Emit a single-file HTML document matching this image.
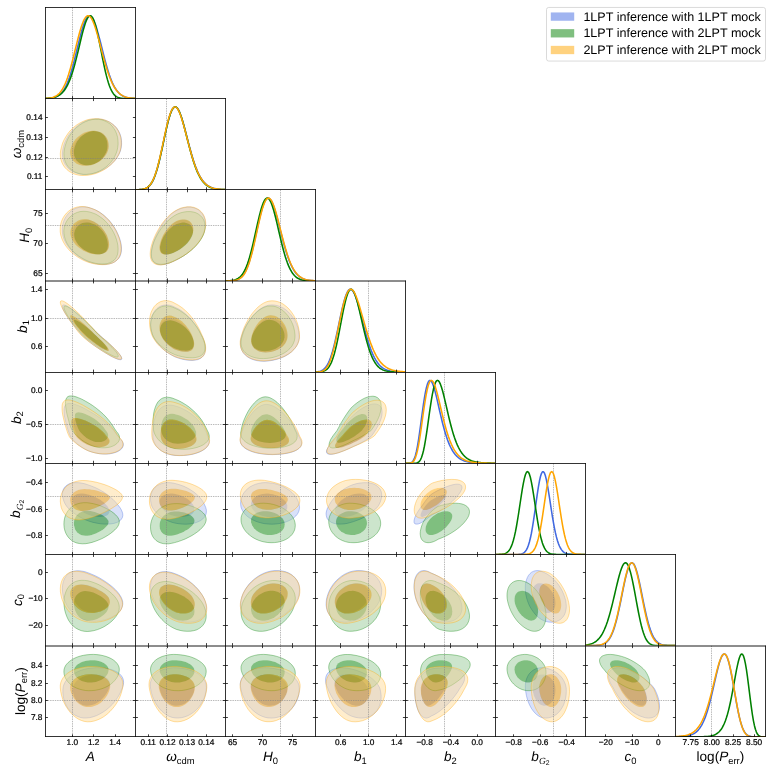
<!DOCTYPE html>
<html><head><meta charset="utf-8"><title>corner plot</title>
<style>html,body{margin:0;padding:0;background:#fff}body{width:773px;height:773px;overflow:hidden}svg{will-change:transform;transform:translateZ(0)}text{text-rendering:geometricPrecision}</style></head>
<body>
<svg width="773" height="773" viewBox="0 0 773 773" style="display:block;font-family:'Liberation Sans',sans-serif">
<rect width="773" height="773" fill="#fff"/>
<defs>
<clipPath id="c00"><rect x="45.40" y="7.40" width="90.00" height="91.17"/></clipPath>
<clipPath id="c10"><rect x="45.40" y="98.58" width="90.00" height="91.17"/></clipPath>
<clipPath id="c11"><rect x="135.40" y="98.58" width="90.00" height="91.17"/></clipPath>
<clipPath id="c20"><rect x="45.40" y="189.75" width="90.00" height="91.17"/></clipPath>
<clipPath id="c21"><rect x="135.40" y="189.75" width="90.00" height="91.17"/></clipPath>
<clipPath id="c22"><rect x="225.40" y="189.75" width="90.00" height="91.17"/></clipPath>
<clipPath id="c30"><rect x="45.40" y="280.92" width="90.00" height="91.17"/></clipPath>
<clipPath id="c31"><rect x="135.40" y="280.92" width="90.00" height="91.17"/></clipPath>
<clipPath id="c32"><rect x="225.40" y="280.92" width="90.00" height="91.17"/></clipPath>
<clipPath id="c33"><rect x="315.40" y="280.92" width="90.00" height="91.17"/></clipPath>
<clipPath id="c40"><rect x="45.40" y="372.10" width="90.00" height="91.17"/></clipPath>
<clipPath id="c41"><rect x="135.40" y="372.10" width="90.00" height="91.17"/></clipPath>
<clipPath id="c42"><rect x="225.40" y="372.10" width="90.00" height="91.17"/></clipPath>
<clipPath id="c43"><rect x="315.40" y="372.10" width="90.00" height="91.17"/></clipPath>
<clipPath id="c44"><rect x="405.40" y="372.10" width="90.00" height="91.17"/></clipPath>
<clipPath id="c50"><rect x="45.40" y="463.27" width="90.00" height="91.17"/></clipPath>
<clipPath id="c51"><rect x="135.40" y="463.27" width="90.00" height="91.17"/></clipPath>
<clipPath id="c52"><rect x="225.40" y="463.27" width="90.00" height="91.17"/></clipPath>
<clipPath id="c53"><rect x="315.40" y="463.27" width="90.00" height="91.17"/></clipPath>
<clipPath id="c54"><rect x="405.40" y="463.27" width="90.00" height="91.17"/></clipPath>
<clipPath id="c55"><rect x="495.40" y="463.27" width="90.00" height="91.17"/></clipPath>
<clipPath id="c60"><rect x="45.40" y="554.45" width="90.00" height="91.17"/></clipPath>
<clipPath id="c61"><rect x="135.40" y="554.45" width="90.00" height="91.17"/></clipPath>
<clipPath id="c62"><rect x="225.40" y="554.45" width="90.00" height="91.17"/></clipPath>
<clipPath id="c63"><rect x="315.40" y="554.45" width="90.00" height="91.17"/></clipPath>
<clipPath id="c64"><rect x="405.40" y="554.45" width="90.00" height="91.17"/></clipPath>
<clipPath id="c65"><rect x="495.40" y="554.45" width="90.00" height="91.17"/></clipPath>
<clipPath id="c66"><rect x="585.40" y="554.45" width="90.00" height="91.17"/></clipPath>
<clipPath id="c70"><rect x="45.40" y="645.62" width="90.00" height="91.17"/></clipPath>
<clipPath id="c71"><rect x="135.40" y="645.62" width="90.00" height="91.17"/></clipPath>
<clipPath id="c72"><rect x="225.40" y="645.62" width="90.00" height="91.17"/></clipPath>
<clipPath id="c73"><rect x="315.40" y="645.62" width="90.00" height="91.17"/></clipPath>
<clipPath id="c74"><rect x="405.40" y="645.62" width="90.00" height="91.17"/></clipPath>
<clipPath id="c75"><rect x="495.40" y="645.62" width="90.00" height="91.17"/></clipPath>
<clipPath id="c76"><rect x="585.40" y="645.62" width="90.00" height="91.17"/></clipPath>
<clipPath id="c77"><rect x="675.40" y="645.62" width="90.00" height="91.17"/></clipPath>
</defs>
<g clip-path="url(#c00)">
<line x1="72.50" x2="72.50" y1="7.40" y2="98.58" stroke="#808080" stroke-width="0.55" stroke-dasharray="1.45 0.9"/>
<path d="M45.40,98.49 46.40,98.46 47.40,98.41 48.40,98.36 49.40,98.28 50.40,98.19 51.40,98.06 52.40,97.90 53.40,97.70 54.40,97.44 55.40,97.12 56.40,96.72 57.40,96.24 58.40,95.65 59.40,94.94 60.40,94.10 61.40,93.09 62.40,91.92 63.40,90.55 64.40,88.98 65.40,87.18 66.40,85.14 67.40,82.86 68.40,80.32 69.40,77.53 70.40,74.48 71.40,71.19 72.40,67.68 73.40,63.97 74.40,60.08 75.40,56.06 76.40,51.95 77.40,47.79 78.40,43.66 79.40,39.59 80.40,35.66 81.40,31.93 82.40,28.46 83.40,25.30 84.40,22.52 85.40,20.16 86.40,18.27 87.40,16.88 88.40,16.02 89.40,15.69 90.40,15.91 91.40,16.66 92.40,17.93 93.40,19.70 94.40,21.91 95.40,24.55 96.40,27.54 97.40,30.85 98.40,34.40 99.40,38.15 100.40,42.04 101.40,46.00 102.40,49.99 103.40,53.95 104.40,57.83 105.40,61.61 106.40,65.23 107.40,68.69 108.40,71.94 109.40,74.98 110.40,77.80 111.40,80.39 112.40,82.75 113.40,84.88 114.40,86.80 115.40,88.51 116.40,90.01 117.40,91.34 118.40,92.49 119.40,93.49 120.40,94.35 121.40,95.08 122.40,95.71 123.40,96.23 124.40,96.67 125.40,97.03 126.40,97.34 127.40,97.59 128.40,97.79 129.40,97.95 130.40,98.09 131.40,98.19 132.40,98.28 133.40,98.34 134.40,98.40 135.40,98.44" fill="none" stroke="rgb(65,105,225)" stroke-width="1.55" stroke-linejoin="round"/>
<path d="M45.40,98.38 46.40,98.33 47.40,98.27 48.40,98.20 49.40,98.10 50.40,97.99 51.40,97.85 52.40,97.68 53.40,97.47 54.40,97.22 55.40,96.92 56.40,96.57 57.40,96.14 58.40,95.63 59.40,95.04 60.40,94.34 61.40,93.52 62.40,92.57 63.40,91.47 64.40,90.21 65.40,88.78 66.40,87.14 67.40,85.30 68.40,83.23 69.40,80.93 70.40,78.39 71.40,75.60 72.40,72.57 73.40,69.29 74.40,65.78 75.40,62.07 76.40,58.17 77.40,54.12 78.40,49.97 79.40,45.76 80.40,41.55 81.40,37.42 82.40,33.43 83.40,29.66 84.40,26.18 85.40,23.09 86.40,20.44 87.40,18.33 88.40,16.80 89.40,15.91 90.40,15.70 91.40,16.20 92.40,17.40 93.40,19.30 94.40,21.86 95.40,25.03 96.40,28.75 97.40,32.94 98.40,37.51 99.40,42.35 100.40,47.37 101.40,52.45 102.40,57.50 103.40,62.42 104.40,67.13 105.40,71.57 106.40,75.67 107.40,79.40 108.40,82.74 109.40,85.68 110.40,88.23 111.40,90.39 112.40,92.20 113.40,93.68 114.40,94.88 115.40,95.83 116.40,96.58 117.40,97.14 118.40,97.57 119.40,97.88 120.40,98.10 121.40,98.26 122.40,98.37 123.40,98.45 124.40,98.49 125.40,98.53 126.40,98.55 127.40,98.56 128.40,98.57 129.40,98.57 130.40,98.57 131.40,98.57 132.40,98.57 133.40,98.57 134.40,98.57 135.40,98.57" fill="none" stroke="rgb(0,128,0)" stroke-width="1.55" stroke-linejoin="round"/>
<path d="M45.40,98.42 46.40,98.37 47.40,98.30 48.40,98.20 49.40,98.08 50.40,97.92 51.40,97.73 52.40,97.47 53.40,97.16 54.40,96.77 55.40,96.30 56.40,95.72 57.40,95.03 58.40,94.20 59.40,93.22 60.40,92.07 61.40,90.73 62.40,89.19 63.40,87.43 64.40,85.44 65.40,83.21 66.40,80.73 67.40,78.01 68.40,75.04 69.40,71.83 70.40,68.41 71.40,64.78 72.40,60.99 73.40,57.06 74.40,53.04 75.40,48.97 76.40,44.90 77.40,40.89 78.40,36.99 79.40,33.27 80.40,29.77 81.40,26.56 82.40,23.69 83.40,21.20 84.40,19.14 85.40,17.54 86.40,16.43 87.40,15.81 88.40,15.71 89.40,16.12 90.40,17.02 91.40,18.40 92.40,20.22 93.40,22.46 94.40,25.07 95.40,28.01 96.40,31.22 97.40,34.65 98.40,38.26 99.40,41.99 100.40,45.78 101.40,49.59 102.40,53.38 103.40,57.11 104.40,60.73 105.40,64.23 106.40,67.57 107.40,70.74 108.40,73.71 109.40,76.48 110.40,79.05 111.40,81.40 112.40,83.55 113.40,85.50 114.40,87.26 115.40,88.82 116.40,90.21 117.40,91.44 118.40,92.52 119.40,93.46 120.40,94.28 121.40,94.98 122.40,95.58 123.40,96.09 124.40,96.53 125.40,96.89 126.40,97.20 127.40,97.46 128.40,97.67 129.40,97.85 130.40,97.99 131.40,98.11 132.40,98.20 133.40,98.28 134.40,98.34 135.40,98.39" fill="none" stroke="rgb(255,165,0)" stroke-width="1.55" stroke-linejoin="round"/>
</g>
<g clip-path="url(#c10)">
<path d="M114.6,125.8 116.8,128.2 118.6,131.0 120.0,134.0 121.0,137.2 121.5,140.6 121.6,144.1 121.2,147.7 120.4,151.0 119.1,154.0 117.4,157.0 115.4,159.9 112.9,162.6 110.2,165.1 107.1,167.3 103.8,169.3 100.3,171.0 96.7,172.4 93.0,173.4 89.4,174.1 86.0,174.4 82.7,174.4 79.5,173.9 76.5,173.1 73.6,172.0 71.0,170.5 68.7,168.7 66.8,166.6 65.1,164.3 63.8,161.7 63.0,158.9 62.5,156.0 62.4,153.0 62.8,150.0 63.5,146.5 64.6,142.9 66.2,139.5 68.0,136.1 70.2,133.0 72.7,130.0 75.5,127.4 78.5,125.0 81.6,123.0 84.9,121.4 88.2,120.2 91.8,119.4 95.5,119.1 99.2,119.1 102.7,119.6 106.0,120.6 109.2,121.9 112.0,123.7Z M104.3,135.1 105.5,136.6 106.6,138.2 107.4,140.0 107.9,141.9 108.2,144.0 108.3,146.1 108.1,148.2 107.6,150.2 106.9,152.2 105.9,154.1 104.7,156.0 103.3,157.7 101.8,159.3 100.0,160.8 98.1,162.0 96.1,163.1 94.1,164.0 91.9,164.7 89.8,165.1 87.6,165.3 85.5,165.3 83.4,165.0 81.5,164.5 79.7,163.8 78.0,162.8 76.6,161.6 75.3,160.3 74.2,158.8 73.4,157.1 72.9,155.4 72.6,153.5 72.5,151.6 72.7,149.6 73.2,147.5 73.9,145.4 74.9,143.3 76.1,141.3 77.5,139.4 79.1,137.6 80.9,136.1 82.8,134.7 84.8,133.5 86.9,132.5 89.1,131.8 91.2,131.3 93.4,131.1 95.5,131.2 97.5,131.5 99.4,132.0 101.2,132.8 102.8,133.9Z" fill="rgb(179,195,243)" fill-opacity="0.5" fill-rule="evenodd"/>
<path d="M104.3,135.1 105.5,136.6 106.6,138.2 107.4,140.0 107.9,141.9 108.2,144.0 108.3,146.1 108.1,148.2 107.6,150.2 106.9,152.2 105.9,154.1 104.7,156.0 103.3,157.7 101.8,159.3 100.0,160.8 98.1,162.0 96.1,163.1 94.1,164.0 91.9,164.7 89.8,165.1 87.6,165.3 85.5,165.3 83.4,165.0 81.5,164.5 79.7,163.8 78.0,162.8 76.6,161.6 75.3,160.3 74.2,158.8 73.4,157.1 72.9,155.4 72.6,153.5 72.5,151.6 72.7,149.6 73.2,147.5 73.9,145.4 74.9,143.3 76.1,141.3 77.5,139.4 79.1,137.6 80.9,136.1 82.8,134.7 84.8,133.5 86.9,132.5 89.1,131.8 91.2,131.3 93.4,131.1 95.5,131.2 97.5,131.5 99.4,132.0 101.2,132.8 102.8,133.9Z" fill="rgb(65,105,225)" fill-opacity="0.5"/>
<path d="M114.6,125.8 116.8,128.2 118.6,131.0 120.0,134.0 121.0,137.2 121.5,140.6 121.6,144.1 121.2,147.7 120.4,151.0 119.1,154.0 117.4,157.0 115.4,159.9 112.9,162.6 110.2,165.1 107.1,167.3 103.8,169.3 100.3,171.0 96.7,172.4 93.0,173.4 89.4,174.1 86.0,174.4 82.7,174.4 79.5,173.9 76.5,173.1 73.6,172.0 71.0,170.5 68.7,168.7 66.8,166.6 65.1,164.3 63.8,161.7 63.0,158.9 62.5,156.0 62.4,153.0 62.8,150.0 63.5,146.5 64.6,142.9 66.2,139.5 68.0,136.1 70.2,133.0 72.7,130.0 75.5,127.4 78.5,125.0 81.6,123.0 84.9,121.4 88.2,120.2 91.8,119.4 95.5,119.1 99.2,119.1 102.7,119.6 106.0,120.6 109.2,121.9 112.0,123.7Z" fill="none" stroke="rgb(65,105,225)" stroke-opacity="0.50" stroke-width="0.7"/>
<path d="M112.0,125.9 113.9,128.4 115.5,131.1 116.7,134.1 117.6,137.3 118.0,140.7 118.1,144.2 117.7,147.7 117.0,151.0 115.9,154.0 114.5,157.0 112.7,159.9 110.5,162.6 108.1,165.1 105.5,167.3 102.6,169.3 99.6,171.0 96.4,172.4 93.2,173.4 89.9,174.1 86.7,174.4 83.5,174.4 80.4,173.9 77.5,173.1 74.7,172.0 72.2,170.5 70.0,168.7 68.1,166.6 66.5,164.3 65.3,161.7 64.4,158.9 64.0,156.0 63.9,153.0 64.3,150.0 65.0,146.5 66.1,143.0 67.5,139.5 69.3,136.2 71.5,133.1 73.9,130.2 76.5,127.5 79.4,125.2 82.4,123.2 85.6,121.6 88.8,120.4 92.1,119.6 95.3,119.3 98.5,119.3 101.6,119.8 104.5,120.8 107.3,122.1 109.8,123.8Z M103.7,135.1 104.9,136.6 105.8,138.2 106.6,140.0 107.1,141.9 107.3,144.0 107.4,146.1 107.2,148.2 106.8,150.2 106.1,152.2 105.2,154.1 104.1,155.9 102.8,157.6 101.4,159.2 99.8,160.7 98.0,162.0 96.2,163.0 94.3,163.9 92.3,164.6 90.3,165.0 88.3,165.2 86.2,165.2 84.3,164.9 82.5,164.4 80.7,163.7 79.2,162.7 77.8,161.6 76.5,160.2 75.6,158.7 74.8,157.1 74.2,155.3 74.0,153.5 73.9,151.5 74.1,149.6 74.6,147.5 75.3,145.4 76.2,143.3 77.3,141.3 78.7,139.4 80.2,137.6 81.9,136.1 83.7,134.7 85.6,133.5 87.6,132.5 89.6,131.8 91.7,131.3 93.6,131.1 95.6,131.2 97.4,131.5 99.2,132.0 100.9,132.8 102.4,133.9Z" fill="rgb(153,204,153)" fill-opacity="0.5" fill-rule="evenodd"/>
<path d="M103.7,135.1 104.9,136.6 105.8,138.2 106.6,140.0 107.1,141.9 107.3,144.0 107.4,146.1 107.2,148.2 106.8,150.2 106.1,152.2 105.2,154.1 104.1,155.9 102.8,157.6 101.4,159.2 99.8,160.7 98.0,162.0 96.2,163.0 94.3,163.9 92.3,164.6 90.3,165.0 88.3,165.2 86.2,165.2 84.3,164.9 82.5,164.4 80.7,163.7 79.2,162.7 77.8,161.6 76.5,160.2 75.6,158.7 74.8,157.1 74.2,155.3 74.0,153.5 73.9,151.5 74.1,149.6 74.6,147.5 75.3,145.4 76.2,143.3 77.3,141.3 78.7,139.4 80.2,137.6 81.9,136.1 83.7,134.7 85.6,133.5 87.6,132.5 89.6,131.8 91.7,131.3 93.6,131.1 95.6,131.2 97.4,131.5 99.2,132.0 100.9,132.8 102.4,133.9Z" fill="rgb(0,128,0)" fill-opacity="0.5"/>
<path d="M112.0,125.9 113.9,128.4 115.5,131.1 116.7,134.1 117.6,137.3 118.0,140.7 118.1,144.2 117.7,147.7 117.0,151.0 115.9,154.0 114.5,157.0 112.7,159.9 110.5,162.6 108.1,165.1 105.5,167.3 102.6,169.3 99.6,171.0 96.4,172.4 93.2,173.4 89.9,174.1 86.7,174.4 83.5,174.4 80.4,173.9 77.5,173.1 74.7,172.0 72.2,170.5 70.0,168.7 68.1,166.6 66.5,164.3 65.3,161.7 64.4,158.9 64.0,156.0 63.9,153.0 64.3,150.0 65.0,146.5 66.1,143.0 67.5,139.5 69.3,136.2 71.5,133.1 73.9,130.2 76.5,127.5 79.4,125.2 82.4,123.2 85.6,121.6 88.8,120.4 92.1,119.6 95.3,119.3 98.5,119.3 101.6,119.8 104.5,120.8 107.3,122.1 109.8,123.8Z" fill="none" stroke="rgb(0,128,0)" stroke-opacity="0.50" stroke-width="0.7"/>
<path d="M114.1,125.5 116.4,128.0 118.2,130.8 119.7,133.9 120.7,137.2 121.2,140.6 121.3,144.2 120.9,147.9 120.0,151.3 118.8,154.4 117.0,157.5 114.9,160.5 112.4,163.3 109.6,165.8 106.5,168.2 103.1,170.3 99.6,172.0 95.9,173.5 92.1,174.5 88.3,175.2 84.8,175.5 81.4,175.5 78.1,175.0 74.9,174.2 72.0,173.0 69.3,171.5 66.9,169.6 64.8,167.4 63.1,165.0 61.8,162.3 60.9,159.5 60.4,156.5 60.3,153.4 60.7,150.2 61.5,146.7 62.6,143.0 64.2,139.5 66.2,136.1 68.4,132.8 71.0,129.8 73.9,127.1 77.0,124.7 80.3,122.7 83.7,121.1 87.1,119.8 90.8,119.0 94.6,118.7 98.3,118.7 102.0,119.2 105.4,120.2 108.6,121.6 111.5,123.4Z M104.4,134.9 105.7,136.4 106.8,138.1 107.7,140.0 108.3,141.9 108.6,144.0 108.7,146.2 108.5,148.4 107.9,150.5 107.2,152.5 106.1,154.4 104.8,156.3 103.3,158.1 101.6,159.7 99.8,161.2 97.7,162.5 95.6,163.6 93.3,164.5 91.0,165.2 88.7,165.6 86.4,165.8 84.1,165.8 81.9,165.5 79.9,165.0 77.9,164.2 76.1,163.3 74.6,162.1 73.2,160.7 72.1,159.2 71.2,157.5 70.6,155.7 70.3,153.8 70.2,151.8 70.4,149.8 71.0,147.7 71.7,145.5 72.8,143.3 74.1,141.3 75.6,139.3 77.3,137.5 79.2,135.9 81.2,134.5 83.4,133.2 85.6,132.3 87.9,131.5 90.3,131.0 92.6,130.8 94.8,130.8 97.0,131.2 99.1,131.7 101.0,132.6 102.8,133.6Z" fill="rgb(255,219,153)" fill-opacity="0.5" fill-rule="evenodd"/>
<path d="M104.4,134.9 105.7,136.4 106.8,138.1 107.7,140.0 108.3,141.9 108.6,144.0 108.7,146.2 108.5,148.4 107.9,150.5 107.2,152.5 106.1,154.4 104.8,156.3 103.3,158.1 101.6,159.7 99.8,161.2 97.7,162.5 95.6,163.6 93.3,164.5 91.0,165.2 88.7,165.6 86.4,165.8 84.1,165.8 81.9,165.5 79.9,165.0 77.9,164.2 76.1,163.3 74.6,162.1 73.2,160.7 72.1,159.2 71.2,157.5 70.6,155.7 70.3,153.8 70.2,151.8 70.4,149.8 71.0,147.7 71.7,145.5 72.8,143.3 74.1,141.3 75.6,139.3 77.3,137.5 79.2,135.9 81.2,134.5 83.4,133.2 85.6,132.3 87.9,131.5 90.3,131.0 92.6,130.8 94.8,130.8 97.0,131.2 99.1,131.7 101.0,132.6 102.8,133.6Z" fill="rgb(255,165,0)" fill-opacity="0.5"/>
<path d="M114.1,125.5 116.4,128.0 118.2,130.8 119.7,133.9 120.7,137.2 121.2,140.6 121.3,144.2 120.9,147.9 120.0,151.3 118.8,154.4 117.0,157.5 114.9,160.5 112.4,163.3 109.6,165.8 106.5,168.2 103.1,170.3 99.6,172.0 95.9,173.5 92.1,174.5 88.3,175.2 84.8,175.5 81.4,175.5 78.1,175.0 74.9,174.2 72.0,173.0 69.3,171.5 66.9,169.6 64.8,167.4 63.1,165.0 61.8,162.3 60.9,159.5 60.4,156.5 60.3,153.4 60.7,150.2 61.5,146.7 62.6,143.0 64.2,139.5 66.2,136.1 68.4,132.8 71.0,129.8 73.9,127.1 77.0,124.7 80.3,122.7 83.7,121.1 87.1,119.8 90.8,119.0 94.6,118.7 98.3,118.7 102.0,119.2 105.4,120.2 108.6,121.6 111.5,123.4Z" fill="none" stroke="rgb(255,165,0)" stroke-opacity="0.50" stroke-width="0.7"/>
<line x1="72.50" x2="72.50" y1="98.58" y2="189.75" stroke="#808080" stroke-width="0.55" stroke-dasharray="1.45 0.9"/>
<line x1="45.40" x2="135.40" y1="158.50" y2="158.50" stroke="#808080" stroke-width="0.55" stroke-dasharray="1.45 0.9"/>
</g>
<g clip-path="url(#c11)">
<line x1="166.50" x2="166.50" y1="98.58" y2="189.75" stroke="#808080" stroke-width="0.55" stroke-dasharray="1.45 0.9"/>
<path d="M135.40,189.73 136.40,189.72 137.40,189.71 138.40,189.68 139.40,189.64 140.40,189.58 141.40,189.49 142.40,189.36 143.40,189.18 144.40,188.93 145.40,188.59 146.40,188.15 147.40,187.57 148.40,186.83 149.40,185.89 150.40,184.73 151.40,183.32 152.40,181.62 153.40,179.61 154.40,177.27 155.40,174.59 156.40,171.55 157.40,168.17 158.40,164.46 159.40,160.45 160.40,156.17 161.40,151.69 162.40,147.05 163.40,142.33 164.40,137.60 165.40,132.96 166.40,128.47 167.40,124.23 168.40,120.32 169.40,116.80 170.40,113.75 171.40,111.21 172.40,109.23 173.40,107.84 174.40,107.06 175.40,106.88 176.40,107.29 177.40,108.27 178.40,109.79 179.40,111.80 180.40,114.25 181.40,117.09 182.40,120.25 183.40,123.67 184.40,127.29 185.40,131.05 186.40,134.89 187.40,138.76 188.40,142.60 189.40,146.39 190.40,150.07 191.40,153.62 192.40,157.01 193.40,160.22 194.40,163.24 195.40,166.06 196.40,168.67 197.40,171.07 198.40,173.27 199.40,175.27 200.40,177.08 201.40,178.71 202.40,180.16 203.40,181.45 204.40,182.60 205.40,183.61 206.40,184.49 207.40,185.27 208.40,185.94 209.40,186.52 210.40,187.02 211.40,187.45 212.40,187.82 213.40,188.14 214.40,188.40 215.40,188.63 216.40,188.82 217.40,188.98 218.40,189.12 219.40,189.23 220.40,189.32 221.40,189.40 222.40,189.46 223.40,189.52 224.40,189.56 225.40,189.60" fill="none" stroke="rgb(65,105,225)" stroke-width="1.55" stroke-linejoin="round"/>
<path d="M135.40,189.73 136.40,189.71 137.40,189.69 138.40,189.66 139.40,189.61 140.40,189.53 141.40,189.43 142.40,189.29 143.40,189.09 144.40,188.82 145.40,188.46 146.40,187.99 147.40,187.39 148.40,186.62 149.40,185.67 150.40,184.49 151.40,183.06 152.40,181.35 153.40,179.34 154.40,177.01 155.40,174.34 156.40,171.33 157.40,167.98 158.40,164.31 159.40,160.34 160.40,156.10 161.40,151.66 162.40,147.06 163.40,142.37 164.40,137.67 165.40,133.05 166.40,128.57 167.40,124.34 168.40,120.41 169.40,116.89 170.40,113.81 171.40,111.26 172.40,109.26 173.40,107.86 174.40,107.06 175.40,106.88 176.40,107.30 177.40,108.30 178.40,109.85 179.40,111.90 180.40,114.41 181.40,117.30 182.40,120.54 183.40,124.04 184.40,127.74 185.40,131.59 186.40,135.51 187.40,139.46 188.40,143.39 189.40,147.24 190.40,150.98 191.40,154.58 192.40,158.01 193.40,161.25 194.40,164.28 195.40,167.10 196.40,169.71 197.40,172.10 198.40,174.27 199.40,176.24 200.40,178.01 201.40,179.59 202.40,180.99 203.40,182.24 204.40,183.33 205.40,184.28 206.40,185.11 207.40,185.83 208.40,186.45 209.40,186.99 210.40,187.44 211.40,187.83 212.40,188.15 213.40,188.43 214.40,188.66 215.40,188.86 216.40,189.02 217.40,189.15 218.40,189.26 219.40,189.36 220.40,189.43 221.40,189.49 222.40,189.54 223.40,189.58 224.40,189.62 225.40,189.64" fill="none" stroke="rgb(0,128,0)" stroke-width="1.55" stroke-linejoin="round"/>
<path d="M135.40,189.73 136.40,189.72 137.40,189.70 138.40,189.67 139.40,189.63 140.40,189.56 141.40,189.46 142.40,189.33 143.40,189.13 144.40,188.87 145.40,188.51 146.40,188.04 147.40,187.43 148.40,186.66 149.40,185.68 150.40,184.47 151.40,183.00 152.40,181.24 153.40,179.17 154.40,176.76 155.40,174.01 156.40,170.90 157.40,167.46 158.40,163.68 159.40,159.61 160.40,155.29 161.40,150.77 162.40,146.11 163.40,141.38 164.40,136.66 165.40,132.04 166.40,127.60 167.40,123.42 168.40,119.58 169.40,116.15 170.40,113.20 171.40,110.77 172.40,108.91 173.40,107.64 174.40,106.97 175.40,106.91 176.40,107.44 177.40,108.53 178.40,110.16 179.40,112.26 180.40,114.79 181.40,117.70 182.40,120.91 183.40,124.38 184.40,128.03 185.40,131.81 186.40,135.66 187.40,139.53 188.40,143.37 189.40,147.13 190.40,150.79 191.40,154.31 192.40,157.66 193.40,160.84 194.40,163.82 195.40,166.59 196.40,169.16 197.40,171.53 198.40,173.69 199.40,175.65 200.40,177.42 201.40,179.01 202.40,180.43 203.40,181.69 204.40,182.81 205.40,183.80 206.40,184.66 207.40,185.41 208.40,186.06 209.40,186.63 210.40,187.12 211.40,187.53 212.40,187.89 213.40,188.19 214.40,188.45 215.40,188.67 216.40,188.86 217.40,189.01 218.40,189.14 219.40,189.25 220.40,189.34 221.40,189.41 222.40,189.48 223.40,189.53 224.40,189.57 225.40,189.60" fill="none" stroke="rgb(255,165,0)" stroke-width="1.55" stroke-linejoin="round"/>
</g>
<g clip-path="url(#c20)">
<path d="M109.2,220.5 111.9,223.8 114.3,227.3 116.4,230.9 118.1,234.6 119.5,238.2 120.6,241.7 121.2,245.0 121.5,248.2 121.4,251.2 120.8,253.9 119.9,256.4 118.6,258.5 116.8,260.3 114.7,261.8 112.3,263.0 109.4,263.8 106.3,264.3 102.9,264.4 99.2,264.2 95.4,263.6 91.4,262.7 87.8,261.5 84.5,260.0 81.1,258.1 77.9,256.1 74.8,253.7 72.0,251.1 69.4,248.3 67.2,245.3 65.4,242.2 63.9,239.0 62.9,235.6 62.4,232.1 62.3,228.6 62.7,225.2 63.5,221.9 64.7,218.9 66.4,216.0 68.4,213.5 70.7,211.3 73.3,209.5 76.2,208.2 79.2,207.3 82.3,206.9 85.5,207.0 88.8,207.6 92.2,208.7 96.0,210.2 99.6,212.2 103.0,214.6 106.2,217.4Z M101.5,227.6 103.1,229.5 104.5,231.5 105.7,233.6 106.8,235.8 107.6,237.9 108.2,240.1 108.6,242.2 108.7,244.2 108.7,246.0 108.3,247.7 107.8,249.3 107.0,250.6 106.0,251.8 104.8,252.7 103.3,253.4 101.6,253.9 99.8,254.2 97.8,254.3 95.6,254.1 93.4,253.8 91.0,253.2 88.8,252.5 86.7,251.5 84.6,250.4 82.6,249.1 80.7,247.6 78.9,246.0 77.3,244.2 75.9,242.4 74.7,240.4 73.8,238.4 73.2,236.4 72.9,234.3 72.8,232.3 73.0,230.3 73.6,228.4 74.3,226.6 75.4,225.0 76.6,223.5 78.1,222.2 79.7,221.2 81.5,220.4 83.4,219.9 85.4,219.7 87.4,219.7 89.4,220.1 91.5,220.7 93.7,221.6 95.8,222.8 97.9,224.2 99.7,225.8Z" fill="rgb(179,195,243)" fill-opacity="0.5" fill-rule="evenodd"/>
<path d="M101.5,227.6 103.1,229.5 104.5,231.5 105.7,233.6 106.8,235.8 107.6,237.9 108.2,240.1 108.6,242.2 108.7,244.2 108.7,246.0 108.3,247.7 107.8,249.3 107.0,250.6 106.0,251.8 104.8,252.7 103.3,253.4 101.6,253.9 99.8,254.2 97.8,254.3 95.6,254.1 93.4,253.8 91.0,253.2 88.8,252.5 86.7,251.5 84.6,250.4 82.6,249.1 80.7,247.6 78.9,246.0 77.3,244.2 75.9,242.4 74.7,240.4 73.8,238.4 73.2,236.4 72.9,234.3 72.8,232.3 73.0,230.3 73.6,228.4 74.3,226.6 75.4,225.0 76.6,223.5 78.1,222.2 79.7,221.2 81.5,220.4 83.4,219.9 85.4,219.7 87.4,219.7 89.4,220.1 91.5,220.7 93.7,221.6 95.8,222.8 97.9,224.2 99.7,225.8Z" fill="rgb(65,105,225)" fill-opacity="0.5"/>
<path d="M109.2,220.5 111.9,223.8 114.3,227.3 116.4,230.9 118.1,234.6 119.5,238.2 120.6,241.7 121.2,245.0 121.5,248.2 121.4,251.2 120.8,253.9 119.9,256.4 118.6,258.5 116.8,260.3 114.7,261.8 112.3,263.0 109.4,263.8 106.3,264.3 102.9,264.4 99.2,264.2 95.4,263.6 91.4,262.7 87.8,261.5 84.5,260.0 81.1,258.1 77.9,256.1 74.8,253.7 72.0,251.1 69.4,248.3 67.2,245.3 65.4,242.2 63.9,239.0 62.9,235.6 62.4,232.1 62.3,228.6 62.7,225.2 63.5,221.9 64.7,218.9 66.4,216.0 68.4,213.5 70.7,211.3 73.3,209.5 76.2,208.2 79.2,207.3 82.3,206.9 85.5,207.0 88.8,207.6 92.2,208.7 96.0,210.2 99.6,212.2 103.0,214.6 106.2,217.4Z" fill="none" stroke="rgb(65,105,225)" stroke-opacity="0.50" stroke-width="0.7"/>
<path d="M107.4,223.4 109.7,226.3 111.9,229.4 113.7,232.6 115.2,235.9 116.4,239.2 117.3,242.5 117.9,245.7 118.1,248.7 118.0,251.5 117.6,254.1 116.8,256.4 115.6,258.5 114.1,260.2 112.2,261.6 110.1,262.7 107.6,263.5 104.8,263.9 101.8,264.0 98.6,263.8 95.3,263.3 91.8,262.4 88.4,261.3 85.2,259.8 82.0,258.1 78.8,256.1 75.9,253.9 73.2,251.4 70.7,248.8 68.6,246.0 66.8,243.0 65.4,239.9 64.5,236.8 63.9,233.7 63.8,230.6 64.2,227.6 65.0,224.7 66.2,221.9 67.8,219.4 69.7,217.2 72.0,215.2 74.5,213.6 77.2,212.4 80.1,211.6 83.1,211.3 86.2,211.4 89.3,211.9 92.5,212.9 95.8,214.2 98.9,216.0 102.0,218.2 104.8,220.6Z M101.2,229.6 102.7,231.3 104.0,233.1 105.1,235.0 106.1,237.0 106.8,238.9 107.4,241.0 107.7,242.9 107.9,244.8 107.8,246.5 107.5,248.2 107.0,249.6 106.3,250.9 105.4,251.9 104.2,252.8 102.9,253.5 101.3,254.0 99.6,254.3 97.7,254.3 95.7,254.2 93.7,253.8 91.5,253.3 89.4,252.6 87.4,251.7 85.4,250.6 83.5,249.4 81.7,248.0 80.0,246.5 78.5,244.9 77.2,243.1 76.1,241.3 75.2,239.4 74.6,237.5 74.3,235.7 74.2,233.8 74.5,232.1 75.0,230.3 75.7,228.7 76.7,227.2 77.9,225.9 79.3,224.8 80.8,223.8 82.5,223.1 84.3,222.7 86.1,222.5 88.0,222.5 90.0,222.8 91.9,223.4 94.0,224.2 95.9,225.2 97.8,226.5 99.6,228.0Z" fill="rgb(153,204,153)" fill-opacity="0.5" fill-rule="evenodd"/>
<path d="M101.2,229.6 102.7,231.3 104.0,233.1 105.1,235.0 106.1,237.0 106.8,238.9 107.4,241.0 107.7,242.9 107.9,244.8 107.8,246.5 107.5,248.2 107.0,249.6 106.3,250.9 105.4,251.9 104.2,252.8 102.9,253.5 101.3,254.0 99.6,254.3 97.7,254.3 95.7,254.2 93.7,253.8 91.5,253.3 89.4,252.6 87.4,251.7 85.4,250.6 83.5,249.4 81.7,248.0 80.0,246.5 78.5,244.9 77.2,243.1 76.1,241.3 75.2,239.4 74.6,237.5 74.3,235.7 74.2,233.8 74.5,232.1 75.0,230.3 75.7,228.7 76.7,227.2 77.9,225.9 79.3,224.8 80.8,223.8 82.5,223.1 84.3,222.7 86.1,222.5 88.0,222.5 90.0,222.8 91.9,223.4 94.0,224.2 95.9,225.2 97.8,226.5 99.6,228.0Z" fill="rgb(0,128,0)" fill-opacity="0.5"/>
<path d="M107.4,223.4 109.7,226.3 111.9,229.4 113.7,232.6 115.2,235.9 116.4,239.2 117.3,242.5 117.9,245.7 118.1,248.7 118.0,251.5 117.6,254.1 116.8,256.4 115.6,258.5 114.1,260.2 112.2,261.6 110.1,262.7 107.6,263.5 104.8,263.9 101.8,264.0 98.6,263.8 95.3,263.3 91.8,262.4 88.4,261.3 85.2,259.8 82.0,258.1 78.8,256.1 75.9,253.9 73.2,251.4 70.7,248.8 68.6,246.0 66.8,243.0 65.4,239.9 64.5,236.8 63.9,233.7 63.8,230.6 64.2,227.6 65.0,224.7 66.2,221.9 67.8,219.4 69.7,217.2 72.0,215.2 74.5,213.6 77.2,212.4 80.1,211.6 83.1,211.3 86.2,211.4 89.3,211.9 92.5,212.9 95.8,214.2 98.9,216.0 102.0,218.2 104.8,220.6Z" fill="none" stroke="rgb(0,128,0)" stroke-opacity="0.50" stroke-width="0.7"/>
<path d="M108.6,220.1 111.4,223.5 113.8,227.0 116.0,230.7 117.7,234.4 119.2,238.0 120.2,241.6 120.9,245.0 121.2,248.2 121.0,251.2 120.5,254.0 119.5,256.5 118.2,258.7 116.4,260.6 114.3,262.1 111.7,263.3 108.8,264.1 105.6,264.6 102.1,264.7 98.4,264.4 94.5,263.9 90.4,262.9 86.7,261.7 83.2,260.2 79.7,258.3 76.4,256.2 73.2,253.8 70.2,251.2 67.6,248.3 65.3,245.3 63.4,242.1 61.9,238.8 60.8,235.4 60.2,231.8 60.2,228.3 60.5,224.9 61.4,221.6 62.7,218.5 64.4,215.7 66.5,213.1 68.9,210.9 71.6,209.1 74.6,207.8 77.7,206.9 81.0,206.5 84.3,206.6 87.7,207.2 91.3,208.3 95.1,209.8 98.8,211.8 102.3,214.3 105.6,217.1Z M101.3,227.2 103.0,229.2 104.5,231.3 105.9,233.4 107.0,235.6 107.8,237.8 108.5,240.0 108.9,242.1 109.1,244.1 109.0,246.0 108.7,247.8 108.1,249.3 107.2,250.7 106.1,251.9 104.8,252.8 103.2,253.6 101.5,254.1 99.5,254.4 97.3,254.5 95.0,254.3 92.6,254.0 90.1,253.4 87.7,252.6 85.4,251.6 83.2,250.5 81.0,249.1 78.9,247.6 77.0,246.0 75.3,244.2 73.8,242.3 72.5,240.3 71.6,238.2 70.9,236.1 70.5,234.1 70.5,232.0 70.7,230.0 71.3,228.1 72.1,226.3 73.2,224.6 74.6,223.1 76.2,221.9 77.9,220.8 79.8,220.0 81.9,219.5 84.0,219.2 86.1,219.3 88.3,219.6 90.6,220.3 93.0,221.2 95.2,222.4 97.4,223.8 99.4,225.4Z" fill="rgb(255,219,153)" fill-opacity="0.5" fill-rule="evenodd"/>
<path d="M101.3,227.2 103.0,229.2 104.5,231.3 105.9,233.4 107.0,235.6 107.8,237.8 108.5,240.0 108.9,242.1 109.1,244.1 109.0,246.0 108.7,247.8 108.1,249.3 107.2,250.7 106.1,251.9 104.8,252.8 103.2,253.6 101.5,254.1 99.5,254.4 97.3,254.5 95.0,254.3 92.6,254.0 90.1,253.4 87.7,252.6 85.4,251.6 83.2,250.5 81.0,249.1 78.9,247.6 77.0,246.0 75.3,244.2 73.8,242.3 72.5,240.3 71.6,238.2 70.9,236.1 70.5,234.1 70.5,232.0 70.7,230.0 71.3,228.1 72.1,226.3 73.2,224.6 74.6,223.1 76.2,221.9 77.9,220.8 79.8,220.0 81.9,219.5 84.0,219.2 86.1,219.3 88.3,219.6 90.6,220.3 93.0,221.2 95.2,222.4 97.4,223.8 99.4,225.4Z" fill="rgb(255,165,0)" fill-opacity="0.5"/>
<path d="M108.6,220.1 111.4,223.5 113.8,227.0 116.0,230.7 117.7,234.4 119.2,238.0 120.2,241.6 120.9,245.0 121.2,248.2 121.0,251.2 120.5,254.0 119.5,256.5 118.2,258.7 116.4,260.6 114.3,262.1 111.7,263.3 108.8,264.1 105.6,264.6 102.1,264.7 98.4,264.4 94.5,263.9 90.4,262.9 86.7,261.7 83.2,260.2 79.7,258.3 76.4,256.2 73.2,253.8 70.2,251.2 67.6,248.3 65.3,245.3 63.4,242.1 61.9,238.8 60.8,235.4 60.2,231.8 60.2,228.3 60.5,224.9 61.4,221.6 62.7,218.5 64.4,215.7 66.5,213.1 68.9,210.9 71.6,209.1 74.6,207.8 77.7,206.9 81.0,206.5 84.3,206.6 87.7,207.2 91.3,208.3 95.1,209.8 98.8,211.8 102.3,214.3 105.6,217.1Z" fill="none" stroke="rgb(255,165,0)" stroke-opacity="0.50" stroke-width="0.7"/>
<line x1="72.50" x2="72.50" y1="189.75" y2="280.93" stroke="#808080" stroke-width="0.55" stroke-dasharray="1.45 0.9"/>
<line x1="45.40" x2="135.40" y1="225.50" y2="225.50" stroke="#808080" stroke-width="0.55" stroke-dasharray="1.45 0.9"/>
</g>
<g clip-path="url(#c21)">
<path d="M200.7,211.9 202.5,214.0 203.8,216.5 204.8,219.3 205.3,222.4 205.3,225.6 204.8,228.9 203.9,232.3 202.5,235.8 200.6,239.1 198.4,242.3 195.8,245.4 192.9,248.4 189.8,251.2 186.4,253.8 182.9,256.2 179.3,258.3 175.7,260.2 172.5,261.7 169.5,263.0 166.5,263.9 163.8,264.4 161.2,264.7 158.9,264.5 156.9,264.0 155.2,263.2 153.7,261.9 152.6,260.3 151.8,258.4 151.4,256.1 151.3,253.6 151.5,250.8 152.0,247.7 152.8,244.4 153.9,241.0 155.3,237.5 157.0,233.8 158.9,230.1 161.0,226.5 163.4,223.1 165.9,219.8 168.5,216.9 171.3,214.2 174.2,211.9 177.4,210.1 180.7,208.6 184.1,207.7 187.3,207.2 190.5,207.2 193.4,207.7 196.1,208.7 198.6,210.0Z M190.3,222.5 191.4,223.8 192.2,225.3 192.7,226.9 193.0,228.7 193.0,230.5 192.7,232.5 192.2,234.5 191.4,236.5 190.3,238.5 189.0,240.5 187.5,242.4 185.8,244.3 183.9,246.1 182.0,247.7 179.9,249.2 177.8,250.5 175.7,251.6 173.7,252.6 171.7,253.4 169.8,254.0 168.0,254.3 166.4,254.5 164.9,254.4 163.6,254.1 162.5,253.5 161.6,252.7 160.9,251.8 160.4,250.5 160.1,249.1 160.0,247.5 160.1,245.8 160.5,243.8 161.0,241.8 161.7,239.7 162.6,237.5 163.7,235.3 164.9,233.2 166.3,231.1 167.8,229.1 169.4,227.2 171.1,225.5 172.9,223.9 174.7,222.6 176.7,221.5 178.6,220.7 180.6,220.1 182.5,219.8 184.3,219.8 186.1,220.1 187.7,220.7 189.1,221.5Z" fill="rgb(179,195,243)" fill-opacity="0.5" fill-rule="evenodd"/>
<path d="M190.3,222.5 191.4,223.8 192.2,225.3 192.7,226.9 193.0,228.7 193.0,230.5 192.7,232.5 192.2,234.5 191.4,236.5 190.3,238.5 189.0,240.5 187.5,242.4 185.8,244.3 183.9,246.1 182.0,247.7 179.9,249.2 177.8,250.5 175.7,251.6 173.7,252.6 171.7,253.4 169.8,254.0 168.0,254.3 166.4,254.5 164.9,254.4 163.6,254.1 162.5,253.5 161.6,252.7 160.9,251.8 160.4,250.5 160.1,249.1 160.0,247.5 160.1,245.8 160.5,243.8 161.0,241.8 161.7,239.7 162.6,237.5 163.7,235.3 164.9,233.2 166.3,231.1 167.8,229.1 169.4,227.2 171.1,225.5 172.9,223.9 174.7,222.6 176.7,221.5 178.6,220.7 180.6,220.1 182.5,219.8 184.3,219.8 186.1,220.1 187.7,220.7 189.1,221.5Z" fill="rgb(65,105,225)" fill-opacity="0.5"/>
<path d="M200.7,211.9 202.5,214.0 203.8,216.5 204.8,219.3 205.3,222.4 205.3,225.6 204.8,228.9 203.9,232.3 202.5,235.8 200.6,239.1 198.4,242.3 195.8,245.4 192.9,248.4 189.8,251.2 186.4,253.8 182.9,256.2 179.3,258.3 175.7,260.2 172.5,261.7 169.5,263.0 166.5,263.9 163.8,264.4 161.2,264.7 158.9,264.5 156.9,264.0 155.2,263.2 153.7,261.9 152.6,260.3 151.8,258.4 151.4,256.1 151.3,253.6 151.5,250.8 152.0,247.7 152.8,244.4 153.9,241.0 155.3,237.5 157.0,233.8 158.9,230.1 161.0,226.5 163.4,223.1 165.9,219.8 168.5,216.9 171.3,214.2 174.2,211.9 177.4,210.1 180.7,208.6 184.1,207.7 187.3,207.2 190.5,207.2 193.4,207.7 196.1,208.7 198.6,210.0Z" fill="none" stroke="rgb(65,105,225)" stroke-opacity="0.50" stroke-width="0.7"/>
<path d="M200.5,215.7 202.3,217.6 203.7,219.9 204.6,222.4 205.1,225.0 205.1,227.9 204.6,230.9 203.7,233.9 202.3,237.0 200.5,240.0 198.3,243.1 195.7,246.0 192.8,248.9 189.7,251.5 186.3,254.0 182.8,256.3 179.2,258.3 175.7,260.0 172.5,261.5 169.5,262.7 166.5,263.5 163.8,264.1 161.2,264.3 158.9,264.2 156.9,263.7 155.2,262.9 153.7,261.7 152.6,260.2 151.8,258.4 151.4,256.2 151.3,253.8 151.5,251.1 152.0,248.2 152.8,245.1 153.9,241.8 155.3,238.5 157.0,235.2 158.9,231.9 161.0,228.7 163.4,225.7 165.9,222.8 168.5,220.1 171.3,217.8 174.2,215.8 177.3,214.1 180.7,212.8 184.0,212.0 187.2,211.6 190.3,211.6 193.3,212.0 196.0,212.8 198.4,214.1Z M190.3,225.1 191.4,226.2 192.2,227.5 192.7,229.0 193.0,230.6 193.0,232.2 192.7,234.0 192.2,235.8 191.4,237.6 190.3,239.5 189.0,241.3 187.5,243.2 185.8,244.9 183.9,246.6 182.0,248.1 179.9,249.5 177.8,250.7 175.7,251.8 173.7,252.7 171.7,253.5 169.8,254.0 168.1,254.4 166.5,254.5 165.0,254.4 163.7,254.1 162.6,253.6 161.7,252.9 161.0,251.9 160.5,250.8 160.2,249.5 160.1,248.0 160.2,246.3 160.6,244.5 161.1,242.6 161.8,240.6 162.7,238.5 163.7,236.6 165.0,234.6 166.3,232.7 167.8,230.9 169.4,229.2 171.1,227.7 172.9,226.3 174.8,225.1 176.7,224.1 178.6,223.4 180.6,222.9 182.5,222.6 184.3,222.6 186.1,222.9 187.7,223.4 189.1,224.1Z" fill="rgb(153,204,153)" fill-opacity="0.5" fill-rule="evenodd"/>
<path d="M190.3,225.1 191.4,226.2 192.2,227.5 192.7,229.0 193.0,230.6 193.0,232.2 192.7,234.0 192.2,235.8 191.4,237.6 190.3,239.5 189.0,241.3 187.5,243.2 185.8,244.9 183.9,246.6 182.0,248.1 179.9,249.5 177.8,250.7 175.7,251.8 173.7,252.7 171.7,253.5 169.8,254.0 168.1,254.4 166.5,254.5 165.0,254.4 163.7,254.1 162.6,253.6 161.7,252.9 161.0,251.9 160.5,250.8 160.2,249.5 160.1,248.0 160.2,246.3 160.6,244.5 161.1,242.6 161.8,240.6 162.7,238.5 163.7,236.6 165.0,234.6 166.3,232.7 167.8,230.9 169.4,229.2 171.1,227.7 172.9,226.3 174.8,225.1 176.7,224.1 178.6,223.4 180.6,222.9 182.5,222.6 184.3,222.6 186.1,222.9 187.7,223.4 189.1,224.1Z" fill="rgb(0,128,0)" fill-opacity="0.5"/>
<path d="M200.5,215.7 202.3,217.6 203.7,219.9 204.6,222.4 205.1,225.0 205.1,227.9 204.6,230.9 203.7,233.9 202.3,237.0 200.5,240.0 198.3,243.1 195.7,246.0 192.8,248.9 189.7,251.5 186.3,254.0 182.8,256.3 179.2,258.3 175.7,260.0 172.5,261.5 169.5,262.7 166.5,263.5 163.8,264.1 161.2,264.3 158.9,264.2 156.9,263.7 155.2,262.9 153.7,261.7 152.6,260.2 151.8,258.4 151.4,256.2 151.3,253.8 151.5,251.1 152.0,248.2 152.8,245.1 153.9,241.8 155.3,238.5 157.0,235.2 158.9,231.9 161.0,228.7 163.4,225.7 165.9,222.8 168.5,220.1 171.3,217.8 174.2,215.8 177.3,214.1 180.7,212.8 184.0,212.0 187.2,211.6 190.3,211.6 193.3,212.0 196.0,212.8 198.4,214.1Z" fill="none" stroke="rgb(0,128,0)" stroke-opacity="0.50" stroke-width="0.7"/>
<path d="M201.0,211.5 202.8,213.7 204.2,216.2 205.2,219.0 205.7,222.1 205.7,225.3 205.2,228.6 204.3,232.1 202.8,235.6 201.0,238.9 198.7,242.2 196.1,245.4 193.1,248.4 189.9,251.3 186.4,253.9 182.8,256.3 179.1,258.5 175.5,260.4 172.2,261.9 169.0,263.2 166.0,264.1 163.1,264.7 160.5,265.0 158.1,264.8 156.0,264.3 154.2,263.4 152.7,262.2 151.6,260.6 150.8,258.6 150.3,256.3 150.2,253.7 150.4,250.8 150.9,247.7 151.8,244.3 152.9,240.9 154.4,237.3 156.1,233.6 158.1,229.9 160.3,226.2 162.7,222.8 165.3,219.5 168.1,216.5 171.0,213.8 174.0,211.6 177.2,209.7 180.6,208.2 184.0,207.3 187.4,206.8 190.6,206.8 193.6,207.3 196.4,208.3 198.9,209.7Z M190.6,222.2 191.6,223.4 192.5,224.9 193.0,226.6 193.3,228.4 193.3,230.2 193.0,232.2 192.5,234.2 191.6,236.3 190.5,238.3 189.2,240.4 187.6,242.4 185.9,244.3 184.0,246.0 181.9,247.7 179.8,249.2 177.7,250.6 175.5,251.8 173.4,252.8 171.4,253.5 169.5,254.1 167.7,254.5 166.0,254.6 164.5,254.6 163.2,254.2 162.0,253.7 161.1,252.9 160.4,251.9 159.9,250.6 159.6,249.2 159.5,247.6 159.6,245.8 160.0,243.8 160.5,241.7 161.2,239.5 162.2,237.3 163.2,235.1 164.5,232.9 165.9,230.8 167.4,228.8 169.1,226.9 170.8,225.1 172.6,223.5 174.5,222.2 176.5,221.1 178.5,220.3 180.5,219.7 182.5,219.4 184.4,219.4 186.2,219.7 187.8,220.3 189.3,221.1Z" fill="rgb(255,219,153)" fill-opacity="0.5" fill-rule="evenodd"/>
<path d="M190.6,222.2 191.6,223.4 192.5,224.9 193.0,226.6 193.3,228.4 193.3,230.2 193.0,232.2 192.5,234.2 191.6,236.3 190.5,238.3 189.2,240.4 187.6,242.4 185.9,244.3 184.0,246.0 181.9,247.7 179.8,249.2 177.7,250.6 175.5,251.8 173.4,252.8 171.4,253.5 169.5,254.1 167.7,254.5 166.0,254.6 164.5,254.6 163.2,254.2 162.0,253.7 161.1,252.9 160.4,251.9 159.9,250.6 159.6,249.2 159.5,247.6 159.6,245.8 160.0,243.8 160.5,241.7 161.2,239.5 162.2,237.3 163.2,235.1 164.5,232.9 165.9,230.8 167.4,228.8 169.1,226.9 170.8,225.1 172.6,223.5 174.5,222.2 176.5,221.1 178.5,220.3 180.5,219.7 182.5,219.4 184.4,219.4 186.2,219.7 187.8,220.3 189.3,221.1Z" fill="rgb(255,165,0)" fill-opacity="0.5"/>
<path d="M201.0,211.5 202.8,213.7 204.2,216.2 205.2,219.0 205.7,222.1 205.7,225.3 205.2,228.6 204.3,232.1 202.8,235.6 201.0,238.9 198.7,242.2 196.1,245.4 193.1,248.4 189.9,251.3 186.4,253.9 182.8,256.3 179.1,258.5 175.5,260.4 172.2,261.9 169.0,263.2 166.0,264.1 163.1,264.7 160.5,265.0 158.1,264.8 156.0,264.3 154.2,263.4 152.7,262.2 151.6,260.6 150.8,258.6 150.3,256.3 150.2,253.7 150.4,250.8 150.9,247.7 151.8,244.3 152.9,240.9 154.4,237.3 156.1,233.6 158.1,229.9 160.3,226.2 162.7,222.8 165.3,219.5 168.1,216.5 171.0,213.8 174.0,211.6 177.2,209.7 180.6,208.2 184.0,207.3 187.4,206.8 190.6,206.8 193.6,207.3 196.4,208.3 198.9,209.7Z" fill="none" stroke="rgb(255,165,0)" stroke-opacity="0.50" stroke-width="0.7"/>
<line x1="166.50" x2="166.50" y1="189.75" y2="280.93" stroke="#808080" stroke-width="0.55" stroke-dasharray="1.45 0.9"/>
<line x1="135.40" x2="225.40" y1="225.50" y2="225.50" stroke="#808080" stroke-width="0.55" stroke-dasharray="1.45 0.9"/>
</g>
<g clip-path="url(#c22)">
<line x1="280.50" x2="280.50" y1="189.75" y2="280.93" stroke="#808080" stroke-width="0.55" stroke-dasharray="1.45 0.9"/>
<path d="M225.40,280.91 226.40,280.91 227.40,280.90 228.40,280.88 229.40,280.85 230.40,280.82 231.40,280.77 232.40,280.69 233.40,280.59 234.40,280.45 235.40,280.26 236.40,280.00 237.40,279.67 238.40,279.24 239.40,278.69 240.40,277.99 241.40,277.13 242.40,276.07 243.40,274.79 244.40,273.26 245.40,271.46 246.40,269.37 247.40,266.97 248.40,264.24 249.40,261.20 250.40,257.84 251.40,254.18 252.40,250.24 253.40,246.07 254.40,241.70 255.40,237.20 256.40,232.62 257.40,228.04 258.40,223.54 259.40,219.18 260.40,215.06 261.40,211.25 262.40,207.82 263.40,204.83 264.40,202.33 265.40,200.38 266.40,199.01 267.40,198.23 268.40,198.05 269.40,198.46 270.40,199.45 271.40,200.98 272.40,203.01 273.40,205.50 274.40,208.38 275.40,211.60 276.40,215.10 277.40,218.80 278.40,222.66 279.40,226.60 280.40,230.57 281.40,234.52 282.40,238.40 283.40,242.18 284.40,245.81 285.40,249.28 286.40,252.55 287.40,255.62 288.40,258.47 289.40,261.10 290.40,263.51 291.40,265.70 292.40,267.68 293.40,269.45 294.40,271.04 295.40,272.44 296.40,273.68 297.40,274.76 298.40,275.70 299.40,276.52 300.40,277.23 301.40,277.83 302.40,278.35 303.40,278.79 304.40,279.16 305.40,279.47 306.40,279.73 307.40,279.95 308.40,280.13 309.40,280.28 310.40,280.41 311.40,280.51 312.40,280.59 313.40,280.66 314.40,280.71 315.40,280.76" fill="none" stroke="rgb(65,105,225)" stroke-width="1.55" stroke-linejoin="round"/>
<path d="M225.40,280.87 226.40,280.85 227.40,280.82 228.40,280.78 229.40,280.72 230.40,280.64 231.40,280.53 232.40,280.39 233.40,280.21 234.40,279.97 235.40,279.67 236.40,279.28 237.40,278.80 238.40,278.20 239.40,277.46 240.40,276.56 241.40,275.48 242.40,274.19 243.40,272.67 244.40,270.91 245.40,268.87 246.40,266.54 247.40,263.92 248.40,260.99 249.40,257.76 250.40,254.24 251.40,250.44 252.40,246.41 253.40,242.16 254.40,237.76 255.40,233.27 256.40,228.74 257.40,224.25 258.40,219.89 259.40,215.72 260.40,211.83 261.40,208.30 262.40,205.20 263.40,202.59 264.40,200.54 265.40,199.08 266.40,198.24 267.40,198.05 268.40,198.50 269.40,199.57 270.40,201.25 271.40,203.48 272.40,206.22 273.40,209.40 274.40,212.96 275.40,216.81 276.40,220.90 277.40,225.14 278.40,229.45 279.40,233.78 280.40,238.05 281.40,242.21 282.40,246.22 283.40,250.04 284.40,253.63 285.40,256.97 286.40,260.04 287.40,262.85 288.40,265.39 289.40,267.66 290.40,269.68 291.40,271.45 292.40,273.00 293.40,274.34 294.40,275.49 295.40,276.47 296.40,277.30 297.40,277.99 298.40,278.56 299.40,279.04 300.40,279.43 301.40,279.74 302.40,280.00 303.40,280.20 304.40,280.37 305.40,280.50 306.40,280.60 307.40,280.68 308.40,280.74 309.40,280.78 310.40,280.82 311.40,280.85 312.40,280.87 313.40,280.88 314.40,280.89 315.40,280.90" fill="none" stroke="rgb(0,128,0)" stroke-width="1.55" stroke-linejoin="round"/>
<path d="M225.40,280.91 226.40,280.91 227.40,280.90 228.40,280.88 229.40,280.86 230.40,280.83 231.40,280.78 232.40,280.72 233.40,280.62 234.40,280.50 235.40,280.32 236.40,280.09 237.40,279.78 238.40,279.38 239.40,278.87 240.40,278.22 241.40,277.41 242.40,276.41 243.40,275.20 244.40,273.75 245.40,272.03 246.40,270.03 247.40,267.72 248.40,265.09 249.40,262.15 250.40,258.88 251.40,255.31 252.40,251.45 253.40,247.34 254.40,243.03 255.40,238.56 256.40,233.99 257.40,229.41 258.40,224.87 259.40,220.47 260.40,216.27 261.40,212.36 262.40,208.80 263.40,205.67 264.40,203.03 265.40,200.91 266.40,199.36 267.40,198.40 268.40,198.04 269.40,198.28 270.40,199.10 271.40,200.47 272.40,202.35 273.40,204.71 274.40,207.48 275.40,210.61 276.40,214.02 277.40,217.67 278.40,221.49 279.40,225.41 280.40,229.38 281.40,233.34 282.40,237.25 283.40,241.06 284.40,244.74 285.40,248.26 286.40,251.59 287.40,254.72 288.40,257.64 289.40,260.33 290.40,262.81 291.40,265.06 292.40,267.10 293.40,268.94 294.40,270.58 295.40,272.04 296.40,273.32 297.40,274.45 298.40,275.43 299.40,276.29 300.40,277.03 301.40,277.66 302.40,278.20 303.40,278.67 304.40,279.06 305.40,279.38 306.40,279.66 307.40,279.89 308.40,280.08 309.40,280.24 310.40,280.37 311.40,280.48 312.40,280.57 313.40,280.64 314.40,280.70 315.40,280.74" fill="none" stroke="rgb(255,165,0)" stroke-width="1.55" stroke-linejoin="round"/>
</g>
<g clip-path="url(#c30)">
<path d="M95.2,330.9 98.9,334.6 102.5,337.7 105.9,340.6 109.0,343.4 111.9,346.1 114.5,348.7 116.8,351.0 118.6,353.2 120.1,355.0 121.1,356.6 121.7,357.9 121.8,358.9 121.4,359.5 120.7,359.7 119.4,359.6 117.8,359.2 115.7,358.4 113.3,357.3 110.5,355.9 107.5,354.1 104.2,352.1 100.7,349.9 97.1,347.4 93.3,344.8 89.7,342.0 86.3,339.2 83.0,336.2 79.8,332.7 76.7,329.1 73.9,325.5 71.2,322.1 68.9,318.9 66.9,315.9 65.2,313.2 63.9,310.9 63.0,308.9 62.5,307.3 62.4,306.1 62.7,305.3 63.4,304.9 64.5,305.1 66.0,305.6 67.9,306.6 70.0,308.0 72.5,309.8 75.2,312.0 78.2,314.6 81.3,317.4 84.6,320.5 87.9,323.8 91.4,327.3Z M93.2,332.9 95.3,335.0 97.4,336.9 99.3,338.8 101.2,340.6 102.8,342.3 104.3,343.9 105.6,345.4 106.7,346.7 107.5,347.9 108.1,348.9 108.4,349.8 108.5,350.4 108.3,350.8 107.8,350.9 107.1,350.9 106.2,350.6 105.0,350.1 103.6,349.4 102.0,348.5 100.3,347.4 98.4,346.1 96.4,344.6 94.3,343.1 92.1,341.4 90.0,339.7 87.8,337.8 85.7,336.0 83.6,333.9 81.7,331.8 79.8,329.7 78.2,327.8 76.7,325.9 75.4,324.2 74.3,322.6 73.5,321.2 72.9,320.1 72.6,319.1 72.5,318.4 72.7,318.0 73.2,317.8 73.9,317.9 74.8,318.2 76.0,318.8 77.4,319.6 79.0,320.6 80.7,321.9 82.6,323.4 84.6,325.0 86.7,326.8 88.9,328.8 91.0,330.8Z" fill="rgb(179,195,243)" fill-opacity="0.5" fill-rule="evenodd"/>
<path d="M93.2,332.9 95.3,335.0 97.4,336.9 99.3,338.8 101.2,340.6 102.8,342.3 104.3,343.9 105.6,345.4 106.7,346.7 107.5,347.9 108.1,348.9 108.4,349.8 108.5,350.4 108.3,350.8 107.8,350.9 107.1,350.9 106.2,350.6 105.0,350.1 103.6,349.4 102.0,348.5 100.3,347.4 98.4,346.1 96.4,344.6 94.3,343.1 92.1,341.4 90.0,339.7 87.8,337.8 85.7,336.0 83.6,333.9 81.7,331.8 79.8,329.7 78.2,327.8 76.7,325.9 75.4,324.2 74.3,322.6 73.5,321.2 72.9,320.1 72.6,319.1 72.5,318.4 72.7,318.0 73.2,317.8 73.9,317.9 74.8,318.2 76.0,318.8 77.4,319.6 79.0,320.6 80.7,321.9 82.6,323.4 84.6,325.0 86.7,326.8 88.9,328.8 91.0,330.8Z" fill="rgb(65,105,225)" fill-opacity="0.5"/>
<path d="M95.2,330.9 98.9,334.6 102.5,337.7 105.9,340.6 109.0,343.4 111.9,346.1 114.5,348.7 116.8,351.0 118.6,353.2 120.1,355.0 121.1,356.6 121.7,357.9 121.8,358.9 121.4,359.5 120.7,359.7 119.4,359.6 117.8,359.2 115.7,358.4 113.3,357.3 110.5,355.9 107.5,354.1 104.2,352.1 100.7,349.9 97.1,347.4 93.3,344.8 89.7,342.0 86.3,339.2 83.0,336.2 79.8,332.7 76.7,329.1 73.9,325.5 71.2,322.1 68.9,318.9 66.9,315.9 65.2,313.2 63.9,310.9 63.0,308.9 62.5,307.3 62.4,306.1 62.7,305.3 63.4,304.9 64.5,305.1 66.0,305.6 67.9,306.6 70.0,308.0 72.5,309.8 75.2,312.0 78.2,314.6 81.3,317.4 84.6,320.5 87.9,323.8 91.4,327.3Z" fill="none" stroke="rgb(65,105,225)" stroke-opacity="0.50" stroke-width="0.7"/>
<path d="M95.1,331.1 98.3,334.6 101.4,337.5 104.4,340.1 107.2,342.6 109.7,345.0 112.0,347.3 113.9,349.4 115.5,351.2 116.8,352.9 117.7,354.3 118.2,355.5 118.3,356.3 118.0,356.9 117.3,357.1 116.2,357.0 114.8,356.6 113.0,355.9 110.9,354.9 108.5,353.6 105.8,352.1 103.0,350.3 99.9,348.3 96.7,346.1 93.5,343.8 90.2,341.3 86.9,338.8 83.7,336.2 80.6,332.8 77.7,329.3 74.9,325.9 72.4,322.6 70.2,319.5 68.2,316.6 66.6,314.0 65.4,311.7 64.5,309.8 64.0,308.2 63.9,307.0 64.2,306.3 64.9,306.0 66.0,306.1 67.4,306.6 69.2,307.6 71.3,308.9 73.6,310.7 76.3,312.8 79.1,315.3 82.1,318.0 85.3,321.0 88.5,324.2 91.8,327.6Z M93.5,333.2 95.5,335.1 97.3,336.8 99.1,338.5 100.8,340.2 102.4,341.7 103.7,343.2 104.9,344.6 105.9,345.9 106.7,347.0 107.2,347.9 107.5,348.6 107.6,349.2 107.4,349.6 107.0,349.7 106.3,349.7 105.5,349.4 104.4,348.9 103.1,348.3 101.6,347.4 100.0,346.4 98.3,345.2 96.4,343.9 94.5,342.5 92.5,341.0 90.5,339.3 88.4,337.7 86.4,336.0 84.5,334.1 82.6,332.2 80.9,330.4 79.3,328.6 77.9,327.0 76.6,325.5 75.6,324.1 74.8,322.9 74.3,321.8 74.0,321.0 73.9,320.4 74.1,320.0 74.5,319.8 75.2,319.9 76.1,320.2 77.2,320.7 78.5,321.4 80.0,322.3 81.7,323.5 83.5,324.8 85.4,326.2 87.4,327.8 89.4,329.5 91.5,331.3Z" fill="rgb(153,204,153)" fill-opacity="0.5" fill-rule="evenodd"/>
<path d="M93.5,333.2 95.5,335.1 97.3,336.8 99.1,338.5 100.8,340.2 102.4,341.7 103.7,343.2 104.9,344.6 105.9,345.9 106.7,347.0 107.2,347.9 107.5,348.6 107.6,349.2 107.4,349.6 107.0,349.7 106.3,349.7 105.5,349.4 104.4,348.9 103.1,348.3 101.6,347.4 100.0,346.4 98.3,345.2 96.4,343.9 94.5,342.5 92.5,341.0 90.5,339.3 88.4,337.7 86.4,336.0 84.5,334.1 82.6,332.2 80.9,330.4 79.3,328.6 77.9,327.0 76.6,325.5 75.6,324.1 74.8,322.9 74.3,321.8 74.0,321.0 73.9,320.4 74.1,320.0 74.5,319.8 75.2,319.9 76.1,320.2 77.2,320.7 78.5,321.4 80.0,322.3 81.7,323.5 83.5,324.8 85.4,326.2 87.4,327.8 89.4,329.5 91.5,331.3Z" fill="rgb(0,128,0)" fill-opacity="0.5"/>
<path d="M95.1,331.1 98.3,334.6 101.4,337.5 104.4,340.1 107.2,342.6 109.7,345.0 112.0,347.3 113.9,349.4 115.5,351.2 116.8,352.9 117.7,354.3 118.2,355.5 118.3,356.3 118.0,356.9 117.3,357.1 116.2,357.0 114.8,356.6 113.0,355.9 110.9,354.9 108.5,353.6 105.8,352.1 103.0,350.3 99.9,348.3 96.7,346.1 93.5,343.8 90.2,341.3 86.9,338.8 83.7,336.2 80.6,332.8 77.7,329.3 74.9,325.9 72.4,322.6 70.2,319.5 68.2,316.6 66.6,314.0 65.4,311.7 64.5,309.8 64.0,308.2 63.9,307.0 64.2,306.3 64.9,306.0 66.0,306.1 67.4,306.6 69.2,307.6 71.3,308.9 73.6,310.7 76.3,312.8 79.1,315.3 82.1,318.0 85.3,321.0 88.5,324.2 91.8,327.6Z" fill="none" stroke="rgb(0,128,0)" stroke-opacity="0.50" stroke-width="0.7"/>
<path d="M94.3,329.9 98.1,334.0 101.7,337.2 105.2,340.1 108.5,343.0 111.4,345.7 114.1,348.2 116.4,350.6 118.3,352.7 119.7,354.6 120.8,356.2 121.4,357.5 121.5,358.4 121.1,359.1 120.3,359.3 119.1,359.2 117.4,358.8 115.3,358.0 112.8,356.9 110.0,355.4 106.9,353.7 103.5,351.7 100.0,349.4 96.2,347.0 92.4,344.3 88.6,341.5 85.1,338.7 81.7,335.7 78.3,331.9 75.2,327.8 72.2,323.8 69.5,320.0 67.1,316.4 65.0,313.1 63.3,310.1 61.9,307.4 61.0,305.2 60.4,303.4 60.3,302.0 60.6,301.2 61.4,300.8 62.5,300.9 64.1,301.5 66.0,302.7 68.2,304.2 70.8,306.3 73.6,308.7 76.7,311.6 80.0,314.7 83.4,318.2 86.8,321.9 90.5,325.8Z M92.4,332.1 94.7,334.4 96.9,336.5 99.0,338.4 101.0,340.2 102.8,342.0 104.4,343.7 105.8,345.2 106.9,346.6 107.8,347.8 108.5,348.9 108.8,349.7 108.9,350.3 108.7,350.7 108.2,350.9 107.4,350.9 106.4,350.6 105.1,350.1 103.6,349.3 101.9,348.4 100.0,347.2 98.0,345.9 95.8,344.4 93.6,342.8 91.3,341.1 88.9,339.3 86.6,337.4 84.3,335.5 82.1,333.2 80.0,330.9 78.1,328.6 76.3,326.4 74.7,324.3 73.3,322.4 72.2,320.6 71.3,319.1 70.6,317.8 70.3,316.8 70.2,316.0 70.4,315.5 70.9,315.3 71.7,315.3 72.7,315.7 73.9,316.4 75.4,317.3 77.1,318.4 79.0,319.9 81.0,321.5 83.2,323.3 85.4,325.3 87.7,327.5 90.1,329.7Z" fill="rgb(255,219,153)" fill-opacity="0.5" fill-rule="evenodd"/>
<path d="M92.4,332.1 94.7,334.4 96.9,336.5 99.0,338.4 101.0,340.2 102.8,342.0 104.4,343.7 105.8,345.2 106.9,346.6 107.8,347.8 108.5,348.9 108.8,349.7 108.9,350.3 108.7,350.7 108.2,350.9 107.4,350.9 106.4,350.6 105.1,350.1 103.6,349.3 101.9,348.4 100.0,347.2 98.0,345.9 95.8,344.4 93.6,342.8 91.3,341.1 88.9,339.3 86.6,337.4 84.3,335.5 82.1,333.2 80.0,330.9 78.1,328.6 76.3,326.4 74.7,324.3 73.3,322.4 72.2,320.6 71.3,319.1 70.6,317.8 70.3,316.8 70.2,316.0 70.4,315.5 70.9,315.3 71.7,315.3 72.7,315.7 73.9,316.4 75.4,317.3 77.1,318.4 79.0,319.9 81.0,321.5 83.2,323.3 85.4,325.3 87.7,327.5 90.1,329.7Z" fill="rgb(255,165,0)" fill-opacity="0.5"/>
<path d="M94.3,329.9 98.1,334.0 101.7,337.2 105.2,340.1 108.5,343.0 111.4,345.7 114.1,348.2 116.4,350.6 118.3,352.7 119.7,354.6 120.8,356.2 121.4,357.5 121.5,358.4 121.1,359.1 120.3,359.3 119.1,359.2 117.4,358.8 115.3,358.0 112.8,356.9 110.0,355.4 106.9,353.7 103.5,351.7 100.0,349.4 96.2,347.0 92.4,344.3 88.6,341.5 85.1,338.7 81.7,335.7 78.3,331.9 75.2,327.8 72.2,323.8 69.5,320.0 67.1,316.4 65.0,313.1 63.3,310.1 61.9,307.4 61.0,305.2 60.4,303.4 60.3,302.0 60.6,301.2 61.4,300.8 62.5,300.9 64.1,301.5 66.0,302.7 68.2,304.2 70.8,306.3 73.6,308.7 76.7,311.6 80.0,314.7 83.4,318.2 86.8,321.9 90.5,325.8Z" fill="none" stroke="rgb(255,165,0)" stroke-opacity="0.50" stroke-width="0.7"/>
<line x1="72.50" x2="72.50" y1="280.92" y2="372.10" stroke="#808080" stroke-width="0.55" stroke-dasharray="1.45 0.9"/>
<line x1="45.40" x2="135.40" y1="318.50" y2="318.50" stroke="#808080" stroke-width="0.55" stroke-dasharray="1.45 0.9"/>
</g>
<g clip-path="url(#c31)">
<path d="M191.8,320.0 194.5,323.4 197.0,327.0 199.2,330.7 201.1,334.5 202.7,337.8 203.9,341.0 204.7,344.0 205.2,346.8 205.3,349.5 205.0,351.9 204.4,354.0 203.3,355.9 201.8,357.4 200.0,358.7 197.8,359.6 195.2,360.1 192.4,360.4 189.2,360.3 185.8,359.9 182.2,359.2 178.4,358.1 174.8,356.8 171.8,355.2 168.8,353.4 165.8,351.3 163.0,349.0 160.4,346.5 158.0,343.9 155.9,341.0 154.1,338.1 152.7,335.1 151.6,331.6 150.9,328.1 150.6,324.7 150.8,321.4 151.3,318.3 152.2,315.3 153.5,312.7 155.1,310.3 157.0,308.4 159.2,306.8 161.6,305.7 164.1,305.1 166.8,304.9 169.6,305.2 172.5,306.1 175.3,307.4 178.8,309.1 182.3,311.3 185.6,313.9 188.8,316.8Z M185.6,326.8 187.2,328.7 188.8,330.7 190.1,332.8 191.3,334.9 192.2,337.0 193.0,339.1 193.5,341.1 193.8,343.0 193.8,344.7 193.7,346.3 193.3,347.7 192.6,348.9 191.7,349.9 190.6,350.7 189.2,351.3 187.7,351.7 185.9,351.9 184.0,351.8 181.9,351.5 179.7,351.1 177.4,350.4 175.1,349.5 173.2,348.5 171.3,347.3 169.5,345.9 167.7,344.4 166.1,342.8 164.6,341.0 163.3,339.2 162.1,337.2 161.2,335.3 160.6,333.3 160.1,331.3 160.0,329.4 160.0,327.5 160.4,325.8 160.9,324.1 161.7,322.6 162.8,321.3 164.0,320.2 165.3,319.3 166.8,318.7 168.4,318.3 170.1,318.2 171.9,318.4 173.7,318.9 175.5,319.6 177.6,320.6 179.7,321.8 181.8,323.3 183.7,325.0Z" fill="rgb(179,195,243)" fill-opacity="0.5" fill-rule="evenodd"/>
<path d="M185.6,326.8 187.2,328.7 188.8,330.7 190.1,332.8 191.3,334.9 192.2,337.0 193.0,339.1 193.5,341.1 193.8,343.0 193.8,344.7 193.7,346.3 193.3,347.7 192.6,348.9 191.7,349.9 190.6,350.7 189.2,351.3 187.7,351.7 185.9,351.9 184.0,351.8 181.9,351.5 179.7,351.1 177.4,350.4 175.1,349.5 173.2,348.5 171.3,347.3 169.5,345.9 167.7,344.4 166.1,342.8 164.6,341.0 163.3,339.2 162.1,337.2 161.2,335.3 160.6,333.3 160.1,331.3 160.0,329.4 160.0,327.5 160.4,325.8 160.9,324.1 161.7,322.6 162.8,321.3 164.0,320.2 165.3,319.3 166.8,318.7 168.4,318.3 170.1,318.2 171.9,318.4 173.7,318.9 175.5,319.6 177.6,320.6 179.7,321.8 181.8,323.3 183.7,325.0Z" fill="rgb(65,105,225)" fill-opacity="0.5"/>
<path d="M191.8,320.0 194.5,323.4 197.0,327.0 199.2,330.7 201.1,334.5 202.7,337.8 203.9,341.0 204.7,344.0 205.2,346.8 205.3,349.5 205.0,351.9 204.4,354.0 203.3,355.9 201.8,357.4 200.0,358.7 197.8,359.6 195.2,360.1 192.4,360.4 189.2,360.3 185.8,359.9 182.2,359.2 178.4,358.1 174.8,356.8 171.8,355.2 168.8,353.4 165.8,351.3 163.0,349.0 160.4,346.5 158.0,343.9 155.9,341.0 154.1,338.1 152.7,335.1 151.6,331.6 150.9,328.1 150.6,324.7 150.8,321.4 151.3,318.3 152.2,315.3 153.5,312.7 155.1,310.3 157.0,308.4 159.2,306.8 161.6,305.7 164.1,305.1 166.8,304.9 169.6,305.2 172.5,306.1 175.3,307.4 178.8,309.1 182.3,311.3 185.6,313.9 188.8,316.8Z" fill="none" stroke="rgb(65,105,225)" stroke-opacity="0.50" stroke-width="0.7"/>
<path d="M191.7,320.5 194.4,323.9 196.9,327.3 199.1,330.9 200.9,334.5 202.5,337.6 203.7,340.4 204.6,343.1 205.0,345.7 205.1,348.1 204.9,350.2 204.2,352.1 203.1,353.8 201.7,355.2 199.8,356.3 197.6,357.1 195.1,357.6 192.2,357.8 189.1,357.7 185.7,357.4 182.1,356.7 178.4,355.8 174.8,354.6 171.8,353.2 168.8,351.6 165.8,349.7 163.0,347.6 160.4,345.4 158.0,343.0 155.9,340.5 154.1,337.9 152.7,335.1 151.6,331.7 150.9,328.4 150.6,325.1 150.8,321.9 151.3,318.8 152.2,316.0 153.5,313.5 155.1,311.2 157.0,309.3 159.2,307.8 161.6,306.7 164.1,306.1 166.8,305.9 169.6,306.3 172.5,307.1 175.3,308.3 178.8,310.0 182.2,312.2 185.6,314.6 188.7,317.5Z M185.6,327.8 187.2,329.5 188.8,331.3 190.1,333.1 191.3,335.0 192.2,336.9 193.0,338.8 193.5,340.7 193.8,342.4 193.8,344.0 193.7,345.5 193.3,346.8 192.6,348.0 191.7,348.9 190.6,349.6 189.2,350.2 187.7,350.5 185.9,350.7 184.0,350.6 181.9,350.4 179.7,349.9 177.4,349.3 175.2,348.5 173.2,347.6 171.4,346.4 169.5,345.2 167.8,343.8 166.1,342.2 164.7,340.6 163.3,338.9 162.2,337.1 161.3,335.3 160.7,333.6 160.2,331.8 160.1,330.2 160.1,328.5 160.5,326.9 161.0,325.5 161.8,324.2 162.8,323.0 164.0,322.0 165.4,321.3 166.9,320.7 168.5,320.4 170.2,320.3 171.9,320.5 173.7,320.9 175.5,321.5 177.6,322.4 179.7,323.5 181.8,324.8 183.7,326.2Z" fill="rgb(153,204,153)" fill-opacity="0.5" fill-rule="evenodd"/>
<path d="M185.6,327.8 187.2,329.5 188.8,331.3 190.1,333.1 191.3,335.0 192.2,336.9 193.0,338.8 193.5,340.7 193.8,342.4 193.8,344.0 193.7,345.5 193.3,346.8 192.6,348.0 191.7,348.9 190.6,349.6 189.2,350.2 187.7,350.5 185.9,350.7 184.0,350.6 181.9,350.4 179.7,349.9 177.4,349.3 175.2,348.5 173.2,347.6 171.4,346.4 169.5,345.2 167.8,343.8 166.1,342.2 164.7,340.6 163.3,338.9 162.2,337.1 161.3,335.3 160.7,333.6 160.2,331.8 160.1,330.2 160.1,328.5 160.5,326.9 161.0,325.5 161.8,324.2 162.8,323.0 164.0,322.0 165.4,321.3 166.9,320.7 168.5,320.4 170.2,320.3 171.9,320.5 173.7,320.9 175.5,321.5 177.6,322.4 179.7,323.5 181.8,324.8 183.7,326.2Z" fill="rgb(0,128,0)" fill-opacity="0.5"/>
<path d="M191.7,320.5 194.4,323.9 196.9,327.3 199.1,330.9 200.9,334.5 202.5,337.6 203.7,340.4 204.6,343.1 205.0,345.7 205.1,348.1 204.9,350.2 204.2,352.1 203.1,353.8 201.7,355.2 199.8,356.3 197.6,357.1 195.1,357.6 192.2,357.8 189.1,357.7 185.7,357.4 182.1,356.7 178.4,355.8 174.8,354.6 171.8,353.2 168.8,351.6 165.8,349.7 163.0,347.6 160.4,345.4 158.0,343.0 155.9,340.5 154.1,337.9 152.7,335.1 151.6,331.7 150.9,328.4 150.6,325.1 150.8,321.9 151.3,318.8 152.2,316.0 153.5,313.5 155.1,311.2 157.0,309.3 159.2,307.8 161.6,306.7 164.1,306.1 166.8,305.9 169.6,306.3 172.5,307.1 175.3,308.3 178.8,310.0 182.2,312.2 185.6,314.6 188.7,317.5Z" fill="none" stroke="rgb(0,128,0)" stroke-opacity="0.50" stroke-width="0.7"/>
<path d="M191.9,317.6 194.7,321.4 197.2,325.5 199.5,329.6 201.4,333.8 203.0,337.3 204.2,340.5 205.1,343.5 205.6,346.4 205.7,349.0 205.4,351.5 204.7,353.6 203.6,355.5 202.2,357.0 200.3,358.2 198.0,359.1 195.4,359.7 192.5,360.0 189.3,359.9 185.8,359.5 182.1,358.7 178.3,357.7 174.6,356.4 171.4,354.8 168.3,353.0 165.2,350.9 162.3,348.6 159.6,346.1 157.1,343.4 155.0,340.6 153.1,337.6 151.6,334.5 150.5,330.6 149.8,326.7 149.5,322.9 149.6,319.1 150.2,315.6 151.1,312.3 152.5,309.3 154.1,306.7 156.1,304.5 158.4,302.8 160.8,301.5 163.5,300.8 166.3,300.6 169.2,301.0 172.2,301.9 175.1,303.4 178.7,305.4 182.2,307.8 185.6,310.7 188.9,314.0Z M185.6,325.2 187.3,327.4 188.9,329.6 190.3,332.0 191.5,334.3 192.5,336.6 193.2,338.7 193.8,340.7 194.1,342.7 194.1,344.5 194.0,346.1 193.5,347.6 192.9,348.8 191.9,349.9 190.8,350.7 189.4,351.3 187.8,351.7 186.0,351.8 184.0,351.8 181.8,351.5 179.6,351.0 177.2,350.3 174.9,349.4 173.0,348.4 171.0,347.1 169.2,345.7 167.4,344.2 165.7,342.5 164.2,340.7 162.8,338.8 161.7,336.8 160.7,334.7 160.1,332.5 159.6,330.3 159.5,328.2 159.5,326.1 159.9,324.1 160.5,322.2 161.3,320.5 162.3,319.1 163.5,317.8 164.9,316.8 166.4,316.1 168.1,315.7 169.8,315.6 171.6,315.8 173.4,316.4 175.3,317.2 177.4,318.3 179.6,319.7 181.7,321.3 183.7,323.2Z" fill="rgb(255,219,153)" fill-opacity="0.5" fill-rule="evenodd"/>
<path d="M185.6,325.2 187.3,327.4 188.9,329.6 190.3,332.0 191.5,334.3 192.5,336.6 193.2,338.7 193.8,340.7 194.1,342.7 194.1,344.5 194.0,346.1 193.5,347.6 192.9,348.8 191.9,349.9 190.8,350.7 189.4,351.3 187.8,351.7 186.0,351.8 184.0,351.8 181.8,351.5 179.6,351.0 177.2,350.3 174.9,349.4 173.0,348.4 171.0,347.1 169.2,345.7 167.4,344.2 165.7,342.5 164.2,340.7 162.8,338.8 161.7,336.8 160.7,334.7 160.1,332.5 159.6,330.3 159.5,328.2 159.5,326.1 159.9,324.1 160.5,322.2 161.3,320.5 162.3,319.1 163.5,317.8 164.9,316.8 166.4,316.1 168.1,315.7 169.8,315.6 171.6,315.8 173.4,316.4 175.3,317.2 177.4,318.3 179.6,319.7 181.7,321.3 183.7,323.2Z" fill="rgb(255,165,0)" fill-opacity="0.5"/>
<path d="M191.9,317.6 194.7,321.4 197.2,325.5 199.5,329.6 201.4,333.8 203.0,337.3 204.2,340.5 205.1,343.5 205.6,346.4 205.7,349.0 205.4,351.5 204.7,353.6 203.6,355.5 202.2,357.0 200.3,358.2 198.0,359.1 195.4,359.7 192.5,360.0 189.3,359.9 185.8,359.5 182.1,358.7 178.3,357.7 174.6,356.4 171.4,354.8 168.3,353.0 165.2,350.9 162.3,348.6 159.6,346.1 157.1,343.4 155.0,340.6 153.1,337.6 151.6,334.5 150.5,330.6 149.8,326.7 149.5,322.9 149.6,319.1 150.2,315.6 151.1,312.3 152.5,309.3 154.1,306.7 156.1,304.5 158.4,302.8 160.8,301.5 163.5,300.8 166.3,300.6 169.2,301.0 172.2,301.9 175.1,303.4 178.7,305.4 182.2,307.8 185.6,310.7 188.9,314.0Z" fill="none" stroke="rgb(255,165,0)" stroke-opacity="0.50" stroke-width="0.7"/>
<line x1="166.50" x2="166.50" y1="280.92" y2="372.10" stroke="#808080" stroke-width="0.55" stroke-dasharray="1.45 0.9"/>
<line x1="135.40" x2="225.40" y1="318.50" y2="318.50" stroke="#808080" stroke-width="0.55" stroke-dasharray="1.45 0.9"/>
</g>
<g clip-path="url(#c32)">
<path d="M288.7,312.3 291.1,314.9 293.2,317.8 295.1,320.9 296.7,324.3 297.9,327.8 298.7,331.4 299.1,335.1 299.1,338.3 298.5,341.3 297.4,344.3 295.8,347.1 293.6,349.8 291.0,352.3 287.9,354.5 284.5,356.5 280.6,358.1 276.5,359.4 272.2,360.4 267.8,361.0 264.0,361.3 260.3,361.1 256.7,360.6 253.4,359.7 250.3,358.5 247.6,356.9 245.3,355.0 243.4,352.9 242.0,350.5 241.0,347.8 240.6,345.0 240.5,342.1 241.0,339.0 241.8,335.9 243.0,332.3 244.5,328.6 246.3,325.1 248.3,321.7 250.6,318.5 252.9,315.6 255.4,312.9 258.0,310.6 260.6,308.7 263.3,307.1 266.0,305.9 268.7,305.2 271.8,304.9 274.8,305.1 277.8,305.7 280.7,306.8 283.5,308.2 286.2,310.1Z M280.8,322.1 282.3,323.6 283.6,325.2 284.7,327.1 285.7,329.0 286.4,331.0 286.9,333.1 287.2,335.3 287.1,337.3 286.8,339.3 286.1,341.3 285.1,343.2 283.8,344.9 282.2,346.6 280.3,348.0 278.2,349.3 275.8,350.4 273.3,351.3 270.7,351.9 268.0,352.3 265.7,352.4 263.4,352.4 261.2,352.0 259.2,351.4 257.3,350.6 255.7,349.6 254.3,348.4 253.1,346.9 252.2,345.3 251.7,343.6 251.4,341.8 251.4,339.8 251.6,337.8 252.1,335.8 252.8,333.7 253.8,331.5 254.9,329.5 256.1,327.5 257.5,325.7 258.9,324.0 260.4,322.4 262.0,321.1 263.6,320.0 265.2,319.0 266.9,318.4 268.5,318.0 270.4,317.8 272.3,317.9 274.1,318.3 275.9,318.9 277.6,319.7 279.2,320.8Z" fill="rgb(179,195,243)" fill-opacity="0.5" fill-rule="evenodd"/>
<path d="M280.8,322.1 282.3,323.6 283.6,325.2 284.7,327.1 285.7,329.0 286.4,331.0 286.9,333.1 287.2,335.3 287.1,337.3 286.8,339.3 286.1,341.3 285.1,343.2 283.8,344.9 282.2,346.6 280.3,348.0 278.2,349.3 275.8,350.4 273.3,351.3 270.7,351.9 268.0,352.3 265.7,352.4 263.4,352.4 261.2,352.0 259.2,351.4 257.3,350.6 255.7,349.6 254.3,348.4 253.1,346.9 252.2,345.3 251.7,343.6 251.4,341.8 251.4,339.8 251.6,337.8 252.1,335.8 252.8,333.7 253.8,331.5 254.9,329.5 256.1,327.5 257.5,325.7 258.9,324.0 260.4,322.4 262.0,321.1 263.6,320.0 265.2,319.0 266.9,318.4 268.5,318.0 270.4,317.8 272.3,317.9 274.1,318.3 275.9,318.9 277.6,319.7 279.2,320.8Z" fill="rgb(65,105,225)" fill-opacity="0.5"/>
<path d="M288.7,312.3 291.1,314.9 293.2,317.8 295.1,320.9 296.7,324.3 297.9,327.8 298.7,331.4 299.1,335.1 299.1,338.3 298.5,341.3 297.4,344.3 295.8,347.1 293.6,349.8 291.0,352.3 287.9,354.5 284.5,356.5 280.6,358.1 276.5,359.4 272.2,360.4 267.8,361.0 264.0,361.3 260.3,361.1 256.7,360.6 253.4,359.7 250.3,358.5 247.6,356.9 245.3,355.0 243.4,352.9 242.0,350.5 241.0,347.8 240.6,345.0 240.5,342.1 241.0,339.0 241.8,335.9 243.0,332.3 244.5,328.6 246.3,325.1 248.3,321.7 250.6,318.5 252.9,315.6 255.4,312.9 258.0,310.6 260.6,308.7 263.3,307.1 266.0,305.9 268.7,305.2 271.8,304.9 274.8,305.1 277.8,305.7 280.7,306.8 283.5,308.2 286.2,310.1Z" fill="none" stroke="rgb(65,105,225)" stroke-opacity="0.50" stroke-width="0.7"/>
<path d="M285.6,313.1 287.8,315.6 289.7,318.4 291.4,321.4 292.8,324.6 293.9,328.0 294.6,331.5 295.0,335.1 294.9,338.0 294.4,340.7 293.4,343.4 292.0,346.0 290.0,348.4 287.7,350.6 284.9,352.6 281.8,354.3 278.3,355.8 274.6,357.0 270.8,357.9 266.9,358.4 263.3,358.6 259.7,358.5 256.3,358.0 253.2,357.2 250.3,356.1 247.7,354.7 245.5,353.0 243.7,351.1 242.4,348.9 241.5,346.6 241.0,344.0 241.0,341.4 241.4,338.7 242.2,335.9 243.3,332.4 244.7,328.9 246.4,325.5 248.4,322.2 250.5,319.1 252.7,316.2 255.1,313.7 257.6,311.4 260.0,309.5 262.6,308.0 265.1,306.9 267.6,306.2 270.4,306.0 273.1,306.1 275.8,306.7 278.4,307.7 280.9,309.1 283.4,310.9Z M278.7,323.6 280.0,324.9 281.2,326.4 282.3,328.0 283.1,329.7 283.8,331.5 284.3,333.4 284.5,335.3 284.5,337.2 284.1,339.1 283.5,340.9 282.6,342.6 281.4,344.3 280.0,345.8 278.3,347.1 276.3,348.3 274.2,349.3 271.9,350.1 269.5,350.7 267.0,351.1 264.9,351.2 262.7,351.1 260.7,350.8 258.8,350.3 257.0,349.5 255.4,348.6 254.1,347.4 253.0,346.1 252.2,344.6 251.7,343.0 251.4,341.3 251.4,339.5 251.6,337.7 252.1,335.8 252.8,333.9 253.7,332.0 254.7,330.2 255.9,328.4 257.1,326.8 258.5,325.3 259.9,323.9 261.4,322.7 262.9,321.7 264.4,320.9 266.0,320.3 267.5,320.0 269.2,319.8 270.9,319.9 272.6,320.2 274.2,320.8 275.8,321.5 277.3,322.5Z" fill="rgb(153,204,153)" fill-opacity="0.5" fill-rule="evenodd"/>
<path d="M278.7,323.6 280.0,324.9 281.2,326.4 282.3,328.0 283.1,329.7 283.8,331.5 284.3,333.4 284.5,335.3 284.5,337.2 284.1,339.1 283.5,340.9 282.6,342.6 281.4,344.3 280.0,345.8 278.3,347.1 276.3,348.3 274.2,349.3 271.9,350.1 269.5,350.7 267.0,351.1 264.9,351.2 262.7,351.1 260.7,350.8 258.8,350.3 257.0,349.5 255.4,348.6 254.1,347.4 253.0,346.1 252.2,344.6 251.7,343.0 251.4,341.3 251.4,339.5 251.6,337.7 252.1,335.8 252.8,333.9 253.7,332.0 254.7,330.2 255.9,328.4 257.1,326.8 258.5,325.3 259.9,323.9 261.4,322.7 262.9,321.7 264.4,320.9 266.0,320.3 267.5,320.0 269.2,319.8 270.9,319.9 272.6,320.2 274.2,320.8 275.8,321.5 277.3,322.5Z" fill="rgb(0,128,0)" fill-opacity="0.5"/>
<path d="M285.6,313.1 287.8,315.6 289.7,318.4 291.4,321.4 292.8,324.6 293.9,328.0 294.6,331.5 295.0,335.1 294.9,338.0 294.4,340.7 293.4,343.4 292.0,346.0 290.0,348.4 287.7,350.6 284.9,352.6 281.8,354.3 278.3,355.8 274.6,357.0 270.8,357.9 266.9,358.4 263.3,358.6 259.7,358.5 256.3,358.0 253.2,357.2 250.3,356.1 247.7,354.7 245.5,353.0 243.7,351.1 242.4,348.9 241.5,346.6 241.0,344.0 241.0,341.4 241.4,338.7 242.2,335.9 243.3,332.4 244.7,328.9 246.4,325.5 248.4,322.2 250.5,319.1 252.7,316.2 255.1,313.7 257.6,311.4 260.0,309.5 262.6,308.0 265.1,306.9 267.6,306.2 270.4,306.0 273.1,306.1 275.8,306.7 278.4,307.7 280.9,309.1 283.4,310.9Z" fill="none" stroke="rgb(0,128,0)" stroke-opacity="0.50" stroke-width="0.7"/>
<path d="M289.1,309.1 291.4,311.9 293.6,315.2 295.5,318.7 297.1,322.4 298.3,326.3 299.1,330.4 299.5,334.5 299.5,337.8 298.9,340.8 297.8,343.8 296.2,346.7 294.0,349.4 291.4,351.9 288.3,354.1 284.8,356.1 280.9,357.7 276.7,359.0 272.4,360.0 268.0,360.6 264.2,360.9 260.4,360.7 256.7,360.2 253.3,359.3 250.2,358.1 247.4,356.5 245.1,354.6 243.1,352.4 241.7,350.0 240.7,347.4 240.2,344.5 240.2,341.6 240.6,338.5 241.5,335.4 242.7,331.4 244.2,327.3 246.1,323.4 248.1,319.6 250.4,316.0 252.8,312.7 255.4,309.7 258.0,307.1 260.7,304.9 263.4,303.2 266.1,301.9 268.9,301.1 272.0,300.8 275.0,301.0 278.0,301.7 281.0,302.8 283.8,304.5 286.5,306.6Z M281.1,320.0 282.6,321.7 283.9,323.6 285.1,325.6 286.1,327.7 286.8,330.0 287.3,332.3 287.6,334.7 287.5,336.9 287.2,338.9 286.5,341.0 285.5,342.9 284.2,344.7 282.6,346.4 280.7,347.9 278.5,349.2 276.1,350.3 273.6,351.2 270.9,351.9 268.2,352.3 265.8,352.4 263.5,352.3 261.3,352.0 259.2,351.4 257.3,350.6 255.6,349.5 254.1,348.2 252.9,346.8 252.0,345.1 251.4,343.3 251.1,341.4 251.1,339.4 251.4,337.4 251.9,335.3 252.7,332.9 253.6,330.6 254.7,328.3 256.0,326.1 257.4,324.0 258.9,322.1 260.5,320.4 262.1,318.9 263.7,317.7 265.4,316.7 267.0,315.9 268.7,315.4 270.6,315.3 272.5,315.4 274.4,315.8 276.2,316.4 277.9,317.4 279.6,318.6Z" fill="rgb(255,219,153)" fill-opacity="0.5" fill-rule="evenodd"/>
<path d="M281.1,320.0 282.6,321.7 283.9,323.6 285.1,325.6 286.1,327.7 286.8,330.0 287.3,332.3 287.6,334.7 287.5,336.9 287.2,338.9 286.5,341.0 285.5,342.9 284.2,344.7 282.6,346.4 280.7,347.9 278.5,349.2 276.1,350.3 273.6,351.2 270.9,351.9 268.2,352.3 265.8,352.4 263.5,352.3 261.3,352.0 259.2,351.4 257.3,350.6 255.6,349.5 254.1,348.2 252.9,346.8 252.0,345.1 251.4,343.3 251.1,341.4 251.1,339.4 251.4,337.4 251.9,335.3 252.7,332.9 253.6,330.6 254.7,328.3 256.0,326.1 257.4,324.0 258.9,322.1 260.5,320.4 262.1,318.9 263.7,317.7 265.4,316.7 267.0,315.9 268.7,315.4 270.6,315.3 272.5,315.4 274.4,315.8 276.2,316.4 277.9,317.4 279.6,318.6Z" fill="rgb(255,165,0)" fill-opacity="0.5"/>
<path d="M289.1,309.1 291.4,311.9 293.6,315.2 295.5,318.7 297.1,322.4 298.3,326.3 299.1,330.4 299.5,334.5 299.5,337.8 298.9,340.8 297.8,343.8 296.2,346.7 294.0,349.4 291.4,351.9 288.3,354.1 284.8,356.1 280.9,357.7 276.7,359.0 272.4,360.0 268.0,360.6 264.2,360.9 260.4,360.7 256.7,360.2 253.3,359.3 250.2,358.1 247.4,356.5 245.1,354.6 243.1,352.4 241.7,350.0 240.7,347.4 240.2,344.5 240.2,341.6 240.6,338.5 241.5,335.4 242.7,331.4 244.2,327.3 246.1,323.4 248.1,319.6 250.4,316.0 252.8,312.7 255.4,309.7 258.0,307.1 260.7,304.9 263.4,303.2 266.1,301.9 268.9,301.1 272.0,300.8 275.0,301.0 278.0,301.7 281.0,302.8 283.8,304.5 286.5,306.6Z" fill="none" stroke="rgb(255,165,0)" stroke-opacity="0.50" stroke-width="0.7"/>
<line x1="280.50" x2="280.50" y1="280.92" y2="372.10" stroke="#808080" stroke-width="0.55" stroke-dasharray="1.45 0.9"/>
<line x1="225.40" x2="315.40" y1="318.50" y2="318.50" stroke="#808080" stroke-width="0.55" stroke-dasharray="1.45 0.9"/>
</g>
<g clip-path="url(#c33)">
<line x1="368.50" x2="368.50" y1="280.92" y2="372.10" stroke="#808080" stroke-width="0.55" stroke-dasharray="1.45 0.9"/>
<path d="M315.40,371.96 316.40,371.89 317.40,371.78 318.40,371.63 319.40,371.41 320.40,371.12 321.40,370.73 322.40,370.21 323.40,369.54 324.40,368.69 325.40,367.62 326.40,366.31 327.40,364.72 328.40,362.82 329.40,360.59 330.40,358.02 331.40,355.09 332.40,351.80 333.40,348.17 334.40,344.23 335.40,339.99 336.40,335.53 337.40,330.89 338.40,326.14 339.40,321.36 340.40,316.64 341.40,312.06 342.40,307.70 343.40,303.66 344.40,300.00 345.40,296.79 346.40,294.11 347.40,291.98 348.40,290.44 349.40,289.52 350.40,289.21 351.40,289.51 352.40,290.40 353.40,291.84 354.40,293.79 355.40,296.19 356.40,298.99 357.40,302.13 358.40,305.55 359.40,309.17 360.40,312.95 361.40,316.81 362.40,320.71 363.40,324.59 364.40,328.41 365.40,332.13 366.40,335.72 367.40,339.14 368.40,342.39 369.40,345.44 370.40,348.29 371.40,350.93 372.40,353.36 373.40,355.58 374.40,357.59 375.40,359.42 376.40,361.06 377.40,362.52 378.40,363.82 379.40,364.97 380.40,365.98 381.40,366.87 382.40,367.65 383.40,368.32 384.40,368.90 385.40,369.40 386.40,369.83 387.40,370.20 388.40,370.51 389.40,370.78 390.40,371.00 391.40,371.19 392.40,371.35 393.40,371.48 394.40,371.59 395.40,371.68 396.40,371.76 397.40,371.82 398.40,371.87 399.40,371.92 400.40,371.95 401.40,371.98 402.40,372.00 403.40,372.02 404.40,372.04 405.40,372.05" fill="none" stroke="rgb(65,105,225)" stroke-width="1.55" stroke-linejoin="round"/>
<path d="M315.40,372.08 316.40,372.07 317.40,372.04 318.40,372.00 319.40,371.95 320.40,371.86 321.40,371.73 322.40,371.54 323.40,371.26 324.40,370.89 325.40,370.38 326.40,369.70 327.40,368.81 328.40,367.67 329.40,366.24 330.40,364.48 331.40,362.35 332.40,359.82 333.40,356.86 334.40,353.48 335.40,349.66 336.40,345.45 337.40,340.87 338.40,335.99 339.40,330.88 340.40,325.64 341.40,320.37 342.40,315.17 343.40,310.18 344.40,305.50 345.40,301.25 346.40,297.53 347.40,294.43 348.40,292.01 349.40,290.32 350.40,289.40 351.40,289.25 352.40,289.85 353.40,291.17 354.40,293.15 355.40,295.73 356.40,298.84 357.40,302.38 358.40,306.27 359.40,310.42 360.40,314.73 361.40,319.13 362.40,323.54 363.40,327.88 364.40,332.11 365.40,336.18 366.40,340.04 367.40,343.66 368.40,347.03 369.40,350.13 370.40,352.96 371.40,355.52 372.40,357.82 373.40,359.87 374.40,361.68 375.40,363.27 376.40,364.65 377.40,365.85 378.40,366.88 379.40,367.76 380.40,368.51 381.40,369.14 382.40,369.68 383.40,370.12 384.40,370.49 385.40,370.80 386.40,371.05 387.40,371.26 388.40,371.43 389.40,371.56 390.40,371.67 391.40,371.76 392.40,371.83 393.40,371.89 394.40,371.94 395.40,371.97 396.40,372.00 397.40,372.02 398.40,372.04 399.40,372.05 400.40,372.06 401.40,372.07 402.40,372.08 403.40,372.08 404.40,372.09 405.40,372.09" fill="none" stroke="rgb(0,128,0)" stroke-width="1.55" stroke-linejoin="round"/>
<path d="M315.40,372.07 316.40,372.05 317.40,372.01 318.40,371.94 319.40,371.84 320.40,371.67 321.40,371.43 322.40,371.09 323.40,370.61 324.40,369.96 325.40,369.09 326.40,367.97 327.40,366.56 328.40,364.82 329.40,362.72 330.40,360.23 331.40,357.34 332.40,354.06 333.40,350.38 334.40,346.35 335.40,342.01 336.40,337.40 337.40,332.60 338.40,327.70 339.40,322.76 340.40,317.89 341.40,313.17 342.40,308.69 343.40,304.54 344.40,300.78 345.40,297.49 346.40,294.70 347.40,292.47 348.40,290.81 349.40,289.74 350.40,289.25 351.40,289.33 352.40,289.96 353.40,291.10 354.40,292.71 355.40,294.75 356.40,297.16 357.40,299.88 358.40,302.86 359.40,306.06 360.40,309.41 361.40,312.86 362.40,316.38 363.40,319.91 364.40,323.41 365.40,326.87 366.40,330.24 367.40,333.50 368.40,336.63 369.40,339.62 370.40,342.46 371.40,345.13 372.40,347.64 373.40,349.99 374.40,352.16 375.40,354.17 376.40,356.02 377.40,357.72 378.40,359.27 379.40,360.68 380.40,361.96 381.40,363.12 382.40,364.16 383.40,365.09 384.40,365.93 385.40,366.68 386.40,367.35 387.40,367.94 388.40,368.46 389.40,368.93 390.40,369.34 391.40,369.70 392.40,370.01 393.40,370.29 394.40,370.53 395.40,370.75 396.40,370.93 397.40,371.09 398.40,371.23 399.40,371.35 400.40,371.46 401.40,371.55 402.40,371.63 403.40,371.70 404.40,371.75 405.40,371.81" fill="none" stroke="rgb(255,165,0)" stroke-width="1.55" stroke-linejoin="round"/>
</g>
<g clip-path="url(#c40)">
<path d="M104.3,421.3 108.1,424.6 111.6,428.1 114.7,431.8 117.5,435.7 119.7,438.4 121.5,440.2 122.6,442.0 123.3,443.8 123.3,445.5 122.7,447.2 121.7,448.7 120.1,450.1 118.0,451.4 115.6,452.4 112.8,453.2 109.8,453.8 106.5,454.1 103.1,454.0 99.6,453.7 96.1,453.1 92.6,452.2 89.2,451.1 86.2,449.7 83.3,448.1 80.5,446.3 77.9,444.4 75.5,442.3 73.3,440.2 71.3,438.1 69.5,434.3 67.9,429.7 66.6,425.3 65.5,421.1 64.7,417.4 64.2,414.0 64.0,411.1 64.1,408.6 64.6,406.7 65.4,405.2 66.5,404.1 68.1,403.6 70.0,403.4 72.3,403.7 74.9,404.4 77.8,405.4 81.1,406.8 84.5,408.5 88.1,410.5 92.0,412.8 96.2,415.3 100.3,418.2Z M98.3,428.5 100.5,430.3 102.5,432.3 104.3,434.3 105.8,436.5 107.1,438.0 108.1,439.0 108.8,440.0 109.1,441.1 109.1,442.1 108.8,443.0 108.2,444.0 107.3,444.8 106.2,445.5 104.8,446.1 103.2,446.6 101.5,446.9 99.6,447.0 97.7,447.0 95.7,446.9 93.7,446.5 91.7,446.0 89.7,445.3 87.7,444.5 85.9,443.6 84.1,442.5 82.5,441.4 80.9,440.2 79.5,439.0 78.2,437.8 77.0,435.7 76.0,433.1 75.2,430.7 74.5,428.4 74.0,426.4 73.7,424.5 73.5,422.9 73.6,421.6 73.9,420.5 74.4,419.7 75.2,419.1 76.1,418.8 77.4,418.7 78.8,418.9 80.5,419.2 82.4,419.8 84.5,420.5 86.7,421.5 89.0,422.6 91.4,423.8 93.7,425.3 96.1,426.8Z" fill="rgb(179,195,243)" fill-opacity="0.5" fill-rule="evenodd"/>
<path d="M98.3,428.5 100.5,430.3 102.5,432.3 104.3,434.3 105.8,436.5 107.1,438.0 108.1,439.0 108.8,440.0 109.1,441.1 109.1,442.1 108.8,443.0 108.2,444.0 107.3,444.8 106.2,445.5 104.8,446.1 103.2,446.6 101.5,446.9 99.6,447.0 97.7,447.0 95.7,446.9 93.7,446.5 91.7,446.0 89.7,445.3 87.7,444.5 85.9,443.6 84.1,442.5 82.5,441.4 80.9,440.2 79.5,439.0 78.2,437.8 77.0,435.7 76.0,433.1 75.2,430.7 74.5,428.4 74.0,426.4 73.7,424.5 73.5,422.9 73.6,421.6 73.9,420.5 74.4,419.7 75.2,419.1 76.1,418.8 77.4,418.7 78.8,418.9 80.5,419.2 82.4,419.8 84.5,420.5 86.7,421.5 89.0,422.6 91.4,423.8 93.7,425.3 96.1,426.8Z" fill="rgb(65,105,225)" fill-opacity="0.5"/>
<path d="M104.3,421.3 108.1,424.6 111.6,428.1 114.7,431.8 117.5,435.7 119.7,438.4 121.5,440.2 122.6,442.0 123.3,443.8 123.3,445.5 122.7,447.2 121.7,448.7 120.1,450.1 118.0,451.4 115.6,452.4 112.8,453.2 109.8,453.8 106.5,454.1 103.1,454.0 99.6,453.7 96.1,453.1 92.6,452.2 89.2,451.1 86.2,449.7 83.3,448.1 80.5,446.3 77.9,444.4 75.5,442.3 73.3,440.2 71.3,438.1 69.5,434.3 67.9,429.7 66.6,425.3 65.5,421.1 64.7,417.4 64.2,414.0 64.0,411.1 64.1,408.6 64.6,406.7 65.4,405.2 66.5,404.1 68.1,403.6 70.0,403.4 72.3,403.7 74.9,404.4 77.8,405.4 81.1,406.8 84.5,408.5 88.1,410.5 92.0,412.8 96.2,415.3 100.3,418.2Z" fill="none" stroke="rgb(65,105,225)" stroke-opacity="0.50" stroke-width="0.7"/>
<path d="M103.0,413.9 106.3,417.3 109.3,420.9 112.1,424.7 114.5,428.6 116.4,431.4 117.9,433.2 119.0,435.1 119.5,437.0 119.5,438.8 119.1,440.6 118.1,442.2 116.7,443.7 115.0,445.0 112.8,446.1 110.4,447.0 107.8,447.5 104.9,447.8 102.0,447.8 98.9,447.5 95.8,446.9 92.8,445.9 89.8,444.7 86.9,443.2 84.0,441.6 81.4,439.7 78.9,437.6 76.6,435.5 74.4,433.3 72.5,431.1 70.7,427.2 69.2,422.5 68.0,418.0 66.9,413.8 66.2,410.0 65.7,406.6 65.4,403.6 65.6,401.2 66.0,399.2 66.8,397.6 67.9,396.6 69.4,396.0 71.2,395.9 73.4,396.1 76.0,396.8 78.8,397.9 81.9,399.2 85.2,401.0 88.7,403.0 92.3,405.3 95.9,407.9 99.5,410.8Z M98.2,421.7 100.2,423.5 102.0,425.4 103.7,427.3 105.1,429.4 106.3,431.0 107.2,432.3 107.8,433.5 108.1,434.8 108.1,436.0 107.9,437.2 107.3,438.3 106.5,439.3 105.4,440.2 104.1,441.0 102.7,441.5 101.1,441.9 99.4,442.1 97.6,442.1 95.8,441.9 93.9,441.5 92.1,440.8 90.2,440.0 88.4,439.0 86.6,437.9 84.9,436.6 83.4,435.2 81.9,433.8 80.5,432.3 79.3,430.8 78.2,428.6 77.3,426.2 76.5,423.8 75.8,421.7 75.3,419.7 75.0,417.9 74.9,416.4 74.9,415.1 75.2,414.0 75.7,413.2 76.4,412.7 77.4,412.4 78.5,412.3 79.9,412.4 81.5,412.8 83.3,413.3 85.3,414.1 87.4,415.0 89.6,416.0 91.8,417.2 94.0,418.6 96.1,420.1Z" fill="rgb(153,204,153)" fill-opacity="0.5" fill-rule="evenodd"/>
<path d="M98.2,421.7 100.2,423.5 102.0,425.4 103.7,427.3 105.1,429.4 106.3,431.0 107.2,432.3 107.8,433.5 108.1,434.8 108.1,436.0 107.9,437.2 107.3,438.3 106.5,439.3 105.4,440.2 104.1,441.0 102.7,441.5 101.1,441.9 99.4,442.1 97.6,442.1 95.8,441.9 93.9,441.5 92.1,440.8 90.2,440.0 88.4,439.0 86.6,437.9 84.9,436.6 83.4,435.2 81.9,433.8 80.5,432.3 79.3,430.8 78.2,428.6 77.3,426.2 76.5,423.8 75.8,421.7 75.3,419.7 75.0,417.9 74.9,416.4 74.9,415.1 75.2,414.0 75.7,413.2 76.4,412.7 77.4,412.4 78.5,412.3 79.9,412.4 81.5,412.8 83.3,413.3 85.3,414.1 87.4,415.0 89.6,416.0 91.8,417.2 94.0,418.6 96.1,420.1Z" fill="rgb(0,128,0)" fill-opacity="0.5"/>
<path d="M103.0,413.9 106.3,417.3 109.3,420.9 112.1,424.7 114.5,428.6 116.4,431.4 117.9,433.2 119.0,435.1 119.5,437.0 119.5,438.8 119.1,440.6 118.1,442.2 116.7,443.7 115.0,445.0 112.8,446.1 110.4,447.0 107.8,447.5 104.9,447.8 102.0,447.8 98.9,447.5 95.8,446.9 92.8,445.9 89.8,444.7 86.9,443.2 84.0,441.6 81.4,439.7 78.9,437.6 76.6,435.5 74.4,433.3 72.5,431.1 70.7,427.2 69.2,422.5 68.0,418.0 66.9,413.8 66.2,410.0 65.7,406.6 65.4,403.6 65.6,401.2 66.0,399.2 66.8,397.6 67.9,396.6 69.4,396.0 71.2,395.9 73.4,396.1 76.0,396.8 78.8,397.9 81.9,399.2 85.2,401.0 88.7,403.0 92.3,405.3 95.9,407.9 99.5,410.8Z" fill="none" stroke="rgb(0,128,0)" stroke-opacity="0.50" stroke-width="0.7"/>
<path d="M103.6,419.1 107.5,422.6 111.1,426.4 114.3,430.4 117.1,434.6 119.4,437.4 121.2,439.3 122.4,441.2 123.0,443.1 123.0,444.9 122.5,446.7 121.4,448.3 119.8,449.8 117.7,451.1 115.2,452.2 112.3,453.0 109.2,453.6 105.9,453.9 102.4,453.9 98.8,453.6 95.2,452.9 91.6,452.0 88.2,450.8 85.0,449.3 82.0,447.6 79.1,445.7 76.4,443.7 73.9,441.6 71.6,439.4 69.5,437.1 67.7,433.1 66.1,428.1 64.7,423.4 63.6,418.9 62.7,414.9 62.2,411.3 62.0,408.2 62.1,405.5 62.5,403.4 63.4,401.8 64.6,400.7 66.2,400.1 68.2,399.9 70.6,400.2 73.3,400.9 76.3,402.0 79.7,403.5 83.3,405.3 87.0,407.5 91.0,409.9 95.3,412.7 99.5,415.8Z M98.0,427.6 100.3,429.4 102.4,431.3 104.4,433.3 106.1,435.5 107.4,437.0 108.5,438.2 109.2,439.3 109.6,440.5 109.6,441.6 109.3,442.7 108.6,443.7 107.7,444.7 106.4,445.5 104.9,446.2 103.2,446.7 101.3,447.0 99.3,447.2 97.2,447.2 95.1,447.0 92.9,446.6 90.8,446.0 88.6,445.3 86.5,444.4 84.5,443.3 82.7,442.2 80.9,440.9 79.2,439.6 77.7,438.2 76.3,436.8 75.1,434.7 74.0,432.2 73.1,429.8 72.4,427.5 71.8,425.5 71.4,423.6 71.3,422.1 71.4,420.7 71.7,419.7 72.2,418.8 73.0,418.3 74.1,418.0 75.4,417.9 77.0,418.0 78.8,418.4 80.8,419.0 83.0,419.7 85.4,420.6 87.9,421.7 90.4,423.0 93.0,424.4 95.5,425.9Z" fill="rgb(255,219,153)" fill-opacity="0.5" fill-rule="evenodd"/>
<path d="M98.0,427.6 100.3,429.4 102.4,431.3 104.4,433.3 106.1,435.5 107.4,437.0 108.5,438.2 109.2,439.3 109.6,440.5 109.6,441.6 109.3,442.7 108.6,443.7 107.7,444.7 106.4,445.5 104.9,446.2 103.2,446.7 101.3,447.0 99.3,447.2 97.2,447.2 95.1,447.0 92.9,446.6 90.8,446.0 88.6,445.3 86.5,444.4 84.5,443.3 82.7,442.2 80.9,440.9 79.2,439.6 77.7,438.2 76.3,436.8 75.1,434.7 74.0,432.2 73.1,429.8 72.4,427.5 71.8,425.5 71.4,423.6 71.3,422.1 71.4,420.7 71.7,419.7 72.2,418.8 73.0,418.3 74.1,418.0 75.4,417.9 77.0,418.0 78.8,418.4 80.8,419.0 83.0,419.7 85.4,420.6 87.9,421.7 90.4,423.0 93.0,424.4 95.5,425.9Z" fill="rgb(255,165,0)" fill-opacity="0.5"/>
<path d="M103.6,419.1 107.5,422.6 111.1,426.4 114.3,430.4 117.1,434.6 119.4,437.4 121.2,439.3 122.4,441.2 123.0,443.1 123.0,444.9 122.5,446.7 121.4,448.3 119.8,449.8 117.7,451.1 115.2,452.2 112.3,453.0 109.2,453.6 105.9,453.9 102.4,453.9 98.8,453.6 95.2,452.9 91.6,452.0 88.2,450.8 85.0,449.3 82.0,447.6 79.1,445.7 76.4,443.7 73.9,441.6 71.6,439.4 69.5,437.1 67.7,433.1 66.1,428.1 64.7,423.4 63.6,418.9 62.7,414.9 62.2,411.3 62.0,408.2 62.1,405.5 62.5,403.4 63.4,401.8 64.6,400.7 66.2,400.1 68.2,399.9 70.6,400.2 73.3,400.9 76.3,402.0 79.7,403.5 83.3,405.3 87.0,407.5 91.0,409.9 95.3,412.7 99.5,415.8Z" fill="none" stroke="rgb(255,165,0)" stroke-opacity="0.50" stroke-width="0.7"/>
<line x1="72.50" x2="72.50" y1="372.10" y2="463.27" stroke="#808080" stroke-width="0.55" stroke-dasharray="1.45 0.9"/>
<line x1="45.40" x2="135.40" y1="424.50" y2="424.50" stroke="#808080" stroke-width="0.55" stroke-dasharray="1.45 0.9"/>
</g>
<g clip-path="url(#c41)">
<path d="M193.3,415.6 196.4,418.4 199.4,421.6 202.1,425.0 204.4,428.7 206.3,432.5 207.8,436.6 208.8,439.0 209.2,441.1 209.0,443.2 208.2,445.2 206.8,447.2 204.8,449.0 202.2,450.7 199.2,452.2 195.7,453.4 191.9,454.4 187.8,455.1 183.5,455.5 179.2,455.6 175.0,455.4 171.6,454.9 168.4,454.1 165.4,453.0 162.7,451.6 160.3,450.0 158.3,448.2 156.5,446.3 155.1,444.2 154.1,442.1 153.3,439.9 152.9,437.7 152.8,433.8 152.9,429.7 153.3,425.7 153.9,422.0 154.7,418.7 155.8,415.6 157.0,413.0 158.4,410.7 160.1,408.8 161.9,407.2 163.9,406.1 166.1,405.4 168.4,405.0 170.9,405.1 173.5,405.5 176.3,406.3 179.7,407.4 183.1,409.0 186.5,410.8 190.0,413.0Z M186.5,425.8 188.4,427.3 190.2,429.0 191.9,430.8 193.3,432.7 194.5,434.8 195.4,436.9 196.0,438.4 196.2,439.7 196.1,441.0 195.6,442.2 194.7,443.4 193.5,444.5 192.0,445.6 190.1,446.5 187.9,447.3 185.6,447.9 183.1,448.3 180.5,448.6 177.8,448.6 175.3,448.5 173.1,448.2 171.0,447.7 169.1,447.0 167.4,446.2 165.8,445.2 164.5,444.1 163.4,442.9 162.5,441.6 161.8,440.3 161.3,438.9 161.1,437.6 161.0,435.5 161.0,433.3 161.3,431.2 161.7,429.2 162.2,427.5 162.9,425.9 163.7,424.4 164.6,423.2 165.7,422.2 166.8,421.4 168.1,420.8 169.5,420.4 171.0,420.2 172.6,420.3 174.3,420.5 176.0,420.9 178.1,421.5 180.2,422.3 182.3,423.3 184.4,424.5Z" fill="rgb(179,195,243)" fill-opacity="0.5" fill-rule="evenodd"/>
<path d="M186.5,425.8 188.4,427.3 190.2,429.0 191.9,430.8 193.3,432.7 194.5,434.8 195.4,436.9 196.0,438.4 196.2,439.7 196.1,441.0 195.6,442.2 194.7,443.4 193.5,444.5 192.0,445.6 190.1,446.5 187.9,447.3 185.6,447.9 183.1,448.3 180.5,448.6 177.8,448.6 175.3,448.5 173.1,448.2 171.0,447.7 169.1,447.0 167.4,446.2 165.8,445.2 164.5,444.1 163.4,442.9 162.5,441.6 161.8,440.3 161.3,438.9 161.1,437.6 161.0,435.5 161.0,433.3 161.3,431.2 161.7,429.2 162.2,427.5 162.9,425.9 163.7,424.4 164.6,423.2 165.7,422.2 166.8,421.4 168.1,420.8 169.5,420.4 171.0,420.2 172.6,420.3 174.3,420.5 176.0,420.9 178.1,421.5 180.2,422.3 182.3,423.3 184.4,424.5Z" fill="rgb(65,105,225)" fill-opacity="0.5"/>
<path d="M193.3,415.6 196.4,418.4 199.4,421.6 202.1,425.0 204.4,428.7 206.3,432.5 207.8,436.6 208.8,439.0 209.2,441.1 209.0,443.2 208.2,445.2 206.8,447.2 204.8,449.0 202.2,450.7 199.2,452.2 195.7,453.4 191.9,454.4 187.8,455.1 183.5,455.5 179.2,455.6 175.0,455.4 171.6,454.9 168.4,454.1 165.4,453.0 162.7,451.6 160.3,450.0 158.3,448.2 156.5,446.3 155.1,444.2 154.1,442.1 153.3,439.9 152.9,437.7 152.8,433.8 152.9,429.7 153.3,425.7 153.9,422.0 154.7,418.7 155.8,415.6 157.0,413.0 158.4,410.7 160.1,408.8 161.9,407.2 163.9,406.1 166.1,405.4 168.4,405.0 170.9,405.1 173.5,405.5 176.3,406.3 179.7,407.4 183.1,409.0 186.5,410.8 190.0,413.0Z" fill="none" stroke="rgb(65,105,225)" stroke-opacity="0.50" stroke-width="0.7"/>
<path d="M192.1,409.6 195.4,412.6 198.5,416.0 201.3,419.5 203.7,423.3 205.8,427.3 207.5,430.8 208.6,433.0 209.2,435.2 209.2,437.3 208.6,439.4 207.4,441.3 205.6,443.1 203.3,444.8 200.4,446.2 197.1,447.4 193.4,448.3 189.5,449.0 185.3,449.3 181.1,449.3 176.9,448.9 173.3,448.3 170.0,447.3 167.0,446.1 164.2,444.6 161.7,442.8 159.5,440.9 157.6,438.8 156.1,436.6 154.9,434.4 154.0,432.1 153.4,429.3 153.1,425.0 153.0,420.8 153.3,416.9 153.7,413.2 154.4,409.9 155.4,406.9 156.5,404.3 157.8,402.1 159.4,400.3 161.1,398.9 163.0,397.9 165.1,397.4 167.4,397.2 169.9,397.5 172.4,398.1 175.1,399.2 178.4,400.5 181.8,402.3 185.3,404.4 188.8,406.8Z M186.5,419.2 188.4,420.6 190.2,422.2 191.9,424.0 193.3,425.8 194.5,427.8 195.4,429.9 196.0,431.5 196.2,433.0 196.1,434.6 195.6,436.0 194.7,437.5 193.5,438.8 192.0,440.1 190.1,441.1 187.9,442.1 185.6,442.8 183.1,443.3 180.5,443.6 177.8,443.7 175.3,443.5 173.1,443.2 171.0,442.6 169.1,441.7 167.4,440.7 165.9,439.6 164.6,438.3 163.4,436.8 162.6,435.3 161.9,433.7 161.4,432.1 161.1,430.5 161.0,428.4 161.1,426.3 161.4,424.3 161.8,422.5 162.3,420.8 163.0,419.2 163.8,417.8 164.7,416.7 165.7,415.7 166.9,414.9 168.2,414.4 169.5,414.0 171.0,413.8 172.6,413.8 174.3,414.1 176.0,414.5 178.1,415.0 180.2,415.8 182.3,416.8 184.4,417.9Z" fill="rgb(153,204,153)" fill-opacity="0.5" fill-rule="evenodd"/>
<path d="M186.5,419.2 188.4,420.6 190.2,422.2 191.9,424.0 193.3,425.8 194.5,427.8 195.4,429.9 196.0,431.5 196.2,433.0 196.1,434.6 195.6,436.0 194.7,437.5 193.5,438.8 192.0,440.1 190.1,441.1 187.9,442.1 185.6,442.8 183.1,443.3 180.5,443.6 177.8,443.7 175.3,443.5 173.1,443.2 171.0,442.6 169.1,441.7 167.4,440.7 165.9,439.6 164.6,438.3 163.4,436.8 162.6,435.3 161.9,433.7 161.4,432.1 161.1,430.5 161.0,428.4 161.1,426.3 161.4,424.3 161.8,422.5 162.3,420.8 163.0,419.2 163.8,417.8 164.7,416.7 165.7,415.7 166.9,414.9 168.2,414.4 169.5,414.0 171.0,413.8 172.6,413.8 174.3,414.1 176.0,414.5 178.1,415.0 180.2,415.8 182.3,416.8 184.4,417.9Z" fill="rgb(0,128,0)" fill-opacity="0.5"/>
<path d="M192.1,409.6 195.4,412.6 198.5,416.0 201.3,419.5 203.7,423.3 205.8,427.3 207.5,430.8 208.6,433.0 209.2,435.2 209.2,437.3 208.6,439.4 207.4,441.3 205.6,443.1 203.3,444.8 200.4,446.2 197.1,447.4 193.4,448.3 189.5,449.0 185.3,449.3 181.1,449.3 176.9,448.9 173.3,448.3 170.0,447.3 167.0,446.1 164.2,444.6 161.7,442.8 159.5,440.9 157.6,438.8 156.1,436.6 154.9,434.4 154.0,432.1 153.4,429.3 153.1,425.0 153.0,420.8 153.3,416.9 153.7,413.2 154.4,409.9 155.4,406.9 156.5,404.3 157.8,402.1 159.4,400.3 161.1,398.9 163.0,397.9 165.1,397.4 167.4,397.2 169.9,397.5 172.4,398.1 175.1,399.2 178.4,400.5 181.8,402.3 185.3,404.4 188.8,406.8Z" fill="none" stroke="rgb(0,128,0)" stroke-opacity="0.50" stroke-width="0.7"/>
<path d="M193.4,412.9 196.6,415.9 199.7,419.3 202.4,423.0 204.8,427.0 206.7,431.2 208.2,435.5 209.2,438.1 209.6,440.3 209.4,442.5 208.6,444.6 207.2,446.6 205.2,448.5 202.6,450.3 199.4,451.8 195.9,453.1 192.0,454.2 187.8,454.9 183.4,455.4 179.0,455.5 174.8,455.3 171.3,454.7 168.0,453.9 164.9,452.7 162.1,451.3 159.6,449.6 157.4,447.7 155.6,445.7 154.2,443.5 153.1,441.3 152.3,439.0 151.9,436.7 151.7,432.5 151.9,428.1 152.3,423.8 152.9,419.9 153.8,416.2 154.8,413.0 156.1,410.1 157.6,407.6 159.3,405.6 161.2,403.9 163.3,402.7 165.5,401.9 167.9,401.6 170.5,401.6 173.2,402.1 176.1,402.9 179.5,404.1 183.0,405.8 186.6,407.8 190.0,410.1Z M186.5,424.9 188.5,426.4 190.4,428.1 192.1,429.9 193.6,431.8 194.8,433.8 195.7,435.9 196.3,437.5 196.5,438.9 196.4,440.3 195.9,441.7 195.0,443.0 193.8,444.3 192.2,445.4 190.3,446.4 188.1,447.3 185.7,448.0 183.1,448.5 180.4,448.7 177.7,448.8 175.1,448.7 172.8,448.3 170.7,447.8 168.8,447.0 167.0,446.1 165.4,445.0 164.1,443.8 162.9,442.4 162.0,441.0 161.3,439.6 160.9,438.1 160.6,436.6 160.5,434.5 160.6,432.3 160.8,430.2 161.2,428.3 161.8,426.6 162.4,425.0 163.3,423.6 164.2,422.4 165.3,421.4 166.5,420.6 167.8,420.0 169.2,419.6 170.7,419.4 172.3,419.4 174.0,419.7 175.9,420.1 178.0,420.7 180.1,421.5 182.3,422.4 184.5,423.6Z" fill="rgb(255,219,153)" fill-opacity="0.5" fill-rule="evenodd"/>
<path d="M186.5,424.9 188.5,426.4 190.4,428.1 192.1,429.9 193.6,431.8 194.8,433.8 195.7,435.9 196.3,437.5 196.5,438.9 196.4,440.3 195.9,441.7 195.0,443.0 193.8,444.3 192.2,445.4 190.3,446.4 188.1,447.3 185.7,448.0 183.1,448.5 180.4,448.7 177.7,448.8 175.1,448.7 172.8,448.3 170.7,447.8 168.8,447.0 167.0,446.1 165.4,445.0 164.1,443.8 162.9,442.4 162.0,441.0 161.3,439.6 160.9,438.1 160.6,436.6 160.5,434.5 160.6,432.3 160.8,430.2 161.2,428.3 161.8,426.6 162.4,425.0 163.3,423.6 164.2,422.4 165.3,421.4 166.5,420.6 167.8,420.0 169.2,419.6 170.7,419.4 172.3,419.4 174.0,419.7 175.9,420.1 178.0,420.7 180.1,421.5 182.3,422.4 184.5,423.6Z" fill="rgb(255,165,0)" fill-opacity="0.5"/>
<path d="M193.4,412.9 196.6,415.9 199.7,419.3 202.4,423.0 204.8,427.0 206.7,431.2 208.2,435.5 209.2,438.1 209.6,440.3 209.4,442.5 208.6,444.6 207.2,446.6 205.2,448.5 202.6,450.3 199.4,451.8 195.9,453.1 192.0,454.2 187.8,454.9 183.4,455.4 179.0,455.5 174.8,455.3 171.3,454.7 168.0,453.9 164.9,452.7 162.1,451.3 159.6,449.6 157.4,447.7 155.6,445.7 154.2,443.5 153.1,441.3 152.3,439.0 151.9,436.7 151.7,432.5 151.9,428.1 152.3,423.8 152.9,419.9 153.8,416.2 154.8,413.0 156.1,410.1 157.6,407.6 159.3,405.6 161.2,403.9 163.3,402.7 165.5,401.9 167.9,401.6 170.5,401.6 173.2,402.1 176.1,402.9 179.5,404.1 183.0,405.8 186.6,407.8 190.0,410.1Z" fill="none" stroke="rgb(255,165,0)" stroke-opacity="0.50" stroke-width="0.7"/>
<line x1="166.50" x2="166.50" y1="372.10" y2="463.27" stroke="#808080" stroke-width="0.55" stroke-dasharray="1.45 0.9"/>
<line x1="135.40" x2="225.40" y1="424.50" y2="424.50" stroke="#808080" stroke-width="0.55" stroke-dasharray="1.45 0.9"/>
</g>
<g clip-path="url(#c42)">
<path d="M285.0,415.3 287.8,418.4 290.5,421.7 293.0,425.3 295.4,429.1 297.5,433.0 299.2,437.0 300.5,439.2 301.4,441.3 301.6,443.3 301.3,445.2 300.4,447.0 298.8,448.6 296.6,450.1 293.8,451.4 290.4,452.5 286.5,453.4 282.2,454.0 277.6,454.4 272.8,454.6 267.9,454.5 263.6,454.1 259.4,453.5 255.5,452.7 251.9,451.6 248.7,450.3 246.0,448.9 243.8,447.3 242.1,445.5 240.9,443.6 240.4,441.6 240.3,439.6 240.7,437.5 241.5,433.7 242.7,429.8 244.3,426.0 246.0,422.3 248.0,418.9 250.1,415.8 252.3,412.9 254.6,410.4 256.9,408.3 259.2,406.7 261.5,405.5 263.8,404.7 266.2,404.4 268.5,404.6 271.2,405.3 273.9,406.4 276.6,408.0 279.4,410.1 282.2,412.5Z M278.5,426.1 280.2,427.7 281.9,429.4 283.4,431.3 284.9,433.2 286.2,435.2 287.2,437.2 288.0,438.5 288.5,439.8 288.7,441.0 288.5,442.2 287.9,443.3 287.0,444.3 285.6,445.2 283.9,446.0 281.8,446.7 279.4,447.2 276.8,447.6 274.0,447.9 271.0,448.0 268.1,447.9 265.4,447.7 262.8,447.3 260.3,446.8 258.1,446.2 256.1,445.4 254.4,444.5 253.0,443.5 251.9,442.4 251.2,441.2 250.8,440.0 250.8,438.7 251.1,437.5 251.6,435.5 252.3,433.5 253.3,431.6 254.4,429.7 255.6,428.0 256.9,426.4 258.3,424.9 259.7,423.7 261.2,422.6 262.6,421.8 264.1,421.2 265.5,420.8 267.0,420.6 268.4,420.7 270.1,421.1 271.7,421.7 273.4,422.5 275.1,423.5 276.8,424.7Z" fill="rgb(179,195,243)" fill-opacity="0.5" fill-rule="evenodd"/>
<path d="M278.5,426.1 280.2,427.7 281.9,429.4 283.4,431.3 284.9,433.2 286.2,435.2 287.2,437.2 288.0,438.5 288.5,439.8 288.7,441.0 288.5,442.2 287.9,443.3 287.0,444.3 285.6,445.2 283.9,446.0 281.8,446.7 279.4,447.2 276.8,447.6 274.0,447.9 271.0,448.0 268.1,447.9 265.4,447.7 262.8,447.3 260.3,446.8 258.1,446.2 256.1,445.4 254.4,444.5 253.0,443.5 251.9,442.4 251.2,441.2 250.8,440.0 250.8,438.7 251.1,437.5 251.6,435.5 252.3,433.5 253.3,431.6 254.4,429.7 255.6,428.0 256.9,426.4 258.3,424.9 259.7,423.7 261.2,422.6 262.6,421.8 264.1,421.2 265.5,420.8 267.0,420.6 268.4,420.7 270.1,421.1 271.7,421.7 273.4,422.5 275.1,423.5 276.8,424.7Z" fill="rgb(65,105,225)" fill-opacity="0.5"/>
<path d="M285.0,415.3 287.8,418.4 290.5,421.7 293.0,425.3 295.4,429.1 297.5,433.0 299.2,437.0 300.5,439.2 301.4,441.3 301.6,443.3 301.3,445.2 300.4,447.0 298.8,448.6 296.6,450.1 293.8,451.4 290.4,452.5 286.5,453.4 282.2,454.0 277.6,454.4 272.8,454.6 267.9,454.5 263.6,454.1 259.4,453.5 255.5,452.7 251.9,451.6 248.7,450.3 246.0,448.9 243.8,447.3 242.1,445.5 240.9,443.6 240.4,441.6 240.3,439.6 240.7,437.5 241.5,433.7 242.7,429.8 244.3,426.0 246.0,422.3 248.0,418.9 250.1,415.8 252.3,412.9 254.6,410.4 256.9,408.3 259.2,406.7 261.5,405.5 263.8,404.7 266.2,404.4 268.5,404.6 271.2,405.3 273.9,406.4 276.6,408.0 279.4,410.1 282.2,412.5Z" fill="none" stroke="rgb(65,105,225)" stroke-opacity="0.50" stroke-width="0.7"/>
<path d="M282.3,407.8 284.8,411.0 287.2,414.4 289.5,418.1 291.6,421.9 293.5,425.9 295.0,429.9 296.2,432.2 297.0,434.4 297.2,436.5 296.9,438.5 296.1,440.3 294.7,442.1 292.7,443.6 290.1,445.0 287.1,446.1 283.6,447.0 279.8,447.7 275.6,448.1 271.3,448.3 266.9,448.2 262.9,447.8 258.9,447.2 255.2,446.3 251.7,445.2 248.7,443.9 246.1,442.3 244.0,440.6 242.4,438.8 241.3,436.8 240.8,434.7 240.7,432.6 241.1,430.4 241.9,426.6 243.0,422.6 244.5,418.7 246.2,415.0 248.0,411.5 250.0,408.3 252.1,405.5 254.3,402.9 256.5,400.8 258.7,399.1 260.9,397.9 263.1,397.1 265.3,396.8 267.5,397.0 269.9,397.7 272.3,398.9 274.8,400.5 277.3,402.5 279.8,405.0Z M276.6,419.5 278.2,421.0 279.7,422.7 281.1,424.4 282.4,426.3 283.6,428.2 284.5,430.1 285.3,431.6 285.7,433.2 285.9,434.6 285.7,436.0 285.2,437.3 284.3,438.5 283.1,439.6 281.5,440.6 279.6,441.4 277.4,442.0 275.0,442.5 272.5,442.8 269.8,442.9 267.1,442.8 264.5,442.6 262.1,442.1 259.8,441.5 257.7,440.7 255.8,439.8 254.2,438.7 252.9,437.6 251.9,436.2 251.2,434.9 250.9,433.4 250.8,431.9 251.0,430.4 251.5,428.5 252.3,426.6 253.1,424.7 254.2,423.0 255.4,421.3 256.6,419.8 257.9,418.4 259.2,417.2 260.6,416.2 261.9,415.3 263.3,414.7 264.7,414.4 266.0,414.2 267.4,414.3 268.9,414.7 270.4,415.2 271.9,416.0 273.5,417.0 275.1,418.2Z" fill="rgb(153,204,153)" fill-opacity="0.5" fill-rule="evenodd"/>
<path d="M276.6,419.5 278.2,421.0 279.7,422.7 281.1,424.4 282.4,426.3 283.6,428.2 284.5,430.1 285.3,431.6 285.7,433.2 285.9,434.6 285.7,436.0 285.2,437.3 284.3,438.5 283.1,439.6 281.5,440.6 279.6,441.4 277.4,442.0 275.0,442.5 272.5,442.8 269.8,442.9 267.1,442.8 264.5,442.6 262.1,442.1 259.8,441.5 257.7,440.7 255.8,439.8 254.2,438.7 252.9,437.6 251.9,436.2 251.2,434.9 250.9,433.4 250.8,431.9 251.0,430.4 251.5,428.5 252.3,426.6 253.1,424.7 254.2,423.0 255.4,421.3 256.6,419.8 257.9,418.4 259.2,417.2 260.6,416.2 261.9,415.3 263.3,414.7 264.7,414.4 266.0,414.2 267.4,414.3 268.9,414.7 270.4,415.2 271.9,416.0 273.5,417.0 275.1,418.2Z" fill="rgb(0,128,0)" fill-opacity="0.5"/>
<path d="M282.3,407.8 284.8,411.0 287.2,414.4 289.5,418.1 291.6,421.9 293.5,425.9 295.0,429.9 296.2,432.2 297.0,434.4 297.2,436.5 296.9,438.5 296.1,440.3 294.7,442.1 292.7,443.6 290.1,445.0 287.1,446.1 283.6,447.0 279.8,447.7 275.6,448.1 271.3,448.3 266.9,448.2 262.9,447.8 258.9,447.2 255.2,446.3 251.7,445.2 248.7,443.9 246.1,442.3 244.0,440.6 242.4,438.8 241.3,436.8 240.8,434.7 240.7,432.6 241.1,430.4 241.9,426.6 243.0,422.6 244.5,418.7 246.2,415.0 248.0,411.5 250.0,408.3 252.1,405.5 254.3,402.9 256.5,400.8 258.7,399.1 260.9,397.9 263.1,397.1 265.3,396.8 267.5,397.0 269.9,397.7 272.3,398.9 274.8,400.5 277.3,402.5 279.8,405.0Z" fill="none" stroke="rgb(0,128,0)" stroke-opacity="0.50" stroke-width="0.7"/>
<path d="M285.3,412.5 288.1,415.8 290.8,419.5 293.4,423.4 295.8,427.5 297.9,431.7 299.6,436.0 300.9,438.3 301.8,440.5 302.1,442.5 301.7,444.5 300.8,446.4 299.2,448.1 297.0,449.7 294.1,451.1 290.7,452.2 286.8,453.1 282.5,453.8 277.8,454.2 273.0,454.4 268.1,454.3 263.7,453.9 259.5,453.3 255.5,452.4 251.8,451.3 248.6,449.9 245.8,448.4 243.5,446.7 241.8,444.9 240.7,442.9 240.1,440.8 240.0,438.7 240.4,436.5 241.2,432.4 242.5,428.2 244.0,424.1 245.8,420.1 247.8,416.4 250.0,413.0 252.2,410.0 254.5,407.3 256.9,405.0 259.2,403.2 261.6,401.9 264.0,401.1 266.3,400.8 268.7,401.0 271.4,401.7 274.1,403.0 276.9,404.7 279.7,406.9 282.5,409.5Z M278.8,425.3 280.6,426.8 282.2,428.5 283.8,430.3 285.3,432.2 286.5,434.2 287.6,436.2 288.4,437.6 289.0,439.0 289.1,440.4 288.9,441.7 288.3,442.9 287.4,444.0 286.0,445.0 284.2,445.9 282.2,446.7 279.7,447.3 277.1,447.7 274.2,448.0 271.3,448.1 268.3,448.0 265.5,447.8 262.8,447.4 260.3,446.8 258.0,446.1 256.0,445.2 254.2,444.2 252.8,443.1 251.7,441.9 251.0,440.6 250.6,439.3 250.6,437.9 250.9,436.4 251.4,434.5 252.2,432.5 253.1,430.6 254.3,428.8 255.5,427.1 256.9,425.5 258.3,424.1 259.7,422.8 261.2,421.8 262.7,420.9 264.2,420.3 265.6,420.0 267.1,419.8 268.6,419.9 270.3,420.3 272.0,420.8 273.7,421.6 275.4,422.6 277.1,423.9Z" fill="rgb(255,219,153)" fill-opacity="0.5" fill-rule="evenodd"/>
<path d="M278.8,425.3 280.6,426.8 282.2,428.5 283.8,430.3 285.3,432.2 286.5,434.2 287.6,436.2 288.4,437.6 289.0,439.0 289.1,440.4 288.9,441.7 288.3,442.9 287.4,444.0 286.0,445.0 284.2,445.9 282.2,446.7 279.7,447.3 277.1,447.7 274.2,448.0 271.3,448.1 268.3,448.0 265.5,447.8 262.8,447.4 260.3,446.8 258.0,446.1 256.0,445.2 254.2,444.2 252.8,443.1 251.7,441.9 251.0,440.6 250.6,439.3 250.6,437.9 250.9,436.4 251.4,434.5 252.2,432.5 253.1,430.6 254.3,428.8 255.5,427.1 256.9,425.5 258.3,424.1 259.7,422.8 261.2,421.8 262.7,420.9 264.2,420.3 265.6,420.0 267.1,419.8 268.6,419.9 270.3,420.3 272.0,420.8 273.7,421.6 275.4,422.6 277.1,423.9Z" fill="rgb(255,165,0)" fill-opacity="0.5"/>
<path d="M285.3,412.5 288.1,415.8 290.8,419.5 293.4,423.4 295.8,427.5 297.9,431.7 299.6,436.0 300.9,438.3 301.8,440.5 302.1,442.5 301.7,444.5 300.8,446.4 299.2,448.1 297.0,449.7 294.1,451.1 290.7,452.2 286.8,453.1 282.5,453.8 277.8,454.2 273.0,454.4 268.1,454.3 263.7,453.9 259.5,453.3 255.5,452.4 251.8,451.3 248.6,449.9 245.8,448.4 243.5,446.7 241.8,444.9 240.7,442.9 240.1,440.8 240.0,438.7 240.4,436.5 241.2,432.4 242.5,428.2 244.0,424.1 245.8,420.1 247.8,416.4 250.0,413.0 252.2,410.0 254.5,407.3 256.9,405.0 259.2,403.2 261.6,401.9 264.0,401.1 266.3,400.8 268.7,401.0 271.4,401.7 274.1,403.0 276.9,404.7 279.7,406.9 282.5,409.5Z" fill="none" stroke="rgb(255,165,0)" stroke-opacity="0.50" stroke-width="0.7"/>
<line x1="280.50" x2="280.50" y1="372.10" y2="463.27" stroke="#808080" stroke-width="0.55" stroke-dasharray="1.45 0.9"/>
<line x1="225.40" x2="315.40" y1="424.50" y2="424.50" stroke="#808080" stroke-width="0.55" stroke-dasharray="1.45 0.9"/>
</g>
<g clip-path="url(#c43)">
<path d="M380.2,406.1 381.3,407.8 381.9,409.9 382.1,412.3 381.9,415.2 381.2,418.3 380.0,421.6 378.4,425.2 376.3,428.9 373.9,432.7 371.1,436.5 368.0,438.9 364.6,440.9 361.1,442.8 357.4,444.6 353.6,446.3 350.1,448.0 346.9,449.4 343.9,450.7 340.9,451.8 338.2,452.8 335.7,453.5 333.4,454.0 331.4,454.3 329.7,454.3 328.4,454.1 327.4,453.7 326.8,453.0 326.5,452.1 326.5,451.0 326.9,449.6 327.7,448.1 328.7,446.4 330.1,444.5 331.8,442.5 333.7,440.4 335.8,438.3 338.2,435.1 340.8,431.0 343.5,426.9 346.3,423.1 349.2,419.4 352.3,416.0 355.8,413.0 359.2,410.3 362.6,408.1 365.9,406.3 369.0,405.0 371.8,404.2 374.4,403.9 376.7,404.2 378.6,404.9Z M368.1,421.5 368.7,422.3 369.1,423.4 369.3,424.7 369.1,426.1 368.7,427.7 368.0,429.4 367.1,431.2 365.9,433.1 364.5,435.0 362.8,436.9 361.0,438.3 359.1,439.5 357.0,440.7 354.9,441.8 352.7,442.9 350.6,443.9 348.5,444.8 346.5,445.6 344.6,446.3 342.8,446.9 341.1,447.3 339.6,447.6 338.3,447.8 337.2,447.8 336.3,447.7 335.7,447.4 335.2,447.0 335.0,446.5 335.1,445.8 335.3,444.9 335.8,444.0 336.5,442.9 337.4,441.8 338.5,440.5 339.8,439.3 341.2,437.9 342.8,436.2 344.4,434.1 346.2,432.1 348.1,430.1 350.0,428.2 351.9,426.5 354.0,425.0 356.0,423.6 358.0,422.5 359.8,421.6 361.6,420.9 363.3,420.5 364.8,420.4 366.1,420.5 367.2,420.9Z" fill="rgb(179,195,243)" fill-opacity="0.5" fill-rule="evenodd"/>
<path d="M368.1,421.5 368.7,422.3 369.1,423.4 369.3,424.7 369.1,426.1 368.7,427.7 368.0,429.4 367.1,431.2 365.9,433.1 364.5,435.0 362.8,436.9 361.0,438.3 359.1,439.5 357.0,440.7 354.9,441.8 352.7,442.9 350.6,443.9 348.5,444.8 346.5,445.6 344.6,446.3 342.8,446.9 341.1,447.3 339.6,447.6 338.3,447.8 337.2,447.8 336.3,447.7 335.7,447.4 335.2,447.0 335.0,446.5 335.1,445.8 335.3,444.9 335.8,444.0 336.5,442.9 337.4,441.8 338.5,440.5 339.8,439.3 341.2,437.9 342.8,436.2 344.4,434.1 346.2,432.1 348.1,430.1 350.0,428.2 351.9,426.5 354.0,425.0 356.0,423.6 358.0,422.5 359.8,421.6 361.6,420.9 363.3,420.5 364.8,420.4 366.1,420.5 367.2,420.9Z" fill="rgb(65,105,225)" fill-opacity="0.5"/>
<path d="M380.2,406.1 381.3,407.8 381.9,409.9 382.1,412.3 381.9,415.2 381.2,418.3 380.0,421.6 378.4,425.2 376.3,428.9 373.9,432.7 371.1,436.5 368.0,438.9 364.6,440.9 361.1,442.8 357.4,444.6 353.6,446.3 350.1,448.0 346.9,449.4 343.9,450.7 340.9,451.8 338.2,452.8 335.7,453.5 333.4,454.0 331.4,454.3 329.7,454.3 328.4,454.1 327.4,453.7 326.8,453.0 326.5,452.1 326.5,451.0 326.9,449.6 327.7,448.1 328.7,446.4 330.1,444.5 331.8,442.5 333.7,440.4 335.8,438.3 338.2,435.1 340.8,431.0 343.5,426.9 346.3,423.1 349.2,419.4 352.3,416.0 355.8,413.0 359.2,410.3 362.6,408.1 365.9,406.3 369.0,405.0 371.8,404.2 374.4,403.9 376.7,404.2 378.6,404.9Z" fill="none" stroke="rgb(65,105,225)" stroke-opacity="0.50" stroke-width="0.7"/>
<path d="M378.9,398.9 380.1,400.7 380.9,403.0 381.2,405.6 381.1,408.6 380.5,411.8 379.5,415.3 378.0,419.0 376.1,422.8 373.8,426.6 371.2,430.4 368.2,432.5 365.0,434.5 361.6,436.5 358.1,438.4 354.4,440.1 350.9,441.8 348.1,443.3 345.3,444.6 342.6,445.7 340.1,446.6 337.8,447.3 335.7,447.7 333.9,448.0 332.3,448.0 331.1,447.7 330.1,447.2 329.5,446.4 329.1,445.4 329.1,444.2 329.4,442.7 330.0,441.1 330.8,439.2 332.0,437.3 333.4,435.2 335.1,433.0 336.9,430.7 339.0,426.9 341.2,422.7 343.6,418.7 346.1,414.8 348.7,411.1 351.3,407.7 354.6,404.7 358.0,402.1 361.3,399.9 364.5,398.2 367.6,397.0 370.4,396.4 373.0,396.2 375.3,396.6 377.3,397.5Z M366.0,415.2 366.7,416.1 367.1,417.2 367.3,418.5 367.2,419.9 366.9,421.4 366.3,423.1 365.6,424.9 364.6,426.7 363.3,428.5 361.9,430.4 360.4,431.8 358.7,433.3 356.9,434.6 355.0,436.0 353.0,437.2 351.1,438.3 349.2,439.4 347.3,440.3 345.5,441.1 343.8,441.7 342.2,442.2 340.8,442.5 339.5,442.7 338.5,442.7 337.6,442.5 337.0,442.1 336.5,441.6 336.3,440.9 336.3,440.0 336.5,439.0 336.9,437.8 337.5,436.6 338.2,435.2 339.2,433.7 340.3,432.2 341.6,430.6 343.0,428.7 344.5,426.7 346.1,424.7 347.8,422.8 349.6,421.1 351.4,419.5 353.2,418.0 355.0,416.8 356.7,415.7 358.4,414.9 360.0,414.4 361.5,414.0 362.9,414.0 364.1,414.2 365.2,414.6Z" fill="rgb(153,204,153)" fill-opacity="0.5" fill-rule="evenodd"/>
<path d="M366.0,415.2 366.7,416.1 367.1,417.2 367.3,418.5 367.2,419.9 366.9,421.4 366.3,423.1 365.6,424.9 364.6,426.7 363.3,428.5 361.9,430.4 360.4,431.8 358.7,433.3 356.9,434.6 355.0,436.0 353.0,437.2 351.1,438.3 349.2,439.4 347.3,440.3 345.5,441.1 343.8,441.7 342.2,442.2 340.8,442.5 339.5,442.7 338.5,442.7 337.6,442.5 337.0,442.1 336.5,441.6 336.3,440.9 336.3,440.0 336.5,439.0 336.9,437.8 337.5,436.6 338.2,435.2 339.2,433.7 340.3,432.2 341.6,430.6 343.0,428.7 344.5,426.7 346.1,424.7 347.8,422.8 349.6,421.1 351.4,419.5 353.2,418.0 355.0,416.8 356.7,415.7 358.4,414.9 360.0,414.4 361.5,414.0 362.9,414.0 364.1,414.2 365.2,414.6Z" fill="rgb(0,128,0)" fill-opacity="0.5"/>
<path d="M378.9,398.9 380.1,400.7 380.9,403.0 381.2,405.6 381.1,408.6 380.5,411.8 379.5,415.3 378.0,419.0 376.1,422.8 373.8,426.6 371.2,430.4 368.2,432.5 365.0,434.5 361.6,436.5 358.1,438.4 354.4,440.1 350.9,441.8 348.1,443.3 345.3,444.6 342.6,445.7 340.1,446.6 337.8,447.3 335.7,447.7 333.9,448.0 332.3,448.0 331.1,447.7 330.1,447.2 329.5,446.4 329.1,445.4 329.1,444.2 329.4,442.7 330.0,441.1 330.8,439.2 332.0,437.3 333.4,435.2 335.1,433.0 336.9,430.7 339.0,426.9 341.2,422.7 343.6,418.7 346.1,414.8 348.7,411.1 351.3,407.7 354.6,404.7 358.0,402.1 361.3,399.9 364.5,398.2 367.6,397.0 370.4,396.4 373.0,396.2 375.3,396.6 377.3,397.5Z" fill="none" stroke="rgb(0,128,0)" stroke-opacity="0.50" stroke-width="0.7"/>
<path d="M383.9,402.8 385.2,404.7 386.0,407.0 386.3,409.7 386.1,412.8 385.4,416.2 384.1,419.9 382.4,423.8 380.1,427.8 377.4,431.9 374.3,436.0 370.9,438.3 367.2,440.3 363.2,442.3 359.1,444.2 354.9,446.0 351.0,447.7 347.8,449.2 344.7,450.5 341.7,451.6 339.0,452.6 336.4,453.3 334.1,453.8 332.1,454.1 330.4,454.1 329.0,453.8 327.9,453.3 327.3,452.6 326.9,451.6 326.9,450.4 327.3,449.0 328.0,447.4 329.0,445.5 330.3,443.6 332.0,441.5 333.9,439.3 336.0,437.1 338.3,433.3 340.9,428.9 343.5,424.5 346.4,420.4 349.3,416.4 352.3,412.8 356.2,409.6 360.1,406.7 363.9,404.4 367.6,402.5 371.1,401.2 374.3,400.4 377.3,400.2 379.9,400.5 382.1,401.4Z M370.4,420.7 371.2,421.6 371.6,422.7 371.8,424.0 371.7,425.4 371.3,427.0 370.5,428.7 369.5,430.5 368.2,432.4 366.7,434.3 364.9,436.2 362.9,437.6 360.8,438.9 358.5,440.2 356.1,441.5 353.7,442.6 351.3,443.7 349.2,444.7 347.1,445.6 345.1,446.3 343.2,446.9 341.5,447.4 339.9,447.7 338.6,447.9 337.4,447.9 336.5,447.7 335.8,447.4 335.3,446.9 335.1,446.3 335.1,445.5 335.3,444.6 335.8,443.5 336.5,442.3 337.4,441.1 338.5,439.7 339.8,438.3 341.2,436.8 342.8,434.9 344.5,432.9 346.3,430.9 348.2,428.9 350.1,427.1 352.2,425.4 354.4,423.9 356.7,422.6 358.9,421.5 361.0,420.6 363.0,420.0 364.9,419.7 366.6,419.5 368.1,419.7 369.4,420.1Z" fill="rgb(255,219,153)" fill-opacity="0.5" fill-rule="evenodd"/>
<path d="M370.4,420.7 371.2,421.6 371.6,422.7 371.8,424.0 371.7,425.4 371.3,427.0 370.5,428.7 369.5,430.5 368.2,432.4 366.7,434.3 364.9,436.2 362.9,437.6 360.8,438.9 358.5,440.2 356.1,441.5 353.7,442.6 351.3,443.7 349.2,444.7 347.1,445.6 345.1,446.3 343.2,446.9 341.5,447.4 339.9,447.7 338.6,447.9 337.4,447.9 336.5,447.7 335.8,447.4 335.3,446.9 335.1,446.3 335.1,445.5 335.3,444.6 335.8,443.5 336.5,442.3 337.4,441.1 338.5,439.7 339.8,438.3 341.2,436.8 342.8,434.9 344.5,432.9 346.3,430.9 348.2,428.9 350.1,427.1 352.2,425.4 354.4,423.9 356.7,422.6 358.9,421.5 361.0,420.6 363.0,420.0 364.9,419.7 366.6,419.5 368.1,419.7 369.4,420.1Z" fill="rgb(255,165,0)" fill-opacity="0.5"/>
<path d="M383.9,402.8 385.2,404.7 386.0,407.0 386.3,409.7 386.1,412.8 385.4,416.2 384.1,419.9 382.4,423.8 380.1,427.8 377.4,431.9 374.3,436.0 370.9,438.3 367.2,440.3 363.2,442.3 359.1,444.2 354.9,446.0 351.0,447.7 347.8,449.2 344.7,450.5 341.7,451.6 339.0,452.6 336.4,453.3 334.1,453.8 332.1,454.1 330.4,454.1 329.0,453.8 327.9,453.3 327.3,452.6 326.9,451.6 326.9,450.4 327.3,449.0 328.0,447.4 329.0,445.5 330.3,443.6 332.0,441.5 333.9,439.3 336.0,437.1 338.3,433.3 340.9,428.9 343.5,424.5 346.4,420.4 349.3,416.4 352.3,412.8 356.2,409.6 360.1,406.7 363.9,404.4 367.6,402.5 371.1,401.2 374.3,400.4 377.3,400.2 379.9,400.5 382.1,401.4Z" fill="none" stroke="rgb(255,165,0)" stroke-opacity="0.50" stroke-width="0.7"/>
<line x1="368.50" x2="368.50" y1="372.10" y2="463.27" stroke="#808080" stroke-width="0.55" stroke-dasharray="1.45 0.9"/>
<line x1="315.40" x2="405.40" y1="424.50" y2="424.50" stroke="#808080" stroke-width="0.55" stroke-dasharray="1.45 0.9"/>
</g>
<g clip-path="url(#c44)">
<line x1="444.50" x2="444.50" y1="372.10" y2="463.27" stroke="#808080" stroke-width="0.55" stroke-dasharray="1.45 0.9"/>
<path d="M405.40,463.27 406.40,463.27 407.40,463.27 408.40,463.24 409.40,463.16 410.40,462.97 411.40,462.55 412.40,461.77 413.40,460.44 414.40,458.38 415.40,455.43 416.40,451.50 417.40,446.55 418.40,440.65 419.40,433.96 420.40,426.72 421.40,419.20 422.40,411.73 423.40,404.59 424.40,398.07 425.40,392.39 426.40,387.72 427.40,384.17 428.40,381.80 429.40,380.58 430.40,380.47 431.40,381.38 432.40,383.18 433.40,385.75 434.40,388.94 435.40,392.62 436.40,396.66 437.40,400.92 438.40,405.32 439.40,409.74 440.40,414.11 441.40,418.36 442.40,422.45 443.40,426.34 444.40,430.01 445.40,433.42 446.40,436.59 447.40,439.50 448.40,442.16 449.40,444.58 450.40,446.77 451.40,448.74 452.40,450.50 453.40,452.08 454.40,453.48 455.40,454.72 456.40,455.82 457.40,456.78 458.40,457.63 459.40,458.38 460.40,459.03 461.40,459.60 462.40,460.10 463.40,460.53 464.40,460.91 465.40,461.24 466.40,461.52 467.40,461.76 468.40,461.98 469.40,462.16 470.40,462.32 471.40,462.45 472.40,462.57 473.40,462.67 474.40,462.75 475.40,462.83 476.40,462.89 477.40,462.95 478.40,462.99 479.40,463.04 480.40,463.07 481.40,463.10 482.40,463.12 483.40,463.15 484.40,463.16 485.40,463.18 486.40,463.19 487.40,463.21 488.40,463.22 489.40,463.22 490.40,463.23 491.40,463.24 492.40,463.24 493.40,463.25 494.40,463.25 495.40,463.26" fill="none" stroke="rgb(65,105,225)" stroke-width="1.55" stroke-linejoin="round"/>
<path d="M405.40,463.27 406.40,463.27 407.40,463.27 408.40,463.27 409.40,463.27 410.40,463.27 411.40,463.27 412.40,463.27 413.40,463.27 414.40,463.25 415.40,463.19 416.40,463.06 417.40,462.78 418.40,462.25 419.40,461.34 420.40,459.89 421.40,457.77 422.40,454.83 423.40,451.00 424.40,446.26 425.40,440.67 426.40,434.36 427.40,427.52 428.40,420.38 429.40,413.22 430.40,406.30 431.40,399.87 432.40,394.14 433.40,389.30 434.40,385.46 435.40,382.69 436.40,381.01 437.40,380.39 438.40,380.78 439.40,382.08 440.40,384.18 441.40,386.96 442.40,390.28 443.40,394.03 444.40,398.09 445.40,402.34 446.40,406.68 447.40,411.03 448.40,415.32 449.40,419.49 450.40,423.49 451.40,427.29 452.40,430.87 453.40,434.20 454.40,437.30 455.40,440.14 456.40,442.74 457.40,445.10 458.40,447.24 459.40,449.16 460.40,450.88 461.40,452.42 462.40,453.79 463.40,455.00 464.40,456.07 465.40,457.02 466.40,457.85 467.40,458.57 468.40,459.21 469.40,459.76 470.40,460.25 471.40,460.66 472.40,461.03 473.40,461.34 474.40,461.62 475.40,461.85 476.40,462.05 477.40,462.23 478.40,462.38 479.40,462.51 480.40,462.62 481.40,462.72 482.40,462.80 483.40,462.87 484.40,462.93 485.40,462.98 486.40,463.02 487.40,463.06 488.40,463.09 489.40,463.12 490.40,463.14 491.40,463.16 492.40,463.18 493.40,463.19 494.40,463.20 495.40,463.22" fill="none" stroke="rgb(0,128,0)" stroke-width="1.55" stroke-linejoin="round"/>
<path d="M405.40,463.27 406.40,463.27 407.40,463.27 408.40,463.26 409.40,463.21 410.40,463.10 411.40,462.84 412.40,462.34 413.40,461.44 414.40,459.99 415.40,457.83 416.40,454.82 417.40,450.89 418.40,446.02 419.40,440.28 420.40,433.83 421.40,426.86 422.40,419.64 423.40,412.44 424.40,405.52 425.40,399.14 426.40,393.51 427.40,388.78 428.40,385.07 429.40,382.44 430.40,380.89 431.40,380.39 432.40,380.86 433.40,382.22 434.40,384.34 435.40,387.12 436.40,390.41 437.40,394.11 438.40,398.08 439.40,402.24 440.40,406.49 441.40,410.74 442.40,414.93 443.40,419.01 444.40,422.93 445.40,426.65 446.40,430.17 447.40,433.45 448.40,436.51 449.40,439.32 450.40,441.91 451.40,444.27 452.40,446.41 453.40,448.34 454.40,450.09 455.40,451.65 456.40,453.05 457.40,454.30 458.40,455.41 459.40,456.39 460.40,457.26 461.40,458.02 462.40,458.70 463.40,459.29 464.40,459.81 465.40,460.26 466.40,460.66 467.40,461.01 468.40,461.31 469.40,461.58 470.40,461.81 471.40,462.00 472.40,462.18 473.40,462.33 474.40,462.46 475.40,462.57 476.40,462.67 477.40,462.75 478.40,462.82 479.40,462.89 480.40,462.94 481.40,462.99 482.40,463.03 483.40,463.06 484.40,463.09 485.40,463.12 486.40,463.14 487.40,463.16 488.40,463.17 489.40,463.19 490.40,463.20 491.40,463.21 492.40,463.22 493.40,463.23 494.40,463.23 495.40,463.24" fill="none" stroke="rgb(255,165,0)" stroke-width="1.55" stroke-linejoin="round"/>
</g>
<g clip-path="url(#c50)">
<path d="M106.7,494.2 109.9,496.7 112.9,499.3 115.5,502.0 117.8,504.8 119.7,507.2 121.1,509.4 122.1,511.6 122.7,513.6 122.8,515.6 122.4,517.4 121.5,519.0 120.2,520.5 118.5,521.7 116.3,522.7 113.8,523.4 110.9,523.9 107.8,524.1 104.3,524.1 100.7,523.8 97.0,523.2 93.1,522.4 89.4,521.3 86.0,520.0 82.7,518.5 79.5,516.8 76.4,514.9 73.6,512.9 71.0,510.9 68.7,508.7 66.8,506.5 65.1,503.9 63.8,501.1 63.0,498.4 62.5,495.8 62.4,493.4 62.8,491.1 63.5,489.1 64.6,487.3 66.2,485.7 68.0,484.5 70.2,483.5 72.7,482.9 75.5,482.6 78.5,482.7 81.6,483.1 84.9,483.8 88.2,484.9 91.8,486.2 95.7,487.8 99.5,489.7 103.2,491.8Z M100.0,499.6 101.9,501.0 103.7,502.3 105.2,503.8 106.6,505.2 107.7,506.6 108.5,508.0 109.1,509.3 109.4,510.5 109.5,511.7 109.3,512.8 108.7,513.8 108.0,514.7 107.0,515.5 105.7,516.1 104.2,516.5 102.5,516.8 100.7,517.0 98.6,516.9 96.5,516.7 94.3,516.4 92.0,515.9 89.8,515.2 87.6,514.4 85.5,513.5 83.4,512.5 81.5,511.3 79.7,510.1 78.0,508.9 76.6,507.5 75.3,506.2 74.2,504.7 73.4,503.3 72.9,501.9 72.6,500.5 72.5,499.2 72.7,498.0 73.2,497.0 73.9,496.0 74.9,495.2 76.1,494.5 77.5,494.0 79.1,493.7 80.9,493.6 82.8,493.6 84.8,493.8 86.9,494.2 89.1,494.7 91.3,495.4 93.5,496.3 95.8,497.3 97.9,498.4Z" fill="rgb(179,195,243)" fill-opacity="0.5" fill-rule="evenodd"/>
<path d="M100.0,499.6 101.9,501.0 103.7,502.3 105.2,503.8 106.6,505.2 107.7,506.6 108.5,508.0 109.1,509.3 109.4,510.5 109.5,511.7 109.3,512.8 108.7,513.8 108.0,514.7 107.0,515.5 105.7,516.1 104.2,516.5 102.5,516.8 100.7,517.0 98.6,516.9 96.5,516.7 94.3,516.4 92.0,515.9 89.8,515.2 87.6,514.4 85.5,513.5 83.4,512.5 81.5,511.3 79.7,510.1 78.0,508.9 76.6,507.5 75.3,506.2 74.2,504.7 73.4,503.3 72.9,501.9 72.6,500.5 72.5,499.2 72.7,498.0 73.2,497.0 73.9,496.0 74.9,495.2 76.1,494.5 77.5,494.0 79.1,493.7 80.9,493.6 82.8,493.6 84.8,493.8 86.9,494.2 89.1,494.7 91.3,495.4 93.5,496.3 95.8,497.3 97.9,498.4Z" fill="rgb(65,105,225)" fill-opacity="0.5"/>
<path d="M106.7,494.2 109.9,496.7 112.9,499.3 115.5,502.0 117.8,504.8 119.7,507.2 121.1,509.4 122.1,511.6 122.7,513.6 122.8,515.6 122.4,517.4 121.5,519.0 120.2,520.5 118.5,521.7 116.3,522.7 113.8,523.4 110.9,523.9 107.8,524.1 104.3,524.1 100.7,523.8 97.0,523.2 93.1,522.4 89.4,521.3 86.0,520.0 82.7,518.5 79.5,516.8 76.4,514.9 73.6,512.9 71.0,510.9 68.7,508.7 66.8,506.5 65.1,503.9 63.8,501.1 63.0,498.4 62.5,495.8 62.4,493.4 62.8,491.1 63.5,489.1 64.6,487.3 66.2,485.7 68.0,484.5 70.2,483.5 72.7,482.9 75.5,482.6 78.5,482.7 81.6,483.1 84.9,483.8 88.2,484.9 91.8,486.2 95.7,487.8 99.5,489.7 103.2,491.8Z" fill="none" stroke="rgb(65,105,225)" stroke-opacity="0.50" stroke-width="0.7"/>
<path d="M111.5,511.5 113.7,513.1 115.6,514.8 117.1,516.4 118.2,518.0 119.0,519.7 119.3,521.3 119.2,522.9 118.7,524.7 117.8,526.4 116.5,528.2 114.8,529.9 112.8,531.7 110.5,533.5 107.9,535.3 105.0,537.0 102.0,538.6 98.7,540.0 95.4,541.3 92.0,542.4 88.7,543.2 85.5,543.7 82.3,543.8 79.3,543.5 76.4,542.9 73.8,541.8 71.4,540.3 69.3,538.4 67.5,536.2 66.0,533.6 64.9,530.8 64.2,527.8 63.9,524.7 64.0,521.6 64.5,518.6 65.3,515.7 66.6,513.0 68.2,510.5 70.1,508.3 72.3,506.4 74.8,504.9 77.6,503.8 80.5,503.1 83.6,502.7 86.8,502.7 90.0,503.1 93.4,503.7 96.8,504.6 100.1,505.7 103.3,507.0 106.2,508.4 109.0,509.9Z M103.8,516.1 105.1,517.0 106.3,518.0 107.2,518.9 107.9,519.9 108.4,520.8 108.6,521.8 108.5,522.8 108.2,523.8 107.7,524.9 106.9,526.0 105.8,527.1 104.6,528.2 103.1,529.4 101.5,530.5 99.7,531.5 97.8,532.5 95.8,533.4 93.7,534.3 91.6,534.9 89.5,535.4 87.5,535.7 85.5,535.8 83.6,535.6 81.8,535.2 80.1,534.5 78.6,533.6 77.3,532.4 76.1,531.0 75.2,529.4 74.6,527.7 74.1,525.8 73.9,523.8 74.0,521.9 74.3,520.2 74.8,518.5 75.6,516.9 76.6,515.5 77.8,514.2 79.2,513.1 80.8,512.2 82.5,511.6 84.4,511.1 86.3,510.9 88.3,510.9 90.4,511.1 92.5,511.5 94.6,512.0 96.7,512.7 98.6,513.4 100.5,514.2 102.2,515.1Z" fill="rgb(153,204,153)" fill-opacity="0.5" fill-rule="evenodd"/>
<path d="M103.8,516.1 105.1,517.0 106.3,518.0 107.2,518.9 107.9,519.9 108.4,520.8 108.6,521.8 108.5,522.8 108.2,523.8 107.7,524.9 106.9,526.0 105.8,527.1 104.6,528.2 103.1,529.4 101.5,530.5 99.7,531.5 97.8,532.5 95.8,533.4 93.7,534.3 91.6,534.9 89.5,535.4 87.5,535.7 85.5,535.8 83.6,535.6 81.8,535.2 80.1,534.5 78.6,533.6 77.3,532.4 76.1,531.0 75.2,529.4 74.6,527.7 74.1,525.8 73.9,523.8 74.0,521.9 74.3,520.2 74.8,518.5 75.6,516.9 76.6,515.5 77.8,514.2 79.2,513.1 80.8,512.2 82.5,511.6 84.4,511.1 86.3,510.9 88.3,510.9 90.4,511.1 92.5,511.5 94.6,512.0 96.7,512.7 98.6,513.4 100.5,514.2 102.2,515.1Z" fill="rgb(0,128,0)" fill-opacity="0.5"/>
<path d="M111.5,511.5 113.7,513.1 115.6,514.8 117.1,516.4 118.2,518.0 119.0,519.7 119.3,521.3 119.2,522.9 118.7,524.7 117.8,526.4 116.5,528.2 114.8,529.9 112.8,531.7 110.5,533.5 107.9,535.3 105.0,537.0 102.0,538.6 98.7,540.0 95.4,541.3 92.0,542.4 88.7,543.2 85.5,543.7 82.3,543.8 79.3,543.5 76.4,542.9 73.8,541.8 71.4,540.3 69.3,538.4 67.5,536.2 66.0,533.6 64.9,530.8 64.2,527.8 63.9,524.7 64.0,521.6 64.5,518.6 65.3,515.7 66.6,513.0 68.2,510.5 70.1,508.3 72.3,506.4 74.8,504.9 77.6,503.8 80.5,503.1 83.6,502.7 86.8,502.7 90.0,503.1 93.4,503.7 96.8,504.6 100.1,505.7 103.3,507.0 106.2,508.4 109.0,509.9Z" fill="none" stroke="rgb(0,128,0)" stroke-opacity="0.50" stroke-width="0.7"/>
<path d="M114.0,488.7 116.5,490.1 118.6,491.5 120.2,492.8 121.5,494.2 122.2,495.5 122.5,496.9 122.3,498.3 121.6,499.9 120.5,501.5 118.9,503.2 116.9,504.9 114.4,506.6 111.6,508.4 108.5,510.2 105.1,512.0 101.5,513.7 97.7,515.3 93.8,516.8 89.8,518.0 86.3,519.0 82.8,519.6 79.4,519.9 76.2,519.8 73.2,519.2 70.4,518.3 67.8,516.9 65.6,515.0 63.8,512.8 62.3,510.2 61.2,507.4 60.6,504.3 60.3,501.1 60.5,497.9 61.1,495.1 62.1,492.4 63.5,489.9 65.3,487.6 67.4,485.6 69.9,483.9 72.7,482.5 75.7,481.5 78.9,480.8 82.2,480.5 85.7,480.6 89.2,480.9 93.1,481.6 97.1,482.4 100.9,483.5 104.5,484.6 108.0,485.9 111.1,487.3Z M104.6,493.3 106.2,494.0 107.5,494.7 108.5,495.4 109.3,496.1 109.7,496.8 109.9,497.5 109.8,498.2 109.4,499.1 108.6,500.1 107.7,501.1 106.4,502.1 104.9,503.2 103.2,504.2 101.3,505.3 99.2,506.3 96.9,507.3 94.6,508.3 92.2,509.1 89.7,509.9 87.4,510.4 85.1,510.8 82.8,511.0 80.7,510.9 78.7,510.6 76.9,510.0 75.2,509.2 73.7,508.1 72.5,506.8 71.5,505.3 70.8,503.6 70.4,501.8 70.2,499.9 70.3,498.0 70.7,496.6 71.4,495.2 72.3,493.9 73.5,492.7 74.9,491.7 76.6,490.8 78.4,490.1 80.4,489.6 82.5,489.3 84.7,489.1 87.0,489.2 89.3,489.3 91.7,489.7 94.2,490.1 96.5,490.6 98.8,491.2 100.9,491.9 102.9,492.6Z" fill="rgb(255,219,153)" fill-opacity="0.5" fill-rule="evenodd"/>
<path d="M104.6,493.3 106.2,494.0 107.5,494.7 108.5,495.4 109.3,496.1 109.7,496.8 109.9,497.5 109.8,498.2 109.4,499.1 108.6,500.1 107.7,501.1 106.4,502.1 104.9,503.2 103.2,504.2 101.3,505.3 99.2,506.3 96.9,507.3 94.6,508.3 92.2,509.1 89.7,509.9 87.4,510.4 85.1,510.8 82.8,511.0 80.7,510.9 78.7,510.6 76.9,510.0 75.2,509.2 73.7,508.1 72.5,506.8 71.5,505.3 70.8,503.6 70.4,501.8 70.2,499.9 70.3,498.0 70.7,496.6 71.4,495.2 72.3,493.9 73.5,492.7 74.9,491.7 76.6,490.8 78.4,490.1 80.4,489.6 82.5,489.3 84.7,489.1 87.0,489.2 89.3,489.3 91.7,489.7 94.2,490.1 96.5,490.6 98.8,491.2 100.9,491.9 102.9,492.6Z" fill="rgb(255,165,0)" fill-opacity="0.5"/>
<path d="M114.0,488.7 116.5,490.1 118.6,491.5 120.2,492.8 121.5,494.2 122.2,495.5 122.5,496.9 122.3,498.3 121.6,499.9 120.5,501.5 118.9,503.2 116.9,504.9 114.4,506.6 111.6,508.4 108.5,510.2 105.1,512.0 101.5,513.7 97.7,515.3 93.8,516.8 89.8,518.0 86.3,519.0 82.8,519.6 79.4,519.9 76.2,519.8 73.2,519.2 70.4,518.3 67.8,516.9 65.6,515.0 63.8,512.8 62.3,510.2 61.2,507.4 60.6,504.3 60.3,501.1 60.5,497.9 61.1,495.1 62.1,492.4 63.5,489.9 65.3,487.6 67.4,485.6 69.9,483.9 72.7,482.5 75.7,481.5 78.9,480.8 82.2,480.5 85.7,480.6 89.2,480.9 93.1,481.6 97.1,482.4 100.9,483.5 104.5,484.6 108.0,485.9 111.1,487.3Z" fill="none" stroke="rgb(255,165,0)" stroke-opacity="0.50" stroke-width="0.7"/>
<line x1="72.50" x2="72.50" y1="463.27" y2="554.45" stroke="#808080" stroke-width="0.55" stroke-dasharray="1.45 0.9"/>
<line x1="45.40" x2="135.40" y1="496.50" y2="496.50" stroke="#808080" stroke-width="0.55" stroke-dasharray="1.45 0.9"/>
</g>
<g clip-path="url(#c51)">
<path d="M193.9,492.1 196.7,494.4 199.3,496.9 201.5,499.5 203.3,502.3 204.7,505.1 205.7,507.4 206.3,509.6 206.4,511.8 206.1,513.8 205.3,515.8 204.1,517.5 202.5,519.2 200.5,520.6 198.1,521.8 195.4,522.8 192.4,523.5 189.2,524.0 185.8,524.2 182.2,524.1 178.5,523.7 175.0,523.1 171.9,522.3 169.0,521.2 166.1,519.9 163.3,518.3 160.8,516.6 158.5,514.8 156.4,512.8 154.6,510.6 153.1,508.5 151.9,506.3 151.1,503.6 150.6,500.8 150.5,498.2 150.8,495.6 151.4,493.2 152.4,490.9 153.7,488.9 155.4,487.1 157.3,485.6 159.5,484.4 162.0,483.5 164.6,482.9 167.4,482.6 170.4,482.7 173.4,483.1 176.6,483.9 180.3,485.0 183.9,486.3 187.4,488.0 190.7,489.9Z M186.8,498.5 188.6,499.8 190.1,501.1 191.5,502.5 192.6,503.9 193.5,505.4 194.1,506.8 194.4,508.1 194.5,509.4 194.3,510.7 193.8,511.8 193.1,512.9 192.1,513.9 190.9,514.8 189.4,515.5 187.8,516.1 185.9,516.6 184.0,516.8 181.9,517.0 179.7,516.9 177.4,516.7 175.2,516.3 173.3,515.8 171.4,515.2 169.5,514.4 167.8,513.4 166.1,512.4 164.6,511.2 163.3,510.0 162.1,508.7 161.1,507.4 160.4,506.0 159.9,504.6 159.6,503.2 159.5,501.7 159.7,500.4 160.1,499.1 160.7,497.9 161.6,496.9 162.6,495.9 163.9,495.1 165.3,494.5 166.9,494.0 168.6,493.7 170.4,493.6 172.3,493.6 174.2,493.8 176.2,494.2 178.5,494.8 180.7,495.5 182.9,496.4 184.9,497.4Z" fill="rgb(179,195,243)" fill-opacity="0.5" fill-rule="evenodd"/>
<path d="M186.8,498.5 188.6,499.8 190.1,501.1 191.5,502.5 192.6,503.9 193.5,505.4 194.1,506.8 194.4,508.1 194.5,509.4 194.3,510.7 193.8,511.8 193.1,512.9 192.1,513.9 190.9,514.8 189.4,515.5 187.8,516.1 185.9,516.6 184.0,516.8 181.9,517.0 179.7,516.9 177.4,516.7 175.2,516.3 173.3,515.8 171.4,515.2 169.5,514.4 167.8,513.4 166.1,512.4 164.6,511.2 163.3,510.0 162.1,508.7 161.1,507.4 160.4,506.0 159.9,504.6 159.6,503.2 159.5,501.7 159.7,500.4 160.1,499.1 160.7,497.9 161.6,496.9 162.6,495.9 163.9,495.1 165.3,494.5 166.9,494.0 168.6,493.7 170.4,493.6 172.3,493.6 174.2,493.8 176.2,494.2 178.5,494.8 180.7,495.5 182.9,496.4 184.9,497.4Z" fill="rgb(65,105,225)" fill-opacity="0.5"/>
<path d="M193.9,492.1 196.7,494.4 199.3,496.9 201.5,499.5 203.3,502.3 204.7,505.1 205.7,507.4 206.3,509.6 206.4,511.8 206.1,513.8 205.3,515.8 204.1,517.5 202.5,519.2 200.5,520.6 198.1,521.8 195.4,522.8 192.4,523.5 189.2,524.0 185.8,524.2 182.2,524.1 178.5,523.7 175.0,523.1 171.9,522.3 169.0,521.2 166.1,519.9 163.3,518.3 160.8,516.6 158.5,514.8 156.4,512.8 154.6,510.6 153.1,508.5 151.9,506.3 151.1,503.6 150.6,500.8 150.5,498.2 150.8,495.6 151.4,493.2 152.4,490.9 153.7,488.9 155.4,487.1 157.3,485.6 159.5,484.4 162.0,483.5 164.6,482.9 167.4,482.6 170.4,482.7 173.4,483.1 176.6,483.9 180.3,485.0 183.9,486.3 187.4,488.0 190.7,489.9Z" fill="none" stroke="rgb(65,105,225)" stroke-opacity="0.50" stroke-width="0.7"/>
<path d="M199.3,509.8 201.5,511.4 203.3,513.0 204.6,514.6 205.6,516.4 206.1,518.2 206.2,520.0 205.8,521.8 205.0,523.8 203.8,525.7 202.1,527.7 200.1,529.7 197.7,531.7 195.0,533.6 192.0,535.5 188.8,537.2 185.4,538.9 181.8,540.3 178.2,541.6 174.7,542.6 171.7,543.3 168.7,543.8 165.8,543.8 163.1,543.6 160.6,542.9 158.2,541.9 156.2,540.6 154.4,538.8 152.9,536.8 151.8,534.5 151.0,531.9 150.6,529.2 150.5,526.3 150.8,523.4 151.5,520.6 152.5,517.9 153.9,515.3 155.6,512.9 157.5,510.7 159.8,508.7 162.2,507.1 164.9,505.7 167.7,504.7 170.7,504.0 173.7,503.7 176.9,503.6 180.6,503.8 184.2,504.3 187.7,505.1 190.9,506.0 194.0,507.1 196.8,508.4Z M190.3,515.1 191.6,516.0 192.7,516.9 193.5,517.9 194.1,518.9 194.4,519.9 194.5,521.0 194.3,522.1 193.8,523.3 193.0,524.5 192.0,525.8 190.7,527.0 189.3,528.2 187.6,529.4 185.7,530.6 183.8,531.7 181.7,532.7 179.5,533.6 177.2,534.4 175.1,535.0 173.1,535.5 171.2,535.8 169.4,535.8 167.7,535.7 166.0,535.3 164.5,534.6 163.2,533.8 162.1,532.7 161.2,531.4 160.4,530.0 159.9,528.4 159.7,526.7 159.6,524.9 159.8,523.0 160.2,521.4 160.9,519.8 161.8,518.3 162.8,516.8 164.1,515.6 165.5,514.4 167.1,513.5 168.8,512.7 170.6,512.1 172.5,511.7 174.4,511.5 176.5,511.4 178.7,511.6 180.9,511.9 183.1,512.3 185.1,512.8 187.0,513.5 188.7,514.3Z" fill="rgb(153,204,153)" fill-opacity="0.5" fill-rule="evenodd"/>
<path d="M190.3,515.1 191.6,516.0 192.7,516.9 193.5,517.9 194.1,518.9 194.4,519.9 194.5,521.0 194.3,522.1 193.8,523.3 193.0,524.5 192.0,525.8 190.7,527.0 189.3,528.2 187.6,529.4 185.7,530.6 183.8,531.7 181.7,532.7 179.5,533.6 177.2,534.4 175.1,535.0 173.1,535.5 171.2,535.8 169.4,535.8 167.7,535.7 166.0,535.3 164.5,534.6 163.2,533.8 162.1,532.7 161.2,531.4 160.4,530.0 159.9,528.4 159.7,526.7 159.6,524.9 159.8,523.0 160.2,521.4 160.9,519.8 161.8,518.3 162.8,516.8 164.1,515.6 165.5,514.4 167.1,513.5 168.8,512.7 170.6,512.1 172.5,511.7 174.4,511.5 176.5,511.4 178.7,511.6 180.9,511.9 183.1,512.3 185.1,512.8 187.0,513.5 188.7,514.3Z" fill="rgb(0,128,0)" fill-opacity="0.5"/>
<path d="M199.3,509.8 201.5,511.4 203.3,513.0 204.6,514.6 205.6,516.4 206.1,518.2 206.2,520.0 205.8,521.8 205.0,523.8 203.8,525.7 202.1,527.7 200.1,529.7 197.7,531.7 195.0,533.6 192.0,535.5 188.8,537.2 185.4,538.9 181.8,540.3 178.2,541.6 174.7,542.6 171.7,543.3 168.7,543.8 165.8,543.8 163.1,543.6 160.6,542.9 158.2,541.9 156.2,540.6 154.4,538.8 152.9,536.8 151.8,534.5 151.0,531.9 150.6,529.2 150.5,526.3 150.8,523.4 151.5,520.6 152.5,517.9 153.9,515.3 155.6,512.9 157.5,510.7 159.8,508.7 162.2,507.1 164.9,505.7 167.7,504.7 170.7,504.0 173.7,503.7 176.9,503.6 180.6,503.8 184.2,504.3 187.7,505.1 190.9,506.0 194.0,507.1 196.8,508.4Z" fill="none" stroke="rgb(0,128,0)" stroke-opacity="0.50" stroke-width="0.7"/>
<path d="M198.7,487.4 201.1,488.9 203.1,490.4 204.6,491.9 205.8,493.5 206.5,495.1 206.8,496.7 206.6,498.3 206.0,500.1 204.9,502.0 203.4,503.8 201.4,505.7 199.1,507.5 196.5,509.3 193.5,511.1 190.3,512.8 186.9,514.4 183.3,515.8 179.6,517.0 175.8,518.0 172.6,518.7 169.5,519.2 166.5,519.2 163.6,518.9 160.9,518.3 158.4,517.2 156.1,515.8 154.2,514.0 152.5,511.8 151.2,509.4 150.2,506.7 149.6,503.9 149.4,500.9 149.6,497.9 150.1,495.2 151.0,492.7 152.3,490.2 153.9,488.0 155.8,486.0 158.0,484.2 160.5,482.8 163.1,481.7 166.0,480.9 169.0,480.4 172.1,480.3 175.2,480.5 179.0,480.9 182.7,481.6 186.3,482.4 189.8,483.5 193.0,484.7 196.0,486.0Z M189.8,492.5 191.3,493.3 192.5,494.1 193.5,494.9 194.2,495.7 194.6,496.5 194.8,497.4 194.7,498.2 194.3,499.3 193.6,500.4 192.7,501.5 191.5,502.6 190.1,503.7 188.4,504.7 186.6,505.8 184.6,506.8 182.5,507.7 180.3,508.6 178.0,509.3 175.7,509.9 173.7,510.3 171.7,510.5 169.8,510.6 168.0,510.4 166.3,510.0 164.7,509.4 163.3,508.5 162.0,507.5 161.0,506.2 160.1,504.8 159.5,503.2 159.1,501.5 159.0,499.8 159.1,498.0 159.4,496.6 160.0,495.3 160.8,494.0 161.8,492.8 163.0,491.7 164.4,490.8 166.0,490.1 167.7,489.5 169.5,489.1 171.4,488.8 173.3,488.8 175.3,488.8 177.6,489.1 179.9,489.4 182.2,489.9 184.3,490.4 186.3,491.1 188.1,491.8Z" fill="rgb(255,219,153)" fill-opacity="0.5" fill-rule="evenodd"/>
<path d="M189.8,492.5 191.3,493.3 192.5,494.1 193.5,494.9 194.2,495.7 194.6,496.5 194.8,497.4 194.7,498.2 194.3,499.3 193.6,500.4 192.7,501.5 191.5,502.6 190.1,503.7 188.4,504.7 186.6,505.8 184.6,506.8 182.5,507.7 180.3,508.6 178.0,509.3 175.7,509.9 173.7,510.3 171.7,510.5 169.8,510.6 168.0,510.4 166.3,510.0 164.7,509.4 163.3,508.5 162.0,507.5 161.0,506.2 160.1,504.8 159.5,503.2 159.1,501.5 159.0,499.8 159.1,498.0 159.4,496.6 160.0,495.3 160.8,494.0 161.8,492.8 163.0,491.7 164.4,490.8 166.0,490.1 167.7,489.5 169.5,489.1 171.4,488.8 173.3,488.8 175.3,488.8 177.6,489.1 179.9,489.4 182.2,489.9 184.3,490.4 186.3,491.1 188.1,491.8Z" fill="rgb(255,165,0)" fill-opacity="0.5"/>
<path d="M198.7,487.4 201.1,488.9 203.1,490.4 204.6,491.9 205.8,493.5 206.5,495.1 206.8,496.7 206.6,498.3 206.0,500.1 204.9,502.0 203.4,503.8 201.4,505.7 199.1,507.5 196.5,509.3 193.5,511.1 190.3,512.8 186.9,514.4 183.3,515.8 179.6,517.0 175.8,518.0 172.6,518.7 169.5,519.2 166.5,519.2 163.6,518.9 160.9,518.3 158.4,517.2 156.1,515.8 154.2,514.0 152.5,511.8 151.2,509.4 150.2,506.7 149.6,503.9 149.4,500.9 149.6,497.9 150.1,495.2 151.0,492.7 152.3,490.2 153.9,488.0 155.8,486.0 158.0,484.2 160.5,482.8 163.1,481.7 166.0,480.9 169.0,480.4 172.1,480.3 175.2,480.5 179.0,480.9 182.7,481.6 186.3,482.4 189.8,483.5 193.0,484.7 196.0,486.0Z" fill="none" stroke="rgb(255,165,0)" stroke-opacity="0.50" stroke-width="0.7"/>
<line x1="166.50" x2="166.50" y1="463.27" y2="554.45" stroke="#808080" stroke-width="0.55" stroke-dasharray="1.45 0.9"/>
<line x1="135.40" x2="225.40" y1="496.50" y2="496.50" stroke="#808080" stroke-width="0.55" stroke-dasharray="1.45 0.9"/>
</g>
<g clip-path="url(#c52)">
<path d="M289.2,490.2 291.9,492.4 294.2,494.8 296.1,497.3 297.6,500.0 298.7,502.7 299.3,505.5 299.5,507.8 299.2,509.9 298.5,512.1 297.4,514.1 295.8,516.0 293.8,517.8 291.4,519.4 288.7,520.8 285.8,522.0 282.5,522.9 279.1,523.6 275.5,524.0 271.7,524.2 268.0,524.0 264.7,523.7 261.4,523.0 258.2,522.1 255.2,521.0 252.3,519.6 249.7,518.1 247.4,516.4 245.3,514.5 243.6,512.4 242.3,510.3 241.3,508.1 240.8,505.9 240.6,503.2 240.8,500.4 241.5,497.8 242.5,495.2 243.9,492.8 245.7,490.6 247.8,488.6 250.1,486.8 252.8,485.4 255.7,484.2 258.7,483.4 261.9,482.8 265.2,482.6 268.6,482.8 272.4,483.2 276.1,484.0 279.7,485.2 283.1,486.6 286.3,488.3Z M281.1,497.6 282.7,498.7 284.1,500.0 285.3,501.3 286.2,502.7 286.9,504.1 287.3,505.6 287.4,507.0 287.2,508.3 286.8,509.6 286.1,510.8 285.1,512.0 283.9,513.1 282.5,514.1 280.8,514.9 279.0,515.6 277.0,516.2 274.9,516.6 272.7,516.9 270.4,517.0 268.1,516.9 266.0,516.7 264.0,516.3 262.0,515.7 260.1,515.0 258.3,514.2 256.7,513.3 255.2,512.2 254.0,511.1 252.9,509.8 252.1,508.5 251.5,507.2 251.1,505.8 251.0,504.4 251.1,502.9 251.5,501.5 252.2,500.2 253.1,498.9 254.2,497.8 255.5,496.7 257.0,495.8 258.6,495.0 260.4,494.4 262.3,493.9 264.3,493.7 266.4,493.6 268.5,493.6 270.8,493.9 273.1,494.3 275.3,494.9 277.4,495.6 279.3,496.5Z" fill="rgb(179,195,243)" fill-opacity="0.5" fill-rule="evenodd"/>
<path d="M281.1,497.6 282.7,498.7 284.1,500.0 285.3,501.3 286.2,502.7 286.9,504.1 287.3,505.6 287.4,507.0 287.2,508.3 286.8,509.6 286.1,510.8 285.1,512.0 283.9,513.1 282.5,514.1 280.8,514.9 279.0,515.6 277.0,516.2 274.9,516.6 272.7,516.9 270.4,517.0 268.1,516.9 266.0,516.7 264.0,516.3 262.0,515.7 260.1,515.0 258.3,514.2 256.7,513.3 255.2,512.2 254.0,511.1 252.9,509.8 252.1,508.5 251.5,507.2 251.1,505.8 251.0,504.4 251.1,502.9 251.5,501.5 252.2,500.2 253.1,498.9 254.2,497.8 255.5,496.7 257.0,495.8 258.6,495.0 260.4,494.4 262.3,493.9 264.3,493.7 266.4,493.6 268.5,493.6 270.8,493.9 273.1,494.3 275.3,494.9 277.4,495.6 279.3,496.5Z" fill="rgb(65,105,225)" fill-opacity="0.5"/>
<path d="M289.2,490.2 291.9,492.4 294.2,494.8 296.1,497.3 297.6,500.0 298.7,502.7 299.3,505.5 299.5,507.8 299.2,509.9 298.5,512.1 297.4,514.1 295.8,516.0 293.8,517.8 291.4,519.4 288.7,520.8 285.8,522.0 282.5,522.9 279.1,523.6 275.5,524.0 271.7,524.2 268.0,524.0 264.7,523.7 261.4,523.0 258.2,522.1 255.2,521.0 252.3,519.6 249.7,518.1 247.4,516.4 245.3,514.5 243.6,512.4 242.3,510.3 241.3,508.1 240.8,505.9 240.6,503.2 240.8,500.4 241.5,497.8 242.5,495.2 243.9,492.8 245.7,490.6 247.8,488.6 250.1,486.8 252.8,485.4 255.7,484.2 258.7,483.4 261.9,482.8 265.2,482.6 268.6,482.8 272.4,483.2 276.1,484.0 279.7,485.2 283.1,486.6 286.3,488.3Z" fill="none" stroke="rgb(65,105,225)" stroke-opacity="0.50" stroke-width="0.7"/>
<path d="M285.6,509.9 288.0,511.7 290.1,513.7 291.9,515.9 293.3,518.1 294.4,520.4 295.0,522.7 295.3,525.2 295.1,527.6 294.6,529.9 293.6,532.1 292.3,534.2 290.6,536.1 288.5,537.8 286.2,539.3 283.5,540.5 280.7,541.5 277.6,542.2 274.4,542.6 271.1,542.7 267.7,542.5 264.5,542.0 261.4,541.3 258.3,540.2 255.4,538.9 252.7,537.4 250.2,535.6 247.9,533.7 245.9,531.6 244.2,529.3 242.9,527.0 241.9,524.6 241.2,522.2 241.0,519.8 241.1,517.6 241.7,515.3 242.6,513.2 243.8,511.3 245.4,509.5 247.4,507.8 249.6,506.4 252.0,505.3 254.7,504.3 257.6,503.7 260.6,503.3 263.7,503.2 266.9,503.4 270.3,503.8 273.6,504.5 276.8,505.5 279.9,506.8 282.9,508.2Z M278.6,515.1 280.2,516.2 281.5,517.4 282.6,518.6 283.5,519.9 284.1,521.2 284.5,522.6 284.7,524.2 284.6,525.7 284.3,527.1 283.7,528.5 282.8,529.8 281.8,531.0 280.5,532.0 279.0,533.0 277.4,533.7 275.6,534.3 273.7,534.8 271.7,535.0 269.7,535.1 267.6,535.0 265.6,534.7 263.6,534.2 261.7,533.6 259.9,532.8 258.2,531.8 256.7,530.7 255.3,529.5 254.0,528.2 253.0,526.8 252.1,525.3 251.5,523.8 251.1,522.3 251.0,520.9 251.1,519.6 251.4,518.3 252.0,517.1 252.8,515.9 253.7,514.9 254.9,513.9 256.3,513.1 257.8,512.4 259.5,511.9 261.3,511.5 263.2,511.3 265.1,511.2 267.1,511.3 269.1,511.6 271.2,512.0 273.2,512.6 275.2,513.3 277.0,514.1Z" fill="rgb(153,204,153)" fill-opacity="0.5" fill-rule="evenodd"/>
<path d="M278.6,515.1 280.2,516.2 281.5,517.4 282.6,518.6 283.5,519.9 284.1,521.2 284.5,522.6 284.7,524.2 284.6,525.7 284.3,527.1 283.7,528.5 282.8,529.8 281.8,531.0 280.5,532.0 279.0,533.0 277.4,533.7 275.6,534.3 273.7,534.8 271.7,535.0 269.7,535.1 267.6,535.0 265.6,534.7 263.6,534.2 261.7,533.6 259.9,532.8 258.2,531.8 256.7,530.7 255.3,529.5 254.0,528.2 253.0,526.8 252.1,525.3 251.5,523.8 251.1,522.3 251.0,520.9 251.1,519.6 251.4,518.3 252.0,517.1 252.8,515.9 253.7,514.9 254.9,513.9 256.3,513.1 257.8,512.4 259.5,511.9 261.3,511.5 263.2,511.3 265.1,511.2 267.1,511.3 269.1,511.6 271.2,512.0 273.2,512.6 275.2,513.3 277.0,514.1Z" fill="rgb(0,128,0)" fill-opacity="0.5"/>
<path d="M285.6,509.9 288.0,511.7 290.1,513.7 291.9,515.9 293.3,518.1 294.4,520.4 295.0,522.7 295.3,525.2 295.1,527.6 294.6,529.9 293.6,532.1 292.3,534.2 290.6,536.1 288.5,537.8 286.2,539.3 283.5,540.5 280.7,541.5 277.6,542.2 274.4,542.6 271.1,542.7 267.7,542.5 264.5,542.0 261.4,541.3 258.3,540.2 255.4,538.9 252.7,537.4 250.2,535.6 247.9,533.7 245.9,531.6 244.2,529.3 242.9,527.0 241.9,524.6 241.2,522.2 241.0,519.8 241.1,517.6 241.7,515.3 242.6,513.2 243.8,511.3 245.4,509.5 247.4,507.8 249.6,506.4 252.0,505.3 254.7,504.3 257.6,503.7 260.6,503.3 263.7,503.2 266.9,503.4 270.3,503.8 273.6,504.5 276.8,505.5 279.9,506.8 282.9,508.2Z" fill="none" stroke="rgb(0,128,0)" stroke-opacity="0.50" stroke-width="0.7"/>
<path d="M289.0,488.4 291.7,490.0 294.1,491.6 296.1,493.3 297.7,495.0 298.9,496.7 299.6,498.4 299.9,500.3 299.7,502.2 299.1,504.1 298.0,505.9 296.5,507.7 294.6,509.4 292.3,511.0 289.7,512.6 286.7,513.9 283.5,515.2 280.1,516.2 276.5,517.1 272.7,517.6 269.0,517.9 265.5,517.9 262.2,517.6 258.9,516.9 255.8,515.9 252.8,514.6 250.1,512.9 247.7,510.9 245.5,508.7 243.7,506.2 242.3,503.5 241.2,500.7 240.6,497.8 240.3,495.3 240.5,492.9 241.0,490.5 242.0,488.3 243.3,486.3 245.1,484.6 247.1,483.1 249.5,481.9 252.1,481.0 255.0,480.4 258.1,480.1 261.3,480.1 264.7,480.4 268.1,481.0 271.8,481.8 275.6,482.8 279.2,484.0 282.7,485.4 286.0,486.8Z M281.1,493.1 282.8,493.9 284.2,494.8 285.5,495.6 286.4,496.5 287.2,497.4 287.6,498.3 287.8,499.4 287.7,500.5 287.3,501.6 286.6,502.7 285.7,503.8 284.5,504.8 283.1,505.7 281.5,506.6 279.7,507.5 277.7,508.2 275.6,508.8 273.4,509.3 271.1,509.7 268.8,509.8 266.6,509.8 264.5,509.6 262.5,509.2 260.5,508.6 258.7,507.9 257.0,506.9 255.4,505.7 254.1,504.3 253.0,502.9 252.0,501.3 251.4,499.6 251.0,498.0 250.8,496.7 250.9,495.4 251.3,494.2 251.9,493.1 252.7,492.1 253.8,491.2 255.1,490.4 256.6,489.8 258.2,489.3 260.0,489.0 262.0,488.9 264.0,488.9 266.1,489.1 268.2,489.4 270.5,489.8 272.8,490.3 275.1,490.9 277.2,491.6 279.2,492.3Z" fill="rgb(255,219,153)" fill-opacity="0.5" fill-rule="evenodd"/>
<path d="M281.1,493.1 282.8,493.9 284.2,494.8 285.5,495.6 286.4,496.5 287.2,497.4 287.6,498.3 287.8,499.4 287.7,500.5 287.3,501.6 286.6,502.7 285.7,503.8 284.5,504.8 283.1,505.7 281.5,506.6 279.7,507.5 277.7,508.2 275.6,508.8 273.4,509.3 271.1,509.7 268.8,509.8 266.6,509.8 264.5,509.6 262.5,509.2 260.5,508.6 258.7,507.9 257.0,506.9 255.4,505.7 254.1,504.3 253.0,502.9 252.0,501.3 251.4,499.6 251.0,498.0 250.8,496.7 250.9,495.4 251.3,494.2 251.9,493.1 252.7,492.1 253.8,491.2 255.1,490.4 256.6,489.8 258.2,489.3 260.0,489.0 262.0,488.9 264.0,488.9 266.1,489.1 268.2,489.4 270.5,489.8 272.8,490.3 275.1,490.9 277.2,491.6 279.2,492.3Z" fill="rgb(255,165,0)" fill-opacity="0.5"/>
<path d="M289.0,488.4 291.7,490.0 294.1,491.6 296.1,493.3 297.7,495.0 298.9,496.7 299.6,498.4 299.9,500.3 299.7,502.2 299.1,504.1 298.0,505.9 296.5,507.7 294.6,509.4 292.3,511.0 289.7,512.6 286.7,513.9 283.5,515.2 280.1,516.2 276.5,517.1 272.7,517.6 269.0,517.9 265.5,517.9 262.2,517.6 258.9,516.9 255.8,515.9 252.8,514.6 250.1,512.9 247.7,510.9 245.5,508.7 243.7,506.2 242.3,503.5 241.2,500.7 240.6,497.8 240.3,495.3 240.5,492.9 241.0,490.5 242.0,488.3 243.3,486.3 245.1,484.6 247.1,483.1 249.5,481.9 252.1,481.0 255.0,480.4 258.1,480.1 261.3,480.1 264.7,480.4 268.1,481.0 271.8,481.8 275.6,482.8 279.2,484.0 282.7,485.4 286.0,486.8Z" fill="none" stroke="rgb(255,165,0)" stroke-opacity="0.50" stroke-width="0.7"/>
<line x1="280.50" x2="280.50" y1="463.27" y2="554.45" stroke="#808080" stroke-width="0.55" stroke-dasharray="1.45 0.9"/>
<line x1="225.40" x2="315.40" y1="496.50" y2="496.50" stroke="#808080" stroke-width="0.55" stroke-dasharray="1.45 0.9"/>
</g>
<g clip-path="url(#c53)">
<path d="M377.2,486.1 378.9,487.7 380.3,489.5 381.2,491.6 381.6,493.9 381.7,496.4 381.2,499.0 380.4,501.7 379.1,504.5 377.5,507.0 375.4,509.2 373.0,511.4 370.3,513.4 367.3,515.4 364.1,517.2 360.7,518.9 357.2,520.3 353.6,521.6 350.2,522.6 347.1,523.4 344.1,523.9 341.3,524.1 338.5,524.1 336.0,523.8 333.7,523.3 331.6,522.5 329.9,521.4 328.4,520.1 327.3,518.7 326.6,517.0 326.2,515.1 326.1,513.1 326.5,511.1 327.2,508.9 328.3,506.7 329.7,504.1 331.4,501.4 333.4,498.7 335.7,496.1 338.2,493.6 340.9,491.3 343.7,489.3 346.7,487.4 349.8,485.9 353.1,484.6 356.7,483.6 360.2,483.0 363.7,482.7 366.9,482.7 369.9,483.0 372.7,483.7 375.1,484.7Z M366.4,495.4 367.4,496.2 368.2,497.2 368.7,498.3 369.0,499.5 369.0,500.8 368.7,502.2 368.3,503.6 367.5,505.1 366.6,506.5 365.4,507.8 364.0,509.2 362.4,510.4 360.7,511.6 358.8,512.7 356.8,513.7 354.8,514.6 352.7,515.4 350.6,516.0 348.6,516.5 346.7,516.8 344.8,517.0 343.0,516.9 341.3,516.8 339.8,516.4 338.4,515.9 337.3,515.3 336.3,514.5 335.6,513.6 335.1,512.6 334.8,511.5 334.8,510.3 335.0,509.0 335.5,507.7 336.2,506.3 337.1,504.9 338.3,503.4 339.6,502.0 341.1,500.6 342.7,499.3 344.5,498.1 346.4,497.1 348.4,496.1 350.4,495.3 352.4,494.6 354.5,494.1 356.6,493.7 358.5,493.6 360.4,493.6 362.2,493.8 363.8,494.1 365.2,494.7Z" fill="rgb(179,195,243)" fill-opacity="0.5" fill-rule="evenodd"/>
<path d="M366.4,495.4 367.4,496.2 368.2,497.2 368.7,498.3 369.0,499.5 369.0,500.8 368.7,502.2 368.3,503.6 367.5,505.1 366.6,506.5 365.4,507.8 364.0,509.2 362.4,510.4 360.7,511.6 358.8,512.7 356.8,513.7 354.8,514.6 352.7,515.4 350.6,516.0 348.6,516.5 346.7,516.8 344.8,517.0 343.0,516.9 341.3,516.8 339.8,516.4 338.4,515.9 337.3,515.3 336.3,514.5 335.6,513.6 335.1,512.6 334.8,511.5 334.8,510.3 335.0,509.0 335.5,507.7 336.2,506.3 337.1,504.9 338.3,503.4 339.6,502.0 341.1,500.6 342.7,499.3 344.5,498.1 346.4,497.1 348.4,496.1 350.4,495.3 352.4,494.6 354.5,494.1 356.6,493.7 358.5,493.6 360.4,493.6 362.2,493.8 363.8,494.1 365.2,494.7Z" fill="rgb(65,105,225)" fill-opacity="0.5"/>
<path d="M377.2,486.1 378.9,487.7 380.3,489.5 381.2,491.6 381.6,493.9 381.7,496.4 381.2,499.0 380.4,501.7 379.1,504.5 377.5,507.0 375.4,509.2 373.0,511.4 370.3,513.4 367.3,515.4 364.1,517.2 360.7,518.9 357.2,520.3 353.6,521.6 350.2,522.6 347.1,523.4 344.1,523.9 341.3,524.1 338.5,524.1 336.0,523.8 333.7,523.3 331.6,522.5 329.9,521.4 328.4,520.1 327.3,518.7 326.6,517.0 326.2,515.1 326.1,513.1 326.5,511.1 327.2,508.9 328.3,506.7 329.7,504.1 331.4,501.4 333.4,498.7 335.7,496.1 338.2,493.6 340.9,491.3 343.7,489.3 346.7,487.4 349.8,485.9 353.1,484.6 356.7,483.6 360.2,483.0 363.7,482.7 366.9,482.7 369.9,483.0 372.7,483.7 375.1,484.7Z" fill="none" stroke="rgb(65,105,225)" stroke-opacity="0.50" stroke-width="0.7"/>
<path d="M371.6,509.2 374.0,510.9 376.1,512.9 377.8,515.0 379.2,517.2 380.1,519.4 380.6,521.8 380.7,524.2 380.3,526.6 379.6,528.9 378.4,531.2 376.9,533.3 374.9,535.3 372.7,537.1 370.1,538.7 367.2,540.0 364.1,541.1 360.9,541.9 357.5,542.5 354.0,542.7 350.7,542.6 348.0,542.3 345.3,541.6 342.7,540.7 340.2,539.5 337.9,538.1 335.8,536.4 333.9,534.5 332.3,532.5 330.9,530.3 329.9,528.0 329.2,525.6 328.8,523.2 328.7,520.8 329.0,518.5 329.6,516.3 330.5,514.1 331.7,512.1 333.2,510.2 335.0,508.5 337.0,507.0 339.2,505.7 341.6,504.7 344.2,503.9 346.8,503.4 349.6,503.2 352.5,503.3 356.0,503.6 359.5,504.2 362.8,505.1 366.0,506.2 368.9,507.6Z M362.2,514.7 363.5,515.7 364.6,516.9 365.5,518.1 366.2,519.4 366.7,520.7 366.9,522.0 367.0,523.5 366.8,525.0 366.4,526.5 365.8,527.9 365.0,529.3 363.9,530.5 362.7,531.6 361.4,532.6 359.8,533.4 358.2,534.1 356.5,534.6 354.7,534.9 352.8,535.1 351.0,535.1 349.1,534.8 347.3,534.4 345.5,533.9 343.8,533.1 342.2,532.2 340.8,531.2 339.5,530.0 338.4,528.7 337.5,527.3 336.8,525.9 336.3,524.4 336.1,522.9 336.0,521.5 336.2,520.1 336.6,518.8 337.2,517.6 338.0,516.4 339.1,515.3 340.3,514.3 341.6,513.4 343.2,512.7 344.8,512.1 346.5,511.6 348.3,511.3 350.2,511.2 352.0,511.2 353.9,511.4 355.7,511.8 357.5,512.3 359.2,513.0 360.8,513.8Z" fill="rgb(153,204,153)" fill-opacity="0.5" fill-rule="evenodd"/>
<path d="M362.2,514.7 363.5,515.7 364.6,516.9 365.5,518.1 366.2,519.4 366.7,520.7 366.9,522.0 367.0,523.5 366.8,525.0 366.4,526.5 365.8,527.9 365.0,529.3 363.9,530.5 362.7,531.6 361.4,532.6 359.8,533.4 358.2,534.1 356.5,534.6 354.7,534.9 352.8,535.1 351.0,535.1 349.1,534.8 347.3,534.4 345.5,533.9 343.8,533.1 342.2,532.2 340.8,531.2 339.5,530.0 338.4,528.7 337.5,527.3 336.8,525.9 336.3,524.4 336.1,522.9 336.0,521.5 336.2,520.1 336.6,518.8 337.2,517.6 338.0,516.4 339.1,515.3 340.3,514.3 341.6,513.4 343.2,512.7 344.8,512.1 346.5,511.6 348.3,511.3 350.2,511.2 352.0,511.2 353.9,511.4 355.7,511.8 357.5,512.3 359.2,513.0 360.8,513.8Z" fill="rgb(0,128,0)" fill-opacity="0.5"/>
<path d="M371.6,509.2 374.0,510.9 376.1,512.9 377.8,515.0 379.2,517.2 380.1,519.4 380.6,521.8 380.7,524.2 380.3,526.6 379.6,528.9 378.4,531.2 376.9,533.3 374.9,535.3 372.7,537.1 370.1,538.7 367.2,540.0 364.1,541.1 360.9,541.9 357.5,542.5 354.0,542.7 350.7,542.6 348.0,542.3 345.3,541.6 342.7,540.7 340.2,539.5 337.9,538.1 335.8,536.4 333.9,534.5 332.3,532.5 330.9,530.3 329.9,528.0 329.2,525.6 328.8,523.2 328.7,520.8 329.0,518.5 329.6,516.3 330.5,514.1 331.7,512.1 333.2,510.2 335.0,508.5 337.0,507.0 339.2,505.7 341.6,504.7 344.2,503.9 346.8,503.4 349.6,503.2 352.5,503.3 356.0,503.6 359.5,504.2 362.8,505.1 366.0,506.2 368.9,507.6Z" fill="none" stroke="rgb(0,128,0)" stroke-opacity="0.50" stroke-width="0.7"/>
<path d="M377.1,484.2 379.6,485.8 381.8,487.6 383.5,489.6 384.7,491.7 385.5,493.8 385.8,496.1 385.6,498.3 384.9,500.7 383.7,503.1 382.1,505.4 380.0,507.6 377.5,509.7 374.7,511.6 371.5,513.3 368.0,514.7 364.3,516.0 360.4,517.0 356.4,517.6 352.3,518.1 349.2,518.2 346.2,518.0 343.2,517.5 340.4,516.8 337.7,515.8 335.3,514.5 333.1,513.0 331.2,511.3 329.5,509.3 328.3,507.3 327.3,505.0 326.7,502.7 326.5,500.3 326.7,497.9 327.2,495.7 328.1,493.5 329.3,491.3 330.9,489.2 332.7,487.3 334.9,485.6 337.3,484.0 339.9,482.6 342.7,481.4 345.6,480.5 348.7,479.9 351.7,479.5 355.7,479.4 359.7,479.5 363.7,480.0 367.4,480.7 370.9,481.6 374.2,482.8Z M366.5,490.5 367.9,491.4 369.2,492.3 370.2,493.4 370.9,494.6 371.3,495.8 371.5,497.0 371.4,498.2 371.0,499.7 370.3,501.1 369.4,502.4 368.2,503.7 366.7,505.0 365.1,506.1 363.2,507.1 361.2,507.9 359.1,508.7 356.9,509.2 354.6,509.7 352.2,509.9 350.1,510.0 348.1,509.9 346.1,509.6 344.2,509.2 342.4,508.6 340.7,507.8 339.2,506.9 337.9,505.9 336.9,504.8 336.0,503.5 335.3,502.2 334.9,500.8 334.8,499.4 334.9,498.0 335.3,496.8 335.9,495.5 336.7,494.4 337.7,493.2 339.0,492.2 340.5,491.2 342.1,490.3 343.8,489.6 345.7,488.9 347.7,488.4 349.8,488.1 351.8,487.9 354.2,487.8 356.5,487.9 358.7,488.1 360.9,488.5 362.9,489.0 364.8,489.7Z" fill="rgb(255,219,153)" fill-opacity="0.5" fill-rule="evenodd"/>
<path d="M366.5,490.5 367.9,491.4 369.2,492.3 370.2,493.4 370.9,494.6 371.3,495.8 371.5,497.0 371.4,498.2 371.0,499.7 370.3,501.1 369.4,502.4 368.2,503.7 366.7,505.0 365.1,506.1 363.2,507.1 361.2,507.9 359.1,508.7 356.9,509.2 354.6,509.7 352.2,509.9 350.1,510.0 348.1,509.9 346.1,509.6 344.2,509.2 342.4,508.6 340.7,507.8 339.2,506.9 337.9,505.9 336.9,504.8 336.0,503.5 335.3,502.2 334.9,500.8 334.8,499.4 334.9,498.0 335.3,496.8 335.9,495.5 336.7,494.4 337.7,493.2 339.0,492.2 340.5,491.2 342.1,490.3 343.8,489.6 345.7,488.9 347.7,488.4 349.8,488.1 351.8,487.9 354.2,487.8 356.5,487.9 358.7,488.1 360.9,488.5 362.9,489.0 364.8,489.7Z" fill="rgb(255,165,0)" fill-opacity="0.5"/>
<path d="M377.1,484.2 379.6,485.8 381.8,487.6 383.5,489.6 384.7,491.7 385.5,493.8 385.8,496.1 385.6,498.3 384.9,500.7 383.7,503.1 382.1,505.4 380.0,507.6 377.5,509.7 374.7,511.6 371.5,513.3 368.0,514.7 364.3,516.0 360.4,517.0 356.4,517.6 352.3,518.1 349.2,518.2 346.2,518.0 343.2,517.5 340.4,516.8 337.7,515.8 335.3,514.5 333.1,513.0 331.2,511.3 329.5,509.3 328.3,507.3 327.3,505.0 326.7,502.7 326.5,500.3 326.7,497.9 327.2,495.7 328.1,493.5 329.3,491.3 330.9,489.2 332.7,487.3 334.9,485.6 337.3,484.0 339.9,482.6 342.7,481.4 345.6,480.5 348.7,479.9 351.7,479.5 355.7,479.4 359.7,479.5 363.7,480.0 367.4,480.7 370.9,481.6 374.2,482.8Z" fill="none" stroke="rgb(255,165,0)" stroke-opacity="0.50" stroke-width="0.7"/>
<line x1="368.50" x2="368.50" y1="463.27" y2="554.45" stroke="#808080" stroke-width="0.55" stroke-dasharray="1.45 0.9"/>
<line x1="315.40" x2="405.40" y1="496.50" y2="496.50" stroke="#808080" stroke-width="0.55" stroke-dasharray="1.45 0.9"/>
</g>
<g clip-path="url(#c54)">
<path d="M460.8,485.0 461.6,485.8 462.0,487.0 461.9,488.4 461.3,490.1 460.4,492.0 458.9,494.1 457.1,496.4 454.9,498.8 452.4,501.3 449.5,503.9 446.4,506.4 443.0,508.6 439.5,510.8 435.8,512.9 432.1,514.9 429.6,516.7 427.5,518.4 425.5,520.0 423.6,521.3 421.8,522.3 420.2,523.2 418.7,523.8 417.4,524.1 416.2,524.1 415.3,523.9 414.6,523.5 414.2,522.7 414.0,521.7 414.1,520.5 414.4,519.1 414.9,517.4 415.7,515.6 416.7,513.7 417.9,511.6 419.3,509.5 420.8,507.3 422.6,505.0 424.4,502.4 426.3,499.8 428.3,497.4 430.4,495.0 433.6,492.8 437.3,490.8 440.9,489.1 444.4,487.5 447.7,486.3 450.7,485.3 453.5,484.6 455.9,484.2 457.9,484.2 459.6,484.4Z M445.4,495.5 445.8,495.9 446.0,496.5 445.9,497.2 445.7,498.0 445.2,499.0 444.5,500.0 443.6,501.1 442.6,502.3 441.3,503.5 440.0,504.8 438.4,506.1 436.8,507.5 435.1,508.8 433.3,510.1 431.5,511.3 430.1,512.4 428.9,513.5 427.6,514.4 426.5,515.2 425.3,515.9 424.3,516.4 423.4,516.7 422.6,516.9 421.9,517.0 421.3,516.8 420.9,516.5 420.6,516.1 420.5,515.5 420.5,514.7 420.7,513.9 421.1,512.9 421.5,511.8 422.2,510.6 422.9,509.3 423.8,508.0 424.7,506.7 425.8,505.3 426.9,504.1 428.1,502.8 429.4,501.6 430.6,500.4 432.3,499.4 434.1,498.4 435.8,497.5 437.5,496.8 439.1,496.1 440.5,495.6 441.9,495.3 443.0,495.1 444.0,495.1 444.8,495.2Z" fill="rgb(179,195,243)" fill-opacity="0.5" fill-rule="evenodd"/>
<path d="M445.4,495.5 445.8,495.9 446.0,496.5 445.9,497.2 445.7,498.0 445.2,499.0 444.5,500.0 443.6,501.1 442.6,502.3 441.3,503.5 440.0,504.8 438.4,506.1 436.8,507.5 435.1,508.8 433.3,510.1 431.5,511.3 430.1,512.4 428.9,513.5 427.6,514.4 426.5,515.2 425.3,515.9 424.3,516.4 423.4,516.7 422.6,516.9 421.9,517.0 421.3,516.8 420.9,516.5 420.6,516.1 420.5,515.5 420.5,514.7 420.7,513.9 421.1,512.9 421.5,511.8 422.2,510.6 422.9,509.3 423.8,508.0 424.7,506.7 425.8,505.3 426.9,504.1 428.1,502.8 429.4,501.6 430.6,500.4 432.3,499.4 434.1,498.4 435.8,497.5 437.5,496.8 439.1,496.1 440.5,495.6 441.9,495.3 443.0,495.1 444.0,495.1 444.8,495.2Z" fill="rgb(65,105,225)" fill-opacity="0.5"/>
<path d="M460.8,485.0 461.6,485.8 462.0,487.0 461.9,488.4 461.3,490.1 460.4,492.0 458.9,494.1 457.1,496.4 454.9,498.8 452.4,501.3 449.5,503.9 446.4,506.4 443.0,508.6 439.5,510.8 435.8,512.9 432.1,514.9 429.6,516.7 427.5,518.4 425.5,520.0 423.6,521.3 421.8,522.3 420.2,523.2 418.7,523.8 417.4,524.1 416.2,524.1 415.3,523.9 414.6,523.5 414.2,522.7 414.0,521.7 414.1,520.5 414.4,519.1 414.9,517.4 415.7,515.6 416.7,513.7 417.9,511.6 419.3,509.5 420.8,507.3 422.6,505.0 424.4,502.4 426.3,499.8 428.3,497.4 430.4,495.0 433.6,492.8 437.3,490.8 440.9,489.1 444.4,487.5 447.7,486.3 450.7,485.3 453.5,484.6 455.9,484.2 457.9,484.2 459.6,484.4Z" fill="none" stroke="rgb(65,105,225)" stroke-opacity="0.50" stroke-width="0.7"/>
<path d="M465.7,505.5 467.3,506.7 468.5,508.2 469.2,509.8 469.5,511.7 469.3,513.7 468.7,515.8 467.6,518.0 466.0,520.3 464.1,522.7 461.8,525.1 459.1,527.5 456.2,529.8 452.9,532.0 449.5,534.1 445.9,536.0 442.1,537.7 438.3,539.2 436.0,540.5 433.9,541.5 431.9,542.2 429.9,542.6 428.0,542.7 426.3,542.5 424.8,542.1 423.5,541.3 422.3,540.3 421.4,539.0 420.8,537.5 420.4,535.7 420.2,533.8 420.3,531.7 420.7,529.4 421.3,527.1 422.1,524.7 423.2,522.2 424.5,519.9 426.1,517.6 427.7,515.4 429.6,513.3 431.5,511.3 433.6,509.5 435.7,507.9 437.8,506.5 441.5,505.3 445.2,504.4 448.8,503.7 452.3,503.3 455.6,503.2 458.6,503.4 461.3,503.8 463.7,504.5Z M450.6,512.5 451.3,513.3 451.8,514.1 452.2,515.1 452.3,516.2 452.2,517.3 451.9,518.6 451.4,519.9 450.7,521.2 449.9,522.6 448.8,524.1 447.6,525.6 446.3,527.1 444.8,528.4 443.2,529.7 441.6,530.9 439.9,532.0 438.2,532.9 436.6,533.7 435.1,534.3 433.7,534.8 432.3,535.0 431.0,535.1 429.8,535.0 428.7,534.7 427.8,534.2 427.0,533.6 426.4,532.8 425.9,531.8 425.6,530.7 425.5,529.5 425.6,528.2 425.8,526.8 426.3,525.3 426.9,523.8 427.6,522.3 428.6,521.0 429.6,519.6 430.8,518.3 432.1,517.1 433.4,515.9 434.9,514.9 436.4,513.9 437.9,513.1 439.6,512.4 441.3,511.9 442.9,511.5 444.5,511.3 446.0,511.2 447.4,511.3 448.6,511.5 449.7,512.0Z" fill="rgb(153,204,153)" fill-opacity="0.5" fill-rule="evenodd"/>
<path d="M450.6,512.5 451.3,513.3 451.8,514.1 452.2,515.1 452.3,516.2 452.2,517.3 451.9,518.6 451.4,519.9 450.7,521.2 449.9,522.6 448.8,524.1 447.6,525.6 446.3,527.1 444.8,528.4 443.2,529.7 441.6,530.9 439.9,532.0 438.2,532.9 436.6,533.7 435.1,534.3 433.7,534.8 432.3,535.0 431.0,535.1 429.8,535.0 428.7,534.7 427.8,534.2 427.0,533.6 426.4,532.8 425.9,531.8 425.6,530.7 425.5,529.5 425.6,528.2 425.8,526.8 426.3,525.3 426.9,523.8 427.6,522.3 428.6,521.0 429.6,519.6 430.8,518.3 432.1,517.1 433.4,515.9 434.9,514.9 436.4,513.9 437.9,513.1 439.6,512.4 441.3,511.9 442.9,511.5 444.5,511.3 446.0,511.2 447.4,511.3 448.6,511.5 449.7,512.0Z" fill="rgb(0,128,0)" fill-opacity="0.5"/>
<path d="M465.7,505.5 467.3,506.7 468.5,508.2 469.2,509.8 469.5,511.7 469.3,513.7 468.7,515.8 467.6,518.0 466.0,520.3 464.1,522.7 461.8,525.1 459.1,527.5 456.2,529.8 452.9,532.0 449.5,534.1 445.9,536.0 442.1,537.7 438.3,539.2 436.0,540.5 433.9,541.5 431.9,542.2 429.9,542.6 428.0,542.7 426.3,542.5 424.8,542.1 423.5,541.3 422.3,540.3 421.4,539.0 420.8,537.5 420.4,535.7 420.2,533.8 420.3,531.7 420.7,529.4 421.3,527.1 422.1,524.7 423.2,522.2 424.5,519.9 426.1,517.6 427.7,515.4 429.6,513.3 431.5,511.3 433.6,509.5 435.7,507.9 437.8,506.5 441.5,505.3 445.2,504.4 448.8,503.7 452.3,503.3 455.6,503.2 458.6,503.4 461.3,503.8 463.7,504.5Z" fill="none" stroke="rgb(0,128,0)" stroke-opacity="0.50" stroke-width="0.7"/>
<path d="M462.1,481.4 463.6,482.5 464.8,483.9 465.4,485.4 465.6,487.2 465.3,489.1 464.5,491.1 463.2,493.3 461.4,495.5 459.3,497.8 456.7,500.1 453.8,502.5 450.5,504.9 447.0,507.1 443.3,509.2 439.4,511.1 435.4,512.9 431.6,514.4 429.5,515.7 427.4,516.7 425.4,517.5 423.4,518.0 421.6,518.2 419.9,518.1 418.4,517.7 417.2,517.0 416.1,516.1 415.2,514.9 414.6,513.4 414.3,511.7 414.2,509.8 414.4,507.8 414.8,505.6 415.5,503.3 416.4,500.9 417.6,498.5 418.9,496.2 420.5,494.0 422.2,491.8 424.0,489.7 426.0,487.8 428.1,486.0 430.2,484.3 432.7,482.9 436.7,481.7 440.7,480.7 444.5,480.0 448.2,479.6 451.6,479.4 454.8,479.5 457.6,479.8 460.0,480.5Z M445.2,488.9 445.9,489.5 446.4,490.3 446.7,491.1 446.8,492.1 446.7,493.1 446.3,494.3 445.7,495.5 445.0,496.7 444.0,497.9 442.9,499.3 441.6,500.7 440.2,502.1 438.6,503.4 437.0,504.7 435.3,505.8 433.5,506.8 431.8,507.7 430.4,508.5 429.0,509.1 427.7,509.6 426.4,509.9 425.2,510.0 424.1,509.9 423.2,509.7 422.3,509.3 421.6,508.7 421.1,508.0 420.7,507.1 420.5,506.2 420.4,505.0 420.5,503.8 420.8,502.5 421.2,501.2 421.8,499.8 422.6,498.4 423.5,497.1 424.5,495.8 425.6,494.7 426.8,493.5 428.1,492.4 429.4,491.4 430.8,490.5 432.3,489.7 434.1,489.1 435.8,488.5 437.5,488.1 439.1,487.9 440.6,487.8 442.0,487.8 443.3,488.0 444.3,488.4Z" fill="rgb(255,219,153)" fill-opacity="0.5" fill-rule="evenodd"/>
<path d="M445.2,488.9 445.9,489.5 446.4,490.3 446.7,491.1 446.8,492.1 446.7,493.1 446.3,494.3 445.7,495.5 445.0,496.7 444.0,497.9 442.9,499.3 441.6,500.7 440.2,502.1 438.6,503.4 437.0,504.7 435.3,505.8 433.5,506.8 431.8,507.7 430.4,508.5 429.0,509.1 427.7,509.6 426.4,509.9 425.2,510.0 424.1,509.9 423.2,509.7 422.3,509.3 421.6,508.7 421.1,508.0 420.7,507.1 420.5,506.2 420.4,505.0 420.5,503.8 420.8,502.5 421.2,501.2 421.8,499.8 422.6,498.4 423.5,497.1 424.5,495.8 425.6,494.7 426.8,493.5 428.1,492.4 429.4,491.4 430.8,490.5 432.3,489.7 434.1,489.1 435.8,488.5 437.5,488.1 439.1,487.9 440.6,487.8 442.0,487.8 443.3,488.0 444.3,488.4Z" fill="rgb(255,165,0)" fill-opacity="0.5"/>
<path d="M462.1,481.4 463.6,482.5 464.8,483.9 465.4,485.4 465.6,487.2 465.3,489.1 464.5,491.1 463.2,493.3 461.4,495.5 459.3,497.8 456.7,500.1 453.8,502.5 450.5,504.9 447.0,507.1 443.3,509.2 439.4,511.1 435.4,512.9 431.6,514.4 429.5,515.7 427.4,516.7 425.4,517.5 423.4,518.0 421.6,518.2 419.9,518.1 418.4,517.7 417.2,517.0 416.1,516.1 415.2,514.9 414.6,513.4 414.3,511.7 414.2,509.8 414.4,507.8 414.8,505.6 415.5,503.3 416.4,500.9 417.6,498.5 418.9,496.2 420.5,494.0 422.2,491.8 424.0,489.7 426.0,487.8 428.1,486.0 430.2,484.3 432.7,482.9 436.7,481.7 440.7,480.7 444.5,480.0 448.2,479.6 451.6,479.4 454.8,479.5 457.6,479.8 460.0,480.5Z" fill="none" stroke="rgb(255,165,0)" stroke-opacity="0.50" stroke-width="0.7"/>
<line x1="444.50" x2="444.50" y1="463.27" y2="554.45" stroke="#808080" stroke-width="0.55" stroke-dasharray="1.45 0.9"/>
<line x1="405.40" x2="495.40" y1="496.50" y2="496.50" stroke="#808080" stroke-width="0.55" stroke-dasharray="1.45 0.9"/>
</g>
<g clip-path="url(#c55)">
<line x1="553.50" x2="553.50" y1="463.27" y2="554.45" stroke="#808080" stroke-width="0.55" stroke-dasharray="1.45 0.9"/>
<path d="M495.40,554.45 496.40,554.45 497.40,554.45 498.40,554.45 499.40,554.45 500.40,554.45 501.40,554.45 502.40,554.45 503.40,554.45 504.40,554.45 505.40,554.45 506.40,554.45 507.40,554.45 508.40,554.45 509.40,554.45 510.40,554.45 511.40,554.45 512.40,554.45 513.40,554.45 514.40,554.44 515.40,554.44 516.40,554.42 517.40,554.40 518.40,554.35 519.40,554.27 520.40,554.14 521.40,553.93 522.40,553.60 523.40,553.10 524.40,552.36 525.40,551.31 526.40,549.85 527.40,547.89 528.40,545.32 529.40,542.06 530.40,538.05 531.40,533.26 532.40,527.71 533.40,521.48 534.40,514.70 535.40,507.58 536.40,500.37 537.40,493.38 538.40,486.91 539.40,481.27 540.40,476.75 541.40,473.55 542.40,471.84 543.40,471.69 544.40,473.06 545.40,475.86 546.40,479.92 547.40,485.00 548.40,490.84 549.40,497.17 550.40,503.72 551.40,510.25 552.40,516.56 553.40,522.47 554.40,527.87 555.40,532.69 556.40,536.91 557.40,540.51 558.40,543.53 559.40,546.01 560.40,548.02 561.40,549.62 562.40,550.87 563.40,551.83 564.40,552.56 565.40,553.10 566.40,553.50 567.40,553.79 568.40,553.99 569.40,554.14 570.40,554.24 571.40,554.31 572.40,554.36 573.40,554.39 574.40,554.41 575.40,554.43 576.40,554.43 577.40,554.44 578.40,554.44 579.40,554.45 580.40,554.45 581.40,554.45 582.40,554.45 583.40,554.45 584.40,554.45 585.40,554.45" fill="none" stroke="rgb(65,105,225)" stroke-width="1.55" stroke-linejoin="round"/>
<path d="M495.40,554.44 496.40,554.43 497.40,554.42 498.40,554.41 499.40,554.38 500.40,554.33 501.40,554.26 502.40,554.14 503.40,553.98 504.40,553.73 505.40,553.37 506.40,552.87 507.40,552.17 508.40,551.21 509.40,549.94 510.40,548.29 511.40,546.17 512.40,543.53 513.40,540.29 514.40,536.42 515.40,531.89 516.40,526.73 517.40,520.98 518.40,514.75 519.40,508.19 520.40,501.50 521.40,494.91 522.40,488.67 523.40,483.07 524.40,478.35 525.40,474.75 526.40,472.45 527.40,471.57 528.40,472.16 529.40,474.18 530.40,477.53 531.40,482.05 532.40,487.49 533.40,493.62 534.40,500.16 535.40,506.86 536.40,513.46 537.40,519.77 538.40,525.62 539.40,530.91 540.40,535.57 541.40,539.57 542.40,542.93 543.40,545.69 544.40,547.90 545.40,549.65 546.40,550.99 547.40,552.00 548.40,552.74 549.40,553.28 550.40,553.67 551.40,553.93 552.40,554.12 553.40,554.24 554.40,554.32 555.40,554.37 556.40,554.40 557.40,554.42 558.40,554.43 559.40,554.44 560.40,554.44 561.40,554.45 562.40,554.45 563.40,554.45 564.40,554.45 565.40,554.45 566.40,554.45 567.40,554.45 568.40,554.45 569.40,554.45 570.40,554.45 571.40,554.45 572.40,554.45 573.40,554.45 574.40,554.45 575.40,554.45 576.40,554.45 577.40,554.45 578.40,554.45 579.40,554.45 580.40,554.45 581.40,554.45 582.40,554.45 583.40,554.45 584.40,554.45 585.40,554.45" fill="none" stroke="rgb(0,128,0)" stroke-width="1.55" stroke-linejoin="round"/>
<path d="M495.40,554.45 496.40,554.45 497.40,554.45 498.40,554.45 499.40,554.45 500.40,554.45 501.40,554.45 502.40,554.45 503.40,554.45 504.40,554.45 505.40,554.45 506.40,554.45 507.40,554.45 508.40,554.45 509.40,554.45 510.40,554.45 511.40,554.45 512.40,554.45 513.40,554.45 514.40,554.45 515.40,554.45 516.40,554.45 517.40,554.45 518.40,554.45 519.40,554.45 520.40,554.44 521.40,554.44 522.40,554.42 523.40,554.41 524.40,554.37 525.40,554.32 526.40,554.24 527.40,554.12 528.40,553.93 529.40,553.65 530.40,553.24 531.40,552.65 532.40,551.84 533.40,550.73 534.40,549.25 535.40,547.33 536.40,544.89 537.40,541.85 538.40,538.16 539.40,533.79 540.40,528.74 541.40,523.06 542.40,516.85 543.40,510.24 544.40,503.44 545.40,496.68 546.40,490.23 547.40,484.36 548.40,479.35 549.40,475.43 550.40,472.82 551.40,471.63 552.40,471.93 553.40,473.69 554.40,476.81 555.40,481.13 556.40,486.42 557.40,492.44 558.40,498.91 559.40,505.56 560.40,512.16 561.40,518.50 562.40,524.41 563.40,529.77 564.40,534.52 565.40,538.63 566.40,542.10 567.40,544.97 568.40,547.30 569.40,549.14 570.40,550.57 571.40,551.67 572.40,552.48 573.40,553.08 574.40,553.52 575.40,553.82 576.40,554.03 577.40,554.18 578.40,554.28 579.40,554.34 580.40,554.38 581.40,554.41 582.40,554.43 583.40,554.44 584.40,554.44 585.40,554.45" fill="none" stroke="rgb(255,165,0)" stroke-width="1.55" stroke-linejoin="round"/>
</g>
<g clip-path="url(#c60)">
<path d="M109.6,584.6 112.6,587.0 115.3,589.5 117.6,592.0 119.5,594.5 121.0,597.0 122.1,599.4 122.7,601.8 122.8,604.1 122.4,606.3 121.6,608.4 120.4,610.5 118.7,612.4 116.5,614.3 114.0,615.9 111.2,617.4 108.1,618.7 104.7,619.8 101.1,620.6 97.3,621.1 93.5,621.2 89.7,621.0 86.3,620.4 83.0,619.4 79.8,617.9 76.7,616.1 73.9,613.9 71.3,611.3 68.9,608.4 66.9,605.3 65.3,601.9 63.9,598.5 63.0,594.9 62.5,591.3 62.4,587.8 62.7,584.5 63.4,581.4 64.5,578.6 66.0,576.2 67.8,574.2 70.0,572.6 72.5,571.5 75.2,570.9 78.2,570.7 81.3,571.0 84.6,571.6 87.9,572.7 91.4,574.1 95.3,575.8 99.1,577.7 102.8,579.9 106.3,582.2Z M101.7,591.2 103.5,592.4 105.1,593.6 106.4,594.9 107.6,596.1 108.5,597.3 109.1,598.8 109.4,600.2 109.5,601.7 109.3,603.1 108.8,604.4 108.1,605.7 107.1,606.9 105.8,608.1 104.4,609.1 102.7,610.1 100.8,610.9 98.8,611.6 96.7,612.1 94.5,612.4 92.2,612.5 90.0,612.3 87.8,611.9 85.7,611.3 83.6,610.4 81.7,609.3 79.9,607.9 78.2,606.2 76.7,604.4 75.4,602.4 74.3,600.3 73.5,598.1 72.9,596.2 72.6,594.5 72.5,592.8 72.7,591.1 73.2,589.6 73.9,588.2 74.8,587.0 76.0,586.0 77.4,585.3 79.0,584.7 80.7,584.4 82.6,584.3 84.6,584.4 86.7,584.8 88.8,585.3 91.0,586.0 93.3,586.8 95.6,587.8 97.7,588.8 99.8,590.0Z" fill="rgb(179,195,243)" fill-opacity="0.5" fill-rule="evenodd"/>
<path d="M101.7,591.2 103.5,592.4 105.1,593.6 106.4,594.9 107.6,596.1 108.5,597.3 109.1,598.8 109.4,600.2 109.5,601.7 109.3,603.1 108.8,604.4 108.1,605.7 107.1,606.9 105.8,608.1 104.4,609.1 102.7,610.1 100.8,610.9 98.8,611.6 96.7,612.1 94.5,612.4 92.2,612.5 90.0,612.3 87.8,611.9 85.7,611.3 83.6,610.4 81.7,609.3 79.9,607.9 78.2,606.2 76.7,604.4 75.4,602.4 74.3,600.3 73.5,598.1 72.9,596.2 72.6,594.5 72.5,592.8 72.7,591.1 73.2,589.6 73.9,588.2 74.8,587.0 76.0,586.0 77.4,585.3 79.0,584.7 80.7,584.4 82.6,584.3 84.6,584.4 86.7,584.8 88.8,585.3 91.0,586.0 93.3,586.8 95.6,587.8 97.7,588.8 99.8,590.0Z" fill="rgb(65,105,225)" fill-opacity="0.5"/>
<path d="M109.6,584.6 112.6,587.0 115.3,589.5 117.6,592.0 119.5,594.5 121.0,597.0 122.1,599.4 122.7,601.8 122.8,604.1 122.4,606.3 121.6,608.4 120.4,610.5 118.7,612.4 116.5,614.3 114.0,615.9 111.2,617.4 108.1,618.7 104.7,619.8 101.1,620.6 97.3,621.1 93.5,621.2 89.7,621.0 86.3,620.4 83.0,619.4 79.8,617.9 76.7,616.1 73.9,613.9 71.3,611.3 68.9,608.4 66.9,605.3 65.3,601.9 63.9,598.5 63.0,594.9 62.5,591.3 62.4,587.8 62.7,584.5 63.4,581.4 64.5,578.6 66.0,576.2 67.8,574.2 70.0,572.6 72.5,571.5 75.2,570.9 78.2,570.7 81.3,571.0 84.6,571.6 87.9,572.7 91.4,574.1 95.3,575.8 99.1,577.7 102.8,579.9 106.3,582.2Z" fill="none" stroke="rgb(65,105,225)" stroke-opacity="0.50" stroke-width="0.7"/>
<path d="M110.0,592.0 112.4,594.1 114.5,596.3 116.2,598.5 117.6,600.7 118.5,602.9 119.1,605.0 119.3,607.4 119.1,609.7 118.4,612.0 117.4,614.3 115.9,616.6 114.1,618.8 112.0,621.0 109.5,623.1 106.8,625.0 103.9,626.8 100.8,628.3 97.5,629.6 94.1,630.6 90.7,631.2 87.5,631.5 84.2,631.3 81.1,630.6 78.2,629.4 75.4,627.8 72.8,625.7 70.5,623.1 68.5,620.2 66.9,616.8 65.6,613.3 64.6,609.5 64.1,605.5 63.9,601.9 64.1,598.4 64.8,595.0 65.8,591.9 67.1,589.0 68.9,586.5 70.9,584.4 73.2,582.7 75.8,581.4 78.7,580.6 81.7,580.3 84.8,580.4 88.0,580.8 91.3,581.7 94.7,582.9 98.1,584.3 101.3,586.0 104.4,587.9 107.3,589.9Z M102.8,597.7 104.3,599.0 105.6,600.2 106.7,601.4 107.5,602.7 108.1,603.9 108.5,605.1 108.6,606.5 108.4,607.9 108.0,609.3 107.4,610.6 106.5,612.0 105.4,613.3 104.1,614.6 102.5,615.8 100.8,616.9 99.0,618.0 97.1,618.9 95.0,619.7 92.9,620.3 90.8,620.6 88.8,620.8 86.7,620.7 84.8,620.3 82.9,619.6 81.1,618.6 79.5,617.3 78.1,615.8 76.8,614.1 75.8,612.1 74.9,610.0 74.4,607.7 74.0,605.4 73.9,603.4 74.0,601.4 74.4,599.5 75.1,597.7 75.9,596.1 77.0,594.7 78.3,593.4 79.8,592.5 81.4,591.8 83.2,591.3 85.1,591.1 87.1,591.2 89.1,591.5 91.2,591.9 93.3,592.6 95.4,593.4 97.4,594.4 99.3,595.4 101.1,596.6Z" fill="rgb(153,204,153)" fill-opacity="0.5" fill-rule="evenodd"/>
<path d="M102.8,597.7 104.3,599.0 105.6,600.2 106.7,601.4 107.5,602.7 108.1,603.9 108.5,605.1 108.6,606.5 108.4,607.9 108.0,609.3 107.4,610.6 106.5,612.0 105.4,613.3 104.1,614.6 102.5,615.8 100.8,616.9 99.0,618.0 97.1,618.9 95.0,619.7 92.9,620.3 90.8,620.6 88.8,620.8 86.7,620.7 84.8,620.3 82.9,619.6 81.1,618.6 79.5,617.3 78.1,615.8 76.8,614.1 75.8,612.1 74.9,610.0 74.4,607.7 74.0,605.4 73.9,603.4 74.0,601.4 74.4,599.5 75.1,597.7 75.9,596.1 77.0,594.7 78.3,593.4 79.8,592.5 81.4,591.8 83.2,591.3 85.1,591.1 87.1,591.2 89.1,591.5 91.2,591.9 93.3,592.6 95.4,593.4 97.4,594.4 99.3,595.4 101.1,596.6Z" fill="rgb(0,128,0)" fill-opacity="0.5"/>
<path d="M110.0,592.0 112.4,594.1 114.5,596.3 116.2,598.5 117.6,600.7 118.5,602.9 119.1,605.0 119.3,607.4 119.1,609.7 118.4,612.0 117.4,614.3 115.9,616.6 114.1,618.8 112.0,621.0 109.5,623.1 106.8,625.0 103.9,626.8 100.8,628.3 97.5,629.6 94.1,630.6 90.7,631.2 87.5,631.5 84.2,631.3 81.1,630.6 78.2,629.4 75.4,627.8 72.8,625.7 70.5,623.1 68.5,620.2 66.9,616.8 65.6,613.3 64.6,609.5 64.1,605.5 63.9,601.9 64.1,598.4 64.8,595.0 65.8,591.9 67.1,589.0 68.9,586.5 70.9,584.4 73.2,582.7 75.8,581.4 78.7,580.6 81.7,580.3 84.8,580.4 88.0,580.8 91.3,581.7 94.7,582.9 98.1,584.3 101.3,586.0 104.4,587.9 107.3,589.9Z" fill="none" stroke="rgb(0,128,0)" stroke-opacity="0.50" stroke-width="0.7"/>
<path d="M109.0,585.1 112.1,587.6 114.8,590.1 117.2,592.6 119.2,595.1 120.7,597.5 121.8,600.0 122.4,602.4 122.5,604.7 122.1,607.0 121.3,609.2 120.0,611.3 118.3,613.3 116.1,615.2 113.6,616.9 110.7,618.4 107.5,619.8 104.0,620.9 100.3,621.7 96.5,622.2 92.5,622.3 88.7,622.1 85.1,621.5 81.7,620.4 78.4,618.9 75.2,617.1 72.2,614.8 69.5,612.2 67.1,609.2 65.0,606.0 63.3,602.6 61.9,599.0 61.0,595.4 60.4,591.8 60.3,588.3 60.6,585.0 61.4,581.9 62.5,579.2 64.0,576.8 66.0,574.8 68.2,573.2 70.8,572.1 73.6,571.5 76.7,571.3 79.9,571.6 83.3,572.2 86.8,573.3 90.5,574.7 94.4,576.4 98.3,578.3 102.1,580.4 105.7,582.7Z M101.6,591.6 103.5,592.8 105.2,594.1 106.6,595.3 107.8,596.6 108.8,597.8 109.4,599.3 109.8,600.7 109.9,602.2 109.7,603.6 109.2,604.9 108.4,606.2 107.3,607.4 105.9,608.6 104.4,609.7 102.6,610.6 100.6,611.4 98.5,612.1 96.2,612.6 93.8,612.9 91.4,613.0 88.9,612.8 86.6,612.5 84.3,611.8 82.1,610.9 80.0,609.8 78.1,608.4 76.3,606.7 74.7,604.9 73.3,603.0 72.2,600.8 71.3,598.6 70.6,596.7 70.3,594.9 70.2,593.2 70.4,591.5 70.9,590.0 71.7,588.6 72.7,587.4 73.9,586.4 75.4,585.6 77.1,585.0 79.0,584.7 81.0,584.6 83.2,584.7 85.4,585.1 87.7,585.6 90.1,586.3 92.5,587.2 95.0,588.1 97.3,589.2 99.5,590.4Z" fill="rgb(255,219,153)" fill-opacity="0.5" fill-rule="evenodd"/>
<path d="M101.6,591.6 103.5,592.8 105.2,594.1 106.6,595.3 107.8,596.6 108.8,597.8 109.4,599.3 109.8,600.7 109.9,602.2 109.7,603.6 109.2,604.9 108.4,606.2 107.3,607.4 105.9,608.6 104.4,609.7 102.6,610.6 100.6,611.4 98.5,612.1 96.2,612.6 93.8,612.9 91.4,613.0 88.9,612.8 86.6,612.5 84.3,611.8 82.1,610.9 80.0,609.8 78.1,608.4 76.3,606.7 74.7,604.9 73.3,603.0 72.2,600.8 71.3,598.6 70.6,596.7 70.3,594.9 70.2,593.2 70.4,591.5 70.9,590.0 71.7,588.6 72.7,587.4 73.9,586.4 75.4,585.6 77.1,585.0 79.0,584.7 81.0,584.6 83.2,584.7 85.4,585.1 87.7,585.6 90.1,586.3 92.5,587.2 95.0,588.1 97.3,589.2 99.5,590.4Z" fill="rgb(255,165,0)" fill-opacity="0.5"/>
<path d="M109.0,585.1 112.1,587.6 114.8,590.1 117.2,592.6 119.2,595.1 120.7,597.5 121.8,600.0 122.4,602.4 122.5,604.7 122.1,607.0 121.3,609.2 120.0,611.3 118.3,613.3 116.1,615.2 113.6,616.9 110.7,618.4 107.5,619.8 104.0,620.9 100.3,621.7 96.5,622.2 92.5,622.3 88.7,622.1 85.1,621.5 81.7,620.4 78.4,618.9 75.2,617.1 72.2,614.8 69.5,612.2 67.1,609.2 65.0,606.0 63.3,602.6 61.9,599.0 61.0,595.4 60.4,591.8 60.3,588.3 60.6,585.0 61.4,581.9 62.5,579.2 64.0,576.8 66.0,574.8 68.2,573.2 70.8,572.1 73.6,571.5 76.7,571.3 79.9,571.6 83.3,572.2 86.8,573.3 90.5,574.7 94.4,576.4 98.3,578.3 102.1,580.4 105.7,582.7Z" fill="none" stroke="rgb(255,165,0)" stroke-opacity="0.50" stroke-width="0.7"/>
<line x1="72.50" x2="72.50" y1="554.45" y2="645.62" stroke="#808080" stroke-width="0.55" stroke-dasharray="1.45 0.9"/>
</g>
<g clip-path="url(#c61)">
<path d="M192.2,583.6 195.2,586.3 197.9,589.2 200.3,592.3 202.4,595.4 204.0,598.5 205.2,601.4 206.0,604.3 206.4,607.1 206.3,609.8 205.7,612.3 204.8,614.6 203.4,616.6 201.6,618.3 199.4,619.8 196.9,620.9 194.0,621.7 190.9,622.1 187.6,622.2 184.1,621.9 180.5,621.3 176.8,620.3 173.6,619.0 170.5,617.4 167.6,615.4 164.8,613.3 162.1,610.9 159.7,608.3 157.4,605.5 155.5,602.6 153.8,599.7 152.5,596.7 151.5,593.6 150.8,590.5 150.5,587.5 150.6,584.7 151.0,582.1 151.8,579.7 153.0,577.5 154.5,575.7 156.3,574.1 158.3,573.0 160.7,572.1 163.2,571.7 165.9,571.6 168.8,571.9 171.8,572.6 174.8,573.6 178.3,575.0 182.0,576.7 185.6,578.7 189.0,581.0Z M185.8,590.4 187.7,591.8 189.3,593.3 190.8,594.9 192.0,596.5 193.0,598.2 193.8,600.0 194.3,601.8 194.5,603.6 194.4,605.3 194.1,606.9 193.5,608.3 192.6,609.6 191.5,610.7 190.2,611.6 188.7,612.3 186.9,612.8 185.0,613.0 183.0,613.1 180.8,612.9 178.6,612.5 176.4,611.9 174.3,611.1 172.4,610.0 170.5,608.8 168.7,607.5 167.0,606.0 165.4,604.3 164.0,602.6 162.7,600.8 161.6,598.9 160.8,597.1 160.1,595.5 159.7,593.9 159.5,592.4 159.6,591.0 159.8,589.6 160.4,588.4 161.1,587.3 162.0,586.3 163.2,585.6 164.5,584.9 166.0,584.5 167.7,584.3 169.4,584.2 171.3,584.4 173.2,584.7 175.1,585.3 177.3,586.0 179.5,586.9 181.7,587.9 183.8,589.1Z" fill="rgb(179,195,243)" fill-opacity="0.5" fill-rule="evenodd"/>
<path d="M185.8,590.4 187.7,591.8 189.3,593.3 190.8,594.9 192.0,596.5 193.0,598.2 193.8,600.0 194.3,601.8 194.5,603.6 194.4,605.3 194.1,606.9 193.5,608.3 192.6,609.6 191.5,610.7 190.2,611.6 188.7,612.3 186.9,612.8 185.0,613.0 183.0,613.1 180.8,612.9 178.6,612.5 176.4,611.9 174.3,611.1 172.4,610.0 170.5,608.8 168.7,607.5 167.0,606.0 165.4,604.3 164.0,602.6 162.7,600.8 161.6,598.9 160.8,597.1 160.1,595.5 159.7,593.9 159.5,592.4 159.6,591.0 159.8,589.6 160.4,588.4 161.1,587.3 162.0,586.3 163.2,585.6 164.5,584.9 166.0,584.5 167.7,584.3 169.4,584.2 171.3,584.4 173.2,584.7 175.1,585.3 177.3,586.0 179.5,586.9 181.7,587.9 183.8,589.1Z" fill="rgb(65,105,225)" fill-opacity="0.5"/>
<path d="M192.2,583.6 195.2,586.3 197.9,589.2 200.3,592.3 202.4,595.4 204.0,598.5 205.2,601.4 206.0,604.3 206.4,607.1 206.3,609.8 205.7,612.3 204.8,614.6 203.4,616.6 201.6,618.3 199.4,619.8 196.9,620.9 194.0,621.7 190.9,622.1 187.6,622.2 184.1,621.9 180.5,621.3 176.8,620.3 173.6,619.0 170.5,617.4 167.6,615.4 164.8,613.3 162.1,610.9 159.7,608.3 157.4,605.5 155.5,602.6 153.8,599.7 152.5,596.7 151.5,593.6 150.8,590.5 150.5,587.5 150.6,584.7 151.0,582.1 151.8,579.7 153.0,577.5 154.5,575.7 156.3,574.1 158.3,573.0 160.7,572.1 163.2,571.7 165.9,571.6 168.8,571.9 171.8,572.6 174.8,573.6 178.3,575.0 182.0,576.7 185.6,578.7 189.0,581.0Z" fill="none" stroke="rgb(65,105,225)" stroke-opacity="0.50" stroke-width="0.7"/>
<path d="M192.4,592.2 195.4,594.7 198.0,597.3 200.4,600.1 202.4,602.9 203.9,605.8 205.1,609.0 205.9,612.1 206.2,615.1 206.1,617.9 205.5,620.6 204.5,623.0 203.0,625.2 201.2,627.1 199.0,628.6 196.5,629.9 193.6,630.7 190.5,631.2 187.2,631.3 183.7,631.1 180.1,630.4 176.4,629.4 173.3,628.0 170.3,626.3 167.3,624.3 164.5,622.1 161.9,619.5 159.5,616.8 157.3,613.9 155.3,610.8 153.7,607.7 152.4,604.6 151.4,601.8 150.8,599.0 150.5,596.3 150.6,593.7 151.1,591.3 151.9,589.1 153.1,587.1 154.6,585.4 156.4,584.0 158.5,582.8 160.9,582.1 163.4,581.6 166.2,581.5 169.1,581.7 172.1,582.3 175.1,583.3 178.6,584.5 182.3,586.0 185.8,587.9 189.2,589.9Z M186.0,597.9 187.8,599.3 189.5,600.8 190.9,602.3 192.1,603.9 193.1,605.6 193.8,607.4 194.3,609.3 194.5,611.1 194.4,612.7 194.1,614.3 193.4,615.8 192.6,617.1 191.4,618.2 190.1,619.1 188.5,619.8 186.8,620.3 184.8,620.6 182.8,620.7 180.6,620.5 178.4,620.2 176.2,619.6 174.2,618.7 172.2,617.7 170.4,616.6 168.6,615.2 166.9,613.7 165.3,612.1 163.9,610.3 162.7,608.5 161.6,606.7 160.8,604.9 160.2,603.3 159.8,601.7 159.6,600.2 159.7,598.7 160.0,597.3 160.5,596.1 161.3,595.0 162.2,594.0 163.4,593.2 164.7,592.6 166.2,592.1 167.9,591.9 169.6,591.8 171.5,592.0 173.4,592.3 175.3,592.8 177.5,593.5 179.8,594.4 181.9,595.4 184.0,596.6Z" fill="rgb(153,204,153)" fill-opacity="0.5" fill-rule="evenodd"/>
<path d="M186.0,597.9 187.8,599.3 189.5,600.8 190.9,602.3 192.1,603.9 193.1,605.6 193.8,607.4 194.3,609.3 194.5,611.1 194.4,612.7 194.1,614.3 193.4,615.8 192.6,617.1 191.4,618.2 190.1,619.1 188.5,619.8 186.8,620.3 184.8,620.6 182.8,620.7 180.6,620.5 178.4,620.2 176.2,619.6 174.2,618.7 172.2,617.7 170.4,616.6 168.6,615.2 166.9,613.7 165.3,612.1 163.9,610.3 162.7,608.5 161.6,606.7 160.8,604.9 160.2,603.3 159.8,601.7 159.6,600.2 159.7,598.7 160.0,597.3 160.5,596.1 161.3,595.0 162.2,594.0 163.4,593.2 164.7,592.6 166.2,592.1 167.9,591.9 169.6,591.8 171.5,592.0 173.4,592.3 175.3,592.8 177.5,593.5 179.8,594.4 181.9,595.4 184.0,596.6Z" fill="rgb(0,128,0)" fill-opacity="0.5"/>
<path d="M192.4,592.2 195.4,594.7 198.0,597.3 200.4,600.1 202.4,602.9 203.9,605.8 205.1,609.0 205.9,612.1 206.2,615.1 206.1,617.9 205.5,620.6 204.5,623.0 203.0,625.2 201.2,627.1 199.0,628.6 196.5,629.9 193.6,630.7 190.5,631.2 187.2,631.3 183.7,631.1 180.1,630.4 176.4,629.4 173.3,628.0 170.3,626.3 167.3,624.3 164.5,622.1 161.9,619.5 159.5,616.8 157.3,613.9 155.3,610.8 153.7,607.7 152.4,604.6 151.4,601.8 150.8,599.0 150.5,596.3 150.6,593.7 151.1,591.3 151.9,589.1 153.1,587.1 154.6,585.4 156.4,584.0 158.5,582.8 160.9,582.1 163.4,581.6 166.2,581.5 169.1,581.7 172.1,582.3 175.1,583.3 178.6,584.5 182.3,586.0 185.8,587.9 189.2,589.9Z" fill="none" stroke="rgb(0,128,0)" stroke-opacity="0.50" stroke-width="0.7"/>
<path d="M192.4,584.1 195.4,586.9 198.2,589.8 200.6,592.8 202.7,595.9 204.4,599.0 205.6,602.0 206.4,605.0 206.8,607.9 206.7,610.6 206.1,613.2 205.1,615.5 203.7,617.6 201.9,619.4 199.6,620.9 197.1,622.0 194.2,622.8 191.0,623.2 187.6,623.3 184.1,623.0 180.4,622.4 176.6,621.4 173.3,620.0 170.2,618.4 167.1,616.4 164.2,614.2 161.4,611.7 158.9,609.0 156.6,606.2 154.6,603.3 152.8,600.3 151.4,597.2 150.4,594.1 149.7,591.0 149.4,588.1 149.5,585.3 150.0,582.6 150.8,580.2 152.0,578.1 153.5,576.3 155.4,574.7 157.5,573.6 159.9,572.7 162.6,572.3 165.4,572.2 168.4,572.5 171.4,573.2 174.6,574.2 178.2,575.6 181.9,577.3 185.6,579.3 189.1,581.6Z M185.9,590.8 187.8,592.2 189.5,593.8 191.0,595.3 192.3,597.0 193.3,598.7 194.1,600.5 194.6,602.4 194.8,604.1 194.7,605.8 194.4,607.4 193.8,608.8 192.9,610.1 191.8,611.2 190.4,612.1 188.8,612.8 187.0,613.3 185.1,613.6 183.0,613.6 180.8,613.4 178.5,613.0 176.2,612.4 174.1,611.6 172.1,610.5 170.2,609.3 168.4,608.0 166.6,606.5 165.0,604.8 163.5,603.1 162.3,601.3 161.2,599.4 160.3,597.6 159.6,596.0 159.2,594.4 159.0,592.9 159.1,591.4 159.3,590.0 159.9,588.8 160.6,587.6 161.6,586.7 162.8,585.9 164.1,585.3 165.7,584.8 167.3,584.6 169.1,584.5 171.0,584.7 172.9,585.1 174.9,585.6 177.1,586.3 179.5,587.2 181.7,588.3 183.9,589.5Z" fill="rgb(255,219,153)" fill-opacity="0.5" fill-rule="evenodd"/>
<path d="M185.9,590.8 187.8,592.2 189.5,593.8 191.0,595.3 192.3,597.0 193.3,598.7 194.1,600.5 194.6,602.4 194.8,604.1 194.7,605.8 194.4,607.4 193.8,608.8 192.9,610.1 191.8,611.2 190.4,612.1 188.8,612.8 187.0,613.3 185.1,613.6 183.0,613.6 180.8,613.4 178.5,613.0 176.2,612.4 174.1,611.6 172.1,610.5 170.2,609.3 168.4,608.0 166.6,606.5 165.0,604.8 163.5,603.1 162.3,601.3 161.2,599.4 160.3,597.6 159.6,596.0 159.2,594.4 159.0,592.9 159.1,591.4 159.3,590.0 159.9,588.8 160.6,587.6 161.6,586.7 162.8,585.9 164.1,585.3 165.7,584.8 167.3,584.6 169.1,584.5 171.0,584.7 172.9,585.1 174.9,585.6 177.1,586.3 179.5,587.2 181.7,588.3 183.9,589.5Z" fill="rgb(255,165,0)" fill-opacity="0.5"/>
<path d="M192.4,584.1 195.4,586.9 198.2,589.8 200.6,592.8 202.7,595.9 204.4,599.0 205.6,602.0 206.4,605.0 206.8,607.9 206.7,610.6 206.1,613.2 205.1,615.5 203.7,617.6 201.9,619.4 199.6,620.9 197.1,622.0 194.2,622.8 191.0,623.2 187.6,623.3 184.1,623.0 180.4,622.4 176.6,621.4 173.3,620.0 170.2,618.4 167.1,616.4 164.2,614.2 161.4,611.7 158.9,609.0 156.6,606.2 154.6,603.3 152.8,600.3 151.4,597.2 150.4,594.1 149.7,591.0 149.4,588.1 149.5,585.3 150.0,582.6 150.8,580.2 152.0,578.1 153.5,576.3 155.4,574.7 157.5,573.6 159.9,572.7 162.6,572.3 165.4,572.2 168.4,572.5 171.4,573.2 174.6,574.2 178.2,575.6 181.9,577.3 185.6,579.3 189.1,581.6Z" fill="none" stroke="rgb(255,165,0)" stroke-opacity="0.50" stroke-width="0.7"/>
<line x1="166.50" x2="166.50" y1="554.45" y2="645.62" stroke="#808080" stroke-width="0.55" stroke-dasharray="1.45 0.9"/>
</g>
<g clip-path="url(#c62)">
<path d="M293.3,576.0 295.3,578.1 297.0,580.5 298.3,583.1 299.1,586.0 299.5,589.0 299.4,592.2 298.9,595.4 297.9,598.6 296.5,601.5 294.7,604.4 292.4,607.2 289.9,609.9 287.0,612.4 283.9,614.6 280.5,616.7 277.0,618.4 273.3,619.8 269.5,620.9 266.0,621.7 262.7,622.1 259.5,622.2 256.4,621.9 253.5,621.3 250.8,620.3 248.3,618.9 246.1,617.3 244.3,615.4 242.8,613.2 241.7,610.8 241.0,608.2 240.6,605.4 240.7,602.6 241.2,599.6 242.0,596.5 243.3,593.3 244.9,590.1 246.9,587.0 249.1,584.1 251.7,581.4 254.5,578.9 257.5,576.7 260.6,574.8 263.9,573.2 267.2,572.0 270.8,571.1 274.6,570.6 278.2,570.6 281.7,570.9 285.0,571.6 288.1,572.7 290.8,574.2Z M283.6,586.1 284.8,587.2 285.9,588.5 286.7,589.9 287.2,591.4 287.4,593.0 287.3,594.7 287.0,596.4 286.4,598.2 285.5,600.1 284.4,601.9 283.1,603.7 281.5,605.3 279.8,606.9 277.8,608.3 275.8,609.6 273.6,610.7 271.3,611.6 269.1,612.3 266.9,612.8 264.8,613.1 262.8,613.1 260.9,612.9 259.0,612.5 257.3,611.9 255.8,611.0 254.5,610.0 253.3,608.8 252.4,607.4 251.7,605.9 251.2,604.3 251.0,602.5 251.1,600.7 251.4,598.9 251.9,597.0 252.7,595.3 253.7,593.6 254.9,592.0 256.3,590.4 257.9,589.0 259.7,587.7 261.5,586.5 263.5,585.5 265.5,584.6 267.6,584.0 269.9,583.5 272.1,583.3 274.4,583.2 276.5,583.4 278.5,583.8 280.4,584.4 282.1,585.1Z" fill="rgb(179,195,243)" fill-opacity="0.5" fill-rule="evenodd"/>
<path d="M283.6,586.1 284.8,587.2 285.9,588.5 286.7,589.9 287.2,591.4 287.4,593.0 287.3,594.7 287.0,596.4 286.4,598.2 285.5,600.1 284.4,601.9 283.1,603.7 281.5,605.3 279.8,606.9 277.8,608.3 275.8,609.6 273.6,610.7 271.3,611.6 269.1,612.3 266.9,612.8 264.8,613.1 262.8,613.1 260.9,612.9 259.0,612.5 257.3,611.9 255.8,611.0 254.5,610.0 253.3,608.8 252.4,607.4 251.7,605.9 251.2,604.3 251.0,602.5 251.1,600.7 251.4,598.9 251.9,597.0 252.7,595.3 253.7,593.6 254.9,592.0 256.3,590.4 257.9,589.0 259.7,587.7 261.5,586.5 263.5,585.5 265.5,584.6 267.6,584.0 269.9,583.5 272.1,583.3 274.4,583.2 276.5,583.4 278.5,583.8 280.4,584.4 282.1,585.1Z" fill="rgb(65,105,225)" fill-opacity="0.5"/>
<path d="M293.3,576.0 295.3,578.1 297.0,580.5 298.3,583.1 299.1,586.0 299.5,589.0 299.4,592.2 298.9,595.4 297.9,598.6 296.5,601.5 294.7,604.4 292.4,607.2 289.9,609.9 287.0,612.4 283.9,614.6 280.5,616.7 277.0,618.4 273.3,619.8 269.5,620.9 266.0,621.7 262.7,622.1 259.5,622.2 256.4,621.9 253.5,621.3 250.8,620.3 248.3,618.9 246.1,617.3 244.3,615.4 242.8,613.2 241.7,610.8 241.0,608.2 240.6,605.4 240.7,602.6 241.2,599.6 242.0,596.5 243.3,593.3 244.9,590.1 246.9,587.0 249.1,584.1 251.7,581.4 254.5,578.9 257.5,576.7 260.6,574.8 263.9,573.2 267.2,572.0 270.8,571.1 274.6,570.6 278.2,570.6 281.7,570.9 285.0,571.6 288.1,572.7 290.8,574.2Z" fill="none" stroke="rgb(65,105,225)" stroke-opacity="0.50" stroke-width="0.7"/>
<path d="M289.4,585.7 291.3,587.6 292.9,589.9 294.1,592.3 294.9,594.9 295.3,597.7 295.2,600.6 294.8,603.6 294.0,606.6 292.8,609.8 291.2,612.8 289.2,615.8 287.0,618.6 284.4,621.2 281.7,623.6 278.7,625.7 275.5,627.5 272.2,629.0 268.8,630.1 265.6,630.9 262.4,631.3 259.3,631.3 256.4,630.9 253.6,630.2 251.0,629.1 248.6,627.6 246.5,625.9 244.7,623.8 243.3,621.4 242.1,618.8 241.4,616.1 241.0,613.1 241.1,610.1 241.5,606.9 242.2,603.8 243.4,600.9 244.9,598.0 246.7,595.2 248.8,592.5 251.2,590.1 253.8,587.8 256.6,585.8 259.6,584.1 262.7,582.7 265.9,581.6 269.1,580.9 272.5,580.5 275.8,580.5 278.9,580.9 281.9,581.6 284.7,582.6 287.2,584.0Z M281.1,593.8 282.2,595.0 283.2,596.3 283.9,597.7 284.4,599.2 284.7,600.8 284.7,602.5 284.4,604.3 283.9,606.1 283.1,607.9 282.1,609.7 280.9,611.5 279.5,613.1 278.0,614.7 276.2,616.1 274.4,617.4 272.4,618.4 270.3,619.3 268.3,620.0 266.2,620.4 264.3,620.7 262.4,620.7 260.5,620.5 258.8,620.0 257.2,619.4 255.7,618.5 254.4,617.5 253.3,616.2 252.4,614.8 251.7,613.3 251.3,611.6 251.0,609.9 251.0,608.1 251.3,606.2 251.8,604.4 252.5,602.7 253.4,601.0 254.5,599.4 255.8,597.8 257.3,596.4 258.9,595.1 260.7,593.9 262.5,592.9 264.5,592.1 266.4,591.5 268.4,591.1 270.5,590.8 272.6,590.8 274.5,591.0 276.4,591.4 278.1,592.1 279.7,592.9Z" fill="rgb(153,204,153)" fill-opacity="0.5" fill-rule="evenodd"/>
<path d="M281.1,593.8 282.2,595.0 283.2,596.3 283.9,597.7 284.4,599.2 284.7,600.8 284.7,602.5 284.4,604.3 283.9,606.1 283.1,607.9 282.1,609.7 280.9,611.5 279.5,613.1 278.0,614.7 276.2,616.1 274.4,617.4 272.4,618.4 270.3,619.3 268.3,620.0 266.2,620.4 264.3,620.7 262.4,620.7 260.5,620.5 258.8,620.0 257.2,619.4 255.7,618.5 254.4,617.5 253.3,616.2 252.4,614.8 251.7,613.3 251.3,611.6 251.0,609.9 251.0,608.1 251.3,606.2 251.8,604.4 252.5,602.7 253.4,601.0 254.5,599.4 255.8,597.8 257.3,596.4 258.9,595.1 260.7,593.9 262.5,592.9 264.5,592.1 266.4,591.5 268.4,591.1 270.5,590.8 272.6,590.8 274.5,591.0 276.4,591.4 278.1,592.1 279.7,592.9Z" fill="rgb(0,128,0)" fill-opacity="0.5"/>
<path d="M289.4,585.7 291.3,587.6 292.9,589.9 294.1,592.3 294.9,594.9 295.3,597.7 295.2,600.6 294.8,603.6 294.0,606.6 292.8,609.8 291.2,612.8 289.2,615.8 287.0,618.6 284.4,621.2 281.7,623.6 278.7,625.7 275.5,627.5 272.2,629.0 268.8,630.1 265.6,630.9 262.4,631.3 259.3,631.3 256.4,630.9 253.6,630.2 251.0,629.1 248.6,627.6 246.5,625.9 244.7,623.8 243.3,621.4 242.1,618.8 241.4,616.1 241.0,613.1 241.1,610.1 241.5,606.9 242.2,603.8 243.4,600.9 244.9,598.0 246.7,595.2 248.8,592.5 251.2,590.1 253.8,587.8 256.6,585.8 259.6,584.1 262.7,582.7 265.9,581.6 269.1,580.9 272.5,580.5 275.8,580.5 278.9,580.9 281.9,581.6 284.7,582.6 287.2,584.0Z" fill="none" stroke="rgb(0,128,0)" stroke-opacity="0.50" stroke-width="0.7"/>
<path d="M293.6,576.6 295.7,578.7 297.4,581.1 298.7,583.7 299.5,586.5 299.9,589.6 299.8,592.7 299.3,595.9 298.3,599.1 296.9,602.1 295.0,605.1 292.8,608.0 290.2,610.7 287.3,613.2 284.2,615.6 280.8,617.6 277.2,619.4 273.5,620.9 269.7,622.0 266.2,622.8 262.8,623.3 259.5,623.3 256.4,623.0 253.4,622.3 250.6,621.3 248.1,620.0 245.9,618.3 244.1,616.3 242.5,614.1 241.4,611.6 240.7,608.9 240.3,606.1 240.4,603.2 240.9,600.2 241.8,597.1 243.0,593.8 244.7,590.6 246.7,587.6 249.0,584.7 251.6,581.9 254.4,579.5 257.5,577.3 260.7,575.4 264.0,573.8 267.4,572.6 271.1,571.7 274.8,571.3 278.5,571.2 282.0,571.5 285.3,572.2 288.4,573.3 291.2,574.8Z M283.9,586.4 285.2,587.6 286.3,588.9 287.0,590.3 287.6,591.8 287.8,593.5 287.7,595.2 287.4,596.9 286.8,598.7 285.9,600.6 284.8,602.4 283.4,604.2 281.9,605.9 280.1,607.4 278.1,608.8 276.0,610.1 273.9,611.2 271.6,612.1 269.3,612.8 267.1,613.3 264.9,613.6 262.9,613.6 260.9,613.4 259.0,613.0 257.3,612.4 255.7,611.5 254.3,610.5 253.2,609.3 252.2,607.9 251.5,606.4 251.0,604.8 250.8,603.0 250.9,601.2 251.2,599.4 251.7,597.5 252.5,595.8 253.5,594.1 254.8,592.4 256.3,590.8 257.9,589.4 259.7,588.0 261.6,586.8 263.6,585.8 265.7,584.9 267.8,584.3 270.1,583.8 272.4,583.6 274.6,583.5 276.8,583.7 278.8,584.1 280.7,584.7 282.4,585.5Z" fill="rgb(255,219,153)" fill-opacity="0.5" fill-rule="evenodd"/>
<path d="M283.9,586.4 285.2,587.6 286.3,588.9 287.0,590.3 287.6,591.8 287.8,593.5 287.7,595.2 287.4,596.9 286.8,598.7 285.9,600.6 284.8,602.4 283.4,604.2 281.9,605.9 280.1,607.4 278.1,608.8 276.0,610.1 273.9,611.2 271.6,612.1 269.3,612.8 267.1,613.3 264.9,613.6 262.9,613.6 260.9,613.4 259.0,613.0 257.3,612.4 255.7,611.5 254.3,610.5 253.2,609.3 252.2,607.9 251.5,606.4 251.0,604.8 250.8,603.0 250.9,601.2 251.2,599.4 251.7,597.5 252.5,595.8 253.5,594.1 254.8,592.4 256.3,590.8 257.9,589.4 259.7,588.0 261.6,586.8 263.6,585.8 265.7,584.9 267.8,584.3 270.1,583.8 272.4,583.6 274.6,583.5 276.8,583.7 278.8,584.1 280.7,584.7 282.4,585.5Z" fill="rgb(255,165,0)" fill-opacity="0.5"/>
<path d="M293.6,576.6 295.7,578.7 297.4,581.1 298.7,583.7 299.5,586.5 299.9,589.6 299.8,592.7 299.3,595.9 298.3,599.1 296.9,602.1 295.0,605.1 292.8,608.0 290.2,610.7 287.3,613.2 284.2,615.6 280.8,617.6 277.2,619.4 273.5,620.9 269.7,622.0 266.2,622.8 262.8,623.3 259.5,623.3 256.4,623.0 253.4,622.3 250.6,621.3 248.1,620.0 245.9,618.3 244.1,616.3 242.5,614.1 241.4,611.6 240.7,608.9 240.3,606.1 240.4,603.2 240.9,600.2 241.8,597.1 243.0,593.8 244.7,590.6 246.7,587.6 249.0,584.7 251.6,581.9 254.4,579.5 257.5,577.3 260.7,575.4 264.0,573.8 267.4,572.6 271.1,571.7 274.8,571.3 278.5,571.2 282.0,571.5 285.3,572.2 288.4,573.3 291.2,574.8Z" fill="none" stroke="rgb(255,165,0)" stroke-opacity="0.50" stroke-width="0.7"/>
<line x1="280.50" x2="280.50" y1="554.45" y2="645.62" stroke="#808080" stroke-width="0.55" stroke-dasharray="1.45 0.9"/>
</g>
<g clip-path="url(#c63)">
<path d="M375.4,576.2 377.4,578.4 379.1,580.8 380.4,583.5 381.2,586.4 381.7,589.4 381.6,592.6 381.2,595.8 380.3,599.0 379.0,601.9 377.3,604.8 375.2,607.6 372.7,610.2 370.0,612.7 367.0,614.9 363.7,616.9 360.3,618.6 356.8,620.0 353.2,621.1 349.8,621.8 346.8,622.2 343.8,622.2 340.9,621.8 338.2,621.1 335.7,620.1 333.4,618.7 331.4,617.1 329.7,615.1 328.3,612.9 327.2,610.5 326.5,607.8 326.1,605.1 326.2,602.2 326.5,599.2 327.3,596.1 328.4,592.9 329.8,589.7 331.6,586.6 333.6,583.7 335.9,581.0 338.5,578.6 341.2,576.4 344.1,574.5 347.1,573.0 350.1,571.8 353.5,571.0 357.1,570.6 360.6,570.6 364.0,571.0 367.3,571.7 370.3,572.9 373.0,574.4Z M365.3,586.2 366.5,587.4 367.5,588.7 368.2,590.1 368.7,591.6 369.0,593.3 369.0,594.9 368.7,596.7 368.2,598.5 367.4,600.3 366.4,602.1 365.2,603.9 363.8,605.6 362.2,607.1 360.5,608.5 358.6,609.8 356.6,610.8 354.6,611.7 352.5,612.4 350.4,612.8 348.4,613.1 346.4,613.1 344.6,612.9 342.8,612.4 341.1,611.8 339.6,610.9 338.3,609.9 337.2,608.6 336.2,607.2 335.5,605.7 335.1,604.0 334.8,602.3 334.8,600.5 335.1,598.6 335.6,596.8 336.3,595.1 337.3,593.4 338.4,591.8 339.8,590.2 341.3,588.8 342.9,587.5 344.7,586.3 346.6,585.3 348.6,584.5 350.6,583.9 352.7,583.5 354.7,583.3 356.8,583.2 358.8,583.4 360.6,583.8 362.4,584.5 363.9,585.3Z" fill="rgb(179,195,243)" fill-opacity="0.5" fill-rule="evenodd"/>
<path d="M365.3,586.2 366.5,587.4 367.5,588.7 368.2,590.1 368.7,591.6 369.0,593.3 369.0,594.9 368.7,596.7 368.2,598.5 367.4,600.3 366.4,602.1 365.2,603.9 363.8,605.6 362.2,607.1 360.5,608.5 358.6,609.8 356.6,610.8 354.6,611.7 352.5,612.4 350.4,612.8 348.4,613.1 346.4,613.1 344.6,612.9 342.8,612.4 341.1,611.8 339.6,610.9 338.3,609.9 337.2,608.6 336.2,607.2 335.5,605.7 335.1,604.0 334.8,602.3 334.8,600.5 335.1,598.6 335.6,596.8 336.3,595.1 337.3,593.4 338.4,591.8 339.8,590.2 341.3,588.8 342.9,587.5 344.7,586.3 346.6,585.3 348.6,584.5 350.6,583.9 352.7,583.5 354.7,583.3 356.8,583.2 358.8,583.4 360.6,583.8 362.4,584.5 363.9,585.3Z" fill="rgb(65,105,225)" fill-opacity="0.5"/>
<path d="M375.4,576.2 377.4,578.4 379.1,580.8 380.4,583.5 381.2,586.4 381.7,589.4 381.6,592.6 381.2,595.8 380.3,599.0 379.0,601.9 377.3,604.8 375.2,607.6 372.7,610.2 370.0,612.7 367.0,614.9 363.7,616.9 360.3,618.6 356.8,620.0 353.2,621.1 349.8,621.8 346.8,622.2 343.8,622.2 340.9,621.8 338.2,621.1 335.7,620.1 333.4,618.7 331.4,617.1 329.7,615.1 328.3,612.9 327.2,610.5 326.5,607.8 326.1,605.1 326.2,602.2 326.5,599.2 327.3,596.1 328.4,592.9 329.8,589.7 331.6,586.6 333.6,583.7 335.9,581.0 338.5,578.6 341.2,576.4 344.1,574.5 347.1,573.0 350.1,571.8 353.5,571.0 357.1,570.6 360.6,570.6 364.0,571.0 367.3,571.7 370.3,572.9 373.0,574.4Z" fill="none" stroke="rgb(65,105,225)" stroke-opacity="0.50" stroke-width="0.7"/>
<path d="M372.7,587.3 374.9,589.5 376.9,591.9 378.4,594.5 379.6,597.3 380.3,600.1 380.7,603.1 380.6,606.1 380.1,609.3 379.2,612.4 377.8,615.3 376.1,618.2 374.0,620.8 371.6,623.2 368.9,625.4 366.0,627.2 362.8,628.8 359.5,630.0 356.0,630.8 352.5,631.2 349.6,631.3 346.8,631.0 344.2,630.3 341.6,629.3 339.2,627.9 337.0,626.2 335.0,624.1 333.2,621.8 331.7,619.3 330.5,616.5 329.6,613.6 329.0,610.6 328.7,607.4 328.8,604.3 329.2,601.4 329.9,598.4 330.9,595.6 332.3,592.9 333.9,590.5 335.8,588.2 337.9,586.1 340.2,584.4 342.7,582.9 345.3,581.8 348.0,581.0 350.7,580.6 354.0,580.5 357.5,580.8 360.9,581.4 364.1,582.4 367.2,583.7 370.1,585.4Z M362.7,594.8 363.9,596.1 365.0,597.5 365.8,599.0 366.4,600.6 366.8,602.3 367.0,604.0 366.9,605.8 366.7,607.6 366.2,609.4 365.5,611.2 364.6,612.9 363.5,614.5 362.2,615.9 360.8,617.2 359.2,618.3 357.5,619.2 355.7,619.9 353.9,620.4 352.0,620.6 350.2,620.7 348.3,620.5 346.5,620.1 344.8,619.5 343.2,618.7 341.6,617.6 340.3,616.4 339.1,615.1 338.0,613.6 337.2,611.9 336.6,610.2 336.2,608.4 336.0,606.5 336.1,604.7 336.3,603.0 336.8,601.3 337.5,599.6 338.4,598.1 339.5,596.6 340.8,595.3 342.2,594.1 343.8,593.1 345.5,592.2 347.3,591.6 349.1,591.1 351.0,590.9 352.8,590.8 354.7,591.0 356.5,591.4 358.2,591.9 359.8,592.7 361.4,593.7Z" fill="rgb(153,204,153)" fill-opacity="0.5" fill-rule="evenodd"/>
<path d="M362.7,594.8 363.9,596.1 365.0,597.5 365.8,599.0 366.4,600.6 366.8,602.3 367.0,604.0 366.9,605.8 366.7,607.6 366.2,609.4 365.5,611.2 364.6,612.9 363.5,614.5 362.2,615.9 360.8,617.2 359.2,618.3 357.5,619.2 355.7,619.9 353.9,620.4 352.0,620.6 350.2,620.7 348.3,620.5 346.5,620.1 344.8,619.5 343.2,618.7 341.6,617.6 340.3,616.4 339.1,615.1 338.0,613.6 337.2,611.9 336.6,610.2 336.2,608.4 336.0,606.5 336.1,604.7 336.3,603.0 336.8,601.3 337.5,599.6 338.4,598.1 339.5,596.6 340.8,595.3 342.2,594.1 343.8,593.1 345.5,592.2 347.3,591.6 349.1,591.1 351.0,590.9 352.8,590.8 354.7,591.0 356.5,591.4 358.2,591.9 359.8,592.7 361.4,593.7Z" fill="rgb(0,128,0)" fill-opacity="0.5"/>
<path d="M372.7,587.3 374.9,589.5 376.9,591.9 378.4,594.5 379.6,597.3 380.3,600.1 380.7,603.1 380.6,606.1 380.1,609.3 379.2,612.4 377.8,615.3 376.1,618.2 374.0,620.8 371.6,623.2 368.9,625.4 366.0,627.2 362.8,628.8 359.5,630.0 356.0,630.8 352.5,631.2 349.6,631.3 346.8,631.0 344.2,630.3 341.6,629.3 339.2,627.9 337.0,626.2 335.0,624.1 333.2,621.8 331.7,619.3 330.5,616.5 329.6,613.6 329.0,610.6 328.7,607.4 328.8,604.3 329.2,601.4 329.9,598.4 330.9,595.6 332.3,592.9 333.9,590.5 335.8,588.2 337.9,586.1 340.2,584.4 342.7,582.9 345.3,581.8 348.0,581.0 350.7,580.6 354.0,580.5 357.5,580.8 360.9,581.4 364.1,582.4 367.2,583.7 370.1,585.4Z" fill="none" stroke="rgb(0,128,0)" stroke-opacity="0.50" stroke-width="0.7"/>
<path d="M378.7,576.8 381.0,579.0 382.9,581.4 384.3,584.0 385.3,586.9 385.7,590.0 385.7,593.1 385.2,596.3 384.2,599.5 382.7,602.5 380.8,605.5 378.5,608.3 375.8,611.0 372.7,613.6 369.3,615.9 365.7,617.9 361.9,619.6 357.9,621.1 353.9,622.2 350.3,622.9 347.3,623.3 344.3,623.3 341.4,622.9 338.7,622.2 336.2,621.2 333.9,619.8 331.8,618.1 330.1,616.0 328.7,613.8 327.6,611.3 326.9,608.6 326.5,605.7 326.6,602.8 326.9,599.8 327.7,596.6 328.8,593.4 330.3,590.2 332.0,587.2 334.1,584.3 336.4,581.6 338.9,579.2 341.7,577.0 344.5,575.1 347.5,573.6 350.6,572.4 354.2,571.6 358.3,571.2 362.2,571.2 366.0,571.6 369.6,572.3 373.0,573.5 376.0,575.0Z M367.4,586.6 368.7,587.7 369.8,589.1 370.6,590.5 371.2,592.1 371.5,593.7 371.5,595.4 371.2,597.2 370.6,599.0 369.7,600.8 368.6,602.6 367.3,604.4 365.7,606.1 363.9,607.6 362.0,609.0 359.9,610.3 357.7,611.3 355.4,612.2 353.1,612.9 350.9,613.3 348.8,613.6 346.8,613.6 344.9,613.4 343.0,612.9 341.3,612.3 339.8,611.4 338.4,610.4 337.2,609.1 336.3,607.7 335.6,606.2 335.1,604.6 334.8,602.8 334.8,601.0 335.1,599.1 335.6,597.3 336.4,595.6 337.3,593.8 338.5,592.2 339.9,590.6 341.5,589.2 343.2,587.9 345.0,586.7 347.0,585.7 349.0,584.8 351.1,584.2 353.3,583.8 355.6,583.6 357.9,583.5 360.1,583.7 362.2,584.2 364.1,584.8 365.9,585.6Z" fill="rgb(255,219,153)" fill-opacity="0.5" fill-rule="evenodd"/>
<path d="M367.4,586.6 368.7,587.7 369.8,589.1 370.6,590.5 371.2,592.1 371.5,593.7 371.5,595.4 371.2,597.2 370.6,599.0 369.7,600.8 368.6,602.6 367.3,604.4 365.7,606.1 363.9,607.6 362.0,609.0 359.9,610.3 357.7,611.3 355.4,612.2 353.1,612.9 350.9,613.3 348.8,613.6 346.8,613.6 344.9,613.4 343.0,612.9 341.3,612.3 339.8,611.4 338.4,610.4 337.2,609.1 336.3,607.7 335.6,606.2 335.1,604.6 334.8,602.8 334.8,601.0 335.1,599.1 335.6,597.3 336.4,595.6 337.3,593.8 338.5,592.2 339.9,590.6 341.5,589.2 343.2,587.9 345.0,586.7 347.0,585.7 349.0,584.8 351.1,584.2 353.3,583.8 355.6,583.6 357.9,583.5 360.1,583.7 362.2,584.2 364.1,584.8 365.9,585.6Z" fill="rgb(255,165,0)" fill-opacity="0.5"/>
<path d="M378.7,576.8 381.0,579.0 382.9,581.4 384.3,584.0 385.3,586.9 385.7,590.0 385.7,593.1 385.2,596.3 384.2,599.5 382.7,602.5 380.8,605.5 378.5,608.3 375.8,611.0 372.7,613.6 369.3,615.9 365.7,617.9 361.9,619.6 357.9,621.1 353.9,622.2 350.3,622.9 347.3,623.3 344.3,623.3 341.4,622.9 338.7,622.2 336.2,621.2 333.9,619.8 331.8,618.1 330.1,616.0 328.7,613.8 327.6,611.3 326.9,608.6 326.5,605.7 326.6,602.8 326.9,599.8 327.7,596.6 328.8,593.4 330.3,590.2 332.0,587.2 334.1,584.3 336.4,581.6 338.9,579.2 341.7,577.0 344.5,575.1 347.5,573.6 350.6,572.4 354.2,571.6 358.3,571.2 362.2,571.2 366.0,571.6 369.6,572.3 373.0,573.5 376.0,575.0Z" fill="none" stroke="rgb(255,165,0)" stroke-opacity="0.50" stroke-width="0.7"/>
<line x1="368.50" x2="368.50" y1="554.45" y2="645.62" stroke="#808080" stroke-width="0.55" stroke-dasharray="1.45 0.9"/>
</g>
<g clip-path="url(#c64)">
<path d="M447.7,583.0 450.7,585.9 453.5,588.9 455.9,592.1 457.9,595.3 459.6,598.5 460.8,601.4 461.6,604.3 462.0,607.1 461.9,609.8 461.3,612.3 460.4,614.6 458.9,616.6 457.1,618.3 454.9,619.8 452.4,620.9 449.5,621.7 446.4,622.1 443.0,622.2 439.5,621.9 435.8,621.3 432.1,620.3 429.6,619.0 427.5,617.4 425.5,615.4 423.6,613.3 421.8,610.9 420.2,608.3 418.7,605.5 417.4,602.6 416.2,599.7 415.3,596.6 414.6,593.4 414.2,590.2 414.0,587.1 414.1,584.2 414.4,581.5 414.9,579.0 415.7,576.7 416.7,574.8 417.9,573.2 419.3,572.0 420.9,571.1 422.6,570.7 424.4,570.6 426.3,570.9 428.4,571.6 430.4,572.7 433.6,574.1 437.3,575.9 441.0,578.0 444.4,580.4Z M439.1,589.9 440.5,591.4 441.9,593.0 443.0,594.7 444.0,596.4 444.8,598.2 445.4,600.0 445.8,601.8 446.0,603.6 445.9,605.3 445.7,606.9 445.2,608.3 444.5,609.6 443.6,610.7 442.6,611.6 441.3,612.3 440.0,612.8 438.4,613.0 436.8,613.1 435.1,612.9 433.3,612.5 431.5,611.9 430.1,611.1 428.9,610.0 427.6,608.8 426.5,607.5 425.3,606.0 424.3,604.3 423.4,602.6 422.6,600.8 421.9,598.9 421.3,597.1 420.9,595.4 420.6,593.7 420.5,592.0 420.5,590.5 420.7,589.0 421.1,587.7 421.5,586.5 422.2,585.5 422.9,584.6 423.8,584.0 424.7,583.5 425.8,583.3 426.9,583.2 428.1,583.4 429.4,583.8 430.6,584.3 432.3,585.1 434.1,586.1 435.8,587.2 437.5,588.5Z" fill="rgb(179,195,243)" fill-opacity="0.5" fill-rule="evenodd"/>
<path d="M439.1,589.9 440.5,591.4 441.9,593.0 443.0,594.7 444.0,596.4 444.8,598.2 445.4,600.0 445.8,601.8 446.0,603.6 445.9,605.3 445.7,606.9 445.2,608.3 444.5,609.6 443.6,610.7 442.6,611.6 441.3,612.3 440.0,612.8 438.4,613.0 436.8,613.1 435.1,612.9 433.3,612.5 431.5,611.9 430.1,611.1 428.9,610.0 427.6,608.8 426.5,607.5 425.3,606.0 424.3,604.3 423.4,602.6 422.6,600.8 421.9,598.9 421.3,597.1 420.9,595.4 420.6,593.7 420.5,592.0 420.5,590.5 420.7,589.0 421.1,587.7 421.5,586.5 422.2,585.5 422.9,584.6 423.8,584.0 424.7,583.5 425.8,583.3 426.9,583.2 428.1,583.4 429.4,583.8 430.6,584.3 432.3,585.1 434.1,586.1 435.8,587.2 437.5,588.5Z" fill="rgb(65,105,225)" fill-opacity="0.5"/>
<path d="M447.7,583.0 450.7,585.9 453.5,588.9 455.9,592.1 457.9,595.3 459.6,598.5 460.8,601.4 461.6,604.3 462.0,607.1 461.9,609.8 461.3,612.3 460.4,614.6 458.9,616.6 457.1,618.3 454.9,619.8 452.4,620.9 449.5,621.7 446.4,622.1 443.0,622.2 439.5,621.9 435.8,621.3 432.1,620.3 429.6,619.0 427.5,617.4 425.5,615.4 423.6,613.3 421.8,610.9 420.2,608.3 418.7,605.5 417.4,602.6 416.2,599.7 415.3,596.6 414.6,593.4 414.2,590.2 414.0,587.1 414.1,584.2 414.4,581.5 414.9,579.0 415.7,576.7 416.7,574.8 417.9,573.2 419.3,572.0 420.9,571.1 422.6,570.7 424.4,570.6 426.3,570.9 428.4,571.6 430.4,572.7 433.6,574.1 437.3,575.9 441.0,578.0 444.4,580.4Z" fill="none" stroke="rgb(65,105,225)" stroke-opacity="0.50" stroke-width="0.7"/>
<path d="M455.0,591.9 458.0,594.5 460.8,597.3 463.3,600.1 465.4,603.1 467.0,606.1 468.3,609.3 469.1,612.4 469.5,615.3 469.4,618.2 468.8,620.8 467.8,623.2 466.4,625.4 464.5,627.2 462.3,628.8 459.7,630.0 456.8,630.8 453.6,631.2 450.2,631.3 446.6,631.0 442.9,630.3 439.1,629.3 436.5,627.9 434.4,626.2 432.3,624.1 430.3,621.8 428.4,619.3 426.7,616.5 425.1,613.6 423.7,610.6 422.5,607.4 421.6,604.3 420.9,601.4 420.4,598.4 420.2,595.6 420.3,592.9 420.6,590.4 421.1,588.2 422.0,586.1 423.0,584.4 424.3,582.9 425.7,581.8 427.4,581.0 429.2,580.6 431.1,580.5 433.1,580.8 435.2,581.4 437.4,582.4 440.7,583.7 444.4,585.4 448.1,587.3 451.6,589.5Z M445.7,597.5 447.1,599.0 448.4,600.6 449.5,602.3 450.4,604.0 451.2,605.8 451.8,607.6 452.1,609.4 452.3,611.2 452.2,612.9 452.0,614.5 451.5,615.9 450.9,617.2 450.0,618.3 449.0,619.2 447.9,619.9 446.5,620.4 445.1,620.6 443.5,620.7 441.9,620.5 440.2,620.1 438.5,619.5 436.9,618.7 435.4,617.6 434.0,616.4 432.6,615.1 431.3,613.6 430.0,611.9 428.9,610.2 428.0,608.4 427.1,606.5 426.5,604.7 426.0,603.0 425.7,601.3 425.5,599.6 425.5,598.1 425.8,596.6 426.2,595.3 426.7,594.1 427.5,593.1 428.4,592.2 429.4,591.6 430.5,591.1 431.8,590.9 433.2,590.8 434.6,591.0 436.1,591.4 437.6,591.9 439.2,592.7 440.9,593.7 442.6,594.8 444.2,596.1Z" fill="rgb(153,204,153)" fill-opacity="0.5" fill-rule="evenodd"/>
<path d="M445.7,597.5 447.1,599.0 448.4,600.6 449.5,602.3 450.4,604.0 451.2,605.8 451.8,607.6 452.1,609.4 452.3,611.2 452.2,612.9 452.0,614.5 451.5,615.9 450.9,617.2 450.0,618.3 449.0,619.2 447.9,619.9 446.5,620.4 445.1,620.6 443.5,620.7 441.9,620.5 440.2,620.1 438.5,619.5 436.9,618.7 435.4,617.6 434.0,616.4 432.6,615.1 431.3,613.6 430.0,611.9 428.9,610.2 428.0,608.4 427.1,606.5 426.5,604.7 426.0,603.0 425.7,601.3 425.5,599.6 425.5,598.1 425.8,596.6 426.2,595.3 426.7,594.1 427.5,593.1 428.4,592.2 429.4,591.6 430.5,591.1 431.8,590.9 433.2,590.8 434.6,591.0 436.1,591.4 437.6,591.9 439.2,592.7 440.9,593.7 442.6,594.8 444.2,596.1Z" fill="rgb(0,128,0)" fill-opacity="0.5"/>
<path d="M455.0,591.9 458.0,594.5 460.8,597.3 463.3,600.1 465.4,603.1 467.0,606.1 468.3,609.3 469.1,612.4 469.5,615.3 469.4,618.2 468.8,620.8 467.8,623.2 466.4,625.4 464.5,627.2 462.3,628.8 459.7,630.0 456.8,630.8 453.6,631.2 450.2,631.3 446.6,631.0 442.9,630.3 439.1,629.3 436.5,627.9 434.4,626.2 432.3,624.1 430.3,621.8 428.4,619.3 426.7,616.5 425.1,613.6 423.7,610.6 422.5,607.4 421.6,604.3 420.9,601.4 420.4,598.4 420.2,595.6 420.3,592.9 420.6,590.4 421.1,588.2 422.0,586.1 423.0,584.4 424.3,582.9 425.7,581.8 427.4,581.0 429.2,580.6 431.1,580.5 433.1,580.8 435.2,581.4 437.4,582.4 440.7,583.7 444.4,585.4 448.1,587.3 451.6,589.5Z" fill="none" stroke="rgb(0,128,0)" stroke-opacity="0.50" stroke-width="0.7"/>
<path d="M450.1,583.6 453.4,586.4 456.3,589.5 459.0,592.6 461.2,595.8 463.0,599.0 464.3,602.0 465.2,605.0 465.6,607.9 465.5,610.6 464.9,613.2 463.8,615.5 462.3,617.6 460.3,619.4 457.9,620.9 455.2,622.0 452.1,622.8 448.7,623.2 445.0,623.3 441.2,623.0 437.2,622.4 433.2,621.4 430.5,620.0 428.4,618.4 426.3,616.4 424.3,614.2 422.4,611.7 420.7,609.0 419.1,606.2 417.7,603.3 416.5,600.3 415.6,597.2 414.9,593.9 414.4,590.7 414.2,587.7 414.3,584.8 414.6,582.0 415.1,579.5 416.0,577.3 417.0,575.4 418.3,573.8 419.7,572.6 421.4,571.7 423.2,571.3 425.1,571.2 427.1,571.5 429.2,572.2 431.4,573.3 434.9,574.7 438.9,576.5 442.8,578.6 446.5,581.0Z M440.0,590.3 441.4,591.8 442.7,593.4 443.9,595.1 444.9,596.9 445.6,598.7 446.2,600.5 446.6,602.4 446.8,604.1 446.7,605.8 446.5,607.4 446.0,608.8 445.3,610.1 444.5,611.2 443.4,612.1 442.2,612.8 440.8,613.3 439.3,613.6 437.7,613.6 436.0,613.4 434.3,613.0 432.5,612.4 431.0,611.6 429.6,610.5 428.3,609.3 427.0,608.0 425.8,606.5 424.6,604.8 423.6,603.1 422.7,601.3 421.9,599.4 421.3,597.6 420.8,595.8 420.5,594.1 420.4,592.5 420.4,590.9 420.6,589.4 421.0,588.1 421.5,586.9 422.2,585.8 423.0,585.0 424.0,584.3 425.1,583.8 426.2,583.6 427.5,583.5 428.8,583.7 430.2,584.1 431.6,584.7 433.3,585.4 435.0,586.4 436.8,587.5 438.4,588.8Z" fill="rgb(255,219,153)" fill-opacity="0.5" fill-rule="evenodd"/>
<path d="M440.0,590.3 441.4,591.8 442.7,593.4 443.9,595.1 444.9,596.9 445.6,598.7 446.2,600.5 446.6,602.4 446.8,604.1 446.7,605.8 446.5,607.4 446.0,608.8 445.3,610.1 444.5,611.2 443.4,612.1 442.2,612.8 440.8,613.3 439.3,613.6 437.7,613.6 436.0,613.4 434.3,613.0 432.5,612.4 431.0,611.6 429.6,610.5 428.3,609.3 427.0,608.0 425.8,606.5 424.6,604.8 423.6,603.1 422.7,601.3 421.9,599.4 421.3,597.6 420.8,595.8 420.5,594.1 420.4,592.5 420.4,590.9 420.6,589.4 421.0,588.1 421.5,586.9 422.2,585.8 423.0,585.0 424.0,584.3 425.1,583.8 426.2,583.6 427.5,583.5 428.8,583.7 430.2,584.1 431.6,584.7 433.3,585.4 435.0,586.4 436.8,587.5 438.4,588.8Z" fill="rgb(255,165,0)" fill-opacity="0.5"/>
<path d="M450.1,583.6 453.4,586.4 456.3,589.5 459.0,592.6 461.2,595.8 463.0,599.0 464.3,602.0 465.2,605.0 465.6,607.9 465.5,610.6 464.9,613.2 463.8,615.5 462.3,617.6 460.3,619.4 457.9,620.9 455.2,622.0 452.1,622.8 448.7,623.2 445.0,623.3 441.2,623.0 437.2,622.4 433.2,621.4 430.5,620.0 428.4,618.4 426.3,616.4 424.3,614.2 422.4,611.7 420.7,609.0 419.1,606.2 417.7,603.3 416.5,600.3 415.6,597.2 414.9,593.9 414.4,590.7 414.2,587.7 414.3,584.8 414.6,582.0 415.1,579.5 416.0,577.3 417.0,575.4 418.3,573.8 419.7,572.6 421.4,571.7 423.2,571.3 425.1,571.2 427.1,571.5 429.2,572.2 431.4,573.3 434.9,574.7 438.9,576.5 442.8,578.6 446.5,581.0Z" fill="none" stroke="rgb(255,165,0)" stroke-opacity="0.50" stroke-width="0.7"/>
<line x1="444.50" x2="444.50" y1="554.45" y2="645.62" stroke="#808080" stroke-width="0.55" stroke-dasharray="1.45 0.9"/>
</g>
<g clip-path="url(#c65)">
<path d="M556.5,582.2 558.7,585.0 560.6,588.0 562.3,591.1 563.7,594.3 564.8,597.5 565.7,600.5 566.1,603.4 566.3,606.3 566.1,609.0 565.6,611.5 564.8,613.9 563.7,616.0 562.2,617.8 560.5,619.4 558.6,620.6 556.4,621.5 554.0,622.0 551.5,622.2 548.9,622.1 546.2,621.5 543.5,620.6 541.3,619.4 539.1,617.9 537.0,616.1 535.0,614.0 533.1,611.6 531.4,609.1 529.8,606.4 528.5,603.6 527.4,600.6 526.5,597.7 525.8,594.4 525.4,591.2 525.3,588.1 525.4,585.1 525.8,582.3 526.5,579.7 527.4,577.4 528.5,575.4 529.9,573.7 531.5,572.3 533.2,571.4 535.1,570.8 537.1,570.6 539.2,570.7 541.4,571.3 543.6,572.3 546.3,573.6 549.0,575.3 551.6,577.3 554.1,579.6Z M550.3,589.4 551.5,590.9 552.5,592.5 553.4,594.1 554.1,595.8 554.7,597.6 555.2,599.4 555.4,601.3 555.5,603.1 555.4,604.8 555.1,606.4 554.7,607.9 554.1,609.2 553.4,610.3 552.5,611.3 551.4,612.1 550.3,612.6 549.1,613.0 547.7,613.1 546.3,613.0 544.9,612.7 543.5,612.1 542.1,611.3 540.8,610.4 539.5,609.2 538.3,607.9 537.2,606.4 536.1,604.8 535.2,603.1 534.3,601.4 533.7,599.5 533.1,597.6 532.7,595.9 532.5,594.2 532.4,592.5 532.5,591.0 532.7,589.5 533.1,588.1 533.7,586.9 534.4,585.8 535.2,584.9 536.2,584.2 537.2,583.6 538.4,583.3 539.6,583.2 540.9,583.3 542.2,583.6 543.5,584.1 545.0,584.9 546.4,585.7 547.8,586.8 549.1,588.0Z" fill="rgb(179,195,243)" fill-opacity="0.5" fill-rule="evenodd"/>
<path d="M550.3,589.4 551.5,590.9 552.5,592.5 553.4,594.1 554.1,595.8 554.7,597.6 555.2,599.4 555.4,601.3 555.5,603.1 555.4,604.8 555.1,606.4 554.7,607.9 554.1,609.2 553.4,610.3 552.5,611.3 551.4,612.1 550.3,612.6 549.1,613.0 547.7,613.1 546.3,613.0 544.9,612.7 543.5,612.1 542.1,611.3 540.8,610.4 539.5,609.2 538.3,607.9 537.2,606.4 536.1,604.8 535.2,603.1 534.3,601.4 533.7,599.5 533.1,597.6 532.7,595.9 532.5,594.2 532.4,592.5 532.5,591.0 532.7,589.5 533.1,588.1 533.7,586.9 534.4,585.8 535.2,584.9 536.2,584.2 537.2,583.6 538.4,583.3 539.6,583.2 540.9,583.3 542.2,583.6 543.5,584.1 545.0,584.9 546.4,585.7 547.8,586.8 549.1,588.0Z" fill="rgb(65,105,225)" fill-opacity="0.5"/>
<path d="M556.5,582.2 558.7,585.0 560.6,588.0 562.3,591.1 563.7,594.3 564.8,597.5 565.7,600.5 566.1,603.4 566.3,606.3 566.1,609.0 565.6,611.5 564.8,613.9 563.7,616.0 562.2,617.8 560.5,619.4 558.6,620.6 556.4,621.5 554.0,622.0 551.5,622.2 548.9,622.1 546.2,621.5 543.5,620.6 541.3,619.4 539.1,617.9 537.0,616.1 535.0,614.0 533.1,611.6 531.4,609.1 529.8,606.4 528.5,603.6 527.4,600.6 526.5,597.7 525.8,594.4 525.4,591.2 525.3,588.1 525.4,585.1 525.8,582.3 526.5,579.7 527.4,577.4 528.5,575.4 529.9,573.7 531.5,572.3 533.2,571.4 535.1,570.8 537.1,570.6 539.2,570.7 541.4,571.3 543.6,572.3 546.3,573.6 549.0,575.3 551.6,577.3 554.1,579.6Z" fill="none" stroke="rgb(65,105,225)" stroke-opacity="0.50" stroke-width="0.7"/>
<path d="M537.4,591.7 539.2,594.3 540.9,597.0 542.4,599.9 543.6,602.8 544.6,605.8 545.3,609.0 545.8,612.1 546.0,615.1 545.9,617.9 545.6,620.6 544.9,623.0 544.0,625.2 542.9,627.1 541.5,628.6 539.9,629.9 538.2,630.7 536.2,631.2 534.2,631.3 532.0,631.1 529.8,630.4 527.5,629.4 525.1,628.0 522.7,626.3 520.4,624.3 518.1,622.1 516.0,619.5 514.1,616.8 512.4,613.9 510.8,610.8 509.5,607.7 508.5,604.6 507.7,601.6 507.2,598.7 507.0,595.9 507.1,593.2 507.5,590.7 508.1,588.4 509.1,586.3 510.3,584.5 511.7,583.0 513.4,581.9 515.2,581.1 517.3,580.6 519.5,580.5 521.7,580.7 524.1,581.4 526.5,582.3 528.8,583.6 531.1,585.2 533.3,587.1 535.4,589.3Z M533.1,597.3 534.2,598.8 535.1,600.4 536.0,602.1 536.7,603.8 537.3,605.6 537.7,607.4 538.0,609.3 538.1,611.1 538.0,612.7 537.8,614.3 537.5,615.8 537.0,617.1 536.3,618.2 535.5,619.1 534.6,619.8 533.5,620.3 532.4,620.6 531.2,620.7 529.9,620.5 528.6,620.2 527.3,619.6 525.8,618.7 524.3,617.7 522.9,616.6 521.5,615.2 520.2,613.7 518.9,612.1 517.8,610.3 516.9,608.5 516.1,606.7 515.4,604.9 514.9,603.1 514.6,601.4 514.5,599.8 514.6,598.2 514.8,596.7 515.2,595.4 515.8,594.2 516.5,593.2 517.4,592.3 518.5,591.6 519.6,591.2 520.9,590.9 522.3,590.8 523.7,591.0 525.2,591.3 526.7,591.9 528.1,592.6 529.4,593.6 530.7,594.7 531.9,595.9Z" fill="rgb(153,204,153)" fill-opacity="0.5" fill-rule="evenodd"/>
<path d="M533.1,597.3 534.2,598.8 535.1,600.4 536.0,602.1 536.7,603.8 537.3,605.6 537.7,607.4 538.0,609.3 538.1,611.1 538.0,612.7 537.8,614.3 537.5,615.8 537.0,617.1 536.3,618.2 535.5,619.1 534.6,619.8 533.5,620.3 532.4,620.6 531.2,620.7 529.9,620.5 528.6,620.2 527.3,619.6 525.8,618.7 524.3,617.7 522.9,616.6 521.5,615.2 520.2,613.7 518.9,612.1 517.8,610.3 516.9,608.5 516.1,606.7 515.4,604.9 514.9,603.1 514.6,601.4 514.5,599.8 514.6,598.2 514.8,596.7 515.2,595.4 515.8,594.2 516.5,593.2 517.4,592.3 518.5,591.6 519.6,591.2 520.9,590.9 522.3,590.8 523.7,591.0 525.2,591.3 526.7,591.9 528.1,592.6 529.4,593.6 530.7,594.7 531.9,595.9Z" fill="rgb(0,128,0)" fill-opacity="0.5"/>
<path d="M537.4,591.7 539.2,594.3 540.9,597.0 542.4,599.9 543.6,602.8 544.6,605.8 545.3,609.0 545.8,612.1 546.0,615.1 545.9,617.9 545.6,620.6 544.9,623.0 544.0,625.2 542.9,627.1 541.5,628.6 539.9,629.9 538.2,630.7 536.2,631.2 534.2,631.3 532.0,631.1 529.8,630.4 527.5,629.4 525.1,628.0 522.7,626.3 520.4,624.3 518.1,622.1 516.0,619.5 514.1,616.8 512.4,613.9 510.8,610.8 509.5,607.7 508.5,604.6 507.7,601.6 507.2,598.7 507.0,595.9 507.1,593.2 507.5,590.7 508.1,588.4 509.1,586.3 510.3,584.5 511.7,583.0 513.4,581.9 515.2,581.1 517.3,580.6 519.5,580.5 521.7,580.7 524.1,581.4 526.5,582.3 528.8,583.6 531.1,585.2 533.3,587.1 535.4,589.3Z" fill="none" stroke="rgb(0,128,0)" stroke-opacity="0.50" stroke-width="0.7"/>
<path d="M560.7,584.0 562.5,586.9 564.2,589.9 565.7,593.0 566.9,596.3 567.9,599.4 568.7,602.5 569.2,605.4 569.5,608.3 569.5,611.0 569.2,613.5 568.6,615.8 567.8,617.8 566.8,619.6 565.5,621.0 564.0,622.1 562.3,622.9 560.4,623.3 558.5,623.3 556.4,623.0 554.2,622.3 552.0,621.2 549.6,619.8 547.3,618.1 545.0,616.1 542.7,613.8 540.6,611.3 538.7,608.7 536.9,605.8 535.3,602.9 534.0,599.8 532.9,596.7 532.0,593.5 531.5,590.3 531.2,587.3 531.2,584.4 531.6,581.7 532.1,579.2 533.0,577.0 534.1,575.2 535.5,573.6 537.1,572.5 538.9,571.6 540.9,571.2 543.0,571.2 545.3,571.6 547.6,572.3 550.0,573.4 552.3,574.9 554.5,576.8 556.6,578.9 558.7,581.3Z M556.3,590.5 557.4,592.0 558.3,593.7 559.1,595.4 559.8,597.1 560.3,598.9 560.8,600.8 561.0,602.6 561.2,604.4 561.2,606.0 561.0,607.6 560.7,609.0 560.3,610.2 559.7,611.3 559.0,612.2 558.2,612.9 557.2,613.3 556.2,613.6 555.1,613.6 554.0,613.4 552.8,612.9 551.5,612.3 550.2,611.4 548.8,610.4 547.4,609.2 546.1,607.8 544.9,606.2 543.7,604.6 542.7,602.8 541.7,601.0 540.9,599.2 540.3,597.4 539.8,595.6 539.5,593.9 539.3,592.2 539.3,590.7 539.5,589.2 539.9,587.9 540.4,586.7 541.0,585.7 541.9,584.9 542.8,584.2 543.9,583.8 545.0,583.6 546.3,583.5 547.6,583.7 549.0,584.1 550.4,584.8 551.7,585.6 552.9,586.6 554.1,587.7 555.3,589.0Z" fill="rgb(255,219,153)" fill-opacity="0.5" fill-rule="evenodd"/>
<path d="M556.3,590.5 557.4,592.0 558.3,593.7 559.1,595.4 559.8,597.1 560.3,598.9 560.8,600.8 561.0,602.6 561.2,604.4 561.2,606.0 561.0,607.6 560.7,609.0 560.3,610.2 559.7,611.3 559.0,612.2 558.2,612.9 557.2,613.3 556.2,613.6 555.1,613.6 554.0,613.4 552.8,612.9 551.5,612.3 550.2,611.4 548.8,610.4 547.4,609.2 546.1,607.8 544.9,606.2 543.7,604.6 542.7,602.8 541.7,601.0 540.9,599.2 540.3,597.4 539.8,595.6 539.5,593.9 539.3,592.2 539.3,590.7 539.5,589.2 539.9,587.9 540.4,586.7 541.0,585.7 541.9,584.9 542.8,584.2 543.9,583.8 545.0,583.6 546.3,583.5 547.6,583.7 549.0,584.1 550.4,584.8 551.7,585.6 552.9,586.6 554.1,587.7 555.3,589.0Z" fill="rgb(255,165,0)" fill-opacity="0.5"/>
<path d="M560.7,584.0 562.5,586.9 564.2,589.9 565.7,593.0 566.9,596.3 567.9,599.4 568.7,602.5 569.2,605.4 569.5,608.3 569.5,611.0 569.2,613.5 568.6,615.8 567.8,617.8 566.8,619.6 565.5,621.0 564.0,622.1 562.3,622.9 560.4,623.3 558.5,623.3 556.4,623.0 554.2,622.3 552.0,621.2 549.6,619.8 547.3,618.1 545.0,616.1 542.7,613.8 540.6,611.3 538.7,608.7 536.9,605.8 535.3,602.9 534.0,599.8 532.9,596.7 532.0,593.5 531.5,590.3 531.2,587.3 531.2,584.4 531.6,581.7 532.1,579.2 533.0,577.0 534.1,575.2 535.5,573.6 537.1,572.5 538.9,571.6 540.9,571.2 543.0,571.2 545.3,571.6 547.6,572.3 550.0,573.4 552.3,574.9 554.5,576.8 556.6,578.9 558.7,581.3Z" fill="none" stroke="rgb(255,165,0)" stroke-opacity="0.50" stroke-width="0.7"/>
<line x1="553.50" x2="553.50" y1="554.45" y2="645.62" stroke="#808080" stroke-width="0.55" stroke-dasharray="1.45 0.9"/>
</g>
<g clip-path="url(#c66)">
<path d="M585.40,645.62 586.40,645.62 587.40,645.62 588.40,645.62 589.40,645.61 590.40,645.61 591.40,645.60 592.40,645.59 593.40,645.57 594.40,645.54 595.40,645.51 596.40,645.46 597.40,645.39 598.40,645.30 599.40,645.17 600.40,645.00 601.40,644.78 602.40,644.49 603.40,644.12 604.40,643.64 605.40,643.04 606.40,642.29 607.40,641.36 608.40,640.22 609.40,638.84 610.40,637.20 611.40,635.27 612.40,633.01 613.40,630.42 614.40,627.47 615.40,624.15 616.40,620.48 617.40,616.47 618.40,612.15 619.40,607.56 620.40,602.77 621.40,597.84 622.40,592.87 623.40,587.94 624.40,583.18 625.40,578.67 626.40,574.55 627.40,570.90 628.40,567.84 629.40,565.44 630.40,563.77 631.40,562.88 632.40,562.80 633.40,563.53 634.40,565.05 635.40,567.30 636.40,570.24 637.40,573.78 638.40,577.82 639.40,582.25 640.40,586.97 641.40,591.87 642.40,596.84 643.40,601.79 644.40,606.61 645.40,611.25 646.40,615.63 647.40,619.70 648.40,623.45 649.40,626.83 650.40,629.86 651.40,632.52 652.40,634.85 653.40,636.84 654.40,638.54 655.40,639.96 656.40,641.15 657.40,642.12 658.40,642.90 659.40,643.53 660.40,644.03 661.40,644.43 662.40,644.73 663.40,644.96 664.40,645.14 665.40,645.28 666.40,645.37 667.40,645.45 668.40,645.50 669.40,645.54 670.40,645.56 671.40,645.58 672.40,645.60 673.40,645.61 674.40,645.61 675.40,645.62" fill="none" stroke="rgb(65,105,225)" stroke-width="1.55" stroke-linejoin="round"/>
<path d="M585.40,645.06 586.40,644.93 587.40,644.77 588.40,644.58 589.40,644.35 590.40,644.08 591.40,643.76 592.40,643.37 593.40,642.92 594.40,642.38 595.40,641.75 596.40,641.02 597.40,640.16 598.40,639.17 599.40,638.03 600.40,636.73 601.40,635.24 602.40,633.55 603.40,631.65 604.40,629.53 605.40,627.16 606.40,624.55 607.40,621.69 608.40,618.58 609.40,615.22 610.40,611.62 611.40,607.82 612.40,603.83 613.40,599.69 614.40,595.45 615.40,591.17 616.40,586.90 617.40,582.73 618.40,578.74 619.40,575.00 620.40,571.60 621.40,568.65 622.40,566.21 623.40,564.37 624.40,563.19 625.40,562.74 626.40,563.05 627.40,564.14 628.40,566.00 629.40,568.61 630.40,571.92 631.40,575.86 632.40,580.34 633.40,585.25 634.40,590.47 635.40,595.88 636.40,601.35 637.40,606.76 638.40,611.99 639.40,616.95 640.40,621.55 641.40,625.74 642.40,629.47 643.40,632.73 644.40,635.52 645.40,637.86 646.40,639.77 647.40,641.30 648.40,642.50 649.40,643.42 650.40,644.10 651.40,644.60 652.40,644.95 653.40,645.20 654.40,645.36 655.40,645.46 656.40,645.53 657.40,645.57 658.40,645.60 659.40,645.61 660.40,645.62 661.40,645.62 662.40,645.62 663.40,645.62 664.40,645.62 665.40,645.62 666.40,645.62 667.40,645.62 668.40,645.62 669.40,645.62 670.40,645.62 671.40,645.62 672.40,645.62 673.40,645.62 674.40,645.62 675.40,645.62" fill="none" stroke="rgb(0,128,0)" stroke-width="1.55" stroke-linejoin="round"/>
<path d="M585.40,645.62 586.40,645.62 587.40,645.62 588.40,645.61 589.40,645.61 590.40,645.60 591.40,645.58 592.40,645.57 593.40,645.54 594.40,645.51 595.40,645.46 596.40,645.39 597.40,645.31 598.40,645.19 599.40,645.03 600.40,644.83 601.40,644.57 602.40,644.24 603.40,643.81 604.40,643.27 605.40,642.60 606.40,641.77 607.40,640.76 608.40,639.54 609.40,638.07 610.40,636.34 611.40,634.32 612.40,631.97 613.40,629.29 614.40,626.26 615.40,622.87 616.40,619.14 617.40,615.08 618.40,610.73 619.40,606.12 620.40,601.33 621.40,596.42 622.40,591.48 623.40,586.61 624.40,581.92 625.40,577.52 626.40,573.51 627.40,570.01 628.40,567.11 629.40,564.89 630.40,563.43 631.40,562.78 632.40,562.94 633.40,563.93 634.40,565.72 635.40,568.26 636.40,571.47 637.40,575.28 638.40,579.58 639.40,584.25 640.40,589.18 641.40,594.25 642.40,599.36 643.40,604.40 644.40,609.28 645.40,613.92 646.40,618.26 647.40,622.26 648.40,625.89 649.40,629.14 650.40,632.00 651.40,634.49 652.40,636.63 653.40,638.43 654.40,639.94 655.40,641.18 656.40,642.19 657.40,643.00 658.40,643.64 659.40,644.15 660.40,644.53 661.40,644.83 662.40,645.05 663.40,645.22 664.40,645.34 665.40,645.42 666.40,645.49 667.40,645.53 668.40,645.56 669.40,645.58 670.40,645.60 671.40,645.61 672.40,645.61 673.40,645.62 674.40,645.62 675.40,645.62" fill="none" stroke="rgb(255,165,0)" stroke-width="1.55" stroke-linejoin="round"/>
</g>
<g clip-path="url(#c70)">
<path d="M117.5,672.3 119.7,674.0 121.4,675.8 122.7,677.9 123.4,680.1 123.6,682.4 123.3,684.8 122.5,687.3 121.3,690.5 119.6,694.1 117.6,697.6 115.2,700.9 112.6,704.1 109.6,707.0 106.5,709.7 103.2,712.0 99.8,714.0 96.4,715.7 92.8,716.9 89.5,717.7 86.4,718.0 83.5,718.0 80.6,717.5 77.8,716.5 75.1,715.2 72.7,713.4 70.4,711.3 68.4,708.8 66.6,706.1 65.2,703.1 64.0,699.8 63.3,696.4 62.9,692.9 62.9,689.3 63.3,686.4 64.1,684.0 65.4,681.6 67.1,679.3 69.2,677.2 71.6,675.2 74.4,673.4 77.5,671.8 80.8,670.4 84.4,669.3 88.0,668.5 91.9,668.0 96.2,667.7 100.4,667.8 104.4,668.1 108.2,668.8 111.7,669.7 114.8,670.9Z M106.4,677.5 107.7,678.6 108.7,679.9 109.4,681.2 109.8,682.7 110.0,684.3 109.8,685.9 109.3,687.5 108.6,689.5 107.6,691.6 106.4,693.7 105.0,695.7 103.5,697.5 101.8,699.3 99.9,700.9 98.0,702.2 96.0,703.4 94.0,704.4 91.9,705.1 89.8,705.6 87.9,705.8 86.0,705.7 84.1,705.4 82.4,704.9 80.7,704.1 79.1,703.1 77.6,701.8 76.3,700.4 75.2,698.7 74.3,696.9 73.6,695.0 73.1,693.0 72.8,690.9 72.8,688.8 73.1,687.0 73.6,685.3 74.4,683.7 75.5,682.2 76.8,680.8 78.4,679.4 80.2,678.2 82.2,677.1 84.3,676.2 86.6,675.5 88.9,674.9 91.3,674.6 93.9,674.4 96.3,674.4 98.7,674.7 100.9,675.1 102.9,675.7 104.8,676.5Z" fill="rgb(179,195,243)" fill-opacity="0.5" fill-rule="evenodd"/>
<path d="M106.4,677.5 107.7,678.6 108.7,679.9 109.4,681.2 109.8,682.7 110.0,684.3 109.8,685.9 109.3,687.5 108.6,689.5 107.6,691.6 106.4,693.7 105.0,695.7 103.5,697.5 101.8,699.3 99.9,700.9 98.0,702.2 96.0,703.4 94.0,704.4 91.9,705.1 89.8,705.6 87.9,705.8 86.0,705.7 84.1,705.4 82.4,704.9 80.7,704.1 79.1,703.1 77.6,701.8 76.3,700.4 75.2,698.7 74.3,696.9 73.6,695.0 73.1,693.0 72.8,690.9 72.8,688.8 73.1,687.0 73.6,685.3 74.4,683.7 75.5,682.2 76.8,680.8 78.4,679.4 80.2,678.2 82.2,677.1 84.3,676.2 86.6,675.5 88.9,674.9 91.3,674.6 93.9,674.4 96.3,674.4 98.7,674.7 100.9,675.1 102.9,675.7 104.8,676.5Z" fill="rgb(65,105,225)" fill-opacity="0.5"/>
<path d="M117.5,672.3 119.7,674.0 121.4,675.8 122.7,677.9 123.4,680.1 123.6,682.4 123.3,684.8 122.5,687.3 121.3,690.5 119.6,694.1 117.6,697.6 115.2,700.9 112.6,704.1 109.6,707.0 106.5,709.7 103.2,712.0 99.8,714.0 96.4,715.7 92.8,716.9 89.5,717.7 86.4,718.0 83.5,718.0 80.6,717.5 77.8,716.5 75.1,715.2 72.7,713.4 70.4,711.3 68.4,708.8 66.6,706.1 65.2,703.1 64.0,699.8 63.3,696.4 62.9,692.9 62.9,689.3 63.3,686.4 64.1,684.0 65.4,681.6 67.1,679.3 69.2,677.2 71.6,675.2 74.4,673.4 77.5,671.8 80.8,670.4 84.4,669.3 88.0,668.5 91.9,668.0 96.2,667.7 100.4,667.8 104.4,668.1 108.2,668.8 111.7,669.7 114.8,670.9Z" fill="none" stroke="rgb(65,105,225)" stroke-opacity="0.50" stroke-width="0.7"/>
<path d="M111.5,658.8 113.7,660.2 115.6,661.8 117.1,663.5 118.2,665.2 119.0,667.1 119.3,669.0 119.2,671.1 118.7,673.5 117.8,675.9 116.5,678.2 114.8,680.4 112.8,682.5 110.5,684.4 107.9,686.1 105.0,687.5 102.0,688.7 98.7,689.6 95.4,690.3 92.0,690.6 88.7,690.7 85.5,690.5 82.3,689.9 79.3,689.1 76.4,688.0 73.8,686.7 71.4,685.1 69.3,683.3 67.5,681.3 66.0,679.2 64.9,676.9 64.2,674.5 63.9,672.1 64.0,669.8 64.5,667.9 65.3,666.0 66.6,664.2 68.2,662.5 70.1,660.9 72.3,659.4 74.8,658.1 77.6,656.9 80.5,656.0 83.6,655.3 86.8,654.8 90.0,654.5 93.4,654.4 96.8,654.6 100.1,655.0 103.3,655.7 106.2,656.5 109.0,657.6Z M103.8,663.0 105.1,663.9 106.3,664.9 107.2,666.0 107.9,667.1 108.4,668.3 108.6,669.5 108.5,670.8 108.2,672.2 107.7,673.7 106.9,675.1 105.8,676.4 104.6,677.6 103.1,678.7 101.5,679.7 99.7,680.6 97.8,681.3 95.8,681.9 93.7,682.2 91.6,682.5 89.5,682.5 87.5,682.4 85.5,682.0 83.6,681.6 81.8,680.9 80.1,680.1 78.6,679.2 77.3,678.1 76.1,676.9 75.2,675.6 74.6,674.2 74.1,672.8 73.9,671.4 74.0,670.0 74.3,668.8 74.8,667.6 75.6,666.4 76.6,665.3 77.8,664.3 79.2,663.4 80.8,662.5 82.5,661.8 84.4,661.2 86.3,660.8 88.3,660.4 90.4,660.2 92.5,660.2 94.6,660.3 96.7,660.6 98.6,661.0 100.5,661.5 102.2,662.2Z" fill="rgb(153,204,153)" fill-opacity="0.5" fill-rule="evenodd"/>
<path d="M103.8,663.0 105.1,663.9 106.3,664.9 107.2,666.0 107.9,667.1 108.4,668.3 108.6,669.5 108.5,670.8 108.2,672.2 107.7,673.7 106.9,675.1 105.8,676.4 104.6,677.6 103.1,678.7 101.5,679.7 99.7,680.6 97.8,681.3 95.8,681.9 93.7,682.2 91.6,682.5 89.5,682.5 87.5,682.4 85.5,682.0 83.6,681.6 81.8,680.9 80.1,680.1 78.6,679.2 77.3,678.1 76.1,676.9 75.2,675.6 74.6,674.2 74.1,672.8 73.9,671.4 74.0,670.0 74.3,668.8 74.8,667.6 75.6,666.4 76.6,665.3 77.8,664.3 79.2,663.4 80.8,662.5 82.5,661.8 84.4,661.2 86.3,660.8 88.3,660.4 90.4,660.2 92.5,660.2 94.6,660.3 96.7,660.6 98.6,661.0 100.5,661.5 102.2,662.2Z" fill="rgb(0,128,0)" fill-opacity="0.5"/>
<path d="M111.5,658.8 113.7,660.2 115.6,661.8 117.1,663.5 118.2,665.2 119.0,667.1 119.3,669.0 119.2,671.1 118.7,673.5 117.8,675.9 116.5,678.2 114.8,680.4 112.8,682.5 110.5,684.4 107.9,686.1 105.0,687.5 102.0,688.7 98.7,689.6 95.4,690.3 92.0,690.6 88.7,690.7 85.5,690.5 82.3,689.9 79.3,689.1 76.4,688.0 73.8,686.7 71.4,685.1 69.3,683.3 67.5,681.3 66.0,679.2 64.9,676.9 64.2,674.5 63.9,672.1 64.0,669.8 64.5,667.9 65.3,666.0 66.6,664.2 68.2,662.5 70.1,660.9 72.3,659.4 74.8,658.1 77.6,656.9 80.5,656.0 83.6,655.3 86.8,654.8 90.0,654.5 93.4,654.4 96.8,654.6 100.1,655.0 103.3,655.7 106.2,656.5 109.0,657.6Z" fill="none" stroke="rgb(0,128,0)" stroke-opacity="0.50" stroke-width="0.7"/>
<path d="M115.8,672.6 118.3,674.5 120.3,676.7 121.8,679.0 122.7,681.5 123.0,684.1 122.9,686.7 122.2,689.8 121.1,693.7 119.6,697.7 117.6,701.5 115.4,705.1 112.8,708.4 110.0,711.5 107.1,714.2 103.9,716.6 100.7,718.5 97.3,720.0 93.9,721.1 90.5,721.7 87.4,721.8 84.3,721.4 81.4,720.5 78.5,719.2 75.7,717.4 73.0,715.2 70.5,712.7 68.2,709.7 66.1,706.5 64.2,703.0 62.7,699.3 61.5,695.4 60.7,691.4 60.3,687.8 60.3,685.1 60.8,682.5 61.8,680.0 63.2,677.6 65.1,675.4 67.4,673.4 70.2,671.5 73.3,670.0 76.8,668.7 80.5,667.7 84.3,667.0 88.3,666.6 92.7,666.5 97.2,666.8 101.5,667.3 105.6,668.2 109.4,669.4 112.9,670.9Z M105.8,678.2 107.3,679.5 108.6,680.9 109.4,682.4 110.0,684.0 110.2,685.7 110.1,687.4 109.7,689.2 109.0,691.5 108.1,693.6 106.9,695.8 105.5,697.8 103.9,699.6 102.2,701.4 100.4,702.9 98.4,704.2 96.4,705.3 94.3,706.1 92.2,706.7 90.1,707.0 88.1,707.1 86.1,706.9 84.1,706.4 82.2,705.7 80.4,704.7 78.6,703.5 76.9,702.0 75.4,700.4 74.0,698.6 72.8,696.6 71.8,694.5 71.0,692.4 70.4,690.2 70.2,688.1 70.2,686.4 70.5,684.7 71.2,683.0 72.1,681.5 73.4,680.1 74.9,678.7 76.7,677.6 78.8,676.5 81.1,675.7 83.5,675.1 86.1,674.6 88.7,674.3 91.5,674.3 94.3,674.5 96.9,674.8 99.5,675.4 101.8,676.2 103.9,677.1Z" fill="rgb(255,219,153)" fill-opacity="0.5" fill-rule="evenodd"/>
<path d="M105.8,678.2 107.3,679.5 108.6,680.9 109.4,682.4 110.0,684.0 110.2,685.7 110.1,687.4 109.7,689.2 109.0,691.5 108.1,693.6 106.9,695.8 105.5,697.8 103.9,699.6 102.2,701.4 100.4,702.9 98.4,704.2 96.4,705.3 94.3,706.1 92.2,706.7 90.1,707.0 88.1,707.1 86.1,706.9 84.1,706.4 82.2,705.7 80.4,704.7 78.6,703.5 76.9,702.0 75.4,700.4 74.0,698.6 72.8,696.6 71.8,694.5 71.0,692.4 70.4,690.2 70.2,688.1 70.2,686.4 70.5,684.7 71.2,683.0 72.1,681.5 73.4,680.1 74.9,678.7 76.7,677.6 78.8,676.5 81.1,675.7 83.5,675.1 86.1,674.6 88.7,674.3 91.5,674.3 94.3,674.5 96.9,674.8 99.5,675.4 101.8,676.2 103.9,677.1Z" fill="rgb(255,165,0)" fill-opacity="0.5"/>
<path d="M115.8,672.6 118.3,674.5 120.3,676.7 121.8,679.0 122.7,681.5 123.0,684.1 122.9,686.7 122.2,689.8 121.1,693.7 119.6,697.7 117.6,701.5 115.4,705.1 112.8,708.4 110.0,711.5 107.1,714.2 103.9,716.6 100.7,718.5 97.3,720.0 93.9,721.1 90.5,721.7 87.4,721.8 84.3,721.4 81.4,720.5 78.5,719.2 75.7,717.4 73.0,715.2 70.5,712.7 68.2,709.7 66.1,706.5 64.2,703.0 62.7,699.3 61.5,695.4 60.7,691.4 60.3,687.8 60.3,685.1 60.8,682.5 61.8,680.0 63.2,677.6 65.1,675.4 67.4,673.4 70.2,671.5 73.3,670.0 76.8,668.7 80.5,667.7 84.3,667.0 88.3,666.6 92.7,666.5 97.2,666.8 101.5,667.3 105.6,668.2 109.4,669.4 112.9,670.9Z" fill="none" stroke="rgb(255,165,0)" stroke-opacity="0.50" stroke-width="0.7"/>
<line x1="72.50" x2="72.50" y1="645.62" y2="736.80" stroke="#808080" stroke-width="0.55" stroke-dasharray="1.45 0.9"/>
<line x1="45.40" x2="135.40" y1="700.50" y2="700.50" stroke="#808080" stroke-width="0.55" stroke-dasharray="1.45 0.9"/>
</g>
<g clip-path="url(#c71)">
<path d="M198.3,674.0 200.8,675.9 202.8,678.0 204.4,680.2 205.6,682.5 206.2,684.9 206.4,687.4 206.1,690.6 205.4,694.2 204.3,697.7 202.8,701.1 200.9,704.2 198.8,707.1 196.3,709.8 193.7,712.1 190.8,714.1 187.8,715.7 184.6,716.9 181.4,717.7 178.1,718.0 174.9,717.9 172.2,717.4 169.5,716.5 166.8,715.1 164.3,713.3 161.8,711.2 159.5,708.7 157.4,706.0 155.5,702.9 153.9,699.7 152.5,696.3 151.4,692.7 150.7,689.1 150.3,686.3 150.3,683.9 150.7,681.5 151.5,679.3 152.6,677.1 154.2,675.1 156.1,673.3 158.4,671.7 160.9,670.4 163.8,669.3 166.8,668.5 170.0,668.0 173.3,667.7 176.9,667.8 180.9,668.1 184.9,668.8 188.7,669.7 192.2,670.9 195.4,672.4Z M189.6,678.6 191.1,679.9 192.3,681.3 193.3,682.8 194.0,684.3 194.4,685.9 194.5,687.6 194.3,689.6 193.9,691.7 193.2,693.8 192.3,695.8 191.1,697.6 189.8,699.4 188.3,700.9 186.7,702.3 184.9,703.5 183.1,704.4 181.2,705.1 179.2,705.6 177.1,705.8 175.2,705.7 173.4,705.4 171.7,704.9 170.0,704.1 168.3,703.0 166.8,701.7 165.3,700.3 163.9,698.7 162.7,696.9 161.7,694.9 160.8,692.9 160.1,690.8 159.6,688.7 159.4,686.9 159.4,685.3 159.6,683.7 160.1,682.1 160.9,680.7 161.9,679.4 163.1,678.2 164.6,677.1 166.2,676.2 168.0,675.5 170.0,674.9 172.1,674.6 174.2,674.4 176.4,674.4 178.9,674.7 181.3,675.1 183.6,675.7 185.8,676.5 187.8,677.5Z" fill="rgb(179,195,243)" fill-opacity="0.5" fill-rule="evenodd"/>
<path d="M189.6,678.6 191.1,679.9 192.3,681.3 193.3,682.8 194.0,684.3 194.4,685.9 194.5,687.6 194.3,689.6 193.9,691.7 193.2,693.8 192.3,695.8 191.1,697.6 189.8,699.4 188.3,700.9 186.7,702.3 184.9,703.5 183.1,704.4 181.2,705.1 179.2,705.6 177.1,705.8 175.2,705.7 173.4,705.4 171.7,704.9 170.0,704.1 168.3,703.0 166.8,701.7 165.3,700.3 163.9,698.7 162.7,696.9 161.7,694.9 160.8,692.9 160.1,690.8 159.6,688.7 159.4,686.9 159.4,685.3 159.6,683.7 160.1,682.1 160.9,680.7 161.9,679.4 163.1,678.2 164.6,677.1 166.2,676.2 168.0,675.5 170.0,674.9 172.1,674.6 174.2,674.4 176.4,674.4 178.9,674.7 181.3,675.1 183.6,675.7 185.8,676.5 187.8,677.5Z" fill="rgb(65,105,225)" fill-opacity="0.5"/>
<path d="M198.3,674.0 200.8,675.9 202.8,678.0 204.4,680.2 205.6,682.5 206.2,684.9 206.4,687.4 206.1,690.6 205.4,694.2 204.3,697.7 202.8,701.1 200.9,704.2 198.8,707.1 196.3,709.8 193.7,712.1 190.8,714.1 187.8,715.7 184.6,716.9 181.4,717.7 178.1,718.0 174.9,717.9 172.2,717.4 169.5,716.5 166.8,715.1 164.3,713.3 161.8,711.2 159.5,708.7 157.4,706.0 155.5,702.9 153.9,699.7 152.5,696.3 151.4,692.7 150.7,689.1 150.3,686.3 150.3,683.9 150.7,681.5 151.5,679.3 152.6,677.1 154.2,675.1 156.1,673.3 158.4,671.7 160.9,670.4 163.8,669.3 166.8,668.5 170.0,668.0 173.3,667.7 176.9,667.8 180.9,668.1 184.9,668.8 188.7,669.7 192.2,670.9 195.4,672.4Z" fill="none" stroke="rgb(65,105,225)" stroke-opacity="0.50" stroke-width="0.7"/>
<path d="M196.7,659.4 199.2,660.9 201.4,662.5 203.2,664.2 204.6,666.0 205.6,667.9 206.1,669.8 206.2,672.1 205.8,674.5 205.0,676.9 203.8,679.2 202.2,681.3 200.2,683.3 197.8,685.1 195.1,686.7 192.1,688.0 188.9,689.1 185.5,689.9 181.9,690.5 178.3,690.7 174.8,690.6 171.8,690.3 168.8,689.6 165.9,688.7 163.2,687.5 160.7,686.1 158.3,684.4 156.3,682.5 154.5,680.4 153.0,678.2 151.8,675.9 151.0,673.5 150.6,671.1 150.5,669.0 150.8,667.1 151.5,665.2 152.5,663.5 153.8,661.8 155.5,660.2 157.4,658.8 159.7,657.6 162.1,656.5 164.8,655.7 167.6,655.0 170.5,654.6 173.5,654.4 176.8,654.5 180.4,654.8 184.0,655.3 187.5,656.0 190.8,656.9 193.9,658.1Z M188.7,663.4 190.2,664.3 191.5,665.3 192.6,666.4 193.5,667.6 194.1,668.8 194.4,670.0 194.5,671.4 194.3,672.8 193.8,674.2 193.0,675.6 192.0,676.9 190.8,678.1 189.3,679.2 187.7,680.1 185.8,680.9 183.8,681.6 181.7,682.0 179.6,682.4 177.3,682.5 175.1,682.5 173.2,682.2 171.3,681.9 169.5,681.3 167.7,680.6 166.1,679.7 164.6,678.7 163.3,677.6 162.1,676.4 161.2,675.1 160.5,673.7 159.9,672.2 159.7,670.8 159.6,669.5 159.8,668.3 160.2,667.1 160.9,666.0 161.7,664.9 162.8,663.9 164.0,663.0 165.5,662.2 167.0,661.5 168.7,661.0 170.5,660.6 172.4,660.3 174.3,660.2 176.4,660.2 178.6,660.4 180.8,660.8 183.0,661.2 185.0,661.8 186.9,662.5Z" fill="rgb(153,204,153)" fill-opacity="0.5" fill-rule="evenodd"/>
<path d="M188.7,663.4 190.2,664.3 191.5,665.3 192.6,666.4 193.5,667.6 194.1,668.8 194.4,670.0 194.5,671.4 194.3,672.8 193.8,674.2 193.0,675.6 192.0,676.9 190.8,678.1 189.3,679.2 187.7,680.1 185.8,680.9 183.8,681.6 181.7,682.0 179.6,682.4 177.3,682.5 175.1,682.5 173.2,682.2 171.3,681.9 169.5,681.3 167.7,680.6 166.1,679.7 164.6,678.7 163.3,677.6 162.1,676.4 161.2,675.1 160.5,673.7 159.9,672.2 159.7,670.8 159.6,669.5 159.8,668.3 160.2,667.1 160.9,666.0 161.7,664.9 162.8,663.9 164.0,663.0 165.5,662.2 167.0,661.5 168.7,661.0 170.5,660.6 172.4,660.3 174.3,660.2 176.4,660.2 178.6,660.4 180.8,660.8 183.0,661.2 185.0,661.8 186.9,662.5Z" fill="rgb(0,128,0)" fill-opacity="0.5"/>
<path d="M196.7,659.4 199.2,660.9 201.4,662.5 203.2,664.2 204.6,666.0 205.6,667.9 206.1,669.8 206.2,672.1 205.8,674.5 205.0,676.9 203.8,679.2 202.2,681.3 200.2,683.3 197.8,685.1 195.1,686.7 192.1,688.0 188.9,689.1 185.5,689.9 181.9,690.5 178.3,690.7 174.8,690.6 171.8,690.3 168.8,689.6 165.9,688.7 163.2,687.5 160.7,686.1 158.3,684.4 156.3,682.5 154.5,680.4 153.0,678.2 151.8,675.9 151.0,673.5 150.6,671.1 150.5,669.0 150.8,667.1 151.5,665.2 152.5,663.5 153.8,661.8 155.5,660.2 157.4,658.8 159.7,657.6 162.1,656.5 164.8,655.7 167.6,655.0 170.5,654.6 173.5,654.4 176.8,654.5 180.4,654.8 184.0,655.3 187.5,656.0 190.8,656.9 193.9,658.1Z" fill="none" stroke="rgb(0,128,0)" stroke-opacity="0.50" stroke-width="0.7"/>
<path d="M199.2,673.4 201.7,675.4 203.7,677.6 205.2,680.0 206.3,682.5 206.8,685.1 206.8,687.8 206.4,691.4 205.5,695.4 204.3,699.3 202.6,703.0 200.6,706.5 198.4,709.7 195.9,712.7 193.2,715.2 190.3,717.4 187.3,719.2 184.2,720.5 181.0,721.4 177.8,721.8 174.7,721.7 172.0,721.1 169.3,720.0 166.7,718.5 164.1,716.6 161.6,714.2 159.2,711.5 157.0,708.4 155.0,705.1 153.3,701.5 151.7,697.7 150.5,693.7 149.6,689.8 149.1,686.7 149.0,684.1 149.3,681.5 150.0,679.0 151.1,676.7 152.7,674.5 154.7,672.6 157.0,670.9 159.7,669.4 162.7,668.2 166.0,667.3 169.4,666.8 173.0,666.5 176.8,666.6 181.0,667.0 185.2,667.7 189.2,668.7 192.8,670.0 196.2,671.5Z M190.1,678.7 191.6,680.1 192.9,681.5 193.8,683.0 194.5,684.7 194.8,686.4 194.8,688.1 194.6,690.2 194.0,692.4 193.2,694.5 192.2,696.6 191.0,698.6 189.6,700.4 188.1,702.0 186.4,703.5 184.6,704.7 182.8,705.7 180.9,706.4 178.9,706.9 176.9,707.1 175.0,707.0 173.3,706.7 171.6,706.1 169.9,705.3 168.3,704.2 166.7,702.9 165.2,701.4 163.8,699.6 162.6,697.8 161.4,695.8 160.5,693.6 159.7,691.5 159.1,689.2 158.8,687.4 158.7,685.7 158.9,684.0 159.4,682.4 160.1,680.9 161.1,679.5 162.3,678.2 163.8,677.1 165.5,676.2 167.4,675.4 169.5,674.8 171.7,674.5 173.9,674.3 176.3,674.3 178.9,674.6 181.5,675.1 183.9,675.7 186.2,676.5 188.3,677.6Z" fill="rgb(255,219,153)" fill-opacity="0.5" fill-rule="evenodd"/>
<path d="M190.1,678.7 191.6,680.1 192.9,681.5 193.8,683.0 194.5,684.7 194.8,686.4 194.8,688.1 194.6,690.2 194.0,692.4 193.2,694.5 192.2,696.6 191.0,698.6 189.6,700.4 188.1,702.0 186.4,703.5 184.6,704.7 182.8,705.7 180.9,706.4 178.9,706.9 176.9,707.1 175.0,707.0 173.3,706.7 171.6,706.1 169.9,705.3 168.3,704.2 166.7,702.9 165.2,701.4 163.8,699.6 162.6,697.8 161.4,695.8 160.5,693.6 159.7,691.5 159.1,689.2 158.8,687.4 158.7,685.7 158.9,684.0 159.4,682.4 160.1,680.9 161.1,679.5 162.3,678.2 163.8,677.1 165.5,676.2 167.4,675.4 169.5,674.8 171.7,674.5 173.9,674.3 176.3,674.3 178.9,674.6 181.5,675.1 183.9,675.7 186.2,676.5 188.3,677.6Z" fill="rgb(255,165,0)" fill-opacity="0.5"/>
<path d="M199.2,673.4 201.7,675.4 203.7,677.6 205.2,680.0 206.3,682.5 206.8,685.1 206.8,687.8 206.4,691.4 205.5,695.4 204.3,699.3 202.6,703.0 200.6,706.5 198.4,709.7 195.9,712.7 193.2,715.2 190.3,717.4 187.3,719.2 184.2,720.5 181.0,721.4 177.8,721.8 174.7,721.7 172.0,721.1 169.3,720.0 166.7,718.5 164.1,716.6 161.6,714.2 159.2,711.5 157.0,708.4 155.0,705.1 153.3,701.5 151.7,697.7 150.5,693.7 149.6,689.8 149.1,686.7 149.0,684.1 149.3,681.5 150.0,679.0 151.1,676.7 152.7,674.5 154.7,672.6 157.0,670.9 159.7,669.4 162.7,668.2 166.0,667.3 169.4,666.8 173.0,666.5 176.8,666.6 181.0,667.0 185.2,667.7 189.2,668.7 192.8,670.0 196.2,671.5Z" fill="none" stroke="rgb(255,165,0)" stroke-opacity="0.50" stroke-width="0.7"/>
<line x1="166.50" x2="166.50" y1="645.62" y2="736.80" stroke="#808080" stroke-width="0.55" stroke-dasharray="1.45 0.9"/>
<line x1="135.40" x2="225.40" y1="700.50" y2="700.50" stroke="#808080" stroke-width="0.55" stroke-dasharray="1.45 0.9"/>
</g>
<g clip-path="url(#c72)">
<path d="M290.4,674.4 293.0,676.3 295.1,678.4 296.9,680.7 298.2,683.0 299.0,685.4 299.3,687.9 299.2,691.4 298.7,694.9 297.7,698.4 296.3,701.7 294.5,704.9 292.5,707.7 290.1,710.3 287.4,712.6 284.5,714.5 281.5,716.0 278.2,717.1 274.9,717.8 271.5,718.1 268.0,717.9 265.0,717.3 261.9,716.2 258.9,714.8 256.0,712.9 253.3,710.7 250.7,708.2 248.3,705.4 246.2,702.3 244.4,699.0 242.8,695.5 241.6,692.0 240.8,688.4 240.4,685.8 240.3,683.4 240.7,681.0 241.6,678.8 242.8,676.7 244.5,674.7 246.5,673.0 249.0,671.4 251.7,670.1 254.7,669.1 258.0,668.4 261.4,667.9 265.0,667.7 268.6,667.8 272.7,668.3 276.7,669.0 280.5,669.9 284.1,671.2 287.4,672.7Z M281.8,678.9 283.4,680.2 284.7,681.6 285.8,683.1 286.6,684.7 287.1,686.3 287.3,687.9 287.2,690.0 286.9,692.1 286.3,694.2 285.4,696.1 284.4,698.0 283.1,699.7 281.6,701.2 280.0,702.6 278.2,703.7 276.4,704.6 274.4,705.2 272.3,705.6 270.2,705.8 268.1,705.7 266.2,705.3 264.3,704.7 262.4,703.9 260.6,702.8 258.9,701.5 257.3,700.0 255.8,698.3 254.5,696.5 253.3,694.5 252.4,692.5 251.6,690.4 251.1,688.3 250.8,686.6 250.8,684.9 251.1,683.4 251.6,681.8 252.4,680.4 253.4,679.1 254.7,677.9 256.2,676.9 257.9,676.0 259.8,675.3 261.9,674.8 264.0,674.5 266.2,674.4 268.5,674.5 271.0,674.8 273.4,675.2 275.8,675.9 278.0,676.7 280.0,677.7Z" fill="rgb(179,195,243)" fill-opacity="0.5" fill-rule="evenodd"/>
<path d="M281.8,678.9 283.4,680.2 284.7,681.6 285.8,683.1 286.6,684.7 287.1,686.3 287.3,687.9 287.2,690.0 286.9,692.1 286.3,694.2 285.4,696.1 284.4,698.0 283.1,699.7 281.6,701.2 280.0,702.6 278.2,703.7 276.4,704.6 274.4,705.2 272.3,705.6 270.2,705.8 268.1,705.7 266.2,705.3 264.3,704.7 262.4,703.9 260.6,702.8 258.9,701.5 257.3,700.0 255.8,698.3 254.5,696.5 253.3,694.5 252.4,692.5 251.6,690.4 251.1,688.3 250.8,686.6 250.8,684.9 251.1,683.4 251.6,681.8 252.4,680.4 253.4,679.1 254.7,677.9 256.2,676.9 257.9,676.0 259.8,675.3 261.9,674.8 264.0,674.5 266.2,674.4 268.5,674.5 271.0,674.8 273.4,675.2 275.8,675.9 278.0,676.7 280.0,677.7Z" fill="rgb(65,105,225)" fill-opacity="0.5"/>
<path d="M290.4,674.4 293.0,676.3 295.1,678.4 296.9,680.7 298.2,683.0 299.0,685.4 299.3,687.9 299.2,691.4 298.7,694.9 297.7,698.4 296.3,701.7 294.5,704.9 292.5,707.7 290.1,710.3 287.4,712.6 284.5,714.5 281.5,716.0 278.2,717.1 274.9,717.8 271.5,718.1 268.0,717.9 265.0,717.3 261.9,716.2 258.9,714.8 256.0,712.9 253.3,710.7 250.7,708.2 248.3,705.4 246.2,702.3 244.4,699.0 242.8,695.5 241.6,692.0 240.8,688.4 240.4,685.8 240.3,683.4 240.7,681.0 241.6,678.8 242.8,676.7 244.5,674.7 246.5,673.0 249.0,671.4 251.7,670.1 254.7,669.1 258.0,668.4 261.4,667.9 265.0,667.7 268.6,667.8 272.7,668.3 276.7,669.0 280.5,669.9 284.1,671.2 287.4,672.7Z" fill="none" stroke="rgb(65,105,225)" stroke-opacity="0.50" stroke-width="0.7"/>
<path d="M285.6,660.0 288.0,661.5 290.1,663.2 291.9,664.9 293.3,666.8 294.4,668.7 295.0,670.6 295.3,673.1 295.1,675.5 294.6,677.8 293.6,680.1 292.3,682.2 290.6,684.1 288.5,685.8 286.2,687.3 283.5,688.5 280.7,689.5 277.6,690.2 274.4,690.6 271.1,690.7 267.7,690.5 264.5,690.0 261.4,689.3 258.3,688.2 255.4,686.9 252.7,685.4 250.2,683.6 247.9,681.7 245.9,679.5 244.2,677.3 242.9,674.9 241.9,672.5 241.2,670.1 241.0,668.2 241.1,666.3 241.7,664.5 242.6,662.7 243.8,661.1 245.4,659.6 247.4,658.3 249.6,657.1 252.0,656.2 254.7,655.4 257.6,654.8 260.6,654.5 263.7,654.4 266.9,654.6 270.3,655.0 273.6,655.6 276.8,656.4 279.9,657.4 282.9,658.6Z M278.6,663.7 280.2,664.7 281.5,665.8 282.6,666.9 283.5,668.1 284.1,669.3 284.5,670.5 284.7,672.0 284.6,673.4 284.3,674.8 283.7,676.2 282.8,677.4 281.8,678.5 280.5,679.6 279.0,680.4 277.4,681.2 275.6,681.8 273.7,682.2 271.7,682.4 269.7,682.5 267.6,682.4 265.6,682.1 263.6,681.6 261.7,681.0 259.9,680.2 258.2,679.3 256.7,678.3 255.3,677.1 254.0,675.8 253.0,674.5 252.1,673.1 251.5,671.6 251.1,670.2 251.0,669.0 251.1,667.8 251.4,666.6 252.0,665.5 252.8,664.5 253.7,663.5 254.9,662.7 256.3,661.9 257.8,661.3 259.5,660.8 261.3,660.5 263.2,660.3 265.1,660.2 267.1,660.3 269.1,660.5 271.2,660.9 273.2,661.4 275.2,662.1 277.0,662.9Z" fill="rgb(153,204,153)" fill-opacity="0.5" fill-rule="evenodd"/>
<path d="M278.6,663.7 280.2,664.7 281.5,665.8 282.6,666.9 283.5,668.1 284.1,669.3 284.5,670.5 284.7,672.0 284.6,673.4 284.3,674.8 283.7,676.2 282.8,677.4 281.8,678.5 280.5,679.6 279.0,680.4 277.4,681.2 275.6,681.8 273.7,682.2 271.7,682.4 269.7,682.5 267.6,682.4 265.6,682.1 263.6,681.6 261.7,681.0 259.9,680.2 258.2,679.3 256.7,678.3 255.3,677.1 254.0,675.8 253.0,674.5 252.1,673.1 251.5,671.6 251.1,670.2 251.0,669.0 251.1,667.8 251.4,666.6 252.0,665.5 252.8,664.5 253.7,663.5 254.9,662.7 256.3,661.9 257.8,661.3 259.5,660.8 261.3,660.5 263.2,660.3 265.1,660.2 267.1,660.3 269.1,660.5 271.2,660.9 273.2,661.4 275.2,662.1 277.0,662.9Z" fill="rgb(0,128,0)" fill-opacity="0.5"/>
<path d="M285.6,660.0 288.0,661.5 290.1,663.2 291.9,664.9 293.3,666.8 294.4,668.7 295.0,670.6 295.3,673.1 295.1,675.5 294.6,677.8 293.6,680.1 292.3,682.2 290.6,684.1 288.5,685.8 286.2,687.3 283.5,688.5 280.7,689.5 277.6,690.2 274.4,690.6 271.1,690.7 267.7,690.5 264.5,690.0 261.4,689.3 258.3,688.2 255.4,686.9 252.7,685.4 250.2,683.6 247.9,681.7 245.9,679.5 244.2,677.3 242.9,674.9 241.9,672.5 241.2,670.1 241.0,668.2 241.1,666.3 241.7,664.5 242.6,662.7 243.8,661.1 245.4,659.6 247.4,658.3 249.6,657.1 252.0,656.2 254.7,655.4 257.6,654.8 260.6,654.5 263.7,654.4 266.9,654.6 270.3,655.0 273.6,655.6 276.8,656.4 279.9,657.4 282.9,658.6Z" fill="none" stroke="rgb(0,128,0)" stroke-opacity="0.50" stroke-width="0.7"/>
<path d="M292.6,673.0 295.0,675.0 297.0,677.2 298.5,679.5 299.5,682.0 300.1,684.6 300.1,687.2 299.6,690.6 298.7,694.6 297.4,698.5 295.7,702.2 293.7,705.8 291.4,709.1 288.8,712.1 286.0,714.7 283.1,717.0 280.0,718.9 276.8,720.3 273.5,721.3 270.2,721.7 267.0,721.7 264.0,721.3 261.1,720.3 258.2,718.9 255.4,717.0 252.8,714.7 250.3,712.1 247.9,709.1 245.9,705.8 244.1,702.2 242.5,698.5 241.4,694.6 240.6,690.6 240.1,687.2 240.2,684.6 240.6,682.0 241.5,679.5 242.9,677.2 244.7,675.0 246.9,673.0 249.5,671.2 252.4,669.7 255.7,668.4 259.1,667.5 262.8,666.9 266.6,666.5 270.6,666.5 274.8,666.9 278.9,667.5 282.8,668.4 286.4,669.7 289.7,671.2Z M283.3,678.5 284.8,679.8 286.0,681.2 287.0,682.7 287.6,684.3 287.9,686.0 287.9,687.7 287.6,689.7 287.1,691.9 286.3,694.1 285.2,696.2 284.0,698.2 282.6,700.0 281.0,701.7 279.3,703.2 277.5,704.4 275.6,705.5 273.6,706.3 271.6,706.8 269.5,707.1 267.6,707.1 265.7,706.8 263.8,706.3 262.0,705.5 260.3,704.4 258.6,703.2 257.0,701.7 255.6,700.0 254.3,698.2 253.2,696.2 252.2,694.1 251.5,691.9 251.0,689.7 250.7,687.7 250.7,686.0 251.0,684.3 251.6,682.7 252.4,681.2 253.5,679.8 254.9,678.5 256.6,677.3 258.4,676.4 260.4,675.6 262.6,674.9 264.9,674.5 267.3,674.3 269.8,674.3 272.4,674.5 274.9,674.9 277.3,675.6 279.5,676.4 281.5,677.3Z" fill="rgb(255,219,153)" fill-opacity="0.5" fill-rule="evenodd"/>
<path d="M283.3,678.5 284.8,679.8 286.0,681.2 287.0,682.7 287.6,684.3 287.9,686.0 287.9,687.7 287.6,689.7 287.1,691.9 286.3,694.1 285.2,696.2 284.0,698.2 282.6,700.0 281.0,701.7 279.3,703.2 277.5,704.4 275.6,705.5 273.6,706.3 271.6,706.8 269.5,707.1 267.6,707.1 265.7,706.8 263.8,706.3 262.0,705.5 260.3,704.4 258.6,703.2 257.0,701.7 255.6,700.0 254.3,698.2 253.2,696.2 252.2,694.1 251.5,691.9 251.0,689.7 250.7,687.7 250.7,686.0 251.0,684.3 251.6,682.7 252.4,681.2 253.5,679.8 254.9,678.5 256.6,677.3 258.4,676.4 260.4,675.6 262.6,674.9 264.9,674.5 267.3,674.3 269.8,674.3 272.4,674.5 274.9,674.9 277.3,675.6 279.5,676.4 281.5,677.3Z" fill="rgb(255,165,0)" fill-opacity="0.5"/>
<path d="M292.6,673.0 295.0,675.0 297.0,677.2 298.5,679.5 299.5,682.0 300.1,684.6 300.1,687.2 299.6,690.6 298.7,694.6 297.4,698.5 295.7,702.2 293.7,705.8 291.4,709.1 288.8,712.1 286.0,714.7 283.1,717.0 280.0,718.9 276.8,720.3 273.5,721.3 270.2,721.7 267.0,721.7 264.0,721.3 261.1,720.3 258.2,718.9 255.4,717.0 252.8,714.7 250.3,712.1 247.9,709.1 245.9,705.8 244.1,702.2 242.5,698.5 241.4,694.6 240.6,690.6 240.1,687.2 240.2,684.6 240.6,682.0 241.5,679.5 242.9,677.2 244.7,675.0 246.9,673.0 249.5,671.2 252.4,669.7 255.7,668.4 259.1,667.5 262.8,666.9 266.6,666.5 270.6,666.5 274.8,666.9 278.9,667.5 282.8,668.4 286.4,669.7 289.7,671.2Z" fill="none" stroke="rgb(255,165,0)" stroke-opacity="0.50" stroke-width="0.7"/>
<line x1="280.50" x2="280.50" y1="645.62" y2="736.80" stroke="#808080" stroke-width="0.55" stroke-dasharray="1.45 0.9"/>
<line x1="225.40" x2="315.40" y1="700.50" y2="700.50" stroke="#808080" stroke-width="0.55" stroke-dasharray="1.45 0.9"/>
</g>
<g clip-path="url(#c73)">
<path d="M369.3,676.5 372.1,678.6 374.6,680.8 376.8,683.2 378.5,685.6 379.8,688.0 380.6,691.6 381.1,695.2 381.1,698.6 380.6,701.9 379.8,705.0 378.6,707.9 377.0,710.5 375.1,712.7 372.9,714.6 370.4,716.1 367.6,717.2 364.6,717.8 361.5,718.1 358.2,717.8 354.9,717.2 351.4,716.1 348.5,714.7 345.7,712.8 342.8,710.6 340.1,708.0 337.5,705.2 335.1,702.1 332.9,698.8 330.9,695.3 329.1,691.8 327.7,688.1 326.6,685.7 325.9,683.2 325.6,680.9 325.6,678.7 326.0,676.5 326.8,674.6 328.0,672.9 329.6,671.3 331.5,670.1 333.8,669.1 336.3,668.3 339.1,667.9 342.0,667.7 345.1,667.9 348.3,668.3 351.6,669.0 355.4,670.0 359.2,671.3 362.8,672.8 366.2,674.5Z M361.8,680.3 363.5,681.7 364.9,683.2 366.1,684.8 367.1,686.4 367.9,688.0 368.4,690.2 368.6,692.3 368.6,694.3 368.4,696.3 367.9,698.1 367.2,699.8 366.3,701.3 365.2,702.6 363.9,703.7 362.4,704.6 360.8,705.3 359.1,705.7 357.3,705.8 355.4,705.7 353.4,705.3 351.5,704.7 349.6,703.8 347.7,702.7 345.8,701.4 344.0,699.9 342.3,698.2 340.7,696.3 339.2,694.4 337.9,692.4 336.8,690.3 335.9,688.1 335.2,686.5 334.7,684.8 334.4,683.3 334.5,681.7 334.7,680.3 335.3,679.0 336.1,677.9 337.1,676.8 338.4,676.0 339.8,675.3 341.5,674.8 343.3,674.5 345.3,674.4 347.3,674.5 349.4,674.8 351.5,675.3 353.8,675.9 355.9,676.8 358.0,677.8 360.0,679.0Z" fill="rgb(179,195,243)" fill-opacity="0.5" fill-rule="evenodd"/>
<path d="M361.8,680.3 363.5,681.7 364.9,683.2 366.1,684.8 367.1,686.4 367.9,688.0 368.4,690.2 368.6,692.3 368.6,694.3 368.4,696.3 367.9,698.1 367.2,699.8 366.3,701.3 365.2,702.6 363.9,703.7 362.4,704.6 360.8,705.3 359.1,705.7 357.3,705.8 355.4,705.7 353.4,705.3 351.5,704.7 349.6,703.8 347.7,702.7 345.8,701.4 344.0,699.9 342.3,698.2 340.7,696.3 339.2,694.4 337.9,692.4 336.8,690.3 335.9,688.1 335.2,686.5 334.7,684.8 334.4,683.3 334.5,681.7 334.7,680.3 335.3,679.0 336.1,677.9 337.1,676.8 338.4,676.0 339.8,675.3 341.5,674.8 343.3,674.5 345.3,674.4 347.3,674.5 349.4,674.8 351.5,675.3 353.8,675.9 355.9,676.8 358.0,677.8 360.0,679.0Z" fill="rgb(65,105,225)" fill-opacity="0.5"/>
<path d="M369.3,676.5 372.1,678.6 374.6,680.8 376.8,683.2 378.5,685.6 379.8,688.0 380.6,691.6 381.1,695.2 381.1,698.6 380.6,701.9 379.8,705.0 378.6,707.9 377.0,710.5 375.1,712.7 372.9,714.6 370.4,716.1 367.6,717.2 364.6,717.8 361.5,718.1 358.2,717.8 354.9,717.2 351.4,716.1 348.5,714.7 345.7,712.8 342.8,710.6 340.1,708.0 337.5,705.2 335.1,702.1 332.9,698.8 330.9,695.3 329.1,691.8 327.7,688.1 326.6,685.7 325.9,683.2 325.6,680.9 325.6,678.7 326.0,676.5 326.8,674.6 328.0,672.9 329.6,671.3 331.5,670.1 333.8,669.1 336.3,668.3 339.1,667.9 342.0,667.7 345.1,667.9 348.3,668.3 351.6,669.0 355.4,670.0 359.2,671.3 362.8,672.8 366.2,674.5Z" fill="none" stroke="rgb(65,105,225)" stroke-opacity="0.50" stroke-width="0.7"/>
<path d="M370.0,660.3 372.6,661.8 374.8,663.5 376.8,665.3 378.4,667.2 379.5,669.1 380.3,671.2 380.7,673.6 380.6,676.0 380.1,678.3 379.2,680.5 377.9,682.6 376.2,684.4 374.1,686.1 371.7,687.6 369.0,688.7 366.1,689.7 362.9,690.3 359.6,690.6 356.2,690.7 352.7,690.4 349.7,689.9 346.9,689.1 344.3,688.0 341.7,686.6 339.3,685.0 337.1,683.2 335.1,681.2 333.3,679.1 331.8,676.8 330.5,674.4 329.6,672.0 329.0,669.7 328.7,667.8 328.8,665.9 329.2,664.1 329.9,662.4 330.9,660.8 332.2,659.3 333.8,658.0 335.7,656.9 337.8,656.0 340.1,655.3 342.6,654.8 345.2,654.5 347.8,654.5 350.6,654.6 353.9,655.1 357.3,655.7 360.7,656.6 364.0,657.6 367.1,658.9Z M361.3,663.9 362.7,664.9 363.9,666.0 364.9,667.1 365.8,668.3 366.4,669.5 366.8,670.8 367.0,672.3 366.9,673.7 366.7,675.1 366.2,676.4 365.5,677.6 364.6,678.8 363.5,679.8 362.2,680.6 360.8,681.3 359.2,681.9 357.6,682.3 355.8,682.5 354.0,682.5 352.1,682.3 350.3,682.0 348.4,681.5 346.6,680.9 344.9,680.1 343.2,679.1 341.7,678.0 340.3,676.8 339.1,675.6 338.1,674.2 337.2,672.8 336.6,671.3 336.2,669.9 336.0,668.7 336.1,667.5 336.3,666.4 336.8,665.3 337.5,664.3 338.4,663.3 339.5,662.5 340.8,661.8 342.2,661.2 343.8,660.7 345.4,660.4 347.2,660.2 349.0,660.2 350.9,660.3 352.7,660.6 354.6,661.0 356.4,661.6 358.1,662.2 359.8,663.0Z" fill="rgb(153,204,153)" fill-opacity="0.5" fill-rule="evenodd"/>
<path d="M361.3,663.9 362.7,664.9 363.9,666.0 364.9,667.1 365.8,668.3 366.4,669.5 366.8,670.8 367.0,672.3 366.9,673.7 366.7,675.1 366.2,676.4 365.5,677.6 364.6,678.8 363.5,679.8 362.2,680.6 360.8,681.3 359.2,681.9 357.6,682.3 355.8,682.5 354.0,682.5 352.1,682.3 350.3,682.0 348.4,681.5 346.6,680.9 344.9,680.1 343.2,679.1 341.7,678.0 340.3,676.8 339.1,675.6 338.1,674.2 337.2,672.8 336.6,671.3 336.2,669.9 336.0,668.7 336.1,667.5 336.3,666.4 336.8,665.3 337.5,664.3 338.4,663.3 339.5,662.5 340.8,661.8 342.2,661.2 343.8,660.7 345.4,660.4 347.2,660.2 349.0,660.2 350.9,660.3 352.7,660.6 354.6,661.0 356.4,661.6 358.1,662.2 359.8,663.0Z" fill="rgb(0,128,0)" fill-opacity="0.5"/>
<path d="M370.0,660.3 372.6,661.8 374.8,663.5 376.8,665.3 378.4,667.2 379.5,669.1 380.3,671.2 380.7,673.6 380.6,676.0 380.1,678.3 379.2,680.5 377.9,682.6 376.2,684.4 374.1,686.1 371.7,687.6 369.0,688.7 366.1,689.7 362.9,690.3 359.6,690.6 356.2,690.7 352.7,690.4 349.7,689.9 346.9,689.1 344.3,688.0 341.7,686.6 339.3,685.0 337.1,683.2 335.1,681.2 333.3,679.1 331.8,676.8 330.5,674.4 329.6,672.0 329.0,669.7 328.7,667.8 328.8,665.9 329.2,664.1 329.9,662.4 330.9,660.8 332.2,659.3 333.8,658.0 335.7,656.9 337.8,656.0 340.1,655.3 342.6,654.8 345.2,654.5 347.8,654.5 350.6,654.6 353.9,655.1 357.3,655.7 360.7,656.6 364.0,657.6 367.1,658.9Z" fill="none" stroke="rgb(0,128,0)" stroke-opacity="0.50" stroke-width="0.7"/>
<path d="M376.5,673.8 379.3,675.8 381.6,678.1 383.4,680.5 384.7,683.1 385.4,685.7 385.6,688.4 385.4,692.2 384.6,696.2 383.4,700.0 381.8,703.7 379.8,707.2 377.4,710.4 374.8,713.2 372.0,715.7 368.9,717.8 365.7,719.5 362.3,720.8 358.8,721.5 355.3,721.8 351.8,721.6 349.1,720.9 346.4,719.8 343.7,718.2 341.1,716.1 338.6,713.7 336.3,710.9 334.1,707.7 332.1,704.3 330.3,700.7 328.8,696.9 327.6,692.9 326.7,688.9 326.2,686.1 326.0,683.5 326.3,681.0 327.0,678.5 328.0,676.2 329.5,674.1 331.4,672.2 333.6,670.5 336.2,669.1 339.1,668.0 342.2,667.2 345.5,666.7 348.9,666.5 352.4,666.6 356.9,667.1 361.4,667.8 365.6,668.9 369.6,670.3 373.3,671.9Z M366.1,679.0 367.7,680.3 369.1,681.8 370.1,683.4 370.9,685.0 371.3,686.7 371.4,688.4 371.2,690.6 370.8,692.8 370.1,695.0 369.2,697.0 368.0,699.0 366.7,700.7 365.2,702.3 363.5,703.7 361.8,704.9 359.9,705.8 357.9,706.5 355.9,707.0 353.9,707.1 351.8,707.0 350.0,706.6 348.2,706.0 346.4,705.1 344.7,703.9 343.0,702.6 341.4,701.0 339.9,699.3 338.6,697.4 337.4,695.3 336.3,693.2 335.5,691.0 334.9,688.8 334.6,687.0 334.5,685.3 334.7,683.7 335.1,682.1 335.8,680.6 336.8,679.2 338.1,678.0 339.6,676.9 341.4,676.0 343.3,675.3 345.4,674.7 347.6,674.4 349.9,674.3 352.2,674.4 354.8,674.7 357.4,675.2 359.9,675.9 362.2,676.7 364.3,677.8Z" fill="rgb(255,219,153)" fill-opacity="0.5" fill-rule="evenodd"/>
<path d="M366.1,679.0 367.7,680.3 369.1,681.8 370.1,683.4 370.9,685.0 371.3,686.7 371.4,688.4 371.2,690.6 370.8,692.8 370.1,695.0 369.2,697.0 368.0,699.0 366.7,700.7 365.2,702.3 363.5,703.7 361.8,704.9 359.9,705.8 357.9,706.5 355.9,707.0 353.9,707.1 351.8,707.0 350.0,706.6 348.2,706.0 346.4,705.1 344.7,703.9 343.0,702.6 341.4,701.0 339.9,699.3 338.6,697.4 337.4,695.3 336.3,693.2 335.5,691.0 334.9,688.8 334.6,687.0 334.5,685.3 334.7,683.7 335.1,682.1 335.8,680.6 336.8,679.2 338.1,678.0 339.6,676.9 341.4,676.0 343.3,675.3 345.4,674.7 347.6,674.4 349.9,674.3 352.2,674.4 354.8,674.7 357.4,675.2 359.9,675.9 362.2,676.7 364.3,677.8Z" fill="rgb(255,165,0)" fill-opacity="0.5"/>
<path d="M376.5,673.8 379.3,675.8 381.6,678.1 383.4,680.5 384.7,683.1 385.4,685.7 385.6,688.4 385.4,692.2 384.6,696.2 383.4,700.0 381.8,703.7 379.8,707.2 377.4,710.4 374.8,713.2 372.0,715.7 368.9,717.8 365.7,719.5 362.3,720.8 358.8,721.5 355.3,721.8 351.8,721.6 349.1,720.9 346.4,719.8 343.7,718.2 341.1,716.1 338.6,713.7 336.3,710.9 334.1,707.7 332.1,704.3 330.3,700.7 328.8,696.9 327.6,692.9 326.7,688.9 326.2,686.1 326.0,683.5 326.3,681.0 327.0,678.5 328.0,676.2 329.5,674.1 331.4,672.2 333.6,670.5 336.2,669.1 339.1,668.0 342.2,667.2 345.5,666.7 348.9,666.5 352.4,666.6 356.9,667.1 361.4,667.8 365.6,668.9 369.6,670.3 373.3,671.9Z" fill="none" stroke="rgb(255,165,0)" stroke-opacity="0.50" stroke-width="0.7"/>
<line x1="368.50" x2="368.50" y1="645.62" y2="736.80" stroke="#808080" stroke-width="0.55" stroke-dasharray="1.45 0.9"/>
<line x1="315.40" x2="405.40" y1="700.50" y2="700.50" stroke="#808080" stroke-width="0.55" stroke-dasharray="1.45 0.9"/>
</g>
<g clip-path="url(#c74)">
<path d="M460.7,671.3 462.5,672.9 463.8,674.6 464.5,676.5 464.6,678.7 464.2,680.9 463.2,683.2 461.8,685.7 460.0,688.1 457.8,691.8 455.3,695.3 452.6,698.8 449.7,702.1 446.7,705.2 443.5,708.0 440.4,710.6 437.3,712.8 434.1,714.7 431.1,716.1 429.4,717.2 427.8,717.8 426.2,718.1 424.7,717.8 423.2,717.2 421.9,716.1 420.5,714.6 419.3,712.7 418.2,710.5 417.2,707.9 416.4,705.0 415.7,701.9 415.2,698.6 414.9,695.2 414.9,691.6 415.1,688.0 415.6,685.6 416.3,683.2 417.3,680.8 418.6,678.6 420.2,676.5 422.0,674.5 424.0,672.8 426.2,671.3 428.5,670.0 431.0,669.0 435.4,668.3 439.8,667.9 444.1,667.7 448.2,667.9 452.0,668.3 455.3,669.1 458.2,670.1Z M445.3,676.8 446.2,677.9 446.9,679.0 447.2,680.3 447.3,681.7 447.1,683.3 446.6,684.8 445.9,686.5 445.0,688.1 444.0,690.3 442.8,692.4 441.4,694.4 440.0,696.3 438.6,698.2 437.1,699.9 435.6,701.4 434.0,702.7 432.5,703.8 431.0,704.7 430.0,705.3 429.0,705.7 428.0,705.8 427.1,705.7 426.2,705.3 425.4,704.6 424.5,703.7 423.8,702.6 423.1,701.3 422.5,699.8 422.0,698.1 421.5,696.3 421.2,694.3 421.1,692.3 421.0,690.2 421.2,688.0 421.5,686.4 421.9,684.8 422.6,683.2 423.4,681.7 424.3,680.3 425.4,679.0 426.7,677.8 428.0,676.8 429.5,675.9 431.0,675.3 433.1,674.8 435.3,674.5 437.3,674.4 439.3,674.5 441.1,674.8 442.8,675.3 444.2,676.0Z" fill="rgb(179,195,243)" fill-opacity="0.5" fill-rule="evenodd"/>
<path d="M445.3,676.8 446.2,677.9 446.9,679.0 447.2,680.3 447.3,681.7 447.1,683.3 446.6,684.8 445.9,686.5 445.0,688.1 444.0,690.3 442.8,692.4 441.4,694.4 440.0,696.3 438.6,698.2 437.1,699.9 435.6,701.4 434.0,702.7 432.5,703.8 431.0,704.7 430.0,705.3 429.0,705.7 428.0,705.8 427.1,705.7 426.2,705.3 425.4,704.6 424.5,703.7 423.8,702.6 423.1,701.3 422.5,699.8 422.0,698.1 421.5,696.3 421.2,694.3 421.1,692.3 421.0,690.2 421.2,688.0 421.5,686.4 421.9,684.8 422.6,683.2 423.4,681.7 424.3,680.3 425.4,679.0 426.7,677.8 428.0,676.8 429.5,675.9 431.0,675.3 433.1,674.8 435.3,674.5 437.3,674.4 439.3,674.5 441.1,674.8 442.8,675.3 444.2,676.0Z" fill="rgb(65,105,225)" fill-opacity="0.5"/>
<path d="M460.7,671.3 462.5,672.9 463.8,674.6 464.5,676.5 464.6,678.7 464.2,680.9 463.2,683.2 461.8,685.7 460.0,688.1 457.8,691.8 455.3,695.3 452.6,698.8 449.7,702.1 446.7,705.2 443.5,708.0 440.4,710.6 437.3,712.8 434.1,714.7 431.1,716.1 429.4,717.2 427.8,717.8 426.2,718.1 424.7,717.8 423.2,717.2 421.9,716.1 420.5,714.6 419.3,712.7 418.2,710.5 417.2,707.9 416.4,705.0 415.7,701.9 415.2,698.6 414.9,695.2 414.9,691.6 415.1,688.0 415.6,685.6 416.3,683.2 417.3,680.8 418.6,678.6 420.2,676.5 422.0,674.5 424.0,672.8 426.2,671.3 428.5,670.0 431.0,669.0 435.4,668.3 439.8,667.9 444.1,667.7 448.2,667.9 452.0,668.3 455.3,669.1 458.2,670.1Z" fill="none" stroke="rgb(65,105,225)" stroke-opacity="0.50" stroke-width="0.7"/>
<path d="M465.3,658.0 467.3,659.3 468.9,660.8 469.8,662.4 470.2,664.1 470.1,665.9 469.5,667.8 468.3,669.7 466.8,672.0 464.9,674.4 462.7,676.8 460.3,679.1 457.6,681.2 454.8,683.2 452.0,685.0 449.0,686.6 446.0,688.0 443.0,689.1 440.0,689.9 437.4,690.4 435.7,690.7 434.0,690.6 432.4,690.3 430.8,689.7 429.2,688.7 427.8,687.6 426.3,686.1 425.0,684.4 423.9,682.6 422.8,680.5 421.9,678.3 421.2,676.0 420.8,673.6 420.6,671.2 420.6,669.1 421.0,667.2 421.6,665.3 422.5,663.5 423.8,661.8 425.3,660.3 427.1,658.9 429.1,657.6 431.4,656.6 433.8,655.7 436.3,655.1 439.5,654.6 443.9,654.5 448.2,654.5 452.3,654.8 456.1,655.3 459.6,656.0 462.7,656.9Z M449.9,662.5 450.8,663.3 451.5,664.3 451.9,665.3 452.1,666.4 452.0,667.5 451.7,668.7 451.2,669.9 450.6,671.3 449.7,672.8 448.8,674.2 447.7,675.6 446.6,676.8 445.3,678.0 444.1,679.1 442.8,680.1 441.5,680.9 440.2,681.5 438.9,682.0 437.6,682.3 436.4,682.5 435.2,682.5 434.1,682.3 432.9,681.9 431.8,681.3 430.8,680.6 429.8,679.8 428.9,678.8 428.1,677.6 427.3,676.4 426.7,675.1 426.2,673.7 425.9,672.3 425.8,670.8 425.8,669.5 426.0,668.3 426.5,667.1 427.2,666.0 428.0,664.9 429.1,663.9 430.4,663.0 431.8,662.2 433.4,661.6 435.0,661.0 436.8,660.6 438.6,660.3 440.6,660.2 442.4,660.2 444.2,660.4 445.9,660.7 447.4,661.2 448.8,661.8Z" fill="rgb(153,204,153)" fill-opacity="0.5" fill-rule="evenodd"/>
<path d="M449.9,662.5 450.8,663.3 451.5,664.3 451.9,665.3 452.1,666.4 452.0,667.5 451.7,668.7 451.2,669.9 450.6,671.3 449.7,672.8 448.8,674.2 447.7,675.6 446.6,676.8 445.3,678.0 444.1,679.1 442.8,680.1 441.5,680.9 440.2,681.5 438.9,682.0 437.6,682.3 436.4,682.5 435.2,682.5 434.1,682.3 432.9,681.9 431.8,681.3 430.8,680.6 429.8,679.8 428.9,678.8 428.1,677.6 427.3,676.4 426.7,675.1 426.2,673.7 425.9,672.3 425.8,670.8 425.8,669.5 426.0,668.3 426.5,667.1 427.2,666.0 428.0,664.9 429.1,663.9 430.4,663.0 431.8,662.2 433.4,661.6 435.0,661.0 436.8,660.6 438.6,660.3 440.6,660.2 442.4,660.2 444.2,660.4 445.9,660.7 447.4,661.2 448.8,661.8Z" fill="rgb(0,128,0)" fill-opacity="0.5"/>
<path d="M465.3,658.0 467.3,659.3 468.9,660.8 469.8,662.4 470.2,664.1 470.1,665.9 469.5,667.8 468.3,669.7 466.8,672.0 464.9,674.4 462.7,676.8 460.3,679.1 457.6,681.2 454.8,683.2 452.0,685.0 449.0,686.6 446.0,688.0 443.0,689.1 440.0,689.9 437.4,690.4 435.7,690.7 434.0,690.6 432.4,690.3 430.8,689.7 429.2,688.7 427.8,687.6 426.3,686.1 425.0,684.4 423.9,682.6 422.8,680.5 421.9,678.3 421.2,676.0 420.8,673.6 420.6,671.2 420.6,669.1 421.0,667.2 421.6,665.3 422.5,663.5 423.8,661.8 425.3,660.3 427.1,658.9 429.1,657.6 431.4,656.6 433.8,655.7 436.3,655.1 439.5,654.6 443.9,654.5 448.2,654.5 452.3,654.8 456.1,655.3 459.6,656.0 462.7,656.9Z" fill="none" stroke="rgb(0,128,0)" stroke-opacity="0.50" stroke-width="0.7"/>
<path d="M462.8,671.1 465.0,672.9 466.5,674.9 467.5,677.0 467.8,679.4 467.6,681.9 466.8,684.5 465.5,687.1 463.7,690.4 461.5,694.4 459.0,698.3 456.2,702.0 453.2,705.6 450.1,708.9 446.8,711.9 443.5,714.6 440.1,716.9 436.8,718.8 433.5,720.2 431.1,721.2 429.4,721.7 427.7,721.8 426.1,721.3 424.5,720.4 423.0,719.0 421.5,717.1 420.2,714.8 418.9,712.2 417.7,709.2 416.8,705.9 415.9,702.4 415.3,698.6 414.9,694.7 414.7,690.8 414.8,687.4 415.2,684.7 415.9,682.1 416.9,679.6 418.2,677.3 419.8,675.1 421.6,673.0 423.7,671.3 425.9,669.7 428.3,668.5 430.8,667.5 434.6,666.9 439.5,666.5 444.2,666.5 448.7,666.8 452.9,667.5 456.7,668.4 460.0,669.6Z M445.6,677.3 446.5,678.4 447.2,679.7 447.6,681.1 447.8,682.6 447.7,684.3 447.3,685.9 446.7,687.6 446.0,689.6 445.0,691.8 443.9,694.0 442.7,696.1 441.3,698.1 440.0,699.9 438.5,701.6 437.1,703.1 435.6,704.4 434.1,705.4 432.7,706.2 431.4,706.8 430.3,707.1 429.2,707.1 428.1,706.8 427.1,706.3 426.1,705.5 425.2,704.5 424.3,703.2 423.5,701.8 422.7,700.1 422.1,698.3 421.5,696.3 421.1,694.2 420.9,692.0 420.8,689.8 420.8,687.8 421.1,686.1 421.5,684.4 422.2,682.8 423.0,681.3 424.0,679.8 425.2,678.5 426.6,677.4 428.0,676.4 429.6,675.6 431.2,675.0 433.2,674.5 435.3,674.3 437.4,674.3 439.4,674.5 441.2,674.9 442.9,675.5 444.3,676.3Z" fill="rgb(255,219,153)" fill-opacity="0.5" fill-rule="evenodd"/>
<path d="M445.6,677.3 446.5,678.4 447.2,679.7 447.6,681.1 447.8,682.6 447.7,684.3 447.3,685.9 446.7,687.6 446.0,689.6 445.0,691.8 443.9,694.0 442.7,696.1 441.3,698.1 440.0,699.9 438.5,701.6 437.1,703.1 435.6,704.4 434.1,705.4 432.7,706.2 431.4,706.8 430.3,707.1 429.2,707.1 428.1,706.8 427.1,706.3 426.1,705.5 425.2,704.5 424.3,703.2 423.5,701.8 422.7,700.1 422.1,698.3 421.5,696.3 421.1,694.2 420.9,692.0 420.8,689.8 420.8,687.8 421.1,686.1 421.5,684.4 422.2,682.8 423.0,681.3 424.0,679.8 425.2,678.5 426.6,677.4 428.0,676.4 429.6,675.6 431.2,675.0 433.2,674.5 435.3,674.3 437.4,674.3 439.4,674.5 441.2,674.9 442.9,675.5 444.3,676.3Z" fill="rgb(255,165,0)" fill-opacity="0.5"/>
<path d="M462.8,671.1 465.0,672.9 466.5,674.9 467.5,677.0 467.8,679.4 467.6,681.9 466.8,684.5 465.5,687.1 463.7,690.4 461.5,694.4 459.0,698.3 456.2,702.0 453.2,705.6 450.1,708.9 446.8,711.9 443.5,714.6 440.1,716.9 436.8,718.8 433.5,720.2 431.1,721.2 429.4,721.7 427.7,721.8 426.1,721.3 424.5,720.4 423.0,719.0 421.5,717.1 420.2,714.8 418.9,712.2 417.7,709.2 416.8,705.9 415.9,702.4 415.3,698.6 414.9,694.7 414.7,690.8 414.8,687.4 415.2,684.7 415.9,682.1 416.9,679.6 418.2,677.3 419.8,675.1 421.6,673.0 423.7,671.3 425.9,669.7 428.3,668.5 430.8,667.5 434.6,666.9 439.5,666.5 444.2,666.5 448.7,666.8 452.9,667.5 456.7,668.4 460.0,669.6Z" fill="none" stroke="rgb(255,165,0)" stroke-opacity="0.50" stroke-width="0.7"/>
<line x1="444.50" x2="444.50" y1="645.62" y2="736.80" stroke="#808080" stroke-width="0.55" stroke-dasharray="1.45 0.9"/>
<line x1="405.40" x2="495.40" y1="700.50" y2="700.50" stroke="#808080" stroke-width="0.55" stroke-dasharray="1.45 0.9"/>
</g>
<g clip-path="url(#c75)">
<path d="M558.8,674.4 560.7,676.3 562.4,678.4 563.8,680.7 564.9,683.0 565.7,685.4 566.2,687.9 566.3,691.4 566.1,694.9 565.6,698.4 564.7,701.7 563.6,704.9 562.1,707.7 560.4,710.3 558.4,712.6 556.3,714.5 553.9,716.0 551.4,717.1 548.7,717.8 546.0,718.1 543.3,717.9 541.1,717.3 539.0,716.2 536.9,714.8 534.9,712.9 533.0,710.7 531.3,708.2 529.8,705.4 528.4,702.3 527.3,699.0 526.4,695.5 525.8,692.0 525.4,688.4 525.3,685.8 525.5,683.4 525.9,681.0 526.6,678.8 527.5,676.7 528.6,674.7 530.0,673.0 531.6,671.4 533.3,670.1 535.2,669.1 537.2,668.4 539.3,667.9 541.5,667.7 543.7,667.8 546.5,668.3 549.2,669.0 551.8,669.9 554.3,671.2 556.6,672.7Z M551.5,678.9 552.6,680.2 553.4,681.6 554.2,683.1 554.8,684.7 555.2,686.3 555.4,687.9 555.5,690.0 555.4,692.1 555.1,694.2 554.7,696.1 554.1,698.0 553.3,699.7 552.4,701.2 551.4,702.6 550.2,703.7 549.0,704.6 547.6,705.2 546.3,705.6 544.8,705.8 543.4,705.7 542.0,705.3 540.7,704.7 539.5,703.9 538.2,702.8 537.1,701.5 536.1,700.0 535.1,698.3 534.3,696.5 533.6,694.5 533.1,692.5 532.7,690.4 532.5,688.3 532.4,686.6 532.5,684.9 532.8,683.4 533.2,681.8 533.7,680.4 534.4,679.1 535.3,677.9 536.2,676.9 537.3,676.0 538.4,675.3 539.7,674.8 541.0,674.5 542.3,674.4 543.6,674.5 545.1,674.8 546.5,675.2 547.9,675.9 549.2,676.7 550.4,677.7Z" fill="rgb(179,195,243)" fill-opacity="0.5" fill-rule="evenodd"/>
<path d="M551.5,678.9 552.6,680.2 553.4,681.6 554.2,683.1 554.8,684.7 555.2,686.3 555.4,687.9 555.5,690.0 555.4,692.1 555.1,694.2 554.7,696.1 554.1,698.0 553.3,699.7 552.4,701.2 551.4,702.6 550.2,703.7 549.0,704.6 547.6,705.2 546.3,705.6 544.8,705.8 543.4,705.7 542.0,705.3 540.7,704.7 539.5,703.9 538.2,702.8 537.1,701.5 536.1,700.0 535.1,698.3 534.3,696.5 533.6,694.5 533.1,692.5 532.7,690.4 532.5,688.3 532.4,686.6 532.5,684.9 532.8,683.4 533.2,681.8 533.7,680.4 534.4,679.1 535.3,677.9 536.2,676.9 537.3,676.0 538.4,675.3 539.7,674.8 541.0,674.5 542.3,674.4 543.6,674.5 545.1,674.8 546.5,675.2 547.9,675.9 549.2,676.7 550.4,677.7Z" fill="rgb(65,105,225)" fill-opacity="0.5"/>
<path d="M558.8,674.4 560.7,676.3 562.4,678.4 563.8,680.7 564.9,683.0 565.7,685.4 566.2,687.9 566.3,691.4 566.1,694.9 565.6,698.4 564.7,701.7 563.6,704.9 562.1,707.7 560.4,710.3 558.4,712.6 556.3,714.5 553.9,716.0 551.4,717.1 548.7,717.8 546.0,718.1 543.3,717.9 541.1,717.3 539.0,716.2 536.9,714.8 534.9,712.9 533.0,710.7 531.3,708.2 529.8,705.4 528.4,702.3 527.3,699.0 526.4,695.5 525.8,692.0 525.4,688.4 525.3,685.8 525.5,683.4 525.9,681.0 526.6,678.8 527.5,676.7 528.6,674.7 530.0,673.0 531.6,671.4 533.3,670.1 535.2,669.1 537.2,668.4 539.3,667.9 541.5,667.7 543.7,667.8 546.5,668.3 549.2,669.0 551.8,669.9 554.3,671.2 556.6,672.7Z" fill="none" stroke="rgb(65,105,225)" stroke-opacity="0.50" stroke-width="0.7"/>
<path d="M539.7,659.7 541.4,661.2 542.7,662.8 543.9,664.6 544.8,666.4 545.5,668.3 545.9,670.2 546.0,672.6 545.8,675.0 545.4,677.4 544.7,679.6 543.7,681.7 542.5,683.7 541.1,685.4 539.5,687.0 537.6,688.3 535.7,689.3 533.6,690.1 531.4,690.5 529.1,690.7 526.8,690.6 524.4,690.2 522.0,689.5 519.7,688.5 517.5,687.2 515.5,685.7 513.6,684.0 511.9,682.1 510.4,680.0 509.2,677.8 508.2,675.4 507.5,673.0 507.1,670.6 507.0,668.6 507.2,666.7 507.6,664.9 508.4,663.1 509.4,661.4 510.7,659.9 512.2,658.5 513.9,657.3 515.8,656.3 517.9,655.5 520.1,654.9 522.4,654.6 524.8,654.4 527.2,654.5 529.5,654.9 531.7,655.4 533.9,656.2 536.0,657.2 538.0,658.3Z M534.4,663.5 535.4,664.5 536.2,665.5 536.9,666.7 537.4,667.8 537.8,669.0 538.0,670.2 538.1,671.7 538.0,673.1 537.7,674.5 537.3,675.9 536.8,677.1 536.1,678.3 535.2,679.4 534.3,680.3 533.2,681.0 532.1,681.7 530.8,682.1 529.5,682.4 528.2,682.5 526.9,682.4 525.4,682.2 523.9,681.8 522.4,681.2 521.1,680.4 519.8,679.5 518.6,678.5 517.6,677.4 516.6,676.1 515.9,674.8 515.3,673.4 514.8,671.9 514.6,670.5 514.5,669.2 514.6,668.0 514.9,666.8 515.4,665.7 516.0,664.7 516.8,663.7 517.7,662.8 518.8,662.1 520.0,661.4 521.3,660.9 522.7,660.5 524.1,660.3 525.6,660.2 527.1,660.3 528.5,660.5 529.8,660.8 531.0,661.3 532.3,661.9 533.4,662.7Z" fill="rgb(153,204,153)" fill-opacity="0.5" fill-rule="evenodd"/>
<path d="M534.4,663.5 535.4,664.5 536.2,665.5 536.9,666.7 537.4,667.8 537.8,669.0 538.0,670.2 538.1,671.7 538.0,673.1 537.7,674.5 537.3,675.9 536.8,677.1 536.1,678.3 535.2,679.4 534.3,680.3 533.2,681.0 532.1,681.7 530.8,682.1 529.5,682.4 528.2,682.5 526.9,682.4 525.4,682.2 523.9,681.8 522.4,681.2 521.1,680.4 519.8,679.5 518.6,678.5 517.6,677.4 516.6,676.1 515.9,674.8 515.3,673.4 514.8,671.9 514.6,670.5 514.5,669.2 514.6,668.0 514.9,666.8 515.4,665.7 516.0,664.7 516.8,663.7 517.7,662.8 518.8,662.1 520.0,661.4 521.3,660.9 522.7,660.5 524.1,660.3 525.6,660.2 527.1,660.3 528.5,660.5 529.8,660.8 531.0,661.3 532.3,661.9 533.4,662.7Z" fill="rgb(0,128,0)" fill-opacity="0.5"/>
<path d="M539.7,659.7 541.4,661.2 542.7,662.8 543.9,664.6 544.8,666.4 545.5,668.3 545.9,670.2 546.0,672.6 545.8,675.0 545.4,677.4 544.7,679.6 543.7,681.7 542.5,683.7 541.1,685.4 539.5,687.0 537.6,688.3 535.7,689.3 533.6,690.1 531.4,690.5 529.1,690.7 526.8,690.6 524.4,690.2 522.0,689.5 519.7,688.5 517.5,687.2 515.5,685.7 513.6,684.0 511.9,682.1 510.4,680.0 509.2,677.8 508.2,675.4 507.5,673.0 507.1,670.6 507.0,668.6 507.2,666.7 507.6,664.9 508.4,663.1 509.4,661.4 510.7,659.9 512.2,658.5 513.9,657.3 515.8,656.3 517.9,655.5 520.1,654.9 522.4,654.6 524.8,654.4 527.2,654.5 529.5,654.9 531.7,655.4 533.9,656.2 536.0,657.2 538.0,658.3Z" fill="none" stroke="rgb(0,128,0)" stroke-opacity="0.50" stroke-width="0.7"/>
<path d="M563.8,673.4 565.3,675.4 566.6,677.6 567.7,680.0 568.5,682.5 569.1,685.1 569.4,687.8 569.5,691.4 569.3,695.4 568.8,699.3 568.1,703.0 567.1,706.5 565.8,709.7 564.4,712.7 562.8,715.2 561.0,717.4 559.0,719.2 556.9,720.5 554.8,721.4 552.6,721.8 550.3,721.7 547.9,721.1 545.6,720.0 543.3,718.5 541.2,716.6 539.2,714.2 537.4,711.5 535.7,708.4 534.3,705.1 533.2,701.5 532.2,697.7 531.6,693.7 531.3,689.8 531.2,686.7 531.4,684.1 532.0,681.5 532.7,679.0 533.8,676.7 535.1,674.5 536.7,672.6 538.4,670.9 540.3,669.4 542.4,668.2 544.6,667.3 546.9,666.8 549.3,666.5 551.7,666.6 553.9,667.0 556.1,667.7 558.2,668.7 560.2,670.0 562.0,671.5Z M558.0,678.7 558.9,680.1 559.6,681.5 560.2,683.0 560.7,684.7 561.0,686.4 561.2,688.1 561.2,690.2 561.1,692.4 560.8,694.5 560.4,696.6 559.9,698.6 559.2,700.4 558.4,702.0 557.5,703.5 556.5,704.7 555.4,705.7 554.3,706.4 553.1,706.9 551.9,707.1 550.6,707.0 549.2,706.7 547.8,706.1 546.5,705.3 545.2,704.2 544.0,702.9 542.9,701.4 542.0,699.6 541.1,697.8 540.5,695.8 539.9,693.6 539.5,691.5 539.3,689.2 539.3,687.4 539.4,685.7 539.7,684.0 540.2,682.4 540.8,680.9 541.6,679.5 542.5,678.2 543.6,677.1 544.7,676.2 545.9,675.4 547.2,674.8 548.6,674.5 550.0,674.3 551.4,674.3 552.6,674.6 553.8,675.1 555.0,675.7 556.1,676.5 557.1,677.6Z" fill="rgb(255,219,153)" fill-opacity="0.5" fill-rule="evenodd"/>
<path d="M558.0,678.7 558.9,680.1 559.6,681.5 560.2,683.0 560.7,684.7 561.0,686.4 561.2,688.1 561.2,690.2 561.1,692.4 560.8,694.5 560.4,696.6 559.9,698.6 559.2,700.4 558.4,702.0 557.5,703.5 556.5,704.7 555.4,705.7 554.3,706.4 553.1,706.9 551.9,707.1 550.6,707.0 549.2,706.7 547.8,706.1 546.5,705.3 545.2,704.2 544.0,702.9 542.9,701.4 542.0,699.6 541.1,697.8 540.5,695.8 539.9,693.6 539.5,691.5 539.3,689.2 539.3,687.4 539.4,685.7 539.7,684.0 540.2,682.4 540.8,680.9 541.6,679.5 542.5,678.2 543.6,677.1 544.7,676.2 545.9,675.4 547.2,674.8 548.6,674.5 550.0,674.3 551.4,674.3 552.6,674.6 553.8,675.1 555.0,675.7 556.1,676.5 557.1,677.6Z" fill="rgb(255,165,0)" fill-opacity="0.5"/>
<path d="M563.8,673.4 565.3,675.4 566.6,677.6 567.7,680.0 568.5,682.5 569.1,685.1 569.4,687.8 569.5,691.4 569.3,695.4 568.8,699.3 568.1,703.0 567.1,706.5 565.8,709.7 564.4,712.7 562.8,715.2 561.0,717.4 559.0,719.2 556.9,720.5 554.8,721.4 552.6,721.8 550.3,721.7 547.9,721.1 545.6,720.0 543.3,718.5 541.2,716.6 539.2,714.2 537.4,711.5 535.7,708.4 534.3,705.1 533.2,701.5 532.2,697.7 531.6,693.7 531.3,689.8 531.2,686.7 531.4,684.1 532.0,681.5 532.7,679.0 533.8,676.7 535.1,674.5 536.7,672.6 538.4,670.9 540.3,669.4 542.4,668.2 544.6,667.3 546.9,666.8 549.3,666.5 551.7,666.6 553.9,667.0 556.1,667.7 558.2,668.7 560.2,670.0 562.0,671.5Z" fill="none" stroke="rgb(255,165,0)" stroke-opacity="0.50" stroke-width="0.7"/>
<line x1="553.50" x2="553.50" y1="645.62" y2="736.80" stroke="#808080" stroke-width="0.55" stroke-dasharray="1.45 0.9"/>
<line x1="495.40" x2="585.40" y1="700.50" y2="700.50" stroke="#808080" stroke-width="0.55" stroke-dasharray="1.45 0.9"/>
</g>
<g clip-path="url(#c76)">
<path d="M644.7,679.0 647.5,681.2 650.1,683.6 652.4,686.0 654.5,688.7 656.2,692.3 657.6,695.8 658.6,699.3 659.2,702.5 659.5,705.6 659.4,708.4 658.8,710.9 657.9,713.1 656.7,714.9 655.1,716.3 653.1,717.3 650.9,717.9 648.4,718.1 645.7,717.8 642.8,717.0 639.7,715.9 636.5,714.3 633.3,712.4 630.3,710.1 627.4,707.5 624.6,704.6 621.9,701.5 619.4,698.2 617.0,694.7 614.9,691.1 613.1,687.7 611.5,685.2 610.3,682.8 609.3,680.5 608.7,678.3 608.5,676.2 608.6,674.3 609.1,672.6 609.9,671.1 611.1,669.9 612.5,668.9 614.3,668.2 616.3,667.8 618.6,667.7 621.1,667.9 623.7,668.4 626.5,669.2 629.4,670.2 632.3,671.5 635.5,673.1 638.7,674.9 641.8,676.8Z M639.2,682.0 640.6,683.5 642.0,685.1 643.2,686.7 644.3,688.4 645.2,690.6 646.0,692.7 646.5,694.7 646.9,696.6 647.0,698.4 646.9,700.1 646.7,701.6 646.2,702.9 645.5,703.9 644.6,704.8 643.6,705.4 642.4,705.7 641.1,705.8 639.6,705.6 638.1,705.2 636.5,704.5 634.8,703.6 633.1,702.5 631.3,701.1 629.4,699.6 627.7,697.9 626.0,696.0 624.4,694.0 622.9,692.0 621.5,689.9 620.4,687.8 619.4,686.2 618.6,684.5 618.0,683.0 617.7,681.5 617.5,680.1 617.6,678.8 617.9,677.7 618.4,676.7 619.1,675.8 620.0,675.2 621.2,674.7 622.4,674.5 623.9,674.4 625.4,674.5 627.1,674.9 628.8,675.4 630.7,676.1 632.5,677.0 634.2,678.0 635.9,679.2 637.6,680.5Z" fill="rgb(179,195,243)" fill-opacity="0.5" fill-rule="evenodd"/>
<path d="M639.2,682.0 640.6,683.5 642.0,685.1 643.2,686.7 644.3,688.4 645.2,690.6 646.0,692.7 646.5,694.7 646.9,696.6 647.0,698.4 646.9,700.1 646.7,701.6 646.2,702.9 645.5,703.9 644.6,704.8 643.6,705.4 642.4,705.7 641.1,705.8 639.6,705.6 638.1,705.2 636.5,704.5 634.8,703.6 633.1,702.5 631.3,701.1 629.4,699.6 627.7,697.9 626.0,696.0 624.4,694.0 622.9,692.0 621.5,689.9 620.4,687.8 619.4,686.2 618.6,684.5 618.0,683.0 617.7,681.5 617.5,680.1 617.6,678.8 617.9,677.7 618.4,676.7 619.1,675.8 620.0,675.2 621.2,674.7 622.4,674.5 623.9,674.4 625.4,674.5 627.1,674.9 628.8,675.4 630.7,676.1 632.5,677.0 634.2,678.0 635.9,679.2 637.6,680.5Z" fill="rgb(65,105,225)" fill-opacity="0.5"/>
<path d="M644.7,679.0 647.5,681.2 650.1,683.6 652.4,686.0 654.5,688.7 656.2,692.3 657.6,695.8 658.6,699.3 659.2,702.5 659.5,705.6 659.4,708.4 658.8,710.9 657.9,713.1 656.7,714.9 655.1,716.3 653.1,717.3 650.9,717.9 648.4,718.1 645.7,717.8 642.8,717.0 639.7,715.9 636.5,714.3 633.3,712.4 630.3,710.1 627.4,707.5 624.6,704.6 621.9,701.5 619.4,698.2 617.0,694.7 614.9,691.1 613.1,687.7 611.5,685.2 610.3,682.8 609.3,680.5 608.7,678.3 608.5,676.2 608.6,674.3 609.1,672.6 609.9,671.1 611.1,669.9 612.5,668.9 614.3,668.2 616.3,667.8 618.6,667.7 621.1,667.9 623.7,668.4 626.5,669.2 629.4,670.2 632.3,671.5 635.5,673.1 638.7,674.9 641.8,676.8Z" fill="none" stroke="rgb(65,105,225)" stroke-opacity="0.50" stroke-width="0.7"/>
<path d="M636.2,663.2 638.8,665.0 641.1,666.8 643.2,668.7 645.1,670.7 646.7,673.2 647.9,675.6 648.9,677.9 649.5,680.2 649.7,682.2 649.6,684.1 649.1,685.8 648.3,687.3 647.1,688.6 645.6,689.5 643.9,690.2 641.8,690.6 639.6,690.7 637.1,690.5 634.4,690.0 631.6,689.2 628.7,688.2 625.8,686.9 622.7,685.3 619.6,683.5 616.6,681.6 613.8,679.4 611.1,677.2 608.6,674.8 606.3,672.4 604.4,670.0 602.7,668.1 601.4,666.2 600.4,664.4 599.8,662.7 599.5,661.1 599.6,659.6 600.1,658.2 601.0,657.1 602.2,656.1 603.8,655.4 605.7,654.8 607.8,654.5 610.2,654.4 612.9,654.6 615.7,655.0 618.6,655.6 621.7,656.4 624.8,657.4 627.8,658.6 630.7,660.0 633.5,661.6Z M631.7,665.8 633.1,666.9 634.5,668.1 635.7,669.3 636.8,670.6 637.7,672.0 638.5,673.5 639.0,674.9 639.4,676.2 639.5,677.4 639.4,678.6 639.2,679.6 638.7,680.5 638.0,681.2 637.1,681.8 636.1,682.2 634.9,682.4 633.6,682.5 632.1,682.4 630.6,682.1 629.0,681.6 627.3,681.0 625.6,680.2 623.8,679.3 621.9,678.2 620.2,677.1 618.5,675.8 616.9,674.4 615.4,673.0 614.0,671.6 612.9,670.1 611.9,668.9 611.1,667.7 610.5,666.6 610.2,665.5 610.0,664.4 610.1,663.5 610.4,662.6 610.9,661.9 611.6,661.3 612.5,660.8 613.7,660.5 614.9,660.3 616.4,660.2 617.9,660.3 619.6,660.6 621.3,660.9 623.2,661.5 625.0,662.1 626.7,662.9 628.4,663.8 630.1,664.8Z" fill="rgb(153,204,153)" fill-opacity="0.5" fill-rule="evenodd"/>
<path d="M631.7,665.8 633.1,666.9 634.5,668.1 635.7,669.3 636.8,670.6 637.7,672.0 638.5,673.5 639.0,674.9 639.4,676.2 639.5,677.4 639.4,678.6 639.2,679.6 638.7,680.5 638.0,681.2 637.1,681.8 636.1,682.2 634.9,682.4 633.6,682.5 632.1,682.4 630.6,682.1 629.0,681.6 627.3,681.0 625.6,680.2 623.8,679.3 621.9,678.2 620.2,677.1 618.5,675.8 616.9,674.4 615.4,673.0 614.0,671.6 612.9,670.1 611.9,668.9 611.1,667.7 610.5,666.6 610.2,665.5 610.0,664.4 610.1,663.5 610.4,662.6 610.9,661.9 611.6,661.3 612.5,660.8 613.7,660.5 614.9,660.3 616.4,660.2 617.9,660.3 619.6,660.6 621.3,660.9 623.2,661.5 625.0,662.1 626.7,662.9 628.4,663.8 630.1,664.8Z" fill="rgb(0,128,0)" fill-opacity="0.5"/>
<path d="M636.2,663.2 638.8,665.0 641.1,666.8 643.2,668.7 645.1,670.7 646.7,673.2 647.9,675.6 648.9,677.9 649.5,680.2 649.7,682.2 649.6,684.1 649.1,685.8 648.3,687.3 647.1,688.6 645.6,689.5 643.9,690.2 641.8,690.6 639.6,690.7 637.1,690.5 634.4,690.0 631.6,689.2 628.7,688.2 625.8,686.9 622.7,685.3 619.6,683.5 616.6,681.6 613.8,679.4 611.1,677.2 608.6,674.8 606.3,672.4 604.4,670.0 602.7,668.1 601.4,666.2 600.4,664.4 599.8,662.7 599.5,661.1 599.6,659.6 600.1,658.2 601.0,657.1 602.2,656.1 603.8,655.4 605.7,654.8 607.8,654.5 610.2,654.4 612.9,654.6 615.7,655.0 618.6,655.6 621.7,656.4 624.8,657.4 627.8,658.6 630.7,660.0 633.5,661.6Z" fill="none" stroke="rgb(0,128,0)" stroke-opacity="0.50" stroke-width="0.7"/>
<path d="M644.2,678.7 647.0,681.2 649.5,683.7 651.9,686.3 653.9,689.2 655.6,693.2 657.0,697.2 658.0,701.0 658.6,704.6 658.9,708.0 658.8,711.1 658.2,713.9 657.4,716.3 656.1,718.3 654.5,719.9 652.6,721.0 650.3,721.6 647.8,721.8 645.1,721.5 642.2,720.7 639.2,719.4 636.0,717.7 632.8,715.5 629.8,713.0 626.8,710.1 623.9,706.9 621.2,703.4 618.6,699.7 616.2,695.9 614.0,691.9 612.1,688.1 610.5,685.5 609.2,682.9 608.2,680.3 607.6,677.9 607.4,675.7 607.5,673.6 608.0,671.8 608.8,670.2 610.0,668.8 611.5,667.8 613.3,667.0 615.4,666.6 617.8,666.5 620.3,666.7 623.0,667.2 625.9,668.1 628.8,669.2 631.8,670.7 635.0,672.3 638.2,674.3 641.2,676.4Z M638.7,682.2 640.2,683.8 641.6,685.4 642.9,687.1 644.0,688.9 644.9,691.2 645.7,693.4 646.2,695.5 646.6,697.5 646.7,699.4 646.6,701.1 646.3,702.7 645.9,704.0 645.2,705.2 644.3,706.0 643.3,706.7 642.1,707.0 640.7,707.1 639.2,706.9 637.7,706.5 636.0,705.8 634.3,704.8 632.6,703.6 630.8,702.2 628.9,700.6 627.2,698.8 625.5,696.9 623.9,694.8 622.4,692.7 621.0,690.5 619.9,688.3 618.9,686.6 618.1,684.9 617.5,683.3 617.2,681.7 617.0,680.2 617.1,678.9 617.4,677.7 617.9,676.7 618.6,675.8 619.5,675.1 620.7,674.6 621.9,674.4 623.4,674.3 624.9,674.4 626.6,674.8 628.3,675.3 630.2,676.1 632.0,677.0 633.8,678.1 635.5,679.3 637.1,680.7Z" fill="rgb(255,219,153)" fill-opacity="0.5" fill-rule="evenodd"/>
<path d="M638.7,682.2 640.2,683.8 641.6,685.4 642.9,687.1 644.0,688.9 644.9,691.2 645.7,693.4 646.2,695.5 646.6,697.5 646.7,699.4 646.6,701.1 646.3,702.7 645.9,704.0 645.2,705.2 644.3,706.0 643.3,706.7 642.1,707.0 640.7,707.1 639.2,706.9 637.7,706.5 636.0,705.8 634.3,704.8 632.6,703.6 630.8,702.2 628.9,700.6 627.2,698.8 625.5,696.9 623.9,694.8 622.4,692.7 621.0,690.5 619.9,688.3 618.9,686.6 618.1,684.9 617.5,683.3 617.2,681.7 617.0,680.2 617.1,678.9 617.4,677.7 617.9,676.7 618.6,675.8 619.5,675.1 620.7,674.6 621.9,674.4 623.4,674.3 624.9,674.4 626.6,674.8 628.3,675.3 630.2,676.1 632.0,677.0 633.8,678.1 635.5,679.3 637.1,680.7Z" fill="rgb(255,165,0)" fill-opacity="0.5"/>
<path d="M644.2,678.7 647.0,681.2 649.5,683.7 651.9,686.3 653.9,689.2 655.6,693.2 657.0,697.2 658.0,701.0 658.6,704.6 658.9,708.0 658.8,711.1 658.2,713.9 657.4,716.3 656.1,718.3 654.5,719.9 652.6,721.0 650.3,721.6 647.8,721.8 645.1,721.5 642.2,720.7 639.2,719.4 636.0,717.7 632.8,715.5 629.8,713.0 626.8,710.1 623.9,706.9 621.2,703.4 618.6,699.7 616.2,695.9 614.0,691.9 612.1,688.1 610.5,685.5 609.2,682.9 608.2,680.3 607.6,677.9 607.4,675.7 607.5,673.6 608.0,671.8 608.8,670.2 610.0,668.8 611.5,667.8 613.3,667.0 615.4,666.6 617.8,666.5 620.3,666.7 623.0,667.2 625.9,668.1 628.8,669.2 631.8,670.7 635.0,672.3 638.2,674.3 641.2,676.4Z" fill="none" stroke="rgb(255,165,0)" stroke-opacity="0.50" stroke-width="0.7"/>
<line x1="585.40" x2="675.40" y1="700.50" y2="700.50" stroke="#808080" stroke-width="0.55" stroke-dasharray="1.45 0.9"/>
</g>
<g clip-path="url(#c77)">
<line x1="711.50" x2="711.50" y1="645.62" y2="736.80" stroke="#808080" stroke-width="0.55" stroke-dasharray="1.45 0.9"/>
<path d="M675.40,736.73 676.40,736.71 677.40,736.69 678.40,736.66 679.40,736.63 680.40,736.59 681.40,736.54 682.40,736.47 683.40,736.40 684.40,736.30 685.40,736.19 686.40,736.05 687.40,735.88 688.40,735.68 689.40,735.43 690.40,735.14 691.40,734.79 692.40,734.38 693.40,733.89 694.40,733.31 695.40,732.64 696.40,731.84 697.40,730.92 698.40,729.85 699.40,728.62 700.40,727.21 701.40,725.60 702.40,723.77 703.40,721.72 704.40,719.42 705.40,716.87 706.40,714.05 707.40,710.96 708.40,707.62 709.40,704.01 710.40,700.17 711.40,696.12 712.40,691.90 713.40,687.55 714.40,683.14 715.40,678.72 716.40,674.39 717.40,670.23 718.40,666.34 719.40,662.80 720.40,659.73 721.40,657.23 722.40,655.37 723.40,654.25 724.40,653.92 725.40,654.43 726.40,655.79 727.40,658.00 728.40,661.03 729.40,664.81 730.40,669.25 731.40,674.24 732.40,679.64 733.40,685.32 734.40,691.12 735.40,696.89 736.40,702.50 737.40,707.82 738.40,712.75 739.40,717.21 740.40,721.16 741.40,724.57 742.40,727.44 743.40,729.80 744.40,731.69 745.40,733.16 746.40,734.28 747.40,735.10 748.40,735.69 749.40,736.10 750.40,736.37 751.40,736.54 752.40,736.65 753.40,736.72 754.40,736.76 755.40,736.78 756.40,736.79 757.40,736.80 758.40,736.80 759.40,736.80 760.40,736.80 761.40,736.80 762.40,736.80 763.40,736.80 764.40,736.80 765.40,736.80" fill="none" stroke="rgb(65,105,225)" stroke-width="1.55" stroke-linejoin="round"/>
<path d="M675.40,736.80 676.40,736.80 677.40,736.80 678.40,736.80 679.40,736.80 680.40,736.80 681.40,736.80 682.40,736.80 683.40,736.80 684.40,736.80 685.40,736.80 686.40,736.80 687.40,736.80 688.40,736.80 689.40,736.80 690.40,736.79 691.40,736.79 692.40,736.79 693.40,736.79 694.40,736.78 695.40,736.78 696.40,736.77 697.40,736.76 698.40,736.75 699.40,736.74 700.40,736.73 701.40,736.71 702.40,736.68 703.40,736.65 704.40,736.61 705.40,736.55 706.40,736.49 707.40,736.41 708.40,736.31 709.40,736.18 710.40,736.02 711.40,735.83 712.40,735.58 713.40,735.28 714.40,734.92 715.40,734.47 716.40,733.92 717.40,733.26 718.40,732.46 719.40,731.50 720.40,730.35 721.40,728.98 722.40,727.37 723.40,725.48 724.40,723.28 725.40,720.74 726.40,717.83 727.40,714.53 728.40,710.83 729.40,706.72 730.40,702.22 731.40,697.35 732.40,692.18 733.40,686.78 734.40,681.27 735.40,675.78 736.40,670.47 737.40,665.56 738.40,661.24 739.40,657.73 740.40,655.27 741.40,654.03 742.40,654.18 743.40,655.81 744.40,658.96 745.40,663.55 746.40,669.44 747.40,676.38 748.40,684.05 749.40,692.08 750.40,700.08 751.40,707.69 752.40,714.59 753.40,720.56 754.40,725.46 755.40,729.27 756.40,732.08 757.40,734.02 758.40,735.27 759.40,736.02 760.40,736.44 761.40,736.65 762.40,736.74 763.40,736.78 764.40,736.79 765.40,736.80" fill="none" stroke="rgb(0,128,0)" stroke-width="1.55" stroke-linejoin="round"/>
<path d="M675.40,736.56 676.40,736.52 677.40,736.46 678.40,736.40 679.40,736.32 680.40,736.23 681.40,736.12 682.40,736.00 683.40,735.85 684.40,735.68 685.40,735.47 686.40,735.23 687.40,734.96 688.40,734.63 689.40,734.26 690.40,733.82 691.40,733.32 692.40,732.74 693.40,732.08 694.40,731.32 695.40,730.45 696.40,729.46 697.40,728.34 698.40,727.07 699.40,725.65 700.40,724.05 701.40,722.27 702.40,720.29 703.40,718.11 704.40,715.71 705.40,713.09 706.40,710.25 707.40,707.18 708.40,703.89 709.40,700.40 710.40,696.72 711.40,692.88 712.40,688.91 713.40,684.85 714.40,680.75 715.40,676.68 716.40,672.70 717.40,668.88 718.40,665.31 719.40,662.08 720.40,659.27 721.40,656.97 722.40,655.26 723.40,654.22 724.40,653.92 725.40,654.39 726.40,655.68 727.40,657.77 728.40,660.66 729.40,664.30 730.40,668.61 731.40,673.50 732.40,678.85 733.40,684.52 734.40,690.37 735.40,696.23 736.40,701.98 737.40,707.46 738.40,712.57 739.40,717.20 740.40,721.31 741.40,724.85 742.40,727.81 743.40,730.23 744.40,732.13 745.40,733.59 746.40,734.67 747.40,735.43 748.40,735.96 749.40,736.31 750.40,736.52 751.40,736.65 752.40,736.73 753.40,736.76 754.40,736.78 755.40,736.79 756.40,736.80 757.40,736.80 758.40,736.80 759.40,736.80 760.40,736.80 761.40,736.80 762.40,736.80 763.40,736.80 764.40,736.80 765.40,736.80" fill="none" stroke="rgb(255,165,0)" stroke-width="1.55" stroke-linejoin="round"/>
</g>
<path d="M45.5,7.10V736.90M135.5,7.10V736.90M225.5,98.10V736.90M315.5,189.10V736.90M405.5,280.60V736.90M495.5,372.10V736.90M585.5,463.10V736.90M675.5,554.10V736.90M765.5,645.60V736.90M45.10,7.5H135.90M45.10,98.5H225.90M45.10,189.5H315.90M45.10,372.5H495.90M45.10,463.5H585.90M45.10,554.5H675.90M45.10,736.5H765.90" stroke="#000" stroke-width="0.8" fill="none"/>
<path d="M45.10,281.0H405.90M45.10,646.0H765.90" stroke="#000" stroke-width="0.9" fill="none"/>
<path d="M72.5,98.58v-2.50M93.5,98.58v-2.50M115.5,98.58v-2.50M72.5,189.75v-2.50M72.5,98.58v2.50M93.5,189.75v-2.50M93.5,98.58v2.50M115.5,189.75v-2.50M115.5,98.58v2.50M45.40,117.5h2.50M135.40,117.5h-2.50M45.40,137.5h2.50M135.40,137.5h-2.50M45.40,157.5h2.50M135.40,157.5h-2.50M45.40,176.5h2.50M135.40,176.5h-2.50M148.5,189.75v-2.50M167.5,189.75v-2.50M187.5,189.75v-2.50M206.5,189.75v-2.50M72.5,280.93v-2.50M72.5,189.75v2.50M93.5,280.93v-2.50M93.5,189.75v2.50M115.5,280.93v-2.50M115.5,189.75v2.50M45.40,213.5h2.50M135.40,213.5h-2.50M45.40,243.5h2.50M135.40,243.5h-2.50M45.40,273.5h2.50M135.40,273.5h-2.50M148.5,280.93v-2.50M148.5,189.75v2.50M167.5,280.93v-2.50M167.5,189.75v2.50M187.5,280.93v-2.50M187.5,189.75v2.50M206.5,280.93v-2.50M206.5,189.75v2.50M135.40,213.5h2.50M225.40,213.5h-2.50M135.40,243.5h2.50M225.40,243.5h-2.50M135.40,273.5h2.50M225.40,273.5h-2.50M232.5,280.93v-2.50M262.5,280.93v-2.50M292.5,280.93v-2.50M72.5,372.10v-2.50M72.5,280.92v2.50M93.5,372.10v-2.50M93.5,280.92v2.50M115.5,372.10v-2.50M115.5,280.92v2.50M45.40,289.5h2.50M135.40,289.5h-2.50M45.40,318.5h2.50M135.40,318.5h-2.50M45.40,346.5h2.50M135.40,346.5h-2.50M148.5,372.10v-2.50M148.5,280.92v2.50M167.5,372.10v-2.50M167.5,280.92v2.50M187.5,372.10v-2.50M187.5,280.92v2.50M206.5,372.10v-2.50M206.5,280.92v2.50M135.40,289.5h2.50M225.40,289.5h-2.50M135.40,318.5h2.50M225.40,318.5h-2.50M135.40,346.5h2.50M225.40,346.5h-2.50M232.5,372.10v-2.50M232.5,280.92v2.50M262.5,372.10v-2.50M262.5,280.92v2.50M292.5,372.10v-2.50M292.5,280.92v2.50M225.40,289.5h2.50M315.40,289.5h-2.50M225.40,318.5h2.50M315.40,318.5h-2.50M225.40,346.5h2.50M315.40,346.5h-2.50M340.5,372.10v-2.50M368.5,372.10v-2.50M396.5,372.10v-2.50M72.5,463.27v-2.50M72.5,372.10v2.50M93.5,463.27v-2.50M93.5,372.10v2.50M115.5,463.27v-2.50M115.5,372.10v2.50M45.40,390.5h2.50M135.40,390.5h-2.50M45.40,424.5h2.50M135.40,424.5h-2.50M45.40,458.5h2.50M135.40,458.5h-2.50M148.5,463.27v-2.50M148.5,372.10v2.50M167.5,463.27v-2.50M167.5,372.10v2.50M187.5,463.27v-2.50M187.5,372.10v2.50M206.5,463.27v-2.50M206.5,372.10v2.50M135.40,390.5h2.50M225.40,390.5h-2.50M135.40,424.5h2.50M225.40,424.5h-2.50M135.40,458.5h2.50M225.40,458.5h-2.50M232.5,463.27v-2.50M232.5,372.10v2.50M262.5,463.27v-2.50M262.5,372.10v2.50M292.5,463.27v-2.50M292.5,372.10v2.50M225.40,390.5h2.50M315.40,390.5h-2.50M225.40,424.5h2.50M315.40,424.5h-2.50M225.40,458.5h2.50M315.40,458.5h-2.50M340.5,463.27v-2.50M340.5,372.10v2.50M368.5,463.27v-2.50M368.5,372.10v2.50M396.5,463.27v-2.50M396.5,372.10v2.50M315.40,390.5h2.50M405.40,390.5h-2.50M315.40,424.5h2.50M405.40,424.5h-2.50M315.40,458.5h2.50M405.40,458.5h-2.50M424.5,463.27v-2.50M450.5,463.27v-2.50M477.5,463.27v-2.50M72.5,554.45v-2.50M72.5,463.27v2.50M93.5,554.45v-2.50M93.5,463.27v2.50M115.5,554.45v-2.50M115.5,463.27v2.50M45.40,482.5h2.50M135.40,482.5h-2.50M45.40,509.5h2.50M135.40,509.5h-2.50M45.40,535.5h2.50M135.40,535.5h-2.50M148.5,554.45v-2.50M148.5,463.27v2.50M167.5,554.45v-2.50M167.5,463.27v2.50M187.5,554.45v-2.50M187.5,463.27v2.50M206.5,554.45v-2.50M206.5,463.27v2.50M135.40,482.5h2.50M225.40,482.5h-2.50M135.40,509.5h2.50M225.40,509.5h-2.50M135.40,535.5h2.50M225.40,535.5h-2.50M232.5,554.45v-2.50M232.5,463.27v2.50M262.5,554.45v-2.50M262.5,463.27v2.50M292.5,554.45v-2.50M292.5,463.27v2.50M225.40,482.5h2.50M315.40,482.5h-2.50M225.40,509.5h2.50M315.40,509.5h-2.50M225.40,535.5h2.50M315.40,535.5h-2.50M340.5,554.45v-2.50M340.5,463.27v2.50M368.5,554.45v-2.50M368.5,463.27v2.50M396.5,554.45v-2.50M396.5,463.27v2.50M315.40,482.5h2.50M405.40,482.5h-2.50M315.40,509.5h2.50M405.40,509.5h-2.50M315.40,535.5h2.50M405.40,535.5h-2.50M424.5,554.45v-2.50M424.5,463.27v2.50M450.5,554.45v-2.50M450.5,463.27v2.50M477.5,554.45v-2.50M477.5,463.27v2.50M405.40,482.5h2.50M495.40,482.5h-2.50M405.40,509.5h2.50M495.40,509.5h-2.50M405.40,535.5h2.50M495.40,535.5h-2.50M513.5,554.45v-2.50M540.5,554.45v-2.50M566.5,554.45v-2.50M72.5,645.62v-2.50M72.5,554.45v2.50M93.5,645.62v-2.50M93.5,554.45v2.50M115.5,645.62v-2.50M115.5,554.45v2.50M45.40,572.5h2.50M135.40,572.5h-2.50M45.40,598.5h2.50M135.40,598.5h-2.50M45.40,625.5h2.50M135.40,625.5h-2.50M148.5,645.62v-2.50M148.5,554.45v2.50M167.5,645.62v-2.50M167.5,554.45v2.50M187.5,645.62v-2.50M187.5,554.45v2.50M206.5,645.62v-2.50M206.5,554.45v2.50M135.40,572.5h2.50M225.40,572.5h-2.50M135.40,598.5h2.50M225.40,598.5h-2.50M135.40,625.5h2.50M225.40,625.5h-2.50M232.5,645.62v-2.50M232.5,554.45v2.50M262.5,645.62v-2.50M262.5,554.45v2.50M292.5,645.62v-2.50M292.5,554.45v2.50M225.40,572.5h2.50M315.40,572.5h-2.50M225.40,598.5h2.50M315.40,598.5h-2.50M225.40,625.5h2.50M315.40,625.5h-2.50M340.5,645.62v-2.50M340.5,554.45v2.50M368.5,645.62v-2.50M368.5,554.45v2.50M396.5,645.62v-2.50M396.5,554.45v2.50M315.40,572.5h2.50M405.40,572.5h-2.50M315.40,598.5h2.50M405.40,598.5h-2.50M315.40,625.5h2.50M405.40,625.5h-2.50M424.5,645.62v-2.50M424.5,554.45v2.50M450.5,645.62v-2.50M450.5,554.45v2.50M477.5,645.62v-2.50M477.5,554.45v2.50M405.40,572.5h2.50M495.40,572.5h-2.50M405.40,598.5h2.50M495.40,598.5h-2.50M405.40,625.5h2.50M495.40,625.5h-2.50M513.5,645.62v-2.50M513.5,554.45v2.50M540.5,645.62v-2.50M540.5,554.45v2.50M566.5,645.62v-2.50M566.5,554.45v2.50M495.40,572.5h2.50M585.40,572.5h-2.50M495.40,598.5h2.50M585.40,598.5h-2.50M495.40,625.5h2.50M585.40,625.5h-2.50M605.5,645.62v-2.50M632.5,645.62v-2.50M658.5,645.62v-2.50M72.5,736.80v-2.50M72.5,645.62v2.50M93.5,736.80v-2.50M93.5,645.62v2.50M115.5,736.80v-2.50M115.5,645.62v2.50M45.40,665.5h2.50M135.40,665.5h-2.50M45.40,683.5h2.50M135.40,683.5h-2.50M45.40,700.5h2.50M135.40,700.5h-2.50M45.40,717.5h2.50M135.40,717.5h-2.50M148.5,736.80v-2.50M148.5,645.62v2.50M167.5,736.80v-2.50M167.5,645.62v2.50M187.5,736.80v-2.50M187.5,645.62v2.50M206.5,736.80v-2.50M206.5,645.62v2.50M135.40,665.5h2.50M225.40,665.5h-2.50M135.40,683.5h2.50M225.40,683.5h-2.50M135.40,700.5h2.50M225.40,700.5h-2.50M135.40,717.5h2.50M225.40,717.5h-2.50M232.5,736.80v-2.50M232.5,645.62v2.50M262.5,736.80v-2.50M262.5,645.62v2.50M292.5,736.80v-2.50M292.5,645.62v2.50M225.40,665.5h2.50M315.40,665.5h-2.50M225.40,683.5h2.50M315.40,683.5h-2.50M225.40,700.5h2.50M315.40,700.5h-2.50M225.40,717.5h2.50M315.40,717.5h-2.50M340.5,736.80v-2.50M340.5,645.62v2.50M368.5,736.80v-2.50M368.5,645.62v2.50M396.5,736.80v-2.50M396.5,645.62v2.50M315.40,665.5h2.50M405.40,665.5h-2.50M315.40,683.5h2.50M405.40,683.5h-2.50M315.40,700.5h2.50M405.40,700.5h-2.50M315.40,717.5h2.50M405.40,717.5h-2.50M424.5,736.80v-2.50M424.5,645.62v2.50M450.5,736.80v-2.50M450.5,645.62v2.50M477.5,736.80v-2.50M477.5,645.62v2.50M405.40,665.5h2.50M495.40,665.5h-2.50M405.40,683.5h2.50M495.40,683.5h-2.50M405.40,700.5h2.50M495.40,700.5h-2.50M405.40,717.5h2.50M495.40,717.5h-2.50M513.5,736.80v-2.50M513.5,645.62v2.50M540.5,736.80v-2.50M540.5,645.62v2.50M566.5,736.80v-2.50M566.5,645.62v2.50M495.40,665.5h2.50M585.40,665.5h-2.50M495.40,683.5h2.50M585.40,683.5h-2.50M495.40,700.5h2.50M585.40,700.5h-2.50M495.40,717.5h2.50M585.40,717.5h-2.50M605.5,736.80v-2.50M605.5,645.62v2.50M632.5,736.80v-2.50M632.5,645.62v2.50M658.5,736.80v-2.50M658.5,645.62v2.50M585.40,665.5h2.50M675.40,665.5h-2.50M585.40,683.5h2.50M675.40,683.5h-2.50M585.40,700.5h2.50M675.40,700.5h-2.50M585.40,717.5h2.50M675.40,717.5h-2.50M690.5,736.80v-2.50M711.5,736.80v-2.50M733.5,736.80v-2.50M754.5,736.80v-2.50" stroke="#000" stroke-width="0.75" fill="none"/>
<g font-size="8.3" fill="#000" stroke="#000" stroke-width="0.22">
<text x="72.30" y="745.20" text-anchor="middle">1.0</text>
<text x="93.65" y="745.20" text-anchor="middle">1.2</text>
<text x="115.00" y="745.20" text-anchor="middle">1.4</text>
<text x="148.20" y="745.20" text-anchor="middle">0.11</text>
<text x="167.50" y="745.20" text-anchor="middle">0.12</text>
<text x="187.00" y="745.20" text-anchor="middle">0.13</text>
<text x="206.30" y="745.20" text-anchor="middle">0.14</text>
<text x="232.50" y="745.20" text-anchor="middle">65</text>
<text x="262.45" y="745.20" text-anchor="middle">70</text>
<text x="292.40" y="745.20" text-anchor="middle">75</text>
<text x="340.70" y="745.20" text-anchor="middle">0.6</text>
<text x="368.70" y="745.20" text-anchor="middle">1.0</text>
<text x="396.70" y="745.20" text-anchor="middle">1.4</text>
<text x="424.60" y="745.20" text-anchor="middle">−0.8</text>
<text x="450.90" y="745.20" text-anchor="middle">−0.4</text>
<text x="477.20" y="745.20" text-anchor="middle">0.0</text>
<text x="513.80" y="745.20" text-anchor="middle">−0.8</text>
<text x="540.30" y="745.20" text-anchor="middle">−0.6</text>
<text x="566.80" y="745.20" text-anchor="middle">−0.4</text>
<text x="605.80" y="745.20" text-anchor="middle">−20</text>
<text x="632.10" y="745.20" text-anchor="middle">−10</text>
<text x="658.40" y="745.20" text-anchor="middle">0</text>
<text x="690.70" y="745.20" text-anchor="middle">7.75</text>
<text x="711.90" y="745.20" text-anchor="middle">8.00</text>
<text x="733.00" y="745.20" text-anchor="middle">8.25</text>
<text x="754.10" y="745.20" text-anchor="middle">8.50</text>
<text x="42.50" y="120.40" text-anchor="end">0.14</text>
<text x="42.50" y="140.40" text-anchor="end">0.13</text>
<text x="42.50" y="160.40" text-anchor="end">0.12</text>
<text x="42.50" y="179.40" text-anchor="end">0.11</text>
<text x="42.50" y="216.40" text-anchor="end">75</text>
<text x="42.50" y="246.40" text-anchor="end">70</text>
<text x="42.50" y="276.40" text-anchor="end">65</text>
<text x="42.50" y="292.40" text-anchor="end">1.4</text>
<text x="42.50" y="321.40" text-anchor="end">1.0</text>
<text x="42.50" y="349.40" text-anchor="end">0.6</text>
<text x="42.50" y="393.40" text-anchor="end">0.0</text>
<text x="42.50" y="427.40" text-anchor="end">−0.5</text>
<text x="42.50" y="461.40" text-anchor="end">−1.0</text>
<text x="42.50" y="485.40" text-anchor="end">−0.4</text>
<text x="42.50" y="512.40" text-anchor="end">−0.6</text>
<text x="42.50" y="538.40" text-anchor="end">−0.8</text>
<text x="42.50" y="575.40" text-anchor="end">0</text>
<text x="42.50" y="601.40" text-anchor="end">−10</text>
<text x="42.50" y="628.40" text-anchor="end">−20</text>
<text x="42.50" y="668.40" text-anchor="end">8.4</text>
<text x="42.50" y="686.40" text-anchor="end">8.2</text>
<text x="42.50" y="703.40" text-anchor="end">8.0</text>
<text x="42.50" y="720.40" text-anchor="end">7.8</text>
</g>
<g font-size="13.6" fill="#000">
<text x="90.40" y="761.30" text-anchor="middle"><tspan font-style="italic">A</tspan></text>
<text x="180.40" y="761.30" text-anchor="middle"><tspan font-style="italic">ω</tspan><tspan font-size="9.4" dy="2.2">cdm</tspan></text>
<text x="270.40" y="761.30" text-anchor="middle"><tspan font-style="italic">H</tspan><tspan font-size="9.4" dy="2.2">0</tspan></text>
<text x="360.40" y="761.30" text-anchor="middle"><tspan font-style="italic">b</tspan><tspan font-size="9.4" dy="2.2">1</tspan></text>
<text x="450.40" y="761.30" text-anchor="middle"><tspan font-style="italic">b</tspan><tspan font-size="9.4" dy="2.2">2</tspan></text>
<text x="540.40" y="761.30" text-anchor="middle"><tspan font-style="italic">b</tspan><tspan font-size="9.4" dy="2.2" font-style="italic" font-family="'Liberation Serif',serif">G</tspan><tspan font-size="6.8" dy="1.8">2</tspan></text>
<text x="630.40" y="761.30" text-anchor="middle"><tspan font-style="italic">c</tspan><tspan font-size="9.4" dy="2.2">0</tspan></text>
<text x="720.40" y="761.30" text-anchor="middle">log(<tspan font-style="italic">P</tspan><tspan font-size="9.4" dy="2.2">err</tspan><tspan dy="-2.2">)</tspan></text>
<text transform="translate(21.30,144.16) rotate(-90)" text-anchor="middle"><tspan font-style="italic">ω</tspan><tspan font-size="9.4" dy="2.2">cdm</tspan></text>
<text transform="translate(29.30,235.34) rotate(-90)" text-anchor="middle"><tspan font-style="italic">H</tspan><tspan font-size="9.4" dy="2.2">0</tspan></text>
<text transform="translate(26.80,326.51) rotate(-90)" text-anchor="middle"><tspan font-style="italic">b</tspan><tspan font-size="9.4" dy="2.2">1</tspan></text>
<text transform="translate(21.00,417.69) rotate(-90)" text-anchor="middle"><tspan font-style="italic">b</tspan><tspan font-size="9.4" dy="2.2">2</tspan></text>
<text transform="translate(20.40,508.86) rotate(-90)" text-anchor="middle"><tspan font-style="italic">b</tspan><tspan font-size="9.4" dy="2.2" font-style="italic" font-family="'Liberation Serif',serif">G</tspan><tspan font-size="6.8" dy="1.8">2</tspan></text>
<text transform="translate(22.00,600.04) rotate(-90)" text-anchor="middle"><tspan font-style="italic">c</tspan><tspan font-size="9.4" dy="2.2">0</tspan></text>
<text transform="translate(25.20,691.21) rotate(-90)" text-anchor="middle">log(<tspan font-style="italic">P</tspan><tspan font-size="9.4" dy="2.2">err</tspan><tspan dy="-2.2">)</tspan></text>
</g>
<rect x="546.5" y="7.45" width="219.0" height="53.6" rx="2.2" ry="2.2" fill="#fff" fill-opacity="0.8" stroke="#cccccc" stroke-opacity="0.8" stroke-width="0.9"/>
<rect x="550.8" y="12.45" width="23.4" height="8.3" fill="rgb(65,105,225)" fill-opacity="0.5"/>
<text x="583.4" y="20.60" font-size="12.45" textLength="177.5" lengthAdjust="spacingAndGlyphs" fill="#000">1LPT inference with 1LPT mock</text>
<rect x="550.8" y="29.15" width="23.4" height="8.3" fill="rgb(0,128,0)" fill-opacity="0.5"/>
<text x="583.4" y="37.30" font-size="12.45" textLength="177.5" lengthAdjust="spacingAndGlyphs" fill="#000">1LPT inference with 2LPT mock</text>
<rect x="550.8" y="45.85" width="23.4" height="8.3" fill="rgb(255,165,0)" fill-opacity="0.5"/>
<text x="583.4" y="54.00" font-size="12.45" textLength="177.5" lengthAdjust="spacingAndGlyphs" fill="#000">2LPT inference with 2LPT mock</text>
</svg>
</body></html>
